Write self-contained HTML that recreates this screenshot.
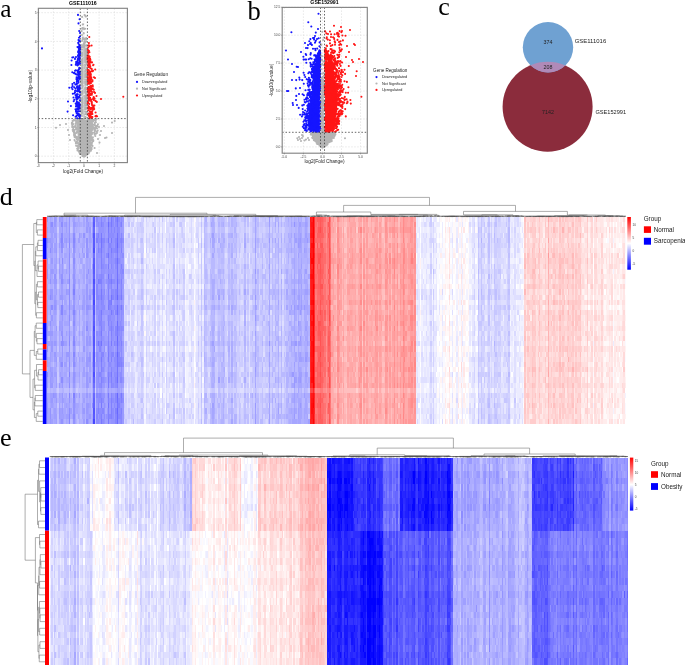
<!DOCTYPE html>
<html><head><meta charset="utf-8"><style>
html,body{margin:0;padding:0;background:#fff;}
svg{display:block;}
</style></head><body>
<svg style="will-change:transform" width="685" height="665" viewBox="0 0 685 665">
<rect width="685" height="665" fill="#fff"/>
<text x="0.2" y="17.1" font-size="25.3" text-anchor="start" fill="#000" font-family="Liberation Serif, serif" >a</text>
<text x="247.6" y="19.6" font-size="26.5" text-anchor="start" fill="#000" font-family="Liberation Serif, serif" >b</text>
<text x="438.2" y="14.7" font-size="26" text-anchor="start" fill="#000" font-family="Liberation Serif, serif" >c</text>
<text x="-0.2" y="204.6" font-size="25.9" text-anchor="start" fill="#000" font-family="Liberation Serif, serif" >d</text>
<text x="0" y="445.9" font-size="26.2" text-anchor="start" fill="#000" font-family="Liberation Serif, serif" >e</text>
<rect x="38.4" y="8.3" width="89.0" height="154.29999999999998" fill="#fff"/>
<line x1="38.150000000000006" y1="8.3" x2="38.150000000000006" y2="162.6" stroke="#d8d8d8" stroke-width="0.6" stroke-dasharray="1.5 1.5"/>
<line x1="53.400000000000006" y1="8.3" x2="53.400000000000006" y2="162.6" stroke="#d8d8d8" stroke-width="0.6" stroke-dasharray="1.5 1.5"/>
<line x1="68.65" y1="8.3" x2="68.65" y2="162.6" stroke="#d8d8d8" stroke-width="0.6" stroke-dasharray="1.5 1.5"/>
<line x1="83.9" y1="8.3" x2="83.9" y2="162.6" stroke="#d8d8d8" stroke-width="0.6" stroke-dasharray="1.5 1.5"/>
<line x1="99.15" y1="8.3" x2="99.15" y2="162.6" stroke="#d8d8d8" stroke-width="0.6" stroke-dasharray="1.5 1.5"/>
<line x1="114.4" y1="8.3" x2="114.4" y2="162.6" stroke="#d8d8d8" stroke-width="0.6" stroke-dasharray="1.5 1.5"/>
<line x1="38.4" y1="156.2" x2="127.4" y2="156.2" stroke="#d8d8d8" stroke-width="0.6" stroke-dasharray="1.5 1.5"/>
<line x1="38.4" y1="127.49999999999999" x2="127.4" y2="127.49999999999999" stroke="#d8d8d8" stroke-width="0.6" stroke-dasharray="1.5 1.5"/>
<line x1="38.4" y1="98.79999999999998" x2="127.4" y2="98.79999999999998" stroke="#d8d8d8" stroke-width="0.6" stroke-dasharray="1.5 1.5"/>
<line x1="38.4" y1="70.1" x2="127.4" y2="70.1" stroke="#d8d8d8" stroke-width="0.6" stroke-dasharray="1.5 1.5"/>
<line x1="38.4" y1="41.39999999999999" x2="127.4" y2="41.39999999999999" stroke="#d8d8d8" stroke-width="0.6" stroke-dasharray="1.5 1.5"/>
<line x1="38.4" y1="12.699999999999989" x2="127.4" y2="12.699999999999989" stroke="#d8d8d8" stroke-width="0.6" stroke-dasharray="1.5 1.5"/>
<polygon points="75.6,119.5 75.8,120.5 76.0,121.5 76.1,122.5 76.3,123.5 76.4,124.5 76.5,125.5 76.7,126.5 76.8,127.5 76.8,128.5 77.0,129.5 77.1,130.5 77.2,131.5 77.3,132.5 77.5,133.5 77.6,134.5 77.7,135.5 77.8,136.5 78.0,137.5 78.1,138.5 78.2,139.5 78.4,140.5 78.6,141.5 78.7,142.5 78.9,143.5 79.1,144.5 79.2,145.5 79.4,146.5 79.6,147.5 79.7,148.5 79.9,149.5 80.2,150.5 80.8,151.5 81.2,152.5 81.8,153.5 82.2,154.5 83.0,155.5 84.9,155.5 85.8,154.5 86.4,153.5 87.0,152.5 87.6,151.5 88.2,150.5 88.6,149.5 88.8,148.5 89.0,147.5 89.2,146.5 89.4,145.5 89.6,144.5 89.8,143.5 90.0,142.5 90.2,141.5 90.4,140.5 90.6,139.5 90.8,138.5 91.1,137.5 91.3,136.5 91.5,135.5 91.8,134.5 92.0,133.5 92.2,132.5 92.5,131.5 92.7,130.5 92.8,129.5 92.9,128.5 92.9,127.5 92.9,126.5 93.0,125.5 93.0,124.5 92.9,123.5 92.8,122.5 92.7,121.5 92.6,120.5 92.6,119.5" fill="#b4b4b4"/>
<path d="M78.8 131.1h0M78.8 143.5h0M82.5 139.2h0M84.4 121.0h0M82.9 120.2h0M76.6 121.5h0M89.9 134.9h0M79.4 123.5h0M90.3 142.6h0M82.9 140.7h0M82.5 155.9h0M82.3 151.4h0M77.6 124.3h0M90.4 130.5h0M86.3 125.7h0M82.7 143.1h0M78.2 139.6h0M78.8 121.1h0M83.4 144.7h0M86.4 130.7h0M81.5 136.0h0M86.4 149.0h0M86.2 128.1h0M90.0 138.8h0M81.8 146.5h0M82.9 156.0h0M88.8 134.7h0M84.5 124.6h0M87.4 120.3h0M85.1 147.9h0M82.6 152.1h0M85.5 145.2h0M83.8 140.8h0M88.5 150.7h0M87.1 136.8h0M88.1 121.1h0M90.7 143.4h0M82.0 150.0h0M87.5 133.5h0M83.4 119.7h0M77.7 125.2h0M89.3 121.0h0M79.9 123.7h0M90.8 133.7h0M83.4 121.9h0M89.9 139.7h0M88.1 149.9h0M83.4 129.4h0M91.3 132.4h0M82.4 155.2h0M79.8 125.5h0M84.6 127.7h0M81.1 141.2h0M82.5 119.0h0M85.9 132.8h0M84.9 155.0h0M86.2 138.4h0M78.7 144.5h0M86.1 153.0h0M86.6 152.0h0M83.1 133.7h0M87.0 122.7h0M76.2 121.2h0M78.6 126.7h0M77.1 131.7h0M77.4 118.8h0M81.9 122.7h0M91.2 119.8h0M79.7 142.1h0M82.1 128.4h0M78.4 132.6h0M88.8 151.1h0M84.3 136.5h0M77.0 122.1h0M80.8 131.8h0M80.8 150.3h0M92.7 119.7h0M79.3 138.9h0M77.6 139.4h0M91.4 138.9h0M85.9 151.6h0M82.5 128.7h0M89.8 125.1h0M88.5 139.0h0M80.0 131.3h0M89.4 149.6h0M87.0 151.2h0M86.8 149.9h0M85.1 127.4h0M76.8 132.3h0M80.0 119.9h0M88.3 128.6h0M83.7 155.1h0M86.8 154.4h0M83.3 155.1h0M79.8 127.2h0M79.4 126.3h0M89.7 142.5h0M84.0 150.7h0M88.2 143.6h0M87.4 122.0h0M86.0 153.4h0M84.0 147.3h0M90.1 125.6h0M90.0 131.4h0M83.6 155.7h0M92.0 134.1h0M80.4 146.3h0M78.1 123.6h0M86.2 153.2h0M90.7 124.4h0M84.4 156.1h0M85.6 132.1h0M75.6 123.8h0M84.5 155.7h0M90.8 138.8h0M90.5 135.3h0M81.3 150.2h0M81.1 128.4h0M86.4 127.9h0M83.4 128.7h0M92.2 123.8h0M84.1 132.2h0M90.0 141.0h0M91.4 134.8h0M85.0 137.9h0M77.4 138.7h0M79.6 135.5h0M89.7 118.9h0M84.3 125.3h0M85.0 146.4h0M85.2 131.2h0M88.5 139.9h0M85.6 122.8h0M80.8 128.2h0M84.4 148.1h0M88.1 140.1h0M83.7 153.5h0M84.4 142.1h0M87.3 138.3h0M85.1 136.0h0M91.3 137.0h0M88.9 145.4h0M82.7 154.6h0M90.7 140.1h0M80.7 150.7h0M83.5 123.4h0M79.5 121.6h0M87.5 121.6h0M88.6 148.6h0M88.7 124.7h0M79.8 143.9h0M87.8 152.3h0M93.0 127.1h0M84.5 133.9h0M84.5 156.4h0M83.5 124.9h0M82.1 138.4h0M81.5 126.2h0M78.6 146.2h0M83.6 139.9h0M80.9 119.5h0M84.5 142.5h0M93.4 121.2h0M89.4 148.8h0M80.1 122.8h0M89.5 120.3h0M78.2 129.1h0M91.3 134.8h0M81.7 149.9h0M92.5 124.5h0M87.2 140.5h0M76.1 122.2h0M83.4 145.0h0M92.6 121.6h0M88.3 142.9h0M91.1 122.0h0M91.1 121.3h0M82.1 136.0h0M90.5 139.8h0M78.2 129.0h0M80.6 138.8h0M78.2 123.0h0M78.6 120.7h0M81.4 130.7h0M81.9 147.7h0M79.7 137.8h0M76.6 132.0h0M76.1 128.3h0M84.9 146.7h0M84.3 126.0h0M81.8 154.3h0M83.5 149.9h0M89.6 137.6h0M84.8 133.7h0M90.3 144.9h0M90.5 131.8h0M86.0 145.7h0M82.2 134.2h0M77.3 120.9h0M88.9 121.5h0M78.8 128.5h0M90.8 122.0h0M85.6 151.9h0M80.3 129.5h0M84.2 129.9h0M83.7 124.8h0M93.2 128.8h0M84.1 155.8h0M93.3 128.1h0M82.3 130.6h0M81.8 118.8h0M84.6 136.8h0M84.9 126.4h0M79.6 119.0h0M82.5 122.2h0M75.2 120.4h0M80.2 130.4h0M84.8 141.1h0M86.1 147.3h0M88.9 146.0h0M81.9 133.6h0M83.1 156.2h0M86.0 146.3h0M90.5 120.5h0M85.1 152.7h0M88.0 146.7h0M85.1 124.1h0M89.5 138.0h0M87.8 149.4h0M89.8 141.0h0M86.7 144.8h0M76.3 127.5h0M82.0 123.9h0M90.8 122.8h0M86.2 140.0h0M86.8 142.6h0M77.0 137.4h0M87.0 149.1h0M85.0 137.9h0M78.8 143.9h0M81.4 146.8h0M80.0 121.6h0M80.8 146.5h0M89.8 146.9h0M82.8 137.6h0M87.4 137.0h0M85.6 147.9h0M78.9 143.2h0M80.1 124.4h0M82.0 147.0h0M77.5 140.4h0M79.9 121.1h0M86.8 144.3h0M81.7 144.5h0M84.0 138.4h0M78.7 136.5h0M81.9 152.8h0M85.2 156.0h0M83.3 119.5h0M89.2 150.0h0M81.0 135.9h0M92.9 126.8h0M86.3 126.8h0M85.1 124.2h0M82.2 155.0h0M84.3 150.0h0M85.7 152.5h0M92.0 127.6h0M77.3 137.3h0M83.9 118.9h0M81.5 135.9h0M81.8 124.1h0M90.8 130.8h0M88.8 118.9h0M80.5 150.7h0M85.3 154.0h0M82.6 153.1h0M83.0 132.9h0M84.0 156.8h0M83.6 132.5h0M76.8 129.3h0M90.7 122.7h0M92.7 129.7h0M80.6 128.3h0M79.9 138.2h0M92.4 133.0h0M86.6 152.4h0M89.8 142.8h0M84.3 154.5h0M78.9 146.1h0M83.7 146.6h0M85.9 147.4h0M76.8 129.7h0M81.8 154.0h0M82.2 136.7h0M89.1 130.1h0M83.2 155.9h0M81.8 143.7h0M82.9 140.0h0M72.4 124.9h0M75.3 126.3h0M74.5 136.8h0M79.8 151.6h0M74.0 135.1h0M72.3 125.8h0M73.1 131.2h0M73.1 127.5h0M76.9 139.4h0M77.0 145.9h0M75.0 133.8h0M74.2 132.4h0M72.5 121.0h0M79.9 153.8h0M75.8 137.0h0M77.6 150.0h0M73.2 128.6h0M74.6 133.3h0M80.5 153.3h0M77.5 150.4h0M73.8 120.0h0M78.8 151.2h0M74.5 140.1h0M76.2 133.0h0M78.5 148.7h0M80.1 154.0h0M72.2 122.7h0M76.1 137.7h0M80.1 152.9h0M77.1 142.2h0M75.3 135.4h0M74.0 120.2h0M75.4 127.2h0M75.9 142.2h0M72.6 123.4h0M76.8 141.8h0M71.9 122.9h0M75.8 137.8h0M73.9 132.8h0M74.7 140.6h0M74.1 129.7h0M80.3 153.5h0M78.5 150.8h0M73.0 127.3h0M80.4 153.6h0M72.7 129.9h0M75.9 136.8h0M74.2 134.0h0M77.6 143.0h0M72.2 127.0h0M74.2 131.0h0M75.9 143.5h0M78.1 147.7h0M74.6 137.1h0M80.1 153.9h0M77.2 148.5h0M74.8 126.8h0M75.8 129.5h0M74.4 136.7h0M73.6 126.9h0M77.7 142.9h0M73.2 124.1h0M75.6 126.5h0M71.9 123.9h0M72.9 121.0h0M79.5 151.3h0M78.2 145.3h0M79.3 152.5h0M75.3 125.5h0M76.1 145.8h0M92.0 142.9h0M94.6 132.3h0M94.0 124.9h0M95.3 128.9h0M87.6 153.4h0M87.5 153.7h0M96.7 131.7h0M90.7 148.6h0M95.6 120.6h0M96.9 132.3h0M95.6 125.8h0M88.8 151.3h0M96.0 133.7h0M90.3 146.6h0M93.9 120.1h0M88.6 152.1h0M92.5 145.9h0M94.7 131.1h0M88.2 153.5h0M97.0 128.3h0M94.9 130.3h0M96.6 118.9h0M89.3 152.0h0M87.8 152.9h0M96.0 127.3h0M88.7 153.4h0M94.1 132.8h0M94.6 134.4h0M88.3 152.4h0M91.6 147.9h0M91.4 148.6h0M92.3 140.8h0M95.2 130.4h0M90.3 147.1h0M97.3 125.9h0M94.2 127.8h0M95.9 120.0h0M97.7 130.6h0M90.9 150.8h0M94.2 128.4h0M95.9 122.3h0M91.7 144.5h0M95.7 127.3h0M93.2 141.3h0M92.4 145.9h0M91.3 142.9h0M90.3 149.2h0M92.8 139.3h0M90.9 145.5h0M95.0 127.8h0M97.9 124.4h0M92.6 139.7h0M96.9 133.1h0M92.9 137.2h0M91.3 148.1h0M86.8 154.7h0M95.3 136.0h0M91.6 149.2h0M94.8 120.3h0M94.7 123.1h0M87.8 154.0h0M88.6 152.5h0M90.3 150.2h0M97.2 128.2h0M87.8 153.0h0M93.3 140.4h0M95.6 126.7h0M94.8 123.9h0M96.5 128.0h0M91.6 142.4h0M112.0 122.6h0M114.7 121.0h0M112.0 133.0h0M106.5 137.5h0M105.0 138.0h0M99.5 142.6h0M94.6 148.0h0M104.0 126.0h0M56.0 127.7h0M60.0 125.0h0M66.0 124.0h0M101.0 131.0h0M97.0 153.0h0M99.0 127.0h0M100.0 135.0h0M68.0 130.0h0M69.0 135.0h0M70.0 140.0h0M98.0 139.0h0M82.7 45.8h0M81.8 94.9h0M81.9 68.0h0M84.2 103.5h0M81.3 49.7h0M84.2 74.1h0M81.2 92.0h0M85.1 57.0h0M82.4 75.2h0M86.8 67.6h0M84.3 68.0h0M83.3 71.3h0M87.1 108.6h0M81.9 71.8h0M81.9 98.6h0M86.5 45.4h0M85.9 76.2h0M86.3 74.9h0M81.7 78.9h0M84.2 46.1h0M86.5 92.2h0M84.6 51.6h0M83.9 72.3h0M82.4 55.7h0M86.6 83.4h0M83.8 53.0h0M86.9 104.2h0M81.4 59.5h0M86.9 114.4h0M80.9 80.5h0M83.1 113.2h0M84.6 111.6h0M81.6 105.7h0M82.0 102.8h0M86.1 74.8h0M81.8 106.0h0M83.2 61.1h0M83.1 83.1h0M82.2 54.1h0M86.4 98.4h0M84.3 48.0h0M80.8 100.7h0M81.4 106.7h0M84.2 89.1h0M82.6 91.2h0M84.4 75.9h0M84.9 76.3h0M83.4 77.9h0M84.6 46.7h0M82.1 81.0h0M85.7 101.2h0M81.8 78.7h0M81.3 79.8h0M83.4 54.5h0M83.5 51.8h0M80.9 82.5h0M81.1 91.8h0M85.7 99.0h0M81.0 82.6h0M83.1 82.1h0M81.5 115.0h0M87.1 108.1h0M85.9 98.9h0M87.0 59.3h0M86.8 81.2h0M81.7 112.4h0M86.6 103.0h0M82.9 49.8h0M81.6 100.7h0M82.4 111.0h0M81.5 105.0h0M86.6 82.0h0M82.3 60.3h0M82.7 82.2h0M81.8 47.7h0M86.7 56.9h0M86.4 95.0h0M85.7 57.4h0M84.0 53.5h0M82.9 91.8h0M84.2 109.2h0M86.3 87.7h0M87.1 52.7h0M83.2 91.4h0M82.3 103.7h0M84.4 117.9h0M85.6 71.5h0M81.7 77.6h0M80.9 99.7h0M82.2 105.3h0M87.0 92.0h0M84.9 88.1h0M80.6 68.0h0M81.6 47.5h0M83.4 90.3h0M86.4 82.7h0M82.1 54.7h0M80.7 93.1h0M82.9 45.2h0M82.9 52.8h0M84.4 61.5h0M81.9 88.4h0M83.7 90.9h0M86.7 54.9h0M81.6 62.9h0M84.7 52.1h0M85.7 109.1h0M82.3 74.6h0M84.8 45.8h0M82.9 86.4h0M83.5 92.5h0M85.4 114.0h0M86.5 63.3h0M84.1 48.2h0M82.1 74.9h0M85.7 49.3h0M84.2 45.9h0M81.5 114.3h0M84.6 59.7h0M84.8 82.3h0M81.7 104.9h0M82.6 67.8h0M86.4 48.6h0M85.3 102.6h0M86.1 45.5h0M83.6 99.8h0M83.5 99.6h0M81.3 61.6h0M80.9 62.1h0M85.5 69.7h0M86.1 96.2h0M82.3 97.4h0M83.4 85.8h0M84.0 103.0h0M84.8 64.5h0M82.0 116.0h0M80.7 109.8h0M82.1 64.2h0M86.7 99.7h0M82.7 99.9h0M82.7 109.8h0M86.5 62.6h0M85.1 91.4h0M87.0 94.0h0M86.1 79.6h0M86.2 96.3h0M85.3 77.2h0M82.6 87.0h0M84.6 60.6h0M86.5 50.7h0M80.8 55.6h0M86.6 52.9h0M81.5 70.4h0M80.9 47.1h0M84.7 96.0h0M85.4 96.3h0M84.4 49.8h0M85.9 71.7h0M86.4 105.3h0M86.2 49.9h0M86.7 112.3h0M81.9 52.9h0M80.8 53.2h0M85.9 107.4h0M86.0 91.7h0M82.5 91.5h0M81.2 52.4h0M81.9 100.7h0M83.4 68.5h0M82.3 46.5h0M85.3 65.8h0M82.7 72.1h0M83.9 116.0h0M84.6 107.7h0M83.3 47.3h0M85.6 77.1h0M85.2 70.5h0M82.0 84.6h0M81.2 108.5h0M81.7 105.3h0M81.9 45.1h0M87.0 101.1h0M83.8 45.3h0M85.8 81.2h0M83.8 58.6h0M86.0 70.6h0M86.7 64.2h0M82.0 65.9h0M83.8 96.5h0M84.7 53.1h0M85.7 51.0h0M85.7 96.3h0M82.9 91.2h0M83.2 74.5h0M81.2 110.5h0M80.8 110.4h0M82.3 60.2h0M83.9 111.3h0M86.3 72.9h0M83.6 62.2h0M85.5 84.1h0M84.8 100.4h0M82.7 70.6h0M86.1 56.4h0M85.4 93.7h0M83.5 57.5h0M84.4 101.9h0M83.6 54.3h0M82.1 110.1h0M82.6 59.1h0M86.1 96.8h0M81.6 56.4h0M82.7 63.2h0M81.6 83.4h0M81.8 69.1h0M85.3 116.8h0M86.9 52.5h0M83.1 52.5h0M85.8 117.4h0M83.4 99.0h0M84.7 59.4h0M81.9 52.9h0M80.8 73.6h0M85.7 74.4h0M83.9 96.0h0M83.6 91.5h0M84.5 55.4h0M85.4 74.8h0M83.4 111.8h0M85.5 87.2h0M82.1 76.0h0M86.3 98.2h0M85.2 102.0h0M85.0 107.7h0M83.6 92.2h0M84.7 68.0h0M83.3 52.2h0M85.2 102.6h0M82.2 91.3h0M83.6 76.2h0M83.3 90.7h0M86.6 94.7h0M84.9 58.5h0M83.1 102.3h0M86.9 81.1h0M84.1 47.8h0M85.7 56.8h0M84.0 114.2h0M84.3 52.4h0M85.3 84.8h0M84.8 82.7h0M84.0 106.0h0M86.8 75.2h0M85.0 60.5h0M85.6 73.9h0M87.0 54.0h0M81.0 71.2h0M83.2 65.2h0M83.3 46.0h0M85.1 76.0h0M82.3 70.9h0M85.4 61.5h0M84.0 114.2h0M85.8 61.1h0M82.0 73.8h0M85.6 54.5h0M84.7 104.6h0M84.3 79.5h0M86.9 61.6h0M84.8 71.0h0M85.9 105.3h0M82.5 79.5h0M81.4 85.4h0M82.9 106.4h0M82.3 107.6h0M82.2 72.7h0M81.8 76.4h0M85.3 45.2h0M82.2 65.7h0M83.7 67.2h0M84.7 76.5h0M83.0 93.5h0M86.2 113.4h0M86.0 49.2h0M85.7 111.7h0M86.0 55.3h0M80.7 91.6h0M86.8 45.8h0M82.2 93.3h0M81.5 52.5h0M85.6 62.2h0M81.6 70.5h0M85.7 111.5h0M86.4 57.4h0M85.7 89.8h0M86.4 94.2h0M86.1 103.0h0M85.1 59.5h0M85.4 84.1h0M86.3 77.3h0M82.3 85.9h0M81.5 62.2h0M81.0 81.3h0M81.5 79.4h0M83.8 81.2h0M86.2 84.7h0M86.1 45.5h0M84.3 79.4h0M86.1 94.0h0M83.3 72.6h0M81.1 115.7h0M84.7 91.9h0M84.6 47.1h0M86.7 95.2h0M87.0 69.3h0M83.8 82.6h0M80.8 111.1h0M84.7 97.9h0M86.2 69.9h0M83.7 71.9h0M85.6 83.7h0M83.4 60.5h0M84.2 76.1h0M82.5 105.8h0M83.2 105.9h0M82.4 82.1h0M86.9 82.3h0M85.7 93.2h0M82.7 69.4h0M84.4 67.0h0M85.4 38.8h0M85.1 28.7h0M84.2 43.1h0M83.0 28.8h0M82.4 28.1h0M84.5 43.7h0M85.4 39.2h0M84.6 43.5h0M84.6 38.5h0M84.5 39.8h0M82.6 39.6h0M83.8 39.3h0M82.0 41.0h0M81.7 31.1h0M86.1 41.2h0M83.3 39.1h0M85.4 42.0h0M82.8 37.6h0M83.6 33.1h0M83.7 33.4h0M86.2 38.9h0M84.3 28.9h0M82.1 28.7h0M84.4 41.8h0M83.7 43.6h0M83.4 28.2h0M86.2 38.1h0M83.9 44.7h0M82.0 35.0h0M82.6 39.0h0M82.1 17.0h0M84.7 15.1h0M85.9 16.6h0M85.5 16.1h0M82.1 16.7h0M83.0 24.4h0M82.7 24.5h0M85.1 15.7h0" stroke="#b4b4b4" stroke-width="2.1" stroke-linecap="round" fill="none" opacity="1"/>
<line x1="83.8" y1="48" x2="83.8" y2="118" stroke="#dcdcdc" stroke-width="0.9" opacity="0.8"/>
<path d="M79.5 97.4h0M76.4 98.6h0M79.0 91.1h0M79.9 78.8h0M80.0 63.6h0M76.1 97.6h0M79.7 46.1h0M76.2 105.0h0M79.3 67.8h0M79.8 57.2h0M77.0 80.7h0M78.8 72.0h0M79.1 77.2h0M79.7 55.6h0M79.0 71.7h0M77.9 91.2h0M79.4 73.3h0M79.1 114.4h0M77.6 86.6h0M80.1 49.5h0M79.4 96.6h0M78.9 69.4h0M79.3 116.7h0M77.6 89.1h0M79.7 76.5h0M79.1 72.6h0M79.7 89.2h0M77.1 104.3h0M79.3 45.1h0M78.8 76.0h0M79.6 104.9h0M79.9 48.1h0M79.5 104.6h0M77.5 87.0h0M79.3 107.5h0M79.8 95.3h0M77.4 70.5h0M79.4 85.6h0M79.5 59.7h0M76.7 113.4h0M78.9 89.5h0M77.5 79.2h0M79.4 63.7h0M77.8 103.1h0M79.8 51.4h0M76.9 101.7h0M79.7 87.5h0M78.0 110.0h0M78.7 80.0h0M78.1 58.9h0M79.4 58.3h0M78.8 71.6h0M78.6 74.5h0M78.0 55.9h0M77.2 118.2h0M79.4 52.8h0M76.6 102.8h0M77.7 88.8h0M76.7 83.1h0M80.1 47.5h0M77.9 108.6h0M77.5 86.6h0M77.7 102.2h0M79.1 114.5h0M79.9 105.1h0M77.5 63.6h0M78.0 59.8h0M78.5 51.1h0M79.6 85.9h0M79.9 78.6h0M76.0 111.8h0M77.9 88.9h0M80.0 53.8h0M78.9 63.9h0M79.9 92.0h0M77.8 94.2h0M77.4 77.9h0M80.1 115.9h0M77.6 61.3h0M78.3 63.8h0M79.7 111.3h0M76.0 106.5h0M78.9 102.7h0M80.0 92.5h0M78.8 49.1h0M79.9 100.4h0M77.4 94.7h0M79.2 88.4h0M78.8 52.7h0M77.7 63.9h0M77.3 80.3h0M77.8 62.5h0M76.3 94.7h0M76.9 97.6h0M80.0 47.6h0M79.9 61.2h0M79.6 108.6h0M78.9 55.3h0M80.0 52.1h0M78.5 106.8h0M78.0 78.2h0M77.9 105.4h0M76.9 91.1h0M77.6 61.3h0M78.3 97.4h0M79.8 55.6h0M78.5 64.6h0M78.5 56.4h0M77.3 106.6h0M78.9 57.3h0M79.8 68.3h0M80.1 53.4h0M79.9 49.2h0M77.1 94.1h0M77.7 80.0h0M77.9 63.9h0M80.1 71.7h0M79.8 118.3h0M78.8 52.2h0M76.0 110.8h0M77.3 98.3h0M75.6 116.8h0M77.3 104.2h0M78.0 55.3h0M78.1 106.1h0M78.7 58.6h0M76.6 111.9h0M77.0 86.9h0M79.5 58.2h0M76.9 97.2h0M78.6 50.8h0M78.2 89.7h0M77.9 65.1h0M79.0 90.0h0M78.3 104.6h0M77.7 59.8h0M77.7 98.8h0M76.3 98.0h0M77.3 104.5h0M79.5 106.8h0M76.8 81.2h0M77.8 111.8h0M76.9 109.0h0M79.7 58.7h0M77.6 71.9h0M78.9 72.2h0M79.6 45.3h0M78.5 77.7h0M79.5 53.9h0M79.5 104.9h0M79.3 68.6h0M79.3 73.0h0M79.9 49.5h0M77.8 115.0h0M78.5 82.7h0M76.7 84.4h0M76.6 116.0h0M77.9 58.4h0M79.6 63.4h0M78.9 47.2h0M76.9 96.3h0M79.6 46.3h0M78.4 87.3h0M76.5 96.6h0M78.9 108.8h0M78.8 48.3h0M78.4 81.2h0M77.6 65.5h0M77.4 74.8h0M79.6 88.4h0M79.2 55.8h0M76.7 99.8h0M79.8 105.6h0M78.3 73.5h0M78.1 106.6h0M79.9 74.0h0M77.4 102.0h0M78.3 62.6h0M80.0 77.0h0M79.7 104.0h0M79.5 104.8h0M79.4 48.9h0M79.8 115.3h0M78.5 63.3h0M77.7 91.4h0M76.9 84.0h0M78.5 76.8h0M79.0 46.5h0M79.1 116.2h0M78.5 113.8h0M70.9 106.0h0M73.4 57.2h0M75.7 95.4h0M72.3 72.2h0M72.5 89.2h0M75.1 70.8h0M69.3 87.8h0M73.9 73.1h0M76.0 74.2h0M75.0 92.4h0M73.1 115.2h0M76.4 84.4h0M75.5 88.6h0M76.1 63.3h0M74.8 73.5h0M75.7 70.3h0M71.6 60.5h0M74.5 93.4h0M75.1 90.9h0M74.3 99.8h0M72.4 84.0h0M75.3 84.5h0M76.9 74.6h0M74.2 87.3h0M76.4 79.1h0M76.6 77.2h0M75.5 109.3h0M72.5 86.0h0M74.4 72.9h0M75.7 103.6h0M71.4 65.0h0M74.1 82.7h0M75.0 58.9h0M73.7 101.3h0M76.2 61.9h0M68.0 101.5h0M75.8 64.7h0M73.5 97.5h0M72.8 93.8h0M71.7 87.6h0M79.6 40.6h0M79.1 40.9h0M79.5 41.3h0M78.4 43.5h0M78.2 42.8h0M79.3 41.0h0M80.0 36.5h0M79.0 37.7h0M79.9 41.3h0M78.0 14.9h0M79.6 19.3h0M78.5 23.4h0M80.0 33.0h0M79.2 31.0h0M79.0 41.0h0M78.5 40.0h0M79.6 45.0h0M77.5 47.0h0M42.0 48.4h0M67.6 111.6h0M78.0 52.0h0M80.0 55.0h0M76.0 57.0h0M72.3 57.5h0M78.7 54.0h0" stroke="#1515ff" stroke-width="2.1" stroke-linecap="round" fill="none" opacity="1"/>
<path d="M89.3 93.5h0M89.5 83.7h0M89.0 100.8h0M89.8 79.8h0M88.8 79.4h0M92.0 104.9h0M89.5 86.7h0M88.6 66.7h0M89.4 64.2h0M88.0 91.9h0M89.4 113.3h0M92.1 108.5h0M88.8 115.8h0M91.2 82.0h0M87.7 55.7h0M89.8 90.8h0M91.9 113.3h0M91.9 89.1h0M89.8 87.8h0M89.5 98.4h0M89.9 77.7h0M91.2 77.3h0M90.1 97.9h0M88.7 61.3h0M89.8 80.4h0M91.5 91.4h0M90.4 116.1h0M90.1 82.9h0M89.6 118.2h0M91.1 88.6h0M88.6 65.8h0M92.4 117.0h0M88.1 87.5h0M91.4 111.7h0M92.8 107.0h0M89.9 111.3h0M88.5 64.9h0M89.8 87.4h0M88.2 66.9h0M90.4 94.9h0M91.3 77.4h0M87.8 95.4h0M90.7 81.1h0M90.1 74.4h0M88.4 55.2h0M90.7 108.4h0M88.5 97.4h0M89.9 86.6h0M89.9 71.9h0M91.9 88.7h0M89.4 91.4h0M88.1 62.7h0M88.1 103.2h0M88.1 61.3h0M91.1 88.1h0M91.3 93.9h0M87.6 58.9h0M89.2 103.9h0M89.3 100.4h0M88.4 65.7h0M90.3 61.3h0M89.2 91.9h0M89.2 83.5h0M90.1 58.5h0M91.9 91.9h0M90.1 82.9h0M87.8 70.8h0M92.4 114.0h0M90.9 75.0h0M89.2 106.7h0M92.0 93.2h0M91.6 86.4h0M88.9 70.4h0M88.7 100.6h0M90.8 74.6h0M90.9 85.7h0M88.2 70.4h0M88.3 77.7h0M89.3 116.6h0M88.1 90.6h0M89.3 88.8h0M87.9 80.6h0M90.1 62.8h0M88.5 77.3h0M88.5 67.1h0M87.7 70.0h0M89.2 97.1h0M89.8 64.9h0M88.4 60.9h0M88.3 107.9h0M91.0 83.1h0M88.4 106.0h0M90.3 77.4h0M91.3 78.9h0M90.7 68.2h0M88.6 87.0h0M88.1 83.7h0M88.9 99.8h0M90.9 112.0h0M88.5 78.3h0M88.6 93.6h0M88.3 110.3h0M89.9 87.5h0M90.3 72.1h0M90.1 79.4h0M89.0 91.0h0M87.9 79.7h0M90.3 66.2h0M90.0 75.4h0M89.3 61.9h0M89.5 77.9h0M87.8 73.8h0M88.4 74.7h0M89.8 63.0h0M89.0 72.9h0M91.9 112.6h0M92.3 111.0h0M88.4 63.4h0M89.4 56.9h0M89.3 97.1h0M90.2 81.2h0M88.8 99.3h0M89.5 108.7h0M88.4 94.9h0M90.4 62.3h0M91.2 101.5h0M87.7 57.6h0M88.2 65.3h0M89.0 74.2h0M88.4 57.5h0M88.4 95.5h0M90.6 108.2h0M88.9 100.4h0M90.4 82.6h0M87.6 77.1h0M91.7 107.9h0M87.8 73.2h0M90.9 109.2h0M88.3 58.0h0M90.0 62.0h0M90.6 68.3h0M88.0 102.5h0M89.5 99.0h0M91.8 102.4h0M87.9 72.8h0M90.0 115.0h0M91.5 114.0h0M91.7 101.8h0M89.7 94.8h0M89.6 58.4h0M89.7 82.2h0M88.3 113.8h0M87.8 103.3h0M91.5 99.6h0M89.5 71.6h0M91.3 116.5h0M88.7 89.5h0M88.6 58.8h0M88.4 81.1h0M88.1 74.7h0M90.9 99.8h0M88.4 70.1h0M89.5 87.7h0M89.6 114.3h0M90.8 74.0h0M89.3 64.0h0M90.6 76.1h0M90.9 89.8h0M89.7 65.7h0M89.7 93.0h0M91.8 103.6h0M88.5 62.3h0M88.4 77.9h0M88.4 58.8h0M89.9 67.5h0M88.1 83.4h0M89.3 75.6h0M88.2 78.0h0M87.6 59.6h0M92.0 117.9h0M89.7 60.3h0M90.9 117.1h0M89.1 61.9h0M88.4 82.5h0M87.6 89.4h0M91.2 113.3h0M91.9 94.8h0M88.8 96.4h0M88.1 70.6h0M89.7 56.8h0M93.4 108.7h0M93.7 97.0h0M94.2 109.1h0M93.4 105.5h0M93.0 108.2h0M93.0 70.7h0M93.8 107.9h0M94.0 92.0h0M92.4 81.4h0M92.0 62.4h0M95.0 92.9h0M95.5 100.9h0M95.6 112.5h0M92.8 89.0h0M91.8 69.1h0M93.5 64.7h0M93.7 99.9h0M95.4 116.2h0M93.1 65.2h0M91.6 71.1h0M96.8 101.9h0M93.1 109.6h0M94.4 105.6h0M93.2 98.4h0M93.8 89.8h0M92.7 85.4h0M94.6 98.6h0M95.2 69.5h0M94.0 77.2h0M92.5 80.2h0M92.7 71.3h0M92.8 86.7h0M97.1 116.3h0M95.8 116.5h0M96.3 115.8h0M88.9 43.1h0M88.2 53.0h0M89.4 52.3h0M88.9 50.7h0M88.3 47.4h0M87.8 57.9h0M88.9 45.4h0M87.9 50.1h0M89.3 37.0h0M89.5 46.0h0M91.6 45.5h0M88.5 51.0h0M89.0 58.0h0M90.5 60.0h0M88.2 56.0h0M101.0 99.0h0M123.3 96.7h0M95.0 78.0h0M96.5 96.0h0" stroke="#ff1515" stroke-width="2.1" stroke-linecap="round" fill="none" opacity="1"/>
<line x1="80.3" y1="8.3" x2="80.3" y2="162.6" stroke="#333" stroke-width="0.75" stroke-dasharray="1.5 1.8"/>
<line x1="87.4" y1="8.3" x2="87.4" y2="162.6" stroke="#333" stroke-width="0.75" stroke-dasharray="1.5 1.8"/>
<line x1="38.4" y1="118.6" x2="127.4" y2="118.6" stroke="#333" stroke-width="0.75" stroke-dasharray="1.5 1.8"/>
<rect x="38.4" y="8.3" width="89.0" height="154.29999999999998" fill="none" stroke="#858585" stroke-width="1.15"/>
<line x1="38.150000000000006" y1="162.6" x2="38.150000000000006" y2="163.79999999999998" stroke="#555" stroke-width="0.4"/>
<text x="38.150000000000006" y="167.2" font-size="3.3" text-anchor="middle" fill="#444" font-family="Liberation Sans, sans-serif" >-3</text>
<line x1="53.400000000000006" y1="162.6" x2="53.400000000000006" y2="163.79999999999998" stroke="#555" stroke-width="0.4"/>
<text x="53.400000000000006" y="167.2" font-size="3.3" text-anchor="middle" fill="#444" font-family="Liberation Sans, sans-serif" >-2</text>
<line x1="68.65" y1="162.6" x2="68.65" y2="163.79999999999998" stroke="#555" stroke-width="0.4"/>
<text x="68.65" y="167.2" font-size="3.3" text-anchor="middle" fill="#444" font-family="Liberation Sans, sans-serif" >-1</text>
<line x1="83.9" y1="162.6" x2="83.9" y2="163.79999999999998" stroke="#555" stroke-width="0.4"/>
<text x="83.9" y="167.2" font-size="3.3" text-anchor="middle" fill="#444" font-family="Liberation Sans, sans-serif" >0</text>
<line x1="99.15" y1="162.6" x2="99.15" y2="163.79999999999998" stroke="#555" stroke-width="0.4"/>
<text x="99.15" y="167.2" font-size="3.3" text-anchor="middle" fill="#444" font-family="Liberation Sans, sans-serif" >1</text>
<line x1="114.4" y1="162.6" x2="114.4" y2="163.79999999999998" stroke="#555" stroke-width="0.4"/>
<text x="114.4" y="167.2" font-size="3.3" text-anchor="middle" fill="#444" font-family="Liberation Sans, sans-serif" >2</text>
<line x1="37.199999999999996" y1="156.2" x2="38.4" y2="156.2" stroke="#555" stroke-width="0.4"/>
<text x="36.6" y="157.39999999999998" font-size="3.3" text-anchor="end" fill="#444" font-family="Liberation Sans, sans-serif" >0</text>
<line x1="37.199999999999996" y1="127.49999999999999" x2="38.4" y2="127.49999999999999" stroke="#555" stroke-width="0.4"/>
<text x="36.6" y="128.7" font-size="3.3" text-anchor="end" fill="#444" font-family="Liberation Sans, sans-serif" >1</text>
<line x1="37.199999999999996" y1="98.79999999999998" x2="38.4" y2="98.79999999999998" stroke="#555" stroke-width="0.4"/>
<text x="36.6" y="99.99999999999999" font-size="3.3" text-anchor="end" fill="#444" font-family="Liberation Sans, sans-serif" >2</text>
<line x1="37.199999999999996" y1="70.1" x2="38.4" y2="70.1" stroke="#555" stroke-width="0.4"/>
<text x="36.6" y="71.3" font-size="3.3" text-anchor="end" fill="#444" font-family="Liberation Sans, sans-serif" >3</text>
<line x1="37.199999999999996" y1="41.39999999999999" x2="38.4" y2="41.39999999999999" stroke="#555" stroke-width="0.4"/>
<text x="36.6" y="42.599999999999994" font-size="3.3" text-anchor="end" fill="#444" font-family="Liberation Sans, sans-serif" >4</text>
<line x1="37.199999999999996" y1="12.699999999999989" x2="38.4" y2="12.699999999999989" stroke="#555" stroke-width="0.4"/>
<text x="36.6" y="13.899999999999988" font-size="3.3" text-anchor="end" fill="#444" font-family="Liberation Sans, sans-serif" >5</text>
<text x="82.9" y="5.3" font-size="5.2" text-anchor="middle" fill="#000" font-family="Liberation Sans, sans-serif" font-weight="bold" >GSE111016</text>
<text x="83" y="172.6" font-size="4.85" text-anchor="middle" fill="#222" font-family="Liberation Sans, sans-serif" >log2(Fold Change)</text>
<text transform="translate(32.3,86.4) rotate(-90)" font-size="4.9" text-anchor="middle" fill="#222" font-family="Liberation Sans, sans-serif">-log10(p-value)</text>
<text x="133.8" y="76.1" font-size="4.55" text-anchor="start" fill="#222" font-family="Liberation Sans, sans-serif" >Gene Regulation</text>
<circle cx="137" cy="81.9" r="1.1" fill="#1515ff"/>
<text x="142" y="83.2" font-size="3.75" text-anchor="start" fill="#222" font-family="Liberation Sans, sans-serif" >Downregulated</text>
<circle cx="137" cy="88.7" r="1.1" fill="#b4b4b4"/>
<text x="142" y="90.0" font-size="3.75" text-anchor="start" fill="#222" font-family="Liberation Sans, sans-serif" >Not Significant</text>
<circle cx="137" cy="95.5" r="1.1" fill="#ff1515"/>
<text x="142" y="96.8" font-size="3.75" text-anchor="start" fill="#222" font-family="Liberation Sans, sans-serif" >Upregulated</text>
<rect x="282.2" y="7.4" width="85.10000000000002" height="145.79999999999998" fill="#fff"/>
<line x1="284.34999999999997" y1="7.4" x2="284.34999999999997" y2="153.2" stroke="#d8d8d8" stroke-width="0.6" stroke-dasharray="1.5 1.5"/>
<line x1="303.4" y1="7.4" x2="303.4" y2="153.2" stroke="#d8d8d8" stroke-width="0.6" stroke-dasharray="1.5 1.5"/>
<line x1="322.45" y1="7.4" x2="322.45" y2="153.2" stroke="#d8d8d8" stroke-width="0.6" stroke-dasharray="1.5 1.5"/>
<line x1="341.5" y1="7.4" x2="341.5" y2="153.2" stroke="#d8d8d8" stroke-width="0.6" stroke-dasharray="1.5 1.5"/>
<line x1="360.55" y1="7.4" x2="360.55" y2="153.2" stroke="#d8d8d8" stroke-width="0.6" stroke-dasharray="1.5 1.5"/>
<line x1="282.2" y1="146.9" x2="367.3" y2="146.9" stroke="#d8d8d8" stroke-width="0.6" stroke-dasharray="1.5 1.5"/>
<line x1="282.2" y1="118.97500000000001" x2="367.3" y2="118.97500000000001" stroke="#d8d8d8" stroke-width="0.6" stroke-dasharray="1.5 1.5"/>
<line x1="282.2" y1="91.05000000000001" x2="367.3" y2="91.05000000000001" stroke="#d8d8d8" stroke-width="0.6" stroke-dasharray="1.5 1.5"/>
<line x1="282.2" y1="63.125" x2="367.3" y2="63.125" stroke="#d8d8d8" stroke-width="0.6" stroke-dasharray="1.5 1.5"/>
<line x1="282.2" y1="35.2" x2="367.3" y2="35.2" stroke="#d8d8d8" stroke-width="0.6" stroke-dasharray="1.5 1.5"/>
<line x1="282.2" y1="7.275000000000006" x2="367.3" y2="7.275000000000006" stroke="#d8d8d8" stroke-width="0.6" stroke-dasharray="1.5 1.5"/>
<polygon points="311.2,133.0 311.4,134.0 311.7,135.0 312.0,136.0 312.6,137.0 313.2,138.0 313.9,139.0 314.5,140.0 315.4,141.0 316.2,142.0 317.1,143.0 318.0,144.0 319.4,145.0 320.9,146.0 321.6,146.5 323.7,146.5 324.6,146.0 326.3,145.0 328.0,144.0 329.0,143.0 330.0,142.0 331.0,141.0 332.0,140.0 332.5,139.0 333.0,138.0 333.5,137.0 334.0,136.0 334.3,135.0 334.6,134.0 334.8,133.0" fill="#b4b4b4"/>
<polygon points="321.3,85.0 321.3,86.0 321.3,87.0 321.3,88.0 321.3,89.0 321.3,90.0 321.3,91.0 321.3,92.0 321.3,93.0 321.3,94.0 321.3,95.0 321.3,96.0 321.3,97.0 321.3,98.0 321.3,99.0 321.3,100.0 321.3,101.0 321.3,102.0 321.3,103.0 321.3,104.0 321.3,105.0 321.3,106.0 321.3,107.0 321.3,108.0 321.3,109.0 321.3,110.0 321.3,111.0 321.3,112.0 321.3,113.0 321.3,114.0 321.3,115.0 321.3,116.0 321.3,117.0 321.3,118.0 321.3,119.0 321.3,120.0 321.3,121.0 321.3,122.0 321.3,123.0 321.3,124.0 321.3,125.0 321.3,126.0 321.3,127.0 321.3,128.0 321.3,129.0 321.3,130.0 321.3,131.0 321.3,132.0 321.3,132.4 323.6,132.4 323.6,132.0 323.6,131.0 323.6,130.0 323.6,129.0 323.6,128.0 323.6,127.0 323.6,126.0 323.6,125.0 323.6,124.0 323.6,123.0 323.6,122.0 323.6,121.0 323.6,120.0 323.6,119.0 323.6,118.0 323.6,117.0 323.6,116.0 323.6,115.0 323.6,114.0 323.6,113.0 323.6,112.0 323.6,111.0 323.6,110.0 323.6,109.0 323.6,108.0 323.6,107.0 323.6,106.0 323.6,105.0 323.6,104.0 323.6,103.0 323.6,102.0 323.6,101.0 323.6,100.0 323.6,99.0 323.6,98.0 323.6,97.0 323.6,96.0 323.6,95.0 323.6,94.0 323.6,93.0 323.6,92.0 323.6,91.0 323.6,90.0 323.6,89.0 323.6,88.0 323.6,87.0 323.6,86.0 323.6,85.0" fill="#b4b4b4"/>
<polygon points="317.0,62.0 316.8,63.0 316.5,64.0 316.2,65.0 316.0,66.0 315.8,67.0 315.5,68.0 315.2,69.0 315.0,70.0 314.9,71.0 314.7,72.0 314.6,73.0 314.4,74.0 314.2,75.0 314.1,76.0 313.9,77.0 313.8,78.0 313.6,79.0 313.5,80.0 313.4,81.0 313.3,82.0 313.2,83.0 313.1,84.0 313.0,85.0 312.9,86.0 312.8,87.0 312.7,88.0 312.6,89.0 312.5,90.0 312.4,91.0 312.2,92.0 312.1,93.0 311.9,94.0 311.8,95.0 311.6,96.0 311.4,97.0 311.3,98.0 311.1,99.0 311.0,100.0 310.8,101.0 310.6,102.0 310.4,103.0 310.2,104.0 310.0,105.0 309.8,106.0 309.6,107.0 309.4,108.0 309.2,109.0 309.0,110.0 308.9,111.0 308.8,112.0 308.7,113.0 308.6,114.0 308.5,115.0 308.4,116.0 308.3,117.0 308.2,118.0 308.1,119.0 308.0,120.0 308.1,121.0 308.1,122.0 308.2,123.0 308.2,124.0 308.3,125.0 308.4,126.0 308.4,127.0 308.5,128.0 309.0,129.0 309.4,130.0 309.9,131.0 310.1,131.5 319.8,131.5 319.8,131.0 319.8,130.0 319.8,129.0 319.8,128.0 319.8,127.0 319.8,126.0 319.8,125.0 319.8,124.0 319.8,123.0 319.8,122.0 319.8,121.0 319.8,120.0 319.8,119.0 319.8,118.0 319.8,117.0 319.8,116.0 319.8,115.0 319.8,114.0 319.8,113.0 319.8,112.0 319.8,111.0 319.8,110.0 319.8,109.0 319.8,108.0 319.8,107.0 319.8,106.0 319.8,105.0 319.8,104.0 319.8,103.0 319.8,102.0 319.8,101.0 319.8,100.0 319.8,99.0 319.8,98.0 319.8,97.0 319.8,96.0 319.8,95.0 319.8,94.0 319.8,93.0 319.8,92.0 319.8,91.0 319.8,90.0 319.8,89.0 319.8,88.0 319.8,87.0 319.8,86.0 319.8,85.0 319.8,84.0 319.8,83.0 319.8,82.0 319.8,81.0 319.8,80.0 319.8,79.0 319.8,78.0 319.8,77.0 319.8,76.0 319.8,75.0 319.8,74.0 319.8,73.0 319.8,72.0 319.8,71.0 319.8,70.0 319.8,69.0 319.8,68.0 319.8,67.0 319.8,66.0 319.8,65.0 319.8,64.0 319.8,63.0 319.8,62.0" fill="#1515ff"/>
<polygon points="325.1,62.0 325.1,63.0 325.1,64.0 325.1,65.0 325.1,66.0 325.1,67.0 325.1,68.0 325.1,69.0 325.1,70.0 325.1,71.0 325.1,72.0 325.1,73.0 325.1,74.0 325.1,75.0 325.1,76.0 325.1,77.0 325.1,78.0 325.1,79.0 325.1,80.0 325.1,81.0 325.1,82.0 325.1,83.0 325.1,84.0 325.1,85.0 325.1,86.0 325.1,87.0 325.1,88.0 325.1,89.0 325.1,90.0 325.1,91.0 325.1,92.0 325.1,93.0 325.1,94.0 325.1,95.0 325.1,96.0 325.1,97.0 325.1,98.0 325.1,99.0 325.1,100.0 325.1,101.0 325.1,102.0 325.1,103.0 325.1,104.0 325.1,105.0 325.1,106.0 325.1,107.0 325.1,108.0 325.1,109.0 325.1,110.0 325.1,111.0 325.1,112.0 325.1,113.0 325.1,114.0 325.1,115.0 325.1,116.0 325.1,117.0 325.1,118.0 325.1,119.0 325.1,120.0 325.1,121.0 325.1,122.0 325.1,123.0 325.1,124.0 325.1,125.0 325.1,126.0 325.1,127.0 325.1,128.0 325.1,129.0 325.1,130.0 325.1,131.0 325.1,131.5 333.7,131.5 333.8,131.0 334.0,130.0 334.1,129.0 334.3,128.0 334.4,127.0 334.6,126.0 334.8,125.0 334.9,124.0 335.1,123.0 335.2,122.0 335.4,121.0 335.5,120.0 335.6,119.0 335.8,118.0 335.9,117.0 336.1,116.0 336.2,115.0 336.4,114.0 336.6,113.0 336.7,112.0 336.9,111.0 337.0,110.0 337.1,109.0 337.1,108.0 337.1,107.0 337.2,106.0 337.2,105.0 337.3,104.0 337.4,103.0 337.4,102.0 337.4,101.0 337.5,100.0 337.4,99.0 337.4,98.0 337.4,97.0 337.3,96.0 337.2,95.0 337.2,94.0 337.1,93.0 337.1,92.0 337.1,91.0 337.0,90.0 336.8,89.0 336.6,88.0 336.4,87.0 336.2,86.0 336.0,85.0 335.8,84.0 335.6,83.0 335.4,82.0 335.2,81.0 335.0,80.0 334.8,79.0 334.7,78.0 334.5,77.0 334.3,76.0 334.2,75.0 334.0,74.0 333.8,73.0 333.7,72.0 333.5,71.0 333.3,70.0 333.2,69.0 333.0,68.0 332.8,67.0 332.7,66.0 332.5,65.0 332.1,64.0 331.7,63.0 331.3,62.0" fill="#ff1515"/>
<path d="M321.2 142.4h0M321.7 141.2h0M324.4 140.5h0M314.9 138.4h0M332.5 135.1h0M316.2 140.7h0M321.0 145.5h0M323.8 133.8h0M322.8 136.2h0M318.3 140.8h0M316.4 141.1h0M324.9 140.2h0M320.7 133.6h0M321.5 133.5h0M323.1 145.5h0M326.5 143.3h0M335.3 134.1h0M317.8 143.4h0M321.9 145.0h0M334.3 135.0h0M328.1 141.0h0M329.9 134.5h0M316.3 133.3h0M312.6 138.1h0M318.3 141.4h0M327.8 137.0h0M331.2 138.9h0M329.1 141.8h0M330.6 141.0h0M320.5 145.6h0M321.0 143.7h0M325.2 144.0h0M319.5 144.9h0M328.3 138.1h0M323.3 146.8h0M325.7 133.1h0M324.2 133.9h0M319.0 144.6h0M323.4 146.5h0M315.7 136.3h0M330.1 139.2h0M316.5 141.2h0M312.9 132.7h0M319.7 144.6h0M319.4 140.8h0M321.4 142.8h0M332.3 134.6h0M326.7 140.6h0M327.3 144.7h0M318.9 132.6h0M323.0 134.7h0M324.8 145.7h0M314.8 132.9h0M324.6 144.8h0M322.6 138.4h0M331.5 134.8h0M331.1 138.4h0M316.2 141.7h0M316.7 137.4h0M323.2 146.0h0M314.5 133.1h0M322.4 137.9h0M321.2 141.2h0M312.2 137.8h0M320.3 141.2h0M322.0 132.7h0M321.9 147.4h0M327.2 134.6h0M317.7 136.5h0M318.6 140.0h0M323.7 141.0h0M323.9 146.9h0M324.6 132.9h0M327.3 144.1h0M324.5 144.2h0M321.0 142.0h0M329.9 136.7h0M325.7 145.7h0M320.3 142.8h0M325.9 144.0h0M325.8 140.1h0M324.2 137.7h0M313.9 138.6h0M319.2 137.5h0M322.5 147.4h0M317.5 138.0h0M319.4 136.0h0M310.8 134.5h0M322.4 145.6h0M324.6 139.2h0M315.5 137.0h0M317.9 133.4h0M328.2 137.1h0M331.1 140.8h0M332.5 137.6h0M316.0 141.3h0M325.0 135.1h0M322.3 147.4h0M322.2 144.2h0M319.8 145.6h0M331.1 139.8h0M317.4 136.6h0M314.3 132.8h0M327.8 136.5h0M320.6 135.7h0M325.5 135.4h0M323.8 145.5h0M328.7 135.4h0M322.8 147.0h0M330.8 133.6h0M321.7 145.7h0M315.3 134.5h0M330.1 140.6h0M329.7 142.1h0M318.8 135.6h0M324.9 143.8h0M326.9 138.6h0M313.2 137.5h0M313.6 138.7h0M320.5 141.9h0M325.2 139.9h0M322.2 136.3h0M334.0 132.6h0M331.8 141.0h0M325.9 133.3h0M320.8 143.4h0M314.3 133.8h0M329.6 134.6h0M330.9 133.8h0M324.0 138.8h0M324.1 141.3h0M324.6 142.4h0M328.5 137.4h0M328.0 136.3h0M326.3 144.0h0M329.3 137.1h0M322.5 147.3h0M323.6 136.6h0M321.3 146.7h0M322.4 132.5h0M327.2 142.4h0M333.8 137.9h0M329.2 135.9h0M311.1 133.8h0M312.1 134.4h0M324.3 140.0h0M333.8 135.2h0M315.5 138.0h0M328.8 135.1h0M321.2 146.4h0M330.2 132.8h0M334.5 136.1h0M325.9 140.0h0M329.8 137.6h0M319.7 139.4h0M320.6 146.1h0M317.4 143.5h0M321.6 142.2h0M319.6 145.5h0M321.6 141.0h0M324.7 146.4h0M318.7 141.9h0M317.4 136.2h0M317.6 139.0h0M329.3 135.5h0M320.0 142.2h0M322.2 147.5h0M317.2 141.1h0M325.5 145.5h0M328.9 136.5h0M320.9 144.9h0M322.8 137.4h0M320.7 145.9h0M324.5 142.8h0M324.8 139.3h0M320.9 145.8h0M321.9 145.8h0M327.0 144.3h0M331.9 135.2h0M322.3 147.5h0M313.0 132.8h0M321.6 147.2h0M321.0 146.3h0M317.9 143.6h0M327.5 135.0h0M319.0 133.8h0M323.7 146.4h0M325.8 145.8h0M316.2 132.9h0M324.9 144.4h0M323.1 133.0h0M321.3 135.9h0M310.9 134.0h0M322.3 147.5h0M320.3 145.8h0M316.1 139.8h0M316.5 138.9h0M318.1 142.8h0M323.0 143.6h0M319.3 134.1h0M331.4 139.9h0M316.8 137.7h0M323.4 147.1h0M320.1 143.5h0M317.2 135.1h0M311.4 133.4h0M321.5 140.1h0M320.7 140.9h0M327.9 132.6h0M323.8 142.3h0M326.6 140.7h0M323.1 147.3h0M321.7 143.3h0M321.2 137.2h0M322.3 147.2h0M321.2 138.3h0M335.4 134.6h0M325.8 132.5h0M321.6 146.5h0M321.1 141.7h0M315.8 136.1h0M331.6 134.2h0M327.5 144.3h0M328.0 133.2h0M326.4 137.3h0M319.9 140.7h0M321.5 147.2h0M327.4 143.7h0M325.0 140.2h0M322.2 147.5h0M327.0 142.0h0M327.7 138.2h0M323.7 138.4h0M326.0 141.7h0M326.0 137.3h0M318.2 140.7h0M319.3 141.7h0M322.5 146.2h0M323.3 143.4h0M317.7 139.6h0M333.6 134.6h0M323.7 140.4h0M329.1 140.4h0M315.1 136.0h0M322.5 144.9h0M328.2 142.1h0M324.8 146.0h0M320.0 133.1h0M325.6 145.0h0M314.4 134.3h0M313.6 136.2h0M329.8 137.8h0M322.3 140.3h0M320.4 133.7h0M322.7 147.6h0M322.8 139.2h0M325.6 144.5h0M327.5 134.7h0M323.6 138.0h0M319.9 136.0h0M320.5 137.6h0M315.3 132.7h0M315.4 141.1h0M328.3 135.1h0M318.9 136.6h0M331.0 136.1h0M326.4 133.8h0M320.6 145.5h0M329.3 138.8h0M321.1 141.8h0M321.5 133.1h0M327.8 138.0h0M320.9 136.9h0M327.9 142.3h0M320.6 137.8h0M330.5 141.2h0M334.5 135.3h0M321.3 143.2h0M320.6 142.5h0M329.5 133.5h0M323.7 138.2h0M331.1 139.9h0M317.2 143.9h0M322.5 141.4h0M330.1 139.4h0M322.6 138.7h0M322.4 145.9h0M323.5 139.9h0M324.4 144.9h0M321.8 143.7h0M327.6 133.0h0M328.0 140.8h0M318.5 144.1h0M312.8 135.8h0M319.1 144.8h0M329.4 133.7h0M315.3 141.0h0M326.1 142.8h0M314.4 139.7h0M321.9 142.9h0M331.7 141.3h0M326.4 144.8h0M318.9 134.6h0M313.9 140.3h0M322.2 147.4h0M318.6 136.4h0M331.5 136.3h0M323.4 140.8h0M313.8 138.8h0M331.4 137.0h0M326.5 144.6h0M316.0 136.3h0M323.9 133.2h0M322.4 138.1h0M324.9 139.8h0M329.7 138.0h0M333.2 135.4h0M315.2 140.9h0M323.8 137.2h0M324.5 138.6h0M318.0 137.3h0M320.8 144.5h0M327.1 143.2h0M322.4 141.4h0M322.4 146.6h0M319.9 145.7h0M326.1 139.0h0M332.3 133.1h0M325.4 133.5h0M333.3 135.1h0M328.5 140.9h0M326.6 140.0h0M320.1 142.7h0M331.2 135.6h0M333.3 134.6h0M313.3 135.5h0M330.2 133.8h0M322.3 146.9h0M319.5 142.4h0M323.7 146.2h0M312.1 134.8h0M316.7 143.0h0M321.1 145.1h0M325.0 135.9h0M324.4 137.2h0M333.2 134.7h0M330.8 137.3h0M330.4 134.7h0M322.4 147.3h0M319.9 132.9h0M297.3 138.3h0M299.0 137.0h0M300.0 139.0h0M302.0 138.0h0M303.0 136.0h0M306.0 139.5h0M308.0 138.0h0M302.0 135.0h0M304.5 140.5h0M301.0 141.0h0M309.0 140.0h0M345.0 138.3h0M298.0 140.0h0M321.5 111.8h0M321.0 106.3h0M323.2 101.7h0M323.1 99.7h0M323.6 81.6h0M323.9 82.0h0M324.0 132.2h0M321.7 105.2h0M323.3 95.0h0M324.0 103.5h0M322.4 80.3h0M322.8 124.6h0M321.0 106.0h0M321.6 83.0h0M323.7 126.3h0M323.9 88.0h0M322.8 76.9h0M321.9 130.5h0M323.0 129.2h0M321.9 77.9h0M321.6 100.8h0M321.3 117.6h0M321.7 120.2h0M322.7 79.0h0M322.6 80.5h0M322.8 120.2h0M320.8 101.5h0M321.0 104.5h0M321.2 112.1h0M321.9 108.2h0M323.0 96.5h0M321.3 84.4h0M321.9 129.0h0M323.8 123.3h0M321.2 102.6h0M323.8 80.4h0M322.4 81.7h0M321.1 105.8h0M321.3 101.9h0M322.5 105.7h0M321.4 96.1h0M321.4 98.2h0M321.5 82.3h0M322.5 125.0h0M320.8 126.1h0M322.4 129.1h0M322.7 120.4h0M321.5 114.5h0M321.2 118.1h0M320.8 90.2h0M322.5 97.6h0M323.8 91.8h0M322.7 79.8h0M322.8 88.4h0M323.2 120.0h0M321.6 78.6h0M324.1 109.4h0M322.9 77.4h0M323.6 114.7h0M323.5 94.6h0M323.9 101.5h0M324.0 75.6h0M322.1 98.6h0M321.6 80.1h0M323.1 117.1h0M321.9 83.7h0M321.4 83.1h0M321.9 87.6h0M324.2 131.0h0M322.4 120.4h0M323.4 103.5h0M323.3 127.1h0M321.4 111.5h0M323.7 110.9h0M321.0 120.2h0M321.9 116.2h0M324.1 84.3h0M323.3 113.6h0M323.6 82.7h0M323.9 128.8h0M323.6 117.8h0M322.8 121.0h0M323.6 100.0h0M323.7 120.0h0M324.1 92.2h0M324.0 105.5h0M324.1 81.6h0M321.6 120.2h0M321.5 123.1h0M322.3 86.4h0M322.4 88.6h0M323.1 127.1h0M322.1 115.8h0M323.5 120.0h0M324.0 114.2h0M322.1 122.4h0M323.0 80.0h0M321.9 123.0h0M323.6 109.1h0M320.7 120.5h0M320.8 103.1h0M323.5 81.3h0M322.8 99.0h0M321.9 101.3h0M321.9 87.3h0M322.9 123.5h0M321.0 91.8h0M323.2 90.6h0M323.0 100.4h0M321.1 121.3h0M320.8 114.2h0M321.3 122.2h0M324.1 90.6h0M321.5 95.8h0M322.8 126.1h0M322.1 126.3h0M324.0 103.7h0M324.2 104.1h0M323.6 85.9h0M322.5 84.3h0M321.3 45.0h0M322.3 73.4h0M321.6 69.3h0M321.1 55.6h0M323.7 61.6h0M322.0 60.4h0M323.8 72.9h0M321.0 65.0h0M322.3 63.7h0M322.0 73.7h0M322.9 64.8h0M322.5 56.3h0M323.9 65.3h0M322.0 59.9h0M320.9 44.3h0M323.1 40.0h0M322.3 31.7h0M323.8 37.5h0" stroke="#b4b4b4" stroke-width="2.1" stroke-linecap="round" fill="none" opacity="1"/>
<path d="M317.1 109.9h0M319.0 52.9h0M320.1 61.3h0M308.7 123.3h0M315.8 98.3h0M318.9 53.8h0M315.7 111.4h0M318.6 73.1h0M316.9 73.9h0M320.1 84.6h0M318.1 103.3h0M312.9 105.6h0M316.6 129.2h0M311.5 106.8h0M318.1 63.3h0M317.5 117.9h0M313.3 78.5h0M319.1 92.4h0M319.0 63.3h0M316.6 64.0h0M318.5 54.4h0M320.0 81.5h0M309.9 129.1h0M319.9 75.4h0M316.3 66.2h0M312.4 86.0h0M316.1 71.4h0M320.0 81.7h0M314.7 71.9h0M312.9 124.7h0M315.3 118.8h0M311.3 114.0h0M319.1 62.5h0M316.3 88.7h0M317.4 105.1h0M315.7 72.6h0M314.0 125.4h0M317.6 73.7h0M318.7 71.3h0M319.9 53.4h0M313.7 96.6h0M310.5 127.3h0M314.0 70.0h0M317.8 95.1h0M313.3 105.7h0M308.4 116.4h0M317.6 75.2h0M315.7 129.5h0M317.6 106.9h0M319.8 82.4h0M311.8 111.0h0M318.6 82.3h0M313.7 78.7h0M313.9 121.6h0M317.1 92.8h0M308.6 124.1h0M312.8 77.8h0M316.0 84.0h0M315.7 120.0h0M314.1 97.5h0M312.8 97.2h0M317.4 119.4h0M308.7 118.9h0M317.4 105.2h0M319.3 91.1h0M316.8 123.9h0M315.5 117.5h0M308.4 122.2h0M316.6 107.9h0M312.4 100.3h0M319.1 55.5h0M310.4 117.8h0M315.5 67.5h0M319.1 57.7h0M317.9 130.1h0M317.8 79.6h0M319.8 55.9h0M312.5 76.7h0M310.7 101.7h0M313.5 72.6h0M316.3 86.6h0M307.4 116.4h0M308.2 118.0h0M317.9 68.5h0M315.0 78.0h0M312.2 96.7h0M309.8 115.2h0M317.7 119.0h0M310.7 94.1h0M307.5 114.0h0M314.8 91.5h0M319.2 55.2h0M315.0 109.6h0M316.1 82.9h0M312.1 98.4h0M320.2 121.3h0M319.8 116.1h0M320.2 77.1h0M318.7 55.9h0M317.8 61.0h0M316.8 106.1h0M314.4 87.4h0M316.9 65.6h0M314.4 73.2h0M314.1 110.5h0M313.2 86.1h0M310.4 107.8h0M317.2 71.8h0M320.0 107.6h0M319.6 111.5h0M316.6 125.6h0M308.5 109.1h0M314.4 66.9h0M316.5 121.0h0M312.1 101.8h0M313.5 79.2h0M320.2 102.0h0M313.1 75.1h0M316.8 64.4h0M317.6 123.9h0M312.2 87.4h0M317.0 58.8h0M313.3 113.9h0M319.3 131.4h0M313.3 115.3h0M308.5 117.6h0M318.6 58.9h0M312.7 91.8h0M313.5 70.7h0M316.4 124.7h0M320.0 127.7h0M317.9 85.9h0M318.7 81.6h0M308.4 119.2h0M319.3 51.1h0M313.8 98.1h0M320.1 50.8h0M313.2 114.6h0M320.1 53.6h0M311.1 93.9h0M317.4 76.6h0M313.3 122.8h0M311.3 102.6h0M319.7 70.0h0M312.7 81.5h0M311.0 98.6h0M317.1 66.4h0M316.5 98.1h0M313.3 108.1h0M319.5 55.6h0M318.9 54.4h0M317.5 82.9h0M310.8 108.7h0M316.8 103.4h0M312.4 88.8h0M314.9 124.7h0M318.1 55.2h0M311.2 131.1h0M318.5 82.2h0M315.3 117.7h0M307.9 111.0h0M320.2 57.7h0M307.4 116.0h0M318.5 54.0h0M309.8 126.5h0M319.5 105.2h0M319.4 102.5h0M314.3 71.6h0M320.0 51.5h0M320.2 58.5h0M310.2 108.4h0M309.1 116.3h0M311.7 92.1h0M318.8 114.7h0M306.9 125.3h0M314.2 120.0h0M313.6 117.5h0M315.8 101.0h0M308.0 115.7h0M319.1 54.5h0M315.8 73.9h0M320.0 50.6h0M320.0 52.0h0M313.0 116.7h0M318.8 60.0h0M316.8 67.0h0M320.2 59.1h0M313.8 94.9h0M319.3 57.7h0M318.2 119.8h0M317.9 58.3h0M318.5 74.9h0M318.4 62.2h0M317.5 130.4h0M319.3 50.6h0M319.0 59.3h0M315.2 99.2h0M314.9 87.5h0M316.5 100.2h0M316.7 125.3h0M319.1 115.5h0M316.4 118.8h0M319.7 52.5h0M312.5 119.9h0M309.1 122.2h0M312.9 127.5h0M311.0 108.1h0M315.4 74.7h0M313.2 76.7h0M320.1 86.4h0M319.5 103.8h0M318.2 112.7h0M317.4 131.7h0M314.9 72.5h0M311.8 83.9h0M319.6 69.0h0M311.3 125.7h0M317.3 113.3h0M317.5 123.1h0M311.5 93.7h0M311.0 117.9h0M313.3 101.5h0M320.0 94.2h0M317.9 63.2h0M315.0 103.4h0M312.4 127.1h0M316.1 125.1h0M308.8 129.5h0M315.9 67.5h0M307.0 124.5h0M318.3 71.4h0M310.6 131.4h0M317.5 86.0h0M317.2 106.8h0M310.5 111.9h0M313.5 71.1h0M310.7 106.8h0M320.1 71.3h0M315.6 102.9h0M315.6 103.9h0M311.8 107.1h0M317.6 55.3h0M319.5 51.2h0M316.1 61.7h0M320.0 90.6h0M311.5 106.5h0M309.5 113.2h0M317.7 58.2h0M317.6 83.6h0M317.9 86.6h0M320.1 57.8h0M319.0 78.1h0M320.0 52.5h0M319.4 68.6h0M315.9 116.0h0M313.1 72.8h0M319.8 65.6h0M318.6 63.0h0M316.7 98.2h0M315.6 64.8h0M320.2 58.0h0M317.4 81.5h0M312.3 96.8h0M317.4 55.3h0M308.3 120.1h0M312.2 129.2h0M309.4 109.4h0M310.4 114.8h0M316.3 80.1h0M317.3 59.2h0M310.8 115.4h0M318.3 81.3h0M315.1 68.4h0M316.4 68.0h0M317.3 80.0h0M319.1 88.8h0M319.5 54.2h0M309.8 118.8h0M319.3 52.4h0M318.1 59.5h0M309.0 108.5h0M318.1 59.7h0M316.2 64.3h0M312.4 86.2h0M318.4 55.6h0M319.7 88.6h0M310.9 95.6h0M318.7 68.3h0M319.0 96.3h0M318.5 129.1h0M320.1 59.0h0M312.9 93.1h0M319.6 64.0h0M314.6 67.5h0M319.8 71.8h0M317.9 87.9h0M318.6 56.1h0M314.2 76.1h0M312.8 104.5h0M320.2 59.8h0M312.7 89.6h0M319.9 50.9h0M310.9 92.3h0M317.9 88.7h0M312.7 94.2h0M316.6 91.0h0M310.5 103.5h0M319.6 116.1h0M318.5 110.9h0M319.5 80.2h0M316.0 64.9h0M319.2 99.2h0M317.7 56.7h0M319.2 53.0h0M316.5 61.5h0M314.9 111.6h0M312.3 127.2h0M308.5 105.8h0M310.1 128.0h0M315.8 89.2h0M313.5 128.0h0M315.9 131.5h0M319.3 67.8h0M320.3 66.6h0M313.3 87.5h0M311.6 129.0h0M314.6 83.5h0M308.8 105.0h0M313.3 80.7h0M306.7 118.1h0M312.3 99.9h0M316.3 87.3h0M309.5 108.5h0M314.4 69.8h0M309.4 128.9h0M318.1 61.3h0M319.1 97.8h0M318.3 54.7h0M318.1 63.8h0M315.0 87.2h0M315.7 123.0h0M319.7 120.7h0M319.9 72.1h0M312.1 83.5h0M308.2 125.2h0M319.3 51.4h0M320.1 73.8h0M312.4 121.6h0M318.8 93.5h0M315.6 116.3h0M311.8 92.2h0M318.0 70.0h0M318.2 98.2h0M319.8 123.9h0M315.0 65.8h0M314.5 123.8h0M318.6 64.9h0M315.0 71.0h0M316.3 80.1h0M309.2 105.7h0M315.5 110.9h0M317.3 88.8h0M307.1 115.7h0M317.3 89.1h0M315.9 108.3h0M320.1 64.8h0M310.1 114.6h0M319.9 85.4h0M316.7 67.0h0M319.0 129.0h0M318.6 69.1h0M317.5 79.6h0M308.9 113.0h0M315.3 68.3h0M313.5 71.9h0M317.6 61.2h0M312.2 84.6h0M319.7 97.9h0M313.6 97.4h0M313.3 107.9h0M317.5 64.4h0M319.9 51.4h0M317.1 63.2h0M317.3 129.1h0M315.4 118.7h0M317.0 102.2h0M310.1 129.4h0M311.1 113.0h0M319.1 71.0h0M318.7 99.4h0M314.7 121.9h0M314.5 66.3h0M317.6 94.0h0M313.6 72.4h0M319.5 50.4h0M308.1 107.2h0M315.5 68.9h0M320.1 108.5h0M319.0 51.6h0M319.9 126.8h0M317.1 62.2h0M313.7 92.9h0M315.7 84.3h0M313.7 71.3h0M317.5 56.9h0M319.0 57.5h0M311.3 107.3h0M316.7 115.1h0M316.2 78.1h0M319.9 65.5h0M310.6 96.1h0M318.8 62.7h0M317.9 81.7h0M319.0 68.9h0M308.2 115.9h0M311.8 98.2h0M317.9 108.2h0M310.1 115.0h0M319.1 57.7h0M311.5 96.4h0M317.9 65.8h0M318.9 58.9h0M315.3 69.8h0M316.2 84.8h0M308.0 109.5h0M310.4 109.5h0M317.6 73.9h0M315.6 106.8h0M309.5 124.1h0M317.7 75.6h0M314.4 71.4h0M318.8 68.6h0M316.4 118.0h0M317.6 128.8h0M315.1 75.5h0M308.3 109.3h0M310.4 100.1h0M319.1 54.0h0M320.0 62.4h0M312.9 122.1h0M315.1 66.3h0M315.7 91.7h0M318.0 79.8h0M318.1 93.5h0M316.7 58.7h0M315.9 81.8h0M318.0 70.8h0M316.0 68.2h0M317.6 89.2h0M312.0 113.3h0M319.7 86.7h0M315.2 126.8h0M318.2 58.6h0M312.2 102.3h0M320.3 53.1h0M308.5 124.8h0M316.8 88.3h0M313.3 74.7h0M317.3 111.7h0M312.2 86.0h0M312.6 82.4h0M308.2 129.2h0M318.6 73.7h0M316.2 61.1h0M317.8 55.8h0M318.7 93.7h0M315.9 63.9h0M312.8 112.9h0M313.3 77.8h0M320.1 70.0h0M317.2 59.6h0M318.9 110.9h0M313.2 124.3h0M315.1 128.6h0M316.4 73.7h0M317.0 108.9h0M316.7 60.7h0M308.7 128.8h0M311.4 116.9h0M315.2 70.4h0M320.2 88.6h0M319.6 62.2h0M313.9 76.4h0M311.8 111.2h0M317.0 65.4h0M318.4 117.5h0M310.0 97.3h0M315.2 112.8h0M319.6 123.9h0M319.1 76.9h0M310.4 117.3h0M315.1 80.1h0M315.2 79.0h0M317.2 59.1h0M312.3 124.8h0M319.0 102.3h0M310.5 112.1h0M317.7 125.6h0M317.1 131.4h0M317.9 112.0h0M317.9 70.8h0M318.9 81.3h0M318.2 61.0h0M318.9 77.7h0M319.0 78.4h0M318.6 119.7h0M320.0 61.4h0M316.1 111.2h0M309.3 103.6h0M314.1 121.5h0M314.3 87.5h0M317.4 114.4h0M309.5 121.5h0M314.3 78.0h0M317.8 58.3h0M320.0 52.1h0M314.3 68.7h0M319.5 55.6h0M317.1 66.3h0M318.6 83.0h0M311.3 128.4h0M319.1 102.0h0M319.4 88.7h0M311.5 110.3h0M314.5 121.8h0M318.7 58.7h0M313.7 118.2h0M314.9 89.8h0M315.7 122.4h0M316.4 67.1h0M320.0 79.9h0M309.6 107.2h0M307.3 125.2h0M314.3 98.6h0M313.1 109.0h0M318.6 57.6h0M317.4 117.4h0M313.9 79.3h0M317.7 111.2h0M319.6 68.0h0M313.7 131.6h0M317.9 81.3h0M309.6 126.4h0M315.3 74.8h0M309.9 110.2h0M315.3 95.0h0M310.2 104.9h0M320.3 128.6h0M318.2 96.1h0M319.8 65.1h0M317.9 95.3h0M311.5 121.4h0M309.7 126.0h0M319.5 51.9h0M319.0 123.9h0M313.9 128.5h0M314.4 126.7h0M318.5 61.8h0M312.6 116.0h0M312.4 99.5h0M309.1 72.4h0M308.3 81.5h0M315.5 60.8h0M314.7 55.4h0M304.8 102.1h0M313.4 69.9h0M310.6 66.1h0M308.8 93.0h0M309.5 91.9h0M309.4 100.4h0M304.5 99.8h0M309.3 72.2h0M310.3 58.3h0M305.8 114.5h0M315.7 59.4h0M307.7 105.2h0M310.0 84.0h0M307.3 95.2h0M308.8 103.3h0M312.8 70.4h0M310.1 80.8h0M309.8 93.9h0M312.0 68.8h0M314.9 60.4h0M308.7 86.8h0M310.9 66.6h0M306.4 116.3h0M308.0 85.6h0M312.9 67.5h0M309.5 92.3h0M314.6 59.6h0M306.4 99.2h0M311.7 77.3h0M308.9 81.8h0M308.1 79.7h0M312.1 64.6h0M314.2 55.4h0M307.4 108.5h0M307.3 94.7h0M304.4 113.0h0M311.0 73.8h0M308.3 89.9h0M302.6 114.8h0M310.8 64.2h0M303.9 104.8h0M309.4 92.2h0M304.4 114.5h0M309.4 89.6h0M314.3 62.3h0M307.1 111.5h0M312.0 75.4h0M308.4 85.2h0M307.3 111.4h0M305.2 77.0h0M308.7 95.3h0M309.9 85.0h0M307.7 93.4h0M308.4 104.5h0M309.0 79.4h0M308.9 77.9h0M311.1 72.4h0M311.8 75.9h0M308.0 98.5h0M316.7 56.4h0M307.3 105.8h0M314.8 64.3h0M312.2 71.6h0M307.9 101.2h0M300.1 114.7h0M309.8 89.7h0M306.5 113.3h0M309.9 82.3h0M302.7 109.1h0M306.7 79.3h0M305.4 102.5h0M309.7 92.6h0M316.3 58.5h0M310.3 62.8h0M309.6 94.7h0M314.4 62.1h0M308.8 93.4h0M306.9 97.4h0M306.3 116.7h0M309.9 82.4h0M312.0 69.7h0M301.9 116.4h0M314.3 66.0h0M312.7 66.3h0M306.8 101.4h0M311.6 58.7h0M316.0 57.1h0M310.7 82.7h0M307.6 83.4h0M305.1 110.5h0M310.3 79.9h0M302.5 114.4h0M305.5 90.3h0M313.6 64.0h0M306.9 98.5h0M315.6 55.3h0M304.3 124.0h0M306.4 116.1h0M305.4 126.4h0M306.6 124.8h0M306.8 130.9h0M306.4 130.8h0M305.7 120.9h0M306.2 121.8h0M303.9 128.3h0M305.1 128.2h0M302.8 126.7h0M306.5 120.9h0M305.7 125.5h0M305.6 118.5h0M305.2 120.3h0M305.1 130.3h0M305.3 127.7h0M306.5 118.3h0M306.0 130.1h0M303.7 125.1h0M305.2 117.4h0M306.1 128.0h0M306.0 117.8h0M305.4 129.5h0M305.6 120.0h0M306.6 127.3h0M306.2 123.7h0M306.5 127.2h0M304.4 120.3h0M303.5 121.7h0M298.7 107.9h0M299.3 77.6h0M303.9 95.2h0M306.8 79.2h0M302.3 105.4h0M302.2 80.1h0M306.3 62.7h0M288.3 91.0h0M303.8 83.7h0M302.6 94.2h0M304.4 75.0h0M313.1 68.2h0M310.1 80.3h0M306.1 59.6h0M303.4 56.8h0M299.6 79.6h0M308.0 93.6h0M308.3 73.2h0M313.3 62.2h0M306.0 98.2h0M308.3 81.5h0M303.6 72.8h0M296.2 80.1h0M310.0 96.7h0M296.7 66.7h0M292.7 103.0h0M296.3 95.9h0M295.8 88.4h0M310.1 43.9h0M317.9 53.3h0M317.2 48.6h0M314.1 39.6h0M319.6 51.5h0M310.8 53.5h0M315.1 48.7h0M310.8 43.1h0M314.2 37.7h0M311.9 44.9h0M315.1 42.4h0M315.5 50.2h0M318.7 38.2h0M319.6 42.4h0M310.5 54.6h0M319.6 46.6h0M315.0 42.7h0M309.3 41.3h0M310.4 39.1h0M315.9 40.7h0M319.4 46.3h0M313.0 48.7h0M308.7 59.2h0M310.8 53.1h0M306.2 55.0h0M305.7 54.1h0M305.2 59.5h0M303.6 59.6h0M308.0 45.1h0M307.6 48.1h0M318.5 13.8h0M308.3 22.2h0M311.3 26.5h0M318.0 29.0h0M315.8 32.6h0M291.4 32.3h0M315.0 36.0h0M317.0 39.0h0M313.0 38.0h0M286.0 50.5h0M288.0 59.5h0M292.0 64.0h0M305.0 43.0h0M306.0 48.0h0M301.0 52.0h0M287.0 91.0h0M292.0 80.0h0M294.0 72.0h0M298.0 67.0h0M300.0 88.0h0M296.0 100.0h0M293.0 105.0h0M297.0 105.0h0M299.0 94.0h0M303.0 112.0h0" stroke="#1515ff" stroke-width="2.1" stroke-linecap="round" fill="none" opacity="1"/>
<path d="M330.7 59.7h0M334.3 105.0h0M336.0 126.2h0M334.7 105.7h0M324.8 50.1h0M337.1 85.1h0M331.0 75.7h0M325.4 50.7h0M331.6 124.2h0M324.9 117.8h0M326.4 66.7h0M326.0 118.4h0M327.7 126.6h0M330.9 122.4h0M335.6 76.6h0M333.4 83.3h0M328.5 55.5h0M325.9 130.7h0M328.4 111.3h0M327.7 62.2h0M338.1 104.4h0M335.1 131.7h0M334.0 101.2h0M330.9 63.2h0M329.7 95.3h0M327.7 124.0h0M326.0 61.6h0M329.5 62.3h0M326.8 115.8h0M332.7 91.3h0M330.5 96.1h0M324.9 94.7h0M326.5 54.8h0M332.3 69.5h0M333.0 69.9h0M325.6 69.8h0M330.0 89.2h0M333.4 77.6h0M331.3 68.3h0M330.4 118.6h0M337.5 91.4h0M327.3 99.7h0M325.1 55.7h0M325.7 77.3h0M330.7 103.3h0M330.3 75.4h0M327.4 127.0h0M327.3 62.7h0M334.9 76.7h0M330.7 108.0h0M325.1 63.6h0M330.9 60.1h0M326.9 103.3h0M325.5 101.4h0M329.4 91.7h0M329.4 58.4h0M331.8 108.9h0M330.6 63.8h0M333.2 85.6h0M329.9 57.5h0M325.0 50.3h0M327.1 82.7h0M328.6 57.2h0M328.2 131.7h0M331.7 71.9h0M328.6 68.3h0M330.7 106.6h0M325.3 62.8h0M338.6 94.6h0M325.8 125.6h0M331.5 91.3h0M331.0 65.9h0M335.9 90.7h0M334.8 74.0h0M330.7 117.0h0M328.5 61.6h0M329.8 60.4h0M332.8 107.3h0M325.2 130.3h0M335.8 108.8h0M326.9 59.3h0M327.0 54.4h0M329.5 109.4h0M329.8 107.2h0M328.5 108.5h0M329.4 130.4h0M324.8 50.3h0M336.6 109.7h0M326.9 102.3h0M333.3 121.7h0M327.4 59.5h0M324.8 105.2h0M325.9 53.5h0M336.7 121.9h0M334.8 76.2h0M336.0 114.6h0M338.5 98.4h0M338.1 102.9h0M327.5 96.5h0M331.4 92.6h0M329.0 77.7h0M332.9 92.0h0M327.4 68.3h0M331.7 91.3h0M333.1 84.4h0M329.7 65.2h0M332.8 72.7h0M335.6 107.8h0M328.2 92.5h0M330.5 126.1h0M328.2 80.8h0M333.5 83.0h0M330.8 117.3h0M327.6 110.1h0M329.4 87.2h0M328.7 75.2h0M334.6 112.0h0M327.0 67.0h0M333.3 114.5h0M333.6 105.6h0M328.5 107.0h0M326.3 55.0h0M327.5 52.7h0M334.1 93.1h0M333.5 129.4h0M328.0 68.8h0M330.0 58.9h0M331.4 110.6h0M327.9 80.4h0M334.5 90.0h0M334.7 123.6h0M330.0 121.3h0M328.7 84.6h0M326.7 130.1h0M327.1 63.0h0M334.4 125.8h0M334.4 77.2h0M329.7 123.2h0M332.0 65.8h0M326.1 80.8h0M329.8 124.2h0M332.0 82.7h0M324.9 71.0h0M329.3 82.1h0M325.4 50.9h0M329.2 112.6h0M333.4 105.9h0M324.9 65.5h0M333.3 105.4h0M326.9 74.1h0M335.8 120.3h0M330.6 69.2h0M329.3 97.2h0M325.7 53.0h0M333.2 103.0h0M326.4 91.9h0M327.7 67.5h0M329.3 84.2h0M326.1 124.2h0M327.2 131.1h0M327.7 120.4h0M330.1 98.3h0M327.2 53.1h0M328.1 116.6h0M331.0 113.8h0M325.3 131.1h0M327.4 81.3h0M335.8 101.4h0M331.5 119.2h0M334.4 81.8h0M326.4 58.6h0M330.7 111.9h0M325.7 131.6h0M327.5 88.0h0M324.8 50.2h0M326.8 57.5h0M331.3 85.6h0M332.3 73.8h0M338.4 92.4h0M329.2 63.9h0M329.8 90.6h0M327.3 120.8h0M329.0 122.1h0M331.7 77.6h0M328.7 96.3h0M329.9 56.9h0M326.1 80.4h0M332.2 104.0h0M328.4 76.9h0M328.9 119.5h0M336.8 84.3h0M329.4 79.7h0M330.4 63.3h0M331.0 104.6h0M327.6 83.4h0M330.7 114.9h0M329.4 118.4h0M325.1 110.3h0M334.1 68.1h0M334.2 106.1h0M331.2 90.9h0M326.3 66.2h0M334.5 103.0h0M331.4 71.3h0M329.5 61.2h0M329.3 64.1h0M330.8 75.8h0M328.4 61.0h0M326.6 100.7h0M332.2 75.4h0M333.4 94.9h0M332.2 114.1h0M329.1 68.3h0M331.8 118.2h0M329.6 111.9h0M337.5 86.9h0M333.0 117.6h0M328.7 58.8h0M327.4 52.7h0M332.6 129.9h0M333.6 72.0h0M332.3 64.6h0M324.9 92.8h0M329.9 123.2h0M333.3 118.2h0M336.8 93.8h0M333.3 66.7h0M325.0 77.9h0M325.5 77.7h0M327.7 55.9h0M325.9 59.9h0M327.7 74.1h0M335.1 125.6h0M336.6 121.5h0M335.1 86.2h0M334.6 73.1h0M334.1 116.6h0M325.6 68.7h0M331.0 126.0h0M337.0 100.3h0M330.3 61.8h0M335.3 88.1h0M327.3 87.5h0M327.8 128.6h0M336.0 111.2h0M331.8 70.4h0M327.5 82.6h0M334.0 67.9h0M330.7 80.3h0M325.1 91.2h0M334.8 111.9h0M329.0 122.0h0M328.1 67.2h0M333.8 110.2h0M331.2 83.4h0M332.4 62.7h0M331.6 88.8h0M327.3 114.7h0M329.6 109.4h0M325.9 116.8h0M331.4 72.7h0M329.9 89.7h0M327.8 97.6h0M324.7 86.0h0M328.0 115.7h0M331.6 118.3h0M333.6 99.4h0M330.5 60.3h0M334.0 74.0h0M333.6 114.6h0M330.3 117.0h0M338.1 105.3h0M325.6 65.5h0M331.1 83.9h0M326.5 62.3h0M329.4 121.2h0M326.2 62.2h0M327.4 97.5h0M332.0 89.0h0M331.3 86.1h0M324.9 118.8h0M327.0 126.4h0M327.1 53.1h0M332.3 96.8h0M332.3 67.9h0M332.7 75.2h0M330.4 68.8h0M330.0 103.3h0M325.6 89.5h0M334.5 102.9h0M329.3 62.6h0M326.1 110.3h0M335.5 119.0h0M325.6 54.2h0M326.1 56.9h0M327.4 57.1h0M327.8 70.6h0M329.7 87.9h0M334.2 114.8h0M326.2 59.4h0M325.3 50.7h0M329.3 58.9h0M337.8 114.1h0M325.1 67.2h0M330.2 112.2h0M329.1 126.5h0M325.5 75.7h0M330.4 127.9h0M330.4 86.2h0M335.8 113.2h0M327.1 89.1h0M335.8 83.4h0M333.0 83.5h0M331.2 96.0h0M328.2 97.3h0M336.9 95.8h0M326.6 56.6h0M336.4 122.4h0M325.9 51.1h0M336.7 102.0h0M326.5 88.6h0M332.5 74.7h0M327.5 109.9h0M334.0 102.8h0M325.0 104.1h0M328.9 86.3h0M329.5 99.1h0M329.7 60.5h0M333.2 73.6h0M330.7 75.1h0M326.2 116.4h0M325.6 110.1h0M325.0 127.0h0M329.8 109.5h0M328.3 64.8h0M330.5 91.2h0M328.5 60.1h0M335.3 74.7h0M330.0 81.5h0M334.3 68.7h0M331.9 76.4h0M329.6 118.4h0M328.5 112.1h0M325.0 59.0h0M336.2 86.9h0M328.9 66.7h0M328.4 112.7h0M329.0 62.5h0M336.7 85.0h0M327.5 123.8h0M330.6 96.1h0M326.0 52.8h0M328.2 125.3h0M334.8 98.2h0M328.8 55.2h0M326.7 59.0h0M325.0 108.8h0M326.2 80.9h0M324.9 88.9h0M326.5 62.4h0M325.2 56.7h0M329.6 66.0h0M331.1 61.3h0M327.9 84.3h0M333.2 69.8h0M327.4 53.9h0M330.5 58.0h0M332.2 83.6h0M325.9 121.0h0M327.8 55.3h0M334.9 98.3h0M330.0 72.8h0M328.8 65.3h0M330.9 73.2h0M327.7 74.6h0M325.9 102.8h0M331.1 115.9h0M325.8 68.8h0M331.7 91.8h0M329.9 109.1h0M335.9 83.9h0M335.1 72.5h0M336.4 123.4h0M327.6 127.5h0M332.5 116.9h0M334.3 66.8h0M336.1 103.2h0M325.8 95.9h0M326.8 121.0h0M331.1 71.3h0M329.1 65.9h0M326.0 108.7h0M326.2 104.3h0M333.5 89.1h0M325.3 106.5h0M333.7 65.7h0M329.9 82.1h0M333.0 80.8h0M333.6 110.9h0M331.8 83.1h0M327.3 92.4h0M335.4 128.0h0M337.8 113.9h0M336.0 88.3h0M332.2 69.8h0M337.7 108.8h0M335.7 118.5h0M332.9 72.0h0M329.0 89.1h0M334.2 80.3h0M335.2 119.3h0M327.1 105.0h0M329.5 62.8h0M328.0 67.4h0M325.7 58.4h0M327.8 108.9h0M328.8 119.7h0M328.4 119.8h0M328.8 72.0h0M325.5 51.0h0M324.9 81.2h0M329.3 120.8h0M326.0 50.0h0M327.2 68.8h0M324.9 52.0h0M332.8 108.3h0M328.1 91.4h0M335.1 73.6h0M336.5 80.6h0M326.2 122.9h0M325.0 119.7h0M335.9 108.4h0M332.4 107.2h0M326.7 116.8h0M328.4 94.4h0M327.1 82.8h0M332.7 108.2h0M333.0 114.1h0M337.8 99.3h0M331.9 116.8h0M335.2 76.8h0M325.9 80.5h0M332.7 77.4h0M332.0 126.6h0M337.9 104.5h0M330.6 113.9h0M334.9 88.0h0M325.9 76.1h0M336.2 100.9h0M331.7 70.4h0M326.2 123.4h0M328.5 61.2h0M335.5 77.5h0M329.3 131.9h0M332.9 115.2h0M333.4 64.3h0M325.4 64.3h0M324.9 87.2h0M330.3 89.5h0M329.3 128.4h0M334.3 119.9h0M328.1 98.2h0M330.1 75.1h0M332.6 82.5h0M329.2 91.5h0M338.9 99.9h0M327.9 66.7h0M324.9 51.0h0M326.4 54.6h0M333.4 118.8h0M333.8 129.4h0M332.9 98.2h0M325.4 51.0h0M331.1 71.5h0M327.2 55.4h0M330.6 80.9h0M326.0 83.2h0M335.7 110.1h0M326.4 99.2h0M337.1 99.2h0M332.7 131.1h0M327.8 53.8h0M328.6 104.7h0M334.2 125.6h0M327.6 123.6h0M330.1 97.4h0M333.0 74.3h0M329.4 100.7h0M337.7 94.6h0M337.6 96.6h0M338.7 96.5h0M326.0 52.4h0M334.9 95.4h0M331.5 129.6h0M333.4 89.3h0M334.6 93.8h0M324.9 127.8h0M334.5 76.3h0M328.1 54.9h0M326.5 52.5h0M327.8 115.8h0M327.4 81.3h0M332.1 107.9h0M329.4 99.8h0M338.3 98.2h0M337.3 114.0h0M330.0 70.3h0M328.9 81.7h0M327.0 116.0h0M335.6 95.9h0M324.9 126.9h0M329.9 72.3h0M326.5 127.0h0M329.6 119.1h0M337.7 95.0h0M326.2 55.3h0M325.8 62.8h0M332.4 75.0h0M326.4 97.7h0M331.3 115.9h0M331.3 61.8h0M327.4 117.5h0M333.8 127.2h0M324.7 68.8h0M334.7 121.3h0M329.4 58.0h0M333.1 113.6h0M337.0 118.4h0M334.1 76.9h0M328.3 125.7h0M334.3 106.2h0M331.7 119.8h0M327.4 72.7h0M326.6 94.6h0M335.5 120.7h0M331.8 69.9h0M326.4 105.3h0M334.8 114.0h0M325.8 75.2h0M332.9 73.2h0M335.7 88.4h0M325.6 63.1h0M334.9 78.7h0M325.3 63.3h0M325.9 111.9h0M325.9 104.9h0M331.5 70.3h0M329.6 121.8h0M325.1 87.0h0M327.5 78.0h0M334.0 114.8h0M331.7 114.5h0M326.5 107.5h0M328.3 81.7h0M332.6 73.2h0M327.9 67.6h0M333.9 73.2h0M331.5 102.5h0M335.8 81.2h0M329.7 127.2h0M336.9 96.6h0M327.4 71.1h0M327.9 58.5h0M326.8 113.2h0M337.5 85.5h0M329.9 89.6h0M335.8 119.0h0M326.2 80.9h0M335.2 102.3h0M332.2 125.9h0M330.4 75.3h0M329.5 73.7h0M337.0 88.5h0M335.5 124.5h0M337.9 89.3h0M331.9 61.4h0M337.1 102.6h0M337.2 84.0h0M326.8 52.1h0M329.5 117.4h0M327.4 118.1h0M331.0 111.9h0M327.2 83.8h0M334.2 115.8h0M330.3 57.3h0M328.4 68.2h0M332.0 84.1h0M335.9 123.2h0M329.9 102.1h0M325.2 58.8h0M332.8 92.6h0M337.6 86.8h0M329.1 84.0h0M326.9 84.4h0M331.3 127.2h0M330.7 94.6h0M327.9 70.6h0M330.9 90.6h0M330.7 130.5h0M325.2 67.0h0M327.7 63.1h0M336.4 114.3h0M332.5 69.4h0M331.7 86.3h0M325.3 93.8h0M327.7 55.4h0M330.0 106.6h0M334.1 125.5h0M325.4 74.8h0M333.9 95.5h0M325.1 68.4h0M325.2 90.0h0M333.3 110.6h0M329.4 72.9h0M326.6 69.1h0M332.3 64.9h0M334.2 87.3h0M334.0 78.6h0M334.0 99.0h0M331.6 82.3h0M333.9 65.7h0M332.2 105.3h0M326.1 102.5h0M327.3 77.5h0M324.9 119.3h0M336.1 86.5h0M334.2 114.3h0M327.2 74.8h0M328.9 107.9h0M329.5 109.4h0M332.4 112.5h0M337.3 117.0h0M336.6 81.1h0M326.3 50.8h0M326.2 52.4h0M334.1 81.9h0M327.0 75.9h0M331.9 114.5h0M331.3 112.1h0M327.1 53.0h0M329.3 67.9h0M325.0 50.0h0M335.4 104.7h0M331.0 102.3h0M333.9 110.2h0M329.8 66.9h0M335.1 99.1h0M327.7 66.3h0M325.8 78.2h0M333.1 78.6h0M340.0 91.4h0M334.3 65.9h0M340.6 102.3h0M335.9 64.3h0M339.5 87.4h0M341.3 72.0h0M340.8 72.9h0M340.4 102.2h0M339.2 71.1h0M338.3 114.8h0M336.0 75.8h0M336.9 75.2h0M341.8 111.6h0M331.4 56.5h0M332.1 55.9h0M338.6 111.7h0M335.3 62.4h0M337.8 78.1h0M336.5 70.8h0M341.4 91.4h0M339.1 88.1h0M339.3 103.8h0M341.2 112.8h0M342.4 104.8h0M337.3 75.8h0M337.0 63.4h0M335.6 61.2h0M338.7 113.3h0M339.6 99.1h0M341.3 70.0h0M337.5 77.1h0M338.9 86.4h0M340.7 94.5h0M339.1 81.8h0M339.2 99.8h0M330.8 57.6h0M335.5 64.4h0M341.0 88.3h0M338.0 61.1h0M339.9 94.2h0M336.0 68.7h0M346.8 103.2h0M337.4 76.3h0M339.6 80.1h0M338.5 115.9h0M339.7 111.1h0M342.0 114.3h0M336.5 62.4h0M343.8 102.2h0M345.8 92.8h0M337.8 61.4h0M339.3 104.4h0M341.9 98.1h0M336.7 80.9h0M339.0 113.8h0M337.7 79.2h0M342.4 106.2h0M336.3 74.0h0M337.9 85.8h0M335.3 60.0h0M340.9 81.8h0M345.8 116.4h0M335.0 60.2h0M339.6 99.4h0M334.3 56.0h0M342.4 113.2h0M340.5 106.3h0M343.0 72.3h0M336.6 72.0h0M338.0 57.6h0M347.5 101.6h0M339.1 68.2h0M344.8 96.9h0M341.0 91.7h0M340.5 114.6h0M330.2 55.2h0M337.9 117.9h0M339.1 61.6h0M340.9 101.1h0M332.0 57.7h0M341.5 85.9h0M339.9 64.1h0M333.8 63.3h0M340.9 110.2h0M336.2 70.1h0M340.0 84.0h0M342.0 111.1h0M348.4 87.2h0M335.4 68.6h0M331.1 56.0h0M335.8 62.8h0M344.5 81.3h0M339.3 85.5h0M340.3 110.4h0M344.2 102.8h0M335.8 74.0h0M340.8 90.0h0M339.0 92.5h0M338.0 76.7h0M341.9 106.9h0M342.1 62.5h0M338.9 68.2h0M342.4 102.0h0M339.6 95.8h0M342.7 90.4h0M341.1 113.0h0M342.7 92.1h0M337.9 86.1h0M337.8 63.1h0M340.1 81.8h0M340.3 90.3h0M339.0 77.8h0M338.6 78.4h0M338.1 116.2h0M339.3 100.5h0M340.9 79.9h0M337.7 78.1h0M341.9 70.1h0M338.6 114.2h0M338.4 73.0h0M331.9 58.7h0M339.7 111.2h0M337.2 71.1h0M340.1 99.0h0M340.2 79.4h0M336.9 69.7h0M345.2 109.1h0M341.3 62.2h0M344.6 100.1h0M338.0 83.9h0M339.9 101.1h0M333.5 59.3h0M342.3 84.8h0M342.7 111.2h0M334.5 61.3h0M340.9 92.1h0M339.2 113.5h0M340.8 101.0h0M337.7 76.6h0M340.3 91.1h0M342.0 106.2h0M334.8 66.5h0M340.9 114.5h0M340.0 115.0h0M337.0 62.0h0M340.2 80.9h0M339.4 76.6h0M333.5 57.1h0M337.3 65.8h0M341.1 74.3h0M339.0 124.0h0M338.2 119.9h0M336.5 128.1h0M337.4 118.4h0M337.4 130.1h0M337.6 118.6h0M338.0 119.3h0M339.2 121.1h0M338.5 122.3h0M339.0 123.4h0M337.4 130.0h0M337.8 122.6h0M335.9 131.2h0M337.1 124.1h0M338.6 120.2h0M338.6 118.1h0M337.1 126.8h0M337.7 123.1h0M337.4 118.7h0M337.8 121.2h0M339.6 116.0h0M336.6 127.0h0M337.3 120.0h0M338.1 119.3h0M338.9 121.1h0M337.4 119.9h0M338.2 121.4h0M336.4 128.3h0M338.2 129.7h0M336.5 126.1h0M333.7 60.2h0M348.8 66.0h0M340.4 86.3h0M337.1 76.6h0M361.4 96.7h0M356.7 71.2h0M340.6 65.9h0M347.5 102.6h0M343.0 72.1h0M339.8 105.1h0M336.5 62.3h0M350.4 100.0h0M340.2 92.3h0M334.9 67.5h0M341.7 111.1h0M333.3 52.7h0M337.4 61.6h0M341.5 77.0h0M334.6 60.2h0M343.6 89.0h0M340.4 61.1h0M342.6 104.2h0M337.2 65.0h0M346.9 81.9h0M340.3 95.1h0M341.0 105.4h0M339.4 101.5h0M328.5 51.1h0M342.0 87.3h0M343.5 98.5h0M343.7 102.8h0M348.1 92.7h0M346.6 99.2h0M342.3 75.3h0M344.5 69.8h0M335.1 58.3h0M337.7 57.9h0M345.1 73.9h0M338.9 75.0h0M345.1 99.6h0M342.4 107.9h0M350.8 103.6h0M339.2 45.0h0M327.1 46.0h0M326.8 37.2h0M330.8 54.5h0M334.7 41.4h0M337.7 32.8h0M339.3 52.3h0M330.7 54.7h0M338.7 34.1h0M331.7 49.4h0M327.8 39.6h0M333.3 53.3h0M331.1 52.7h0M334.2 39.0h0M340.9 50.9h0M337.5 39.9h0M340.5 41.3h0M335.0 51.3h0M329.9 40.2h0M339.4 54.8h0M326.5 38.5h0M342.4 35.5h0M339.6 31.1h0M335.0 44.8h0M332.4 45.1h0M326.6 45.6h0M326.9 55.8h0M337.1 33.9h0M339.5 47.9h0M341.8 49.4h0M325.2 31.4h0M339.0 36.6h0M334.6 34.3h0M327.8 51.6h0M341.2 44.8h0M332.2 50.9h0M330.0 43.4h0M339.1 56.9h0M330.5 49.1h0M333.8 50.5h0M331.5 52.4h0M337.3 54.7h0M335.1 42.6h0M334.5 52.5h0M325.1 56.9h0M337.9 55.1h0M340.3 43.7h0M331.1 34.2h0M339.8 50.0h0M342.9 40.4h0M325.8 48.2h0M326.4 33.4h0M330.8 46.0h0M333.1 37.3h0M341.4 32.2h0M334.0 25.8h0M330.0 31.5h0M342.0 31.0h0M337.0 33.0h0M345.5 35.8h0M334.0 38.0h0M338.0 36.0h0M331.0 37.0h0M328.0 34.0h0M354.0 44.0h0M355.0 45.0h0M363.0 62.0h0M356.0 76.0h0M359.0 59.0h0M350.0 30.0h0M341.0 27.0h0M347.0 46.0h0M339.0 42.0h0M349.0 52.0h0M346.0 57.0h0M352.0 60.0h0M353.0 62.0h0" stroke="#ff1515" stroke-width="2.1" stroke-linecap="round" fill="none" opacity="1"/>
<line x1="320.5" y1="7.4" x2="320.5" y2="153.2" stroke="#333" stroke-width="0.75" stroke-dasharray="1.5 1.8"/>
<line x1="324.5" y1="7.4" x2="324.5" y2="153.2" stroke="#333" stroke-width="0.75" stroke-dasharray="1.5 1.8"/>
<line x1="282.2" y1="132.3" x2="367.3" y2="132.3" stroke="#333" stroke-width="0.75" stroke-dasharray="1.5 1.8"/>
<rect x="282.2" y="7.4" width="85.10000000000002" height="145.79999999999998" fill="none" stroke="#858585" stroke-width="1.15"/>
<line x1="284.34999999999997" y1="153.2" x2="284.34999999999997" y2="154.39999999999998" stroke="#555" stroke-width="0.4"/>
<text x="284.34999999999997" y="157.79999999999998" font-size="3.3" text-anchor="middle" fill="#444" font-family="Liberation Sans, sans-serif" >-5.0</text>
<line x1="303.4" y1="153.2" x2="303.4" y2="154.39999999999998" stroke="#555" stroke-width="0.4"/>
<text x="303.4" y="157.79999999999998" font-size="3.3" text-anchor="middle" fill="#444" font-family="Liberation Sans, sans-serif" >-2.5</text>
<line x1="322.45" y1="153.2" x2="322.45" y2="154.39999999999998" stroke="#555" stroke-width="0.4"/>
<text x="322.45" y="157.79999999999998" font-size="3.3" text-anchor="middle" fill="#444" font-family="Liberation Sans, sans-serif" >0.0</text>
<line x1="341.5" y1="153.2" x2="341.5" y2="154.39999999999998" stroke="#555" stroke-width="0.4"/>
<text x="341.5" y="157.79999999999998" font-size="3.3" text-anchor="middle" fill="#444" font-family="Liberation Sans, sans-serif" >2.5</text>
<line x1="360.55" y1="153.2" x2="360.55" y2="154.39999999999998" stroke="#555" stroke-width="0.4"/>
<text x="360.55" y="157.79999999999998" font-size="3.3" text-anchor="middle" fill="#444" font-family="Liberation Sans, sans-serif" >5.0</text>
<line x1="281.0" y1="146.9" x2="282.2" y2="146.9" stroke="#555" stroke-width="0.4"/>
<text x="280.4" y="148.1" font-size="3.3" text-anchor="end" fill="#444" font-family="Liberation Sans, sans-serif" >0.0</text>
<line x1="281.0" y1="118.97500000000001" x2="282.2" y2="118.97500000000001" stroke="#555" stroke-width="0.4"/>
<text x="280.4" y="120.17500000000001" font-size="3.3" text-anchor="end" fill="#444" font-family="Liberation Sans, sans-serif" >2.5</text>
<line x1="281.0" y1="91.05000000000001" x2="282.2" y2="91.05000000000001" stroke="#555" stroke-width="0.4"/>
<text x="280.4" y="92.25000000000001" font-size="3.3" text-anchor="end" fill="#444" font-family="Liberation Sans, sans-serif" >5.0</text>
<line x1="281.0" y1="63.125" x2="282.2" y2="63.125" stroke="#555" stroke-width="0.4"/>
<text x="280.4" y="64.325" font-size="3.3" text-anchor="end" fill="#444" font-family="Liberation Sans, sans-serif" >7.5</text>
<line x1="281.0" y1="35.2" x2="282.2" y2="35.2" stroke="#555" stroke-width="0.4"/>
<text x="280.4" y="36.400000000000006" font-size="3.3" text-anchor="end" fill="#444" font-family="Liberation Sans, sans-serif" >10.0</text>
<line x1="281.0" y1="7.275000000000006" x2="282.2" y2="7.275000000000006" stroke="#555" stroke-width="0.4"/>
<text x="280.4" y="8.475000000000005" font-size="3.3" text-anchor="end" fill="#444" font-family="Liberation Sans, sans-serif" >12.5</text>
<text x="324.5" y="4.4" font-size="5.2" text-anchor="middle" fill="#000" font-family="Liberation Sans, sans-serif" font-weight="bold" >GSE152991</text>
<text x="324.5" y="163.1" font-size="4.85" text-anchor="middle" fill="#222" font-family="Liberation Sans, sans-serif" >log2(Fold Change)</text>
<text transform="translate(273,80) rotate(-90)" font-size="4.9" text-anchor="middle" fill="#222" font-family="Liberation Sans, sans-serif">-log10(p-value)</text>
<text x="373.1" y="71.7" font-size="4.55" text-anchor="start" fill="#222" font-family="Liberation Sans, sans-serif" >Gene Regulation</text>
<circle cx="376.5" cy="77.1" r="1.1" fill="#1515ff"/>
<text x="381.9" y="78.39999999999999" font-size="3.75" text-anchor="start" fill="#222" font-family="Liberation Sans, sans-serif" >Downregulated</text>
<circle cx="376.5" cy="83.5" r="1.1" fill="#b4b4b4"/>
<text x="381.9" y="84.8" font-size="3.75" text-anchor="start" fill="#222" font-family="Liberation Sans, sans-serif" >Not Significant</text>
<circle cx="376.5" cy="89.9" r="1.1" fill="#ff1515"/>
<text x="381.9" y="91.2" font-size="3.75" text-anchor="start" fill="#222" font-family="Liberation Sans, sans-serif" >Upregulated</text>
<circle cx="547.6" cy="106.7" r="45" fill="#8b2c3c"/>
<circle cx="548" cy="47.3" r="25.2" fill="#6fa1d2"/>
<clipPath id="cb"><circle cx="547.6" cy="106.7" r="45"/></clipPath>
<circle cx="548" cy="47.3" r="25.2" fill="#b08ab8" clip-path="url(#cb)"/>
<text x="548" y="44" font-size="5.3" text-anchor="middle" fill="#222" font-family="Liberation Sans, sans-serif" >374</text>
<text x="548" y="68.8" font-size="5.3" text-anchor="middle" fill="#222" font-family="Liberation Sans, sans-serif" >208</text>
<text x="548" y="113.9" font-size="5.3" text-anchor="middle" fill="#222" font-family="Liberation Sans, sans-serif" >7142</text>
<text x="574.7" y="43.4" font-size="5.5" text-anchor="start" fill="#222" font-family="Liberation Sans, sans-serif" textLength="31.5" lengthAdjust="spacingAndGlyphs">GSE111016</text>
<text x="595.5" y="113.9" font-size="5.5" text-anchor="start" fill="#222" font-family="Liberation Sans, sans-serif" textLength="30.6" lengthAdjust="spacingAndGlyphs">GSE152991</text>
<g transform="translate(47,217) scale(1.4511,5.1750)" fill="none" stroke-width="1.04" shape-rendering="crispEdges">
<path stroke="#9999ff" d="M0.5 0v1M0.5 5v1M0.5 8v1M0.5 21v2M0.5 24v1M0.5 36v2M2.5 1v1M2.5 4v1M2.5 14v1M2.5 18v1M2.5 22v1M2.5 29v1M2.5 31v2M2.5 39v1M3.5 5v1M3.5 8v1M3.5 10v1M3.5 14v2M3.5 19v1M3.5 22v1M3.5 24v2M3.5 30v1M3.5 32v1M3.5 35v1M5.5 0v2M5.5 12v1M5.5 16v1M5.5 24v1M5.5 26v1M5.5 34v1M6.5 4v1M6.5 6v1M6.5 12v1M6.5 21v1M6.5 27v1M6.5 35v1M8.5 0v1M8.5 5v1M8.5 8v1M8.5 10v1M8.5 21v1M8.5 32v1M8.5 37v2M9.5 4v1M9.5 15v1M9.5 28v1M10.5 0v1M10.5 2v1M10.5 9v2M10.5 15v2M10.5 19v1M10.5 21v1M10.5 25v2M10.5 32v1M10.5 34v2M10.5 37v1M13.5 1v1M13.5 4v1M13.5 14v1M13.5 26v1M14.5 26v1M15.5 21v1M15.5 26v1M18.5 1v1M18.5 7v1M18.5 10v1M18.5 16v1M18.5 21v2M18.5 25v1M18.5 32v1M22.5 3v1M22.5 34v1M24.5 6v1M24.5 17v1M25.5 25v1M25.5 37v1M27.5 0v1M27.5 2v1M27.5 6v1M27.5 11v1M27.5 13v3M27.5 18v1M27.5 20v1M27.5 23v2M27.5 27v2M27.5 30v3M27.5 34v1M27.5 36v2M28.5 1v1M28.5 27v1M28.5 36v1M29.5 2v1M29.5 17v1M29.5 23v2M29.5 26v1M29.5 31v1M29.5 38v1M31.5 9v1M31.5 17v1M31.5 28v1M34.5 6v1M34.5 19v2M34.5 25v1M34.5 36v1M35.5 0v1M35.5 2v1M35.5 8v1M35.5 10v1M35.5 13v1M35.5 20v1M35.5 25v1M35.5 38v1M36.5 0v1M36.5 5v1M36.5 8v2M36.5 13v1M36.5 26v1M36.5 28v1M36.5 31v1M37.5 33v1M38.5 0v1M38.5 3v1M38.5 7v1M38.5 13v1M38.5 24v1M38.5 28v1M38.5 30v1M38.5 32v1M38.5 38v1M39.5 1v2M39.5 12v2M39.5 18v1M39.5 23v1M39.5 27v1M39.5 29v1M39.5 32v1M40.5 0v3M40.5 4v1M40.5 10v1M40.5 18v1M40.5 24v1M40.5 31v1M41.5 1v1M41.5 6v1M41.5 10v1M41.5 13v1M41.5 15v1M41.5 18v2M41.5 24v1M41.5 27v1M41.5 30v1M41.5 34v1M41.5 37v1M42.5 18v1M42.5 33v1M43.5 0v1M43.5 4v1M43.5 15v1M43.5 24v1M43.5 27v1M43.5 29v1M43.5 36v2M43.5 39v1M45.5 24v2M45.5 27v2M45.5 30v1M45.5 36v1M46.5 1v1M46.5 5v1M46.5 10v2M46.5 13v1M46.5 16v1M46.5 20v1M46.5 22v2M46.5 34v1M46.5 37v2M47.5 13v1M47.5 20v1M47.5 25v1M48.5 33v1M49.5 7v1M49.5 9v2M49.5 13v1M49.5 29v1M49.5 31v1M50.5 0v1M50.5 3v1M50.5 6v1M50.5 11v1M50.5 18v2M51.5 2v1M51.5 8v1M51.5 32v1M52.5 0v1M52.5 3v1M52.5 5v1M52.5 8v1M52.5 13v1M52.5 15v1M52.5 19v2M52.5 24v1M52.5 36v4M143.5 10v1M143.5 15v1M143.5 19v1M143.5 29v1M143.5 36v1M143.5 39v1M153.5 0v1M153.5 4v1M169.5 30v1M170.5 14v1M170.5 17v1M170.5 31v2M170.5 38v1M171.5 24v1M173.5 5v1M173.5 17v1M173.5 20v1M174.5 4v1M174.5 18v1M174.5 23v1M174.5 31v1M174.5 36v1M175.5 17v1M177.5 17v1M178.5 27v1M179.5 4v1"/>
<path stroke="#acacff" d="M0.5 1v1M0.5 6v1M0.5 12v1M0.5 26v1M1.5 1v2M1.5 5v2M1.5 12v1M1.5 14v1M1.5 17v1M1.5 20v1M1.5 27v1M1.5 29v2M1.5 34v2M2.5 3v1M2.5 13v1M2.5 16v1M2.5 19v1M2.5 25v1M3.5 0v1M3.5 13v1M3.5 16v1M4.5 1v1M4.5 6v1M4.5 15v2M4.5 19v1M4.5 22v2M4.5 26v1M4.5 29v2M4.5 35v1M4.5 39v1M5.5 4v1M5.5 7v1M5.5 21v1M5.5 28v1M5.5 31v2M5.5 36v1M6.5 11v1M6.5 15v1M6.5 29v1M8.5 12v1M8.5 16v1M8.5 19v1M8.5 26v1M8.5 28v3M9.5 6v2M9.5 12v3M9.5 22v1M9.5 26v1M9.5 29v1M11.5 0v2M11.5 3v1M11.5 8v2M11.5 14v1M11.5 19v1M11.5 23v1M11.5 30v1M12.5 2v1M12.5 5v1M12.5 8v1M12.5 10v2M12.5 14v1M12.5 17v1M12.5 19v1M12.5 23v1M12.5 26v2M12.5 29v1M12.5 31v1M12.5 34v1M13.5 6v1M13.5 12v2M13.5 15v1M13.5 23v1M13.5 32v1M13.5 35v1M14.5 1v2M14.5 6v5M14.5 17v1M14.5 19v1M14.5 22v1M14.5 27v1M14.5 29v1M14.5 35v1M14.5 39v1M15.5 33v1M16.5 4v1M16.5 16v1M16.5 22v1M16.5 35v1M16.5 38v1M17.5 0v1M17.5 3v2M17.5 7v1M17.5 11v1M17.5 14v1M17.5 31v1M17.5 36v1M18.5 33v1M19.5 3v1M19.5 8v1M19.5 11v1M19.5 13v4M19.5 21v2M19.5 25v1M19.5 27v1M19.5 32v1M20.5 2v1M20.5 5v1M20.5 15v1M20.5 17v2M20.5 21v1M20.5 23v1M20.5 28v1M20.5 30v1M21.5 1v1M21.5 6v1M21.5 14v1M21.5 17v1M21.5 24v1M21.5 30v1M21.5 37v1M22.5 0v1M22.5 10v1M22.5 23v1M22.5 32v1M22.5 35v5M23.5 1v1M23.5 5v1M23.5 10v1M23.5 17v1M23.5 27v1M24.5 4v1M24.5 7v3M24.5 11v1M24.5 15v1M24.5 18v2M24.5 21v1M24.5 23v1M24.5 26v1M24.5 28v1M24.5 31v2M24.5 35v1M25.5 19v1M25.5 26v1M25.5 28v1M25.5 32v1M25.5 36v1M26.5 3v1M26.5 14v1M26.5 16v1M26.5 30v1M26.5 34v1M27.5 33v1M28.5 0v1M28.5 3v2M28.5 8v2M28.5 11v1M28.5 25v2M28.5 34v2M29.5 0v1M29.5 13v1M29.5 18v2M29.5 22v1M29.5 39v1M30.5 14v1M30.5 17v1M30.5 38v1M31.5 0v1M31.5 13v1M31.5 16v1M31.5 18v1M33.5 12v1M34.5 2v1M35.5 33v1M39.5 33v1M40.5 11v1M40.5 14v1M40.5 21v1M40.5 32v1M40.5 37v1M41.5 8v1M41.5 22v1M43.5 33v1M45.5 33v1M46.5 33v1M50.5 33v1M108.5 27v1M109.5 37v1M112.5 4v1M113.5 24v1M114.5 0v2M114.5 12v3M114.5 17v1M114.5 21v2M114.5 27v1M114.5 30v1M114.5 32v1M114.5 34v1M114.5 39v1M115.5 6v1M115.5 12v1M115.5 27v1M115.5 31v1M115.5 34v2M115.5 37v1M118.5 4v1M118.5 14v1M118.5 17v1M119.5 5v1M119.5 12v1M121.5 1v1M121.5 4v1M121.5 14v1M121.5 21v1M121.5 24v1M121.5 26v2M121.5 31v1M121.5 35v2M121.5 38v1M122.5 4v1M122.5 29v1M125.5 17v1M125.5 25v1M125.5 31v1M127.5 3v1M127.5 7v1M127.5 18v1M127.5 24v2M127.5 27v2M127.5 30v1M136.5 4v1M136.5 18v1M136.5 20v1M136.5 31v1M141.5 34v1M143.5 7v3M143.5 11v1M143.5 14v1M143.5 23v1M143.5 25v1M143.5 28v1M143.5 31v1M144.5 12v1M153.5 2v2M153.5 7v2M153.5 10v1M153.5 12v3M153.5 20v1M153.5 29v1M153.5 31v1M153.5 35v1M155.5 4v1M155.5 25v1M155.5 35v1M157.5 0v1M157.5 24v1M157.5 31v1M157.5 35v1M159.5 4v2M159.5 10v1M159.5 14v1M159.5 17v1M159.5 23v4M159.5 31v1M159.5 38v1M161.5 4v1M161.5 12v1M161.5 14v2M161.5 17v1M161.5 26v1M161.5 32v1M161.5 36v1M165.5 10v1M165.5 12v1M165.5 15v1M165.5 38v1M166.5 0v1M166.5 3v1M166.5 7v1M166.5 23v1M166.5 35v1M167.5 4v1M167.5 20v1M167.5 30v1M167.5 37v1M167.5 39v1M168.5 0v1M168.5 5v1M168.5 11v2M168.5 14v1M168.5 18v1M168.5 21v1M168.5 23v1M168.5 25v1M168.5 32v1M168.5 35v1M169.5 8v1M169.5 12v1M169.5 16v1M169.5 18v1M169.5 21v1M169.5 34v1M169.5 37v2M170.5 0v1M170.5 6v2M170.5 23v1M170.5 26v1M170.5 30v1M170.5 33v1M171.5 1v1M171.5 3v1M171.5 12v1M171.5 14v1M171.5 16v1M171.5 18v2M171.5 22v1M171.5 30v1M171.5 34v2M172.5 4v1M172.5 15v1M172.5 39v1M173.5 1v1M173.5 6v1M173.5 8v2M173.5 18v2M173.5 25v1M173.5 27v1M173.5 30v1M173.5 34v1M174.5 2v1M174.5 11v1M174.5 14v3M175.5 0v3M175.5 7v1M175.5 10v1M175.5 21v3M175.5 26v1M175.5 29v1M175.5 34v2M176.5 1v1M176.5 4v1M176.5 14v1M176.5 17v1M177.5 1v1M177.5 5v1M177.5 7v1M177.5 10v1M177.5 18v2M177.5 22v1M177.5 24v1M177.5 39v1M178.5 5v1M178.5 7v1M178.5 13v1M178.5 15v2M178.5 18v2M178.5 22v1M178.5 24v2M178.5 28v2M178.5 32v1M178.5 34v1M178.5 38v2M179.5 0v1M179.5 3v1M179.5 8v1M179.5 12v1M179.5 15v1M179.5 21v1M179.5 34v1M179.5 36v2M179.5 39v1M180.5 3v2M180.5 14v1M180.5 17v2M180.5 24v1M180.5 27v1M180.5 31v1M180.5 34v1"/>
<path stroke="#9f9fff" d="M0.5 2v1M0.5 9v1M0.5 14v1M0.5 16v5M0.5 27v2M0.5 31v2M0.5 35v1M0.5 38v2M1.5 4v1M1.5 22v1M1.5 24v1M2.5 2v1M2.5 5v1M2.5 10v2M2.5 17v1M2.5 21v1M2.5 23v2M2.5 26v2M2.5 30v1M2.5 34v2M3.5 2v3M3.5 6v1M3.5 29v1M3.5 31v1M3.5 34v1M3.5 36v1M3.5 39v1M4.5 2v1M4.5 10v1M5.5 3v1M5.5 5v2M5.5 9v1M5.5 13v1M5.5 15v1M5.5 18v1M5.5 27v1M5.5 30v1M5.5 37v2M6.5 0v1M6.5 3v1M6.5 5v1M6.5 7v2M6.5 10v1M6.5 14v1M6.5 16v2M6.5 24v1M6.5 28v1M6.5 30v3M6.5 34v1M6.5 38v2M8.5 9v1M8.5 11v1M8.5 20v1M8.5 27v1M8.5 34v1M8.5 36v1M9.5 0v1M9.5 11v1M9.5 18v1M9.5 20v2M9.5 27v1M9.5 30v1M9.5 37v3M10.5 13v2M10.5 20v1M10.5 27v1M10.5 36v1M10.5 38v1M11.5 5v1M11.5 12v1M11.5 35v1M11.5 38v1M12.5 1v1M12.5 4v1M12.5 18v1M12.5 24v1M12.5 28v1M13.5 2v1M13.5 5v1M13.5 10v1M13.5 22v1M13.5 24v1M13.5 27v2M13.5 36v1M13.5 38v1M14.5 12v1M14.5 14v1M14.5 38v1M15.5 36v1M16.5 37v1M18.5 0v1M18.5 2v1M18.5 29v1M19.5 1v1M19.5 4v1M19.5 12v1M19.5 18v1M19.5 28v1M19.5 30v1M19.5 36v1M21.5 4v1M22.5 4v1M22.5 7v1M22.5 15v1M22.5 18v1M22.5 22v1M22.5 27v1M22.5 30v1M24.5 22v1M24.5 27v1M24.5 36v2M25.5 7v1M25.5 15v3M25.5 29v2M25.5 35v1M25.5 39v1M27.5 1v1M27.5 16v1M27.5 26v1M27.5 38v1M28.5 6v2M28.5 22v1M28.5 24v1M28.5 28v1M28.5 32v1M28.5 37v3M29.5 3v2M29.5 12v1M29.5 14v1M29.5 28v2M29.5 34v1M29.5 36v1M31.5 1v2M31.5 10v1M31.5 22v1M31.5 39v1M34.5 5v1M34.5 29v1M34.5 33v1M35.5 21v1M36.5 10v1M36.5 29v1M36.5 33v1M36.5 36v1M38.5 19v1M38.5 22v1M38.5 25v1M38.5 36v1M39.5 11v1M39.5 16v1M39.5 19v1M39.5 22v1M39.5 26v1M39.5 30v1M39.5 35v1M40.5 3v1M40.5 5v3M40.5 12v1M40.5 15v3M40.5 22v2M40.5 26v1M40.5 28v1M40.5 36v1M40.5 38v2M41.5 2v2M41.5 5v1M41.5 9v1M41.5 11v1M41.5 14v1M41.5 23v1M41.5 25v1M41.5 29v1M41.5 31v1M41.5 35v1M41.5 39v1M43.5 9v1M43.5 14v1M43.5 22v2M43.5 32v1M43.5 34v1M45.5 11v1M45.5 13v1M46.5 0v1M46.5 7v1M46.5 9v1M46.5 18v1M46.5 21v1M46.5 26v1M47.5 19v1M49.5 32v2M50.5 2v1M50.5 16v1M50.5 26v1M50.5 29v1M50.5 32v1M51.5 33v1M52.5 1v2M52.5 6v1M52.5 12v1M52.5 14v1M52.5 16v1M52.5 22v1M52.5 25v2M52.5 29v2M52.5 32v1M114.5 3v1M114.5 24v1M114.5 36v1M118.5 15v1M118.5 31v1M143.5 4v3M143.5 12v1M143.5 17v1M143.5 22v1M143.5 30v1M143.5 37v2M153.5 1v1M153.5 9v1M153.5 26v1M153.5 28v1M153.5 36v1M153.5 38v2M159.5 37v1M168.5 17v1M168.5 24v1M170.5 3v1M170.5 11v1M170.5 15v1M170.5 18v1M170.5 24v1M170.5 28v1M170.5 34v2M170.5 37v1M171.5 4v1M171.5 31v1M172.5 17v1M173.5 4v1M173.5 7v1M173.5 12v1M173.5 15v1M173.5 22v1M173.5 24v1M173.5 31v1M173.5 37v2M174.5 1v1M174.5 3v1M174.5 5v1M174.5 24v1M174.5 26v2M174.5 30v1M175.5 9v1M175.5 11v1M175.5 13v1M175.5 15v2M175.5 27v1M175.5 30v1M177.5 6v1M177.5 34v1M178.5 1v1M178.5 3v1M178.5 10v1M178.5 14v1M178.5 21v1M178.5 26v1M178.5 30v1M179.5 14v1M179.5 24v1M179.5 26v1M180.5 39v1"/>
<path stroke="#a6a6ff" d="M0.5 3v1M0.5 7v1M0.5 13v1M0.5 15v1M0.5 23v1M0.5 34v1M1.5 15v1M1.5 28v1M1.5 37v3M2.5 0v1M2.5 7v3M2.5 28v1M2.5 36v1M3.5 7v1M3.5 9v1M3.5 11v2M3.5 20v2M3.5 23v1M3.5 26v2M3.5 38v1M4.5 4v1M4.5 12v1M4.5 17v2M4.5 20v1M4.5 24v1M4.5 31v1M4.5 36v3M5.5 2v1M5.5 8v1M5.5 10v1M5.5 14v1M5.5 19v2M5.5 22v2M5.5 29v1M5.5 35v1M5.5 39v1M6.5 1v2M6.5 9v1M6.5 13v1M6.5 18v1M6.5 22v2M6.5 25v2M6.5 36v2M8.5 1v4M8.5 6v2M8.5 14v2M8.5 17v1M8.5 22v4M8.5 35v1M8.5 39v1M9.5 1v3M9.5 5v1M9.5 9v2M9.5 17v1M9.5 19v1M9.5 24v1M9.5 31v2M9.5 34v2M10.5 7v1M10.5 29v2M11.5 10v1M11.5 15v1M11.5 17v2M11.5 31v1M11.5 37v1M11.5 39v1M12.5 3v1M12.5 7v1M12.5 12v1M12.5 15v2M12.5 20v1M12.5 30v1M12.5 35v4M13.5 0v1M13.5 3v1M13.5 7v1M13.5 16v3M13.5 20v1M13.5 29v3M13.5 34v1M13.5 39v1M14.5 3v2M14.5 20v1M14.5 31v1M14.5 36v2M16.5 17v1M17.5 17v2M17.5 38v1M19.5 5v2M19.5 10v1M19.5 19v2M19.5 24v1M19.5 26v1M19.5 31v1M19.5 34v2M19.5 37v3M20.5 1v1M20.5 27v1M20.5 34v1M20.5 36v2M21.5 0v1M21.5 12v1M21.5 16v1M21.5 26v1M21.5 36v1M21.5 38v1M22.5 1v1M22.5 12v2M22.5 17v1M22.5 19v3M22.5 24v1M22.5 28v2M22.5 31v1M23.5 3v1M23.5 8v1M24.5 5v1M24.5 14v1M24.5 16v1M24.5 30v1M24.5 34v1M24.5 38v1M25.5 0v2M25.5 4v2M25.5 9v4M25.5 14v1M25.5 18v1M25.5 20v5M25.5 27v1M25.5 34v1M25.5 38v1M27.5 8v3M27.5 12v1M27.5 19v1M27.5 22v1M27.5 25v1M27.5 29v1M27.5 35v1M28.5 2v1M28.5 12v1M28.5 15v2M28.5 18v4M28.5 23v1M28.5 30v2M29.5 1v1M29.5 5v2M29.5 8v4M29.5 16v1M29.5 20v2M29.5 30v1M29.5 35v1M29.5 37v1M30.5 4v1M31.5 4v4M31.5 11v2M31.5 15v1M31.5 19v3M31.5 23v2M31.5 26v2M31.5 29v4M31.5 34v2M31.5 38v1M34.5 21v1M38.5 33v1M40.5 8v1M40.5 19v2M40.5 27v1M40.5 29v1M40.5 34v2M41.5 0v1M41.5 16v2M41.5 20v2M41.5 26v1M41.5 28v1M41.5 32v2M41.5 36v1M44.5 33v1M45.5 16v1M46.5 25v1M47.5 33v1M52.5 23v1M113.5 1v1M114.5 4v2M114.5 7v1M114.5 15v1M114.5 28v1M114.5 37v2M115.5 4v1M115.5 17v1M115.5 25v1M121.5 15v1M127.5 17v1M127.5 35v1M127.5 39v1M136.5 5v1M136.5 14v1M143.5 0v4M143.5 16v1M143.5 18v1M143.5 20v1M143.5 24v1M143.5 26v2M143.5 32v1M143.5 34v1M144.5 17v1M153.5 5v2M153.5 11v1M153.5 16v3M153.5 21v2M153.5 27v1M153.5 30v1M153.5 32v1M153.5 34v1M153.5 37v1M157.5 1v1M157.5 4v1M159.5 1v1M159.5 16v1M159.5 36v1M161.5 10v1M165.5 14v1M165.5 17v1M167.5 18v1M168.5 1v1M168.5 3v1M168.5 6v1M168.5 30v1M168.5 37v1M169.5 14v1M169.5 24v1M169.5 32v1M169.5 35v1M169.5 39v1M170.5 4v2M170.5 8v3M170.5 12v2M170.5 16v1M170.5 19v4M170.5 25v1M170.5 29v1M170.5 36v1M170.5 39v1M171.5 17v1M171.5 26v2M171.5 37v1M171.5 39v1M172.5 34v1M173.5 0v1M173.5 2v2M173.5 10v2M173.5 13v2M173.5 16v1M173.5 21v1M173.5 26v1M173.5 28v2M173.5 32v2M173.5 35v2M173.5 39v1M174.5 6v1M174.5 10v1M174.5 12v1M174.5 17v1M174.5 20v2M174.5 29v1M174.5 32v1M174.5 35v1M174.5 37v3M175.5 3v4M175.5 8v1M175.5 12v1M175.5 14v1M175.5 18v1M175.5 24v1M175.5 31v2M175.5 36v3M176.5 27v1M177.5 4v1M177.5 11v2M177.5 14v2M177.5 37v2M178.5 0v1M178.5 2v1M178.5 4v1M178.5 6v1M178.5 12v1M178.5 17v1M178.5 20v1M178.5 23v1M178.5 31v1M178.5 35v3M179.5 1v1M179.5 13v1M179.5 16v3M179.5 20v1M179.5 22v2M179.5 27v1M179.5 30v1M179.5 32v1M179.5 38v1M180.5 11v1"/>
<path stroke="#8c8cff" d="M0.5 4v1M0.5 30v1M2.5 6v1M2.5 15v1M3.5 1v1M3.5 17v1M10.5 1v1M10.5 3v1M10.5 5v1M10.5 8v1M10.5 12v1M10.5 23v2M10.5 28v1M10.5 31v1M15.5 4v1M15.5 7v3M15.5 11v1M15.5 13v5M15.5 19v1M15.5 23v1M15.5 28v1M15.5 32v1M15.5 37v1M18.5 3v1M18.5 5v1M18.5 8v1M18.5 13v1M18.5 20v1M18.5 23v1M18.5 28v1M18.5 35v1M18.5 38v1M27.5 21v1M27.5 39v1M31.5 36v1M34.5 0v1M34.5 3v1M34.5 11v1M34.5 17v1M34.5 22v1M34.5 24v1M34.5 26v2M34.5 37v1M34.5 39v1M35.5 1v1M35.5 4v1M35.5 16v2M35.5 19v1M35.5 29v3M35.5 34v2M35.5 39v1M36.5 4v1M36.5 6v1M36.5 11v1M36.5 15v1M36.5 18v2M36.5 22v1M36.5 32v1M36.5 35v1M36.5 37v2M37.5 10v1M37.5 17v1M37.5 30v1M37.5 34v1M37.5 37v1M38.5 1v1M38.5 5v1M38.5 9v1M38.5 11v1M38.5 15v3M38.5 29v1M38.5 31v1M38.5 35v1M38.5 39v1M39.5 14v1M39.5 17v1M39.5 38v1M41.5 7v1M42.5 10v1M42.5 28v2M43.5 1v1M43.5 3v1M43.5 19v1M43.5 21v1M43.5 28v1M43.5 30v1M44.5 3v1M44.5 5v1M44.5 8v1M44.5 17v1M45.5 0v2M45.5 3v1M45.5 6v1M45.5 12v1M45.5 14v1M45.5 18v1M45.5 21v1M45.5 32v1M45.5 35v1M45.5 37v2M46.5 6v1M46.5 12v1M46.5 17v1M46.5 27v1M46.5 30v1M46.5 36v1M47.5 1v1M47.5 9v1M47.5 17v1M47.5 24v1M47.5 26v3M47.5 30v1M47.5 32v1M49.5 0v1M49.5 2v4M49.5 8v1M49.5 12v1M49.5 15v1M49.5 17v2M49.5 22v1M49.5 24v1M49.5 37v1M50.5 1v1M50.5 10v1M50.5 15v1M50.5 17v1M50.5 20v2M50.5 23v1M50.5 30v1M50.5 34v2M50.5 37v1M50.5 39v1M51.5 0v1M51.5 10v2M51.5 18v2M51.5 22v2M51.5 25v2M51.5 29v2M52.5 4v1M52.5 7v1M52.5 21v1M52.5 28v1M52.5 35v1"/>
<path stroke="#9393ff" d="M0.5 10v2M0.5 25v1M2.5 12v1M2.5 20v1M2.5 37v2M4.5 34v1M5.5 11v1M5.5 17v1M10.5 6v1M10.5 11v1M10.5 22v1M10.5 39v1M11.5 24v1M15.5 0v4M15.5 6v1M15.5 10v1M15.5 18v1M15.5 20v1M15.5 22v1M15.5 25v1M15.5 27v1M15.5 29v1M15.5 31v1M15.5 35v1M18.5 6v1M18.5 9v1M18.5 11v2M18.5 15v1M18.5 17v1M18.5 19v1M18.5 27v1M18.5 30v2M18.5 36v2M18.5 39v1M25.5 3v1M27.5 4v2M27.5 7v1M27.5 17v1M28.5 10v1M28.5 17v1M29.5 15v1M29.5 27v1M31.5 3v1M31.5 14v1M34.5 1v1M34.5 7v4M34.5 12v1M34.5 16v1M34.5 18v1M34.5 23v1M34.5 28v1M34.5 30v3M34.5 35v1M35.5 7v1M35.5 9v1M35.5 11v1M35.5 14v1M35.5 18v1M35.5 22v2M35.5 26v3M35.5 32v1M36.5 1v3M36.5 7v1M36.5 14v1M36.5 16v2M36.5 21v1M36.5 23v1M36.5 27v1M36.5 39v1M37.5 2v1M37.5 25v1M38.5 2v1M38.5 6v1M38.5 8v1M38.5 10v1M38.5 12v1M38.5 14v1M38.5 18v1M38.5 20v2M38.5 23v1M38.5 27v1M38.5 34v1M39.5 0v1M39.5 3v1M39.5 5v6M39.5 15v1M39.5 20v2M39.5 24v2M39.5 28v1M39.5 31v1M39.5 34v1M39.5 36v2M39.5 39v1M40.5 9v1M41.5 4v1M41.5 12v1M41.5 38v1M42.5 21v1M43.5 2v1M43.5 6v3M43.5 10v2M43.5 13v1M43.5 18v1M43.5 20v1M43.5 25v2M43.5 31v1M43.5 35v1M44.5 10v1M44.5 19v1M44.5 25v1M44.5 28v1M44.5 39v1M45.5 2v1M45.5 4v2M45.5 7v4M45.5 17v1M45.5 19v2M45.5 22v2M45.5 29v1M45.5 31v1M45.5 34v1M45.5 39v1M46.5 3v2M46.5 8v1M46.5 14v2M46.5 19v1M46.5 28v2M46.5 31v2M46.5 35v1M46.5 39v1M47.5 2v2M47.5 7v1M47.5 10v3M47.5 16v1M47.5 23v1M47.5 29v1M47.5 36v1M49.5 1v1M49.5 6v1M49.5 11v1M49.5 14v1M49.5 16v1M49.5 19v2M49.5 23v1M49.5 25v1M49.5 30v1M49.5 34v1M49.5 39v1M50.5 5v1M50.5 7v3M50.5 12v3M50.5 22v1M50.5 24v2M50.5 36v1M51.5 7v1M51.5 16v1M51.5 20v1M51.5 36v1M52.5 9v1M52.5 11v1M52.5 17v2M52.5 27v1M52.5 31v1M52.5 34v1M153.5 24v1M170.5 1v1"/>
<path stroke="#b2b2ff" d="M0.5 29v1M1.5 0v1M1.5 3v1M1.5 7v1M1.5 9v1M1.5 11v1M1.5 16v1M1.5 18v1M1.5 31v1M1.5 36v1M2.5 33v1M3.5 18v1M3.5 28v1M3.5 37v1M4.5 3v1M4.5 7v3M4.5 14v1M4.5 25v1M4.5 27v1M4.5 32v2M5.5 25v1M5.5 33v1M6.5 19v2M7.5 16v1M7.5 26v1M7.5 35v1M8.5 13v1M8.5 18v1M9.5 8v1M9.5 16v1M9.5 23v1M9.5 25v1M9.5 36v1M10.5 33v1M11.5 2v1M11.5 4v1M11.5 11v1M11.5 13v1M11.5 20v3M11.5 26v2M11.5 29v1M11.5 32v3M12.5 0v1M12.5 6v1M12.5 13v1M12.5 21v2M12.5 25v1M12.5 32v1M12.5 39v1M13.5 8v2M13.5 11v1M13.5 19v1M13.5 21v1M13.5 25v1M13.5 37v1M14.5 0v1M14.5 11v1M14.5 15v1M14.5 18v1M14.5 21v1M14.5 23v2M14.5 32v1M16.5 3v1M16.5 6v1M16.5 18v2M16.5 26v3M16.5 30v2M16.5 34v1M16.5 36v1M17.5 5v1M17.5 13v1M17.5 15v1M17.5 22v1M17.5 24v1M17.5 27v1M17.5 30v1M17.5 32v1M17.5 35v1M17.5 37v1M19.5 0v1M19.5 2v1M19.5 9v1M19.5 17v1M19.5 23v1M19.5 29v1M20.5 0v1M20.5 4v1M20.5 6v2M20.5 9v1M20.5 11v2M20.5 14v1M20.5 16v1M20.5 19v2M20.5 24v1M20.5 29v1M20.5 31v1M20.5 39v1M21.5 2v1M21.5 5v1M21.5 7v2M21.5 11v1M21.5 13v1M21.5 15v1M21.5 20v1M21.5 22v1M21.5 28v2M21.5 31v1M21.5 34v2M22.5 2v1M22.5 5v2M22.5 9v1M22.5 14v1M22.5 25v2M23.5 4v1M23.5 7v1M23.5 11v2M23.5 14v2M23.5 22v1M23.5 26v1M23.5 28v2M23.5 36v2M23.5 39v1M24.5 1v1M24.5 3v1M24.5 10v1M24.5 12v2M24.5 24v1M24.5 29v1M24.5 39v1M25.5 2v1M25.5 6v1M25.5 13v1M25.5 31v1M26.5 1v2M26.5 4v1M26.5 8v2M26.5 13v1M26.5 15v1M26.5 17v2M26.5 20v1M26.5 25v1M26.5 28v1M26.5 32v1M26.5 35v4M27.5 3v1M28.5 5v1M28.5 13v2M29.5 7v1M29.5 25v1M29.5 32v1M30.5 1v1M30.5 3v1M30.5 5v1M30.5 7v1M30.5 10v3M30.5 15v1M30.5 19v1M30.5 24v1M30.5 29v1M30.5 35v1M30.5 37v1M30.5 39v1M31.5 8v1M31.5 25v1M31.5 33v1M31.5 37v1M33.5 0v1M33.5 4v2M33.5 28v1M40.5 13v1M40.5 30v1M52.5 33v1M108.5 5v1M108.5 15v2M108.5 23v1M108.5 26v1M108.5 35v1M109.5 0v1M109.5 17v1M109.5 34v1M112.5 22v1M112.5 24v1M112.5 27v1M112.5 34v1M112.5 37v1M113.5 3v1M113.5 11v2M113.5 17v2M113.5 21v1M113.5 28v1M113.5 31v2M113.5 34v1M113.5 37v2M114.5 2v1M114.5 20v1M114.5 23v1M114.5 25v2M114.5 29v1M114.5 31v1M114.5 35v1M115.5 1v2M115.5 5v1M115.5 13v2M115.5 18v1M115.5 20v2M115.5 28v1M115.5 30v1M115.5 36v1M115.5 38v1M117.5 14v1M118.5 1v1M118.5 10v1M118.5 22v3M118.5 36v1M119.5 10v1M120.5 1v1M120.5 3v1M120.5 5v2M120.5 14v1M120.5 28v1M120.5 31v1M120.5 39v1M121.5 3v1M121.5 5v1M121.5 10v1M121.5 19v1M121.5 23v1M121.5 29v1M121.5 37v1M121.5 39v1M122.5 20v1M122.5 30v1M125.5 3v1M125.5 5v1M125.5 15v1M125.5 24v1M125.5 26v1M126.5 3v1M127.5 0v2M127.5 5v2M127.5 10v2M127.5 14v1M127.5 22v1M127.5 26v1M127.5 29v1M127.5 31v1M127.5 37v2M128.5 17v1M129.5 2v1M129.5 17v1M129.5 38v2M130.5 1v1M130.5 3v1M130.5 28v1M130.5 38v1M136.5 3v1M136.5 9v1M136.5 16v1M136.5 19v1M136.5 23v2M136.5 34v1M141.5 15v1M141.5 38v1M143.5 13v1M143.5 21v1M143.5 35v1M144.5 19v1M144.5 28v1M145.5 4v1M145.5 10v1M148.5 9v1M148.5 24v1M148.5 29v1M152.5 20v1M153.5 15v1M153.5 23v1M153.5 25v1M155.5 15v1M155.5 30v1M155.5 34v1M155.5 38v1M156.5 14v1M157.5 6v1M157.5 15v1M157.5 19v1M157.5 21v2M158.5 20v1M158.5 23v1M158.5 38v1M159.5 0v1M159.5 2v1M159.5 6v3M159.5 15v1M159.5 19v1M159.5 27v1M159.5 30v1M159.5 32v1M159.5 34v1M159.5 39v1M160.5 38v1M161.5 1v1M161.5 3v1M161.5 6v1M161.5 21v2M161.5 24v1M161.5 37v1M163.5 4v1M163.5 38v1M164.5 12v1M164.5 24v1M165.5 6v1M165.5 11v1M165.5 24v1M165.5 26v3M165.5 30v3M165.5 35v2M166.5 1v1M166.5 5v2M166.5 8v1M166.5 13v1M166.5 15v1M166.5 26v2M166.5 31v1M166.5 34v1M166.5 37v3M167.5 3v1M167.5 6v1M167.5 15v3M167.5 22v1M167.5 25v1M167.5 29v1M167.5 38v1M168.5 2v1M168.5 4v1M168.5 8v1M168.5 10v1M168.5 13v1M168.5 15v1M168.5 20v1M168.5 26v1M168.5 28v2M168.5 31v1M168.5 34v1M168.5 36v1M168.5 38v2M169.5 1v1M169.5 6v1M169.5 9v1M169.5 15v1M169.5 26v1M170.5 27v1M171.5 0v1M171.5 2v1M171.5 6v5M171.5 15v1M171.5 21v1M171.5 23v1M171.5 32v1M171.5 36v1M172.5 1v1M172.5 3v1M172.5 5v1M172.5 12v1M172.5 22v1M172.5 27v1M172.5 31v2M172.5 35v1M174.5 0v1M174.5 7v3M174.5 13v1M174.5 22v1M174.5 28v1M174.5 34v1M175.5 19v2M175.5 25v1M175.5 28v1M175.5 33v1M175.5 39v1M176.5 7v2M176.5 12v1M176.5 16v1M176.5 23v2M176.5 26v1M176.5 28v1M176.5 30v1M176.5 32v1M176.5 34v1M176.5 37v3M177.5 2v2M177.5 8v1M177.5 16v1M177.5 20v2M177.5 25v4M177.5 30v4M177.5 36v1M178.5 8v2M178.5 11v1M179.5 2v1M179.5 5v3M179.5 9v1M179.5 11v1M179.5 25v1M179.5 28v1M179.5 31v1M179.5 35v1M180.5 6v1M180.5 8v1M180.5 21v2M180.5 32v1M180.5 35v1M180.5 37v1M299.5 4v1M308.5 24v1"/>
<path stroke="#b9b9ff" d="M0.5 33v1M1.5 10v1M1.5 13v1M1.5 19v1M1.5 21v1M1.5 25v2M1.5 32v1M3.5 33v1M4.5 0v1M4.5 5v1M4.5 11v1M4.5 13v1M4.5 21v1M7.5 1v1M7.5 5v1M7.5 8v1M7.5 14v2M7.5 22v1M7.5 24v1M7.5 34v1M7.5 37v1M8.5 31v1M8.5 33v1M9.5 33v1M11.5 7v1M11.5 25v1M11.5 28v1M11.5 36v1M14.5 5v1M14.5 16v1M14.5 25v1M14.5 28v1M14.5 30v1M14.5 34v1M16.5 0v2M16.5 5v1M16.5 7v1M16.5 10v1M16.5 12v4M16.5 21v1M16.5 23v1M16.5 32v1M17.5 1v1M17.5 9v2M17.5 12v1M17.5 19v3M17.5 23v1M17.5 25v2M17.5 39v1M19.5 7v1M19.5 33v1M20.5 3v1M20.5 8v1M20.5 10v1M20.5 26v1M20.5 32v1M20.5 35v1M20.5 38v1M21.5 3v1M21.5 10v1M21.5 18v2M21.5 23v1M21.5 27v1M22.5 8v1M22.5 11v1M23.5 0v1M23.5 2v1M23.5 6v1M23.5 13v1M23.5 16v1M23.5 19v2M23.5 24v1M23.5 30v3M23.5 34v2M23.5 38v1M24.5 0v1M24.5 2v1M24.5 20v1M24.5 25v1M24.5 33v1M25.5 33v1M26.5 0v1M26.5 6v1M26.5 10v2M26.5 19v1M26.5 21v1M26.5 23v2M26.5 26v1M26.5 29v1M26.5 31v1M26.5 39v1M28.5 29v1M29.5 33v1M30.5 6v1M30.5 18v1M30.5 20v2M30.5 23v1M30.5 25v1M30.5 28v1M30.5 30v1M30.5 34v1M30.5 36v1M33.5 17v2M33.5 26v1M33.5 31v1M33.5 34v1M33.5 38v2M40.5 25v1M40.5 33v1M59.5 39v1M65.5 8v1M65.5 17v1M87.5 4v1M106.5 5v1M106.5 14v1M106.5 21v1M106.5 26v1M106.5 34v1M106.5 39v1M108.5 1v2M108.5 4v1M108.5 7v2M108.5 13v2M108.5 17v1M108.5 20v1M108.5 22v1M108.5 24v1M108.5 28v1M108.5 31v1M108.5 34v1M108.5 36v2M108.5 39v1M109.5 1v1M109.5 10v2M109.5 15v1M109.5 24v1M109.5 27v2M109.5 35v1M109.5 38v1M112.5 5v1M112.5 10v3M112.5 14v2M112.5 25v1M112.5 28v1M112.5 30v1M112.5 36v1M112.5 39v1M113.5 0v1M113.5 8v2M113.5 13v3M113.5 19v2M113.5 22v1M113.5 25v3M113.5 30v1M113.5 35v1M113.5 39v1M114.5 6v1M114.5 8v3M114.5 16v1M114.5 18v2M115.5 3v1M115.5 8v2M115.5 11v1M115.5 15v2M115.5 19v1M115.5 23v2M115.5 29v1M115.5 32v1M115.5 39v1M116.5 17v1M116.5 39v1M117.5 6v1M117.5 17v1M117.5 24v1M117.5 35v1M118.5 0v1M118.5 3v1M118.5 6v2M118.5 11v1M118.5 16v1M118.5 21v1M118.5 26v1M118.5 30v1M118.5 32v1M118.5 34v1M118.5 38v1M119.5 11v1M119.5 14v1M119.5 26v2M119.5 30v1M119.5 34v2M119.5 39v1M120.5 0v1M120.5 4v1M120.5 8v1M120.5 10v1M120.5 12v1M120.5 20v5M120.5 26v1M120.5 29v2M120.5 32v1M120.5 36v3M121.5 0v1M121.5 6v3M121.5 11v1M121.5 17v2M121.5 20v1M121.5 22v1M121.5 25v1M121.5 28v1M121.5 30v1M121.5 32v3M122.5 3v1M122.5 5v1M122.5 12v1M122.5 14v1M122.5 17v1M122.5 24v1M122.5 32v1M122.5 34v1M124.5 24v1M125.5 1v1M125.5 6v1M125.5 8v1M125.5 11v2M125.5 14v1M125.5 16v1M125.5 20v1M125.5 22v2M125.5 27v2M125.5 30v1M125.5 37v1M126.5 15v1M126.5 30v1M126.5 37v1M127.5 12v2M127.5 15v2M127.5 20v2M127.5 23v1M127.5 34v1M127.5 36v1M128.5 0v2M128.5 4v1M128.5 12v1M128.5 14v3M129.5 0v2M129.5 3v1M129.5 5v1M129.5 8v1M129.5 11v1M129.5 18v1M129.5 21v1M129.5 24v1M129.5 26v1M129.5 30v3M129.5 34v1M130.5 4v1M130.5 6v2M130.5 11v1M130.5 15v3M130.5 39v1M132.5 14v1M132.5 18v1M132.5 39v1M136.5 0v1M136.5 6v1M136.5 11v3M136.5 17v1M136.5 22v1M136.5 25v1M136.5 27v1M136.5 38v1M138.5 14v1M140.5 34v1M141.5 11v1M141.5 18v1M141.5 22v1M141.5 31v1M141.5 37v1M142.5 14v1M142.5 17v1M142.5 26v1M144.5 0v1M144.5 2v1M144.5 4v1M144.5 15v1M144.5 20v1M144.5 23v4M144.5 29v2M144.5 35v1M144.5 38v1M145.5 1v1M145.5 5v1M145.5 11v1M145.5 14v1M145.5 19v1M145.5 25v1M145.5 27v2M145.5 30v1M145.5 35v1M145.5 37v3M147.5 14v1M147.5 39v1M148.5 4v1M148.5 7v1M148.5 11v2M148.5 14v2M148.5 17v1M148.5 20v1M148.5 30v1M148.5 38v2M149.5 5v1M149.5 11v1M149.5 19v1M150.5 5v1M150.5 11v2M151.5 24v1M152.5 3v1M152.5 18v1M152.5 37v1M153.5 19v1M153.5 33v1M154.5 14v1M154.5 17v1M155.5 2v2M155.5 5v2M155.5 9v2M155.5 13v2M155.5 17v1M155.5 22v1M155.5 24v1M155.5 27v1M155.5 36v2M156.5 29v1M156.5 34v1M156.5 38v1M157.5 2v1M157.5 5v1M157.5 7v1M157.5 9v2M157.5 12v3M157.5 16v3M157.5 26v1M157.5 28v1M158.5 0v1M158.5 5v1M158.5 12v1M158.5 14v1M158.5 17v1M158.5 31v1M158.5 37v1M158.5 39v1M159.5 9v1M159.5 11v3M159.5 18v1M159.5 20v2M159.5 28v2M159.5 35v1M160.5 6v1M160.5 24v1M160.5 36v1M161.5 0v1M161.5 5v1M161.5 7v2M161.5 13v1M161.5 16v1M161.5 18v1M161.5 23v1M161.5 27v4M161.5 34v2M161.5 38v2M162.5 30v1M162.5 38v1M163.5 1v1M163.5 3v1M163.5 14v1M163.5 17v1M163.5 30v1M164.5 0v1M164.5 10v1M164.5 22v1M164.5 27v1M164.5 38v1M165.5 0v2M165.5 5v1M165.5 16v1M165.5 37v1M166.5 4v1M166.5 10v1M166.5 12v1M166.5 16v2M166.5 19v1M166.5 22v1M166.5 29v2M166.5 32v1M166.5 36v1M167.5 0v3M167.5 5v1M167.5 11v4M167.5 23v2M167.5 27v2M167.5 34v1M167.5 36v1M168.5 7v1M168.5 16v1M168.5 19v1M168.5 22v1M168.5 27v1M169.5 0v1M169.5 2v2M169.5 13v1M169.5 17v1M169.5 22v2M169.5 25v1M169.5 27v3M169.5 36v1M170.5 2v1M171.5 5v1M171.5 11v1M171.5 13v1M171.5 20v1M171.5 28v2M171.5 38v1M172.5 0v1M172.5 2v1M172.5 6v1M172.5 8v3M172.5 14v1M172.5 18v1M172.5 21v1M172.5 24v1M172.5 26v1M172.5 28v3M172.5 37v2M173.5 23v1M174.5 25v1M174.5 33v1M176.5 2v2M176.5 5v2M176.5 9v2M176.5 13v1M176.5 15v1M176.5 20v2M176.5 25v1M176.5 29v1M176.5 31v1M176.5 35v2M177.5 9v1M177.5 13v1M177.5 23v1M177.5 35v1M178.5 33v1M179.5 10v1M180.5 0v2M180.5 7v1M180.5 13v1M180.5 15v1M180.5 19v1M180.5 23v1M180.5 26v1M297.5 10v1M297.5 15v1M297.5 39v1M299.5 14v1M304.5 11v1M304.5 36v1M308.5 3v1M308.5 36v1M318.5 2v3M318.5 30v1"/>
<path stroke="#bfbfff" d="M1.5 8v1M1.5 23v1M1.5 33v1M4.5 28v1M6.5 33v1M7.5 0v1M7.5 3v1M7.5 6v1M7.5 10v1M7.5 12v1M7.5 17v1M7.5 23v1M7.5 28v1M7.5 32v1M7.5 38v2M11.5 6v1M11.5 16v1M12.5 33v1M13.5 33v1M14.5 13v1M14.5 33v1M16.5 9v1M16.5 11v1M16.5 24v2M16.5 29v1M16.5 39v1M17.5 2v1M17.5 8v1M17.5 16v1M17.5 28v1M17.5 33v2M20.5 13v1M20.5 22v1M21.5 9v1M21.5 21v1M21.5 32v2M21.5 39v1M22.5 16v1M22.5 33v1M23.5 9v1M23.5 18v1M23.5 21v1M23.5 23v1M23.5 25v1M23.5 33v1M25.5 8v1M26.5 5v1M26.5 12v1M26.5 22v1M26.5 27v1M26.5 33v1M28.5 33v1M30.5 0v1M30.5 2v1M30.5 13v1M30.5 26v2M30.5 31v3M33.5 1v1M33.5 3v1M33.5 8v1M33.5 10v2M33.5 13v2M33.5 20v1M33.5 29v1M33.5 32v1M33.5 35v3M54.5 24v1M56.5 1v1M56.5 3v1M58.5 26v1M65.5 4v1M65.5 14v2M65.5 27v2M65.5 35v1M65.5 38v1M87.5 5v1M87.5 9v1M87.5 11v1M87.5 17v1M87.5 22v3M87.5 30v1M87.5 37v2M104.5 24v1M106.5 1v1M106.5 4v1M106.5 17v1M106.5 35v1M108.5 0v1M108.5 3v1M108.5 6v1M108.5 9v3M108.5 18v2M108.5 21v1M108.5 25v1M108.5 29v1M108.5 32v1M108.5 38v1M109.5 3v4M109.5 9v1M109.5 12v1M109.5 14v1M109.5 18v1M109.5 20v3M109.5 26v1M109.5 30v1M109.5 39v1M110.5 11v2M110.5 35v1M111.5 28v1M112.5 0v2M112.5 6v1M112.5 13v1M112.5 17v1M112.5 19v2M112.5 23v1M112.5 38v1M113.5 2v1M113.5 6v2M113.5 10v1M113.5 16v1M113.5 23v1M113.5 29v1M114.5 11v1M115.5 0v1M115.5 7v1M115.5 10v1M115.5 22v1M115.5 26v1M116.5 3v2M116.5 11v2M116.5 15v1M116.5 24v1M116.5 26v2M116.5 34v1M116.5 37v1M117.5 12v2M117.5 22v1M117.5 26v1M117.5 36v1M118.5 2v1M118.5 8v2M118.5 18v1M118.5 20v1M118.5 25v1M118.5 27v3M118.5 33v1M118.5 37v1M118.5 39v1M119.5 0v2M119.5 4v1M119.5 6v3M119.5 13v1M119.5 15v1M119.5 17v2M119.5 20v1M119.5 22v1M119.5 24v1M119.5 31v2M120.5 2v1M120.5 7v1M120.5 9v1M120.5 13v1M120.5 15v5M121.5 2v1M121.5 9v1M121.5 12v1M122.5 0v3M122.5 15v1M122.5 19v1M122.5 22v2M122.5 25v4M122.5 35v2M122.5 38v2M123.5 38v1M125.5 0v1M125.5 4v1M125.5 7v1M125.5 9v2M125.5 13v1M125.5 18v1M125.5 21v1M125.5 29v1M125.5 34v2M125.5 38v2M126.5 2v1M126.5 4v4M126.5 12v2M126.5 20v1M126.5 31v1M126.5 35v1M126.5 39v1M127.5 2v1M127.5 4v1M127.5 8v1M127.5 32v1M128.5 6v1M128.5 24v1M128.5 26v2M128.5 30v1M128.5 37v1M129.5 4v1M129.5 6v1M129.5 14v2M129.5 22v2M129.5 25v1M129.5 27v2M129.5 35v2M130.5 0v1M130.5 5v1M130.5 9v1M130.5 12v1M130.5 14v1M130.5 22v2M130.5 29v3M130.5 36v1M132.5 6v1M132.5 22v1M132.5 24v1M132.5 37v2M136.5 1v1M136.5 10v1M136.5 15v1M136.5 21v1M136.5 26v1M136.5 28v2M136.5 32v1M136.5 35v3M136.5 39v1M137.5 38v1M138.5 0v2M138.5 4v1M138.5 9v1M138.5 12v1M138.5 24v1M138.5 30v1M138.5 34v2M138.5 38v2M140.5 15v1M141.5 4v2M141.5 12v1M141.5 14v1M141.5 23v1M141.5 26v2M141.5 35v2M142.5 0v1M142.5 2v1M142.5 6v1M142.5 10v2M142.5 18v1M142.5 27v1M142.5 38v1M143.5 33v1M144.5 1v1M144.5 3v1M144.5 5v1M144.5 14v1M144.5 18v1M144.5 22v1M144.5 34v1M144.5 39v1M145.5 0v1M145.5 7v1M145.5 12v2M145.5 15v3M145.5 23v1M145.5 26v1M145.5 29v1M145.5 34v1M145.5 36v1M146.5 4v1M146.5 27v1M147.5 5v2M147.5 18v1M147.5 27v1M148.5 3v1M148.5 8v1M148.5 13v1M148.5 16v1M148.5 23v1M148.5 28v1M148.5 34v4M149.5 16v1M149.5 27v1M149.5 37v1M150.5 0v2M150.5 7v1M150.5 10v1M150.5 16v2M150.5 24v1M150.5 35v1M150.5 37v2M151.5 1v1M151.5 3v1M151.5 5v1M151.5 8v1M151.5 12v1M151.5 17v1M151.5 20v1M151.5 23v1M151.5 26v1M151.5 30v1M151.5 34v1M151.5 36v2M152.5 1v1M152.5 4v1M152.5 6v1M152.5 9v1M152.5 15v1M152.5 17v1M152.5 24v1M152.5 26v2M152.5 31v1M152.5 34v2M152.5 39v1M154.5 3v1M154.5 24v1M154.5 28v1M154.5 35v1M155.5 0v2M155.5 7v2M155.5 11v2M155.5 18v4M155.5 23v1M155.5 26v1M155.5 28v2M155.5 39v1M156.5 1v1M156.5 4v1M156.5 7v1M156.5 13v1M156.5 15v1M156.5 26v1M156.5 32v1M156.5 37v1M157.5 8v1M157.5 20v1M157.5 23v1M157.5 27v1M157.5 30v1M157.5 32v1M157.5 36v1M157.5 39v1M158.5 3v1M158.5 6v2M158.5 11v1M158.5 15v1M158.5 18v2M158.5 22v1M158.5 26v2M158.5 34v1M158.5 36v1M159.5 3v1M159.5 22v1M160.5 31v1M161.5 9v1M161.5 25v1M161.5 31v1M161.5 33v1M163.5 5v1M163.5 8v1M163.5 10v1M163.5 12v1M163.5 15v2M163.5 21v1M163.5 23v1M163.5 26v1M163.5 28v1M163.5 31v1M163.5 34v1M163.5 39v1M164.5 1v5M164.5 9v1M164.5 15v1M164.5 29v2M164.5 37v1M165.5 2v3M165.5 7v3M165.5 13v1M165.5 18v2M165.5 22v1M165.5 25v1M165.5 29v1M165.5 33v2M165.5 39v1M166.5 2v1M166.5 9v1M166.5 11v1M166.5 14v1M166.5 18v1M166.5 20v2M166.5 24v2M166.5 28v1M167.5 7v1M167.5 10v1M167.5 21v1M167.5 26v1M167.5 31v2M168.5 9v1M169.5 4v2M169.5 7v1M169.5 10v2M169.5 20v1M169.5 31v1M171.5 25v1M171.5 33v1M172.5 7v1M172.5 16v1M172.5 19v1M172.5 25v1M172.5 36v1M174.5 19v1M176.5 0v1M176.5 11v1M176.5 18v2M176.5 22v1M177.5 0v1M177.5 29v1M179.5 19v1M179.5 29v1M179.5 33v1M180.5 2v1M180.5 5v1M180.5 9v2M180.5 12v1M180.5 16v1M180.5 20v1M180.5 25v1M180.5 28v3M266.5 10v1M297.5 2v1M297.5 4v2M297.5 11v1M297.5 14v1M297.5 16v2M297.5 30v1M299.5 2v1M299.5 6v1M299.5 15v1M299.5 17v2M299.5 37v2M304.5 1v1M304.5 3v5M304.5 14v2M304.5 19v2M304.5 35v1M304.5 38v2M308.5 4v1M308.5 9v1M308.5 12v1M308.5 25v1M309.5 1v1M309.5 14v2M309.5 26v1M309.5 38v1M310.5 4v1M310.5 39v1M318.5 0v1M318.5 5v1M318.5 7v1M318.5 14v1M318.5 17v1M318.5 19v1M318.5 22v1M318.5 24v1M318.5 26v1M318.5 38v1"/>
<path stroke="#ccccff" d="M7.5 2v1M7.5 9v1M7.5 13v1M7.5 20v1M7.5 30v2M7.5 33v1M16.5 20v1M20.5 33v1M30.5 9v1M33.5 15v2M33.5 27v1M33.5 30v1M53.5 14v2M53.5 20v1M53.5 31v1M53.5 36v1M54.5 4v1M54.5 10v1M54.5 25v1M54.5 28v1M54.5 35v1M55.5 10v1M56.5 0v1M56.5 5v1M56.5 14v1M56.5 16v1M56.5 18v1M56.5 28v1M56.5 38v1M58.5 1v1M58.5 4v2M58.5 11v1M58.5 18v1M58.5 23v1M58.5 27v1M58.5 34v1M58.5 36v1M58.5 38v1M59.5 1v1M59.5 8v1M59.5 14v1M59.5 17v1M59.5 26v2M59.5 34v1M59.5 36v1M59.5 38v1M60.5 14v1M60.5 17v1M62.5 2v5M62.5 10v1M62.5 15v1M62.5 20v1M62.5 28v1M62.5 36v1M62.5 39v1M63.5 15v1M63.5 22v1M63.5 34v1M64.5 6v1M64.5 15v1M64.5 27v1M64.5 35v1M64.5 39v1M65.5 1v2M65.5 5v2M65.5 13v1M65.5 22v1M65.5 26v1M65.5 29v4M65.5 34v1M65.5 39v1M66.5 0v1M66.5 2v1M66.5 6v1M66.5 14v1M66.5 16v1M66.5 27v1M66.5 36v1M66.5 39v1M68.5 4v1M68.5 6v1M68.5 9v1M68.5 14v2M68.5 26v1M68.5 37v1M69.5 17v1M70.5 24v1M70.5 38v1M72.5 3v1M72.5 6v1M72.5 24v1M72.5 26v1M73.5 1v1M74.5 6v1M74.5 10v1M74.5 15v1M74.5 17v1M74.5 22v1M74.5 24v1M74.5 32v1M74.5 34v1M74.5 39v1M76.5 17v1M76.5 24v1M76.5 32v1M77.5 10v1M77.5 12v1M77.5 30v1M79.5 3v2M79.5 11v1M79.5 34v1M82.5 4v2M82.5 12v1M82.5 24v1M82.5 26v1M82.5 30v2M82.5 36v1M83.5 36v1M84.5 24v1M84.5 27v1M85.5 1v1M86.5 15v1M86.5 22v1M87.5 0v1M87.5 8v1M87.5 12v1M87.5 16v1M87.5 19v1M87.5 25v2M87.5 39v1M91.5 1v1M91.5 14v1M91.5 21v1M91.5 27v1M91.5 34v1M91.5 37v1M92.5 15v1M92.5 34v1M92.5 39v1M93.5 2v2M93.5 15v1M94.5 4v1M94.5 6v1M94.5 12v1M94.5 14v1M94.5 18v2M94.5 24v1M94.5 26v1M94.5 32v1M94.5 38v1M98.5 11v1M99.5 17v1M99.5 27v1M104.5 4v1M104.5 7v1M104.5 12v1M104.5 17v1M104.5 19v1M104.5 26v1M104.5 31v1M104.5 37v1M106.5 0v1M106.5 2v2M106.5 6v2M106.5 11v1M106.5 23v1M106.5 25v1M106.5 27v2M106.5 31v2M108.5 12v1M108.5 33v1M109.5 8v1M109.5 13v1M109.5 19v1M109.5 25v1M109.5 32v2M109.5 36v1M110.5 6v1M110.5 8v1M110.5 15v1M110.5 18v1M110.5 27v1M110.5 31v2M110.5 36v1M110.5 38v1M111.5 3v3M111.5 8v1M111.5 12v1M111.5 15v1M111.5 22v1M111.5 32v1M111.5 35v3M112.5 2v1M112.5 7v1M112.5 9v1M112.5 18v1M113.5 33v1M116.5 1v1M116.5 5v1M116.5 14v1M116.5 18v1M116.5 20v1M116.5 22v1M116.5 29v3M117.5 1v2M117.5 8v1M117.5 15v1M117.5 19v3M117.5 25v1M117.5 27v2M117.5 30v3M117.5 37v1M117.5 39v1M119.5 3v1M119.5 16v1M119.5 33v1M119.5 38v1M122.5 7v1M122.5 9v1M122.5 11v1M122.5 33v1M123.5 0v1M123.5 3v1M123.5 11v1M123.5 20v4M123.5 28v1M124.5 1v1M124.5 3v1M124.5 11v1M124.5 19v2M124.5 23v1M124.5 25v1M124.5 28v1M125.5 33v1M126.5 8v2M126.5 17v3M126.5 22v2M126.5 26v4M126.5 32v3M126.5 38v1M127.5 33v1M128.5 13v1M128.5 18v3M128.5 25v1M128.5 32v1M128.5 35v1M128.5 38v1M129.5 7v1M129.5 20v1M130.5 13v1M130.5 21v1M130.5 27v1M130.5 34v1M131.5 0v1M131.5 4v2M131.5 14v1M131.5 17v3M131.5 23v1M131.5 25v3M131.5 30v2M132.5 1v3M132.5 7v1M132.5 9v1M132.5 15v1M132.5 20v1M132.5 26v1M132.5 28v1M132.5 31v1M133.5 2v1M133.5 12v1M133.5 14v2M133.5 18v1M133.5 24v1M133.5 28v1M133.5 31v1M133.5 37v1M134.5 4v1M134.5 9v1M134.5 17v2M134.5 26v3M134.5 39v1M135.5 7v1M135.5 9v1M135.5 12v2M135.5 17v1M135.5 23v1M135.5 26v1M135.5 30v2M135.5 36v4M136.5 33v1M137.5 4v2M137.5 9v1M137.5 14v1M137.5 17v1M137.5 27v1M137.5 29v1M137.5 31v1M137.5 34v1M137.5 37v1M138.5 8v1M138.5 10v2M138.5 15v1M138.5 18v1M138.5 22v1M138.5 26v1M138.5 29v1M138.5 37v1M139.5 10v1M139.5 12v1M140.5 1v1M140.5 4v2M140.5 7v1M140.5 12v1M140.5 19v2M140.5 22v1M140.5 31v2M140.5 37v3M141.5 9v2M141.5 13v1M141.5 16v1M141.5 20v1M141.5 24v1M142.5 3v1M142.5 5v1M142.5 8v2M142.5 13v1M142.5 16v1M142.5 19v4M142.5 32v2M142.5 35v1M144.5 11v1M144.5 16v1M144.5 21v1M144.5 27v1M144.5 31v2M145.5 9v1M145.5 18v1M145.5 20v1M146.5 1v1M146.5 5v1M146.5 7v2M146.5 10v3M146.5 19v2M146.5 22v5M146.5 28v1M146.5 30v2M146.5 36v3M147.5 0v1M147.5 2v1M147.5 9v1M147.5 12v2M147.5 16v1M147.5 19v1M147.5 22v1M147.5 25v2M147.5 28v2M147.5 31v1M147.5 36v3M148.5 2v1M148.5 5v1M148.5 31v1M149.5 1v1M149.5 3v1M149.5 6v1M149.5 9v1M149.5 12v1M149.5 18v1M149.5 24v1M149.5 32v1M149.5 39v1M150.5 2v1M150.5 19v2M150.5 22v1M150.5 27v1M150.5 31v2M150.5 36v1M151.5 0v1M151.5 11v1M151.5 13v1M151.5 15v1M151.5 18v1M151.5 28v2M152.5 0v1M152.5 2v1M152.5 8v1M152.5 12v1M152.5 23v1M152.5 25v1M152.5 38v1M154.5 0v1M154.5 4v2M154.5 10v3M154.5 15v1M154.5 19v3M154.5 23v1M154.5 25v3M154.5 31v1M154.5 38v2M155.5 31v1M156.5 3v1M156.5 8v2M156.5 11v1M156.5 16v1M156.5 20v1M156.5 27v2M156.5 30v2M156.5 35v2M156.5 39v1M157.5 3v1M157.5 25v1M157.5 38v1M158.5 1v2M158.5 13v1M158.5 33v1M158.5 35v1M160.5 0v1M160.5 2v1M160.5 4v2M160.5 8v2M160.5 13v1M160.5 15v1M160.5 21v1M160.5 27v1M160.5 29v2M160.5 32v1M160.5 37v1M160.5 39v1M162.5 4v1M162.5 9v1M162.5 15v1M162.5 18v1M162.5 23v2M162.5 29v1M162.5 31v1M162.5 34v1M162.5 36v2M162.5 39v1M163.5 0v1M163.5 2v1M163.5 7v1M163.5 27v1M164.5 11v1M164.5 18v1M164.5 32v1M164.5 34v1M167.5 33v1M169.5 33v1M180.5 33v1M180.5 38v1M264.5 0v2M264.5 9v2M264.5 18v1M264.5 20v1M264.5 24v1M264.5 31v1M264.5 38v1M266.5 5v1M266.5 14v2M294.5 15v1M294.5 36v1M297.5 1v1M297.5 6v1M297.5 19v1M297.5 21v1M297.5 23v1M297.5 25v1M297.5 29v1M297.5 36v1M298.5 2v1M298.5 8v1M298.5 21v1M298.5 27v1M298.5 30v1M298.5 35v1M299.5 8v1M299.5 16v1M299.5 19v1M299.5 21v1M299.5 29v2M299.5 33v2M299.5 39v1M300.5 5v1M300.5 7v1M300.5 10v1M300.5 16v1M300.5 22v1M300.5 27v1M300.5 30v1M300.5 35v1M300.5 38v1M301.5 15v1M301.5 17v1M301.5 21v1M301.5 23v2M301.5 28v1M301.5 34v1M301.5 37v1M301.5 39v1M302.5 30v1M303.5 1v1M303.5 12v1M303.5 24v1M303.5 26v1M303.5 32v1M304.5 2v1M304.5 10v1M304.5 12v2M304.5 17v2M304.5 22v1M304.5 24v1M304.5 26v1M304.5 29v1M304.5 31v1M304.5 37v1M305.5 38v1M306.5 1v1M306.5 3v2M306.5 9v1M306.5 23v2M306.5 31v1M306.5 38v2M308.5 5v3M308.5 13v1M308.5 15v1M308.5 20v1M308.5 23v1M308.5 29v1M308.5 31v1M308.5 34v1M308.5 37v1M308.5 39v1M309.5 5v3M309.5 10v2M309.5 13v1M309.5 16v2M309.5 20v3M309.5 24v1M309.5 28v1M309.5 30v1M309.5 34v1M309.5 36v1M309.5 39v1M310.5 5v1M310.5 13v1M310.5 17v1M310.5 20v1M310.5 27v1M310.5 30v2M310.5 35v1M311.5 0v1M311.5 4v2M311.5 14v1M311.5 17v2M311.5 20v1M311.5 24v1M311.5 36v1M312.5 4v1M312.5 18v1M312.5 23v2M312.5 26v1M312.5 39v1M314.5 17v1M315.5 26v1M316.5 3v2M316.5 27v1M316.5 31v1M316.5 34v1M317.5 3v2M317.5 12v1M317.5 14v4M317.5 20v1M317.5 31v1M317.5 34v2M317.5 39v1M318.5 11v1M318.5 13v1M318.5 16v1M318.5 18v1M318.5 23v1M318.5 27v1M318.5 29v1M318.5 32v2M318.5 35v2M318.5 39v1M325.5 38v1"/>
<path stroke="#c6c6ff" d="M7.5 4v1M7.5 7v1M7.5 11v1M7.5 18v2M7.5 21v1M7.5 25v1M7.5 27v1M7.5 29v1M7.5 36v1M12.5 9v1M16.5 2v1M16.5 8v1M16.5 33v1M17.5 6v1M17.5 29v1M20.5 25v1M21.5 25v1M26.5 7v1M30.5 8v1M30.5 16v1M30.5 22v1M33.5 6v2M33.5 9v1M33.5 19v1M33.5 21v4M53.5 12v1M53.5 38v1M54.5 17v1M54.5 20v1M54.5 39v1M56.5 10v1M56.5 15v1M56.5 20v1M56.5 37v1M64.5 1v1M64.5 4v1M64.5 24v1M64.5 26v1M65.5 7v1M65.5 10v1M65.5 12v1M65.5 18v4M65.5 24v1M65.5 37v1M66.5 10v1M66.5 17v1M66.5 30v1M74.5 2v1M79.5 0v1M79.5 15v1M79.5 27v1M79.5 30v1M79.5 39v1M82.5 16v1M82.5 37v1M84.5 38v1M86.5 17v1M87.5 1v1M87.5 3v1M87.5 10v1M87.5 14v2M87.5 18v1M87.5 27v2M87.5 31v1M87.5 34v1M87.5 36v1M89.5 14v1M91.5 12v1M91.5 17v1M92.5 1v1M93.5 26v1M94.5 10v2M94.5 15v1M94.5 27v1M94.5 31v1M94.5 37v1M104.5 5v1M104.5 36v1M106.5 8v3M106.5 12v1M106.5 15v2M106.5 18v1M106.5 22v1M106.5 24v1M106.5 29v2M106.5 36v3M108.5 30v1M109.5 2v1M109.5 7v1M109.5 16v1M109.5 23v1M109.5 29v1M109.5 31v1M110.5 1v1M110.5 3v3M110.5 10v1M110.5 14v1M110.5 17v1M110.5 21v2M110.5 24v1M110.5 28v1M110.5 30v1M111.5 14v1M111.5 16v2M111.5 20v2M111.5 23v2M111.5 27v1M112.5 3v1M112.5 8v1M112.5 16v1M112.5 26v1M112.5 31v2M113.5 4v2M113.5 36v1M114.5 33v1M115.5 33v1M116.5 6v4M116.5 13v1M116.5 16v1M116.5 35v2M116.5 38v1M117.5 0v1M117.5 3v1M117.5 5v1M117.5 7v1M117.5 9v3M117.5 16v1M117.5 18v1M117.5 23v1M118.5 5v1M118.5 12v2M118.5 19v1M118.5 35v1M119.5 2v1M119.5 9v1M119.5 19v1M119.5 21v1M119.5 25v1M119.5 28v2M119.5 36v2M120.5 11v1M120.5 25v1M120.5 27v1M120.5 34v2M121.5 13v1M121.5 16v1M122.5 6v1M122.5 8v1M122.5 10v1M122.5 13v1M122.5 16v1M122.5 18v1M122.5 21v1M122.5 31v1M122.5 37v1M123.5 1v1M123.5 4v2M123.5 17v1M123.5 24v1M123.5 31v2M123.5 34v1M123.5 36v2M124.5 6v1M124.5 9v1M124.5 14v1M124.5 17v1M124.5 35v1M124.5 38v1M125.5 2v1M125.5 19v1M125.5 32v1M125.5 36v1M126.5 0v2M126.5 10v2M126.5 14v1M126.5 16v1M126.5 21v1M126.5 24v1M126.5 36v1M127.5 9v1M127.5 19v1M128.5 2v2M128.5 5v1M128.5 8v1M128.5 10v2M128.5 22v1M128.5 28v1M128.5 31v1M128.5 39v1M129.5 9v2M129.5 12v2M129.5 16v1M129.5 19v1M129.5 29v1M129.5 37v1M130.5 2v1M130.5 10v1M130.5 18v3M130.5 24v1M130.5 26v1M130.5 32v2M130.5 35v1M130.5 37v1M131.5 1v1M131.5 3v1M131.5 9v1M131.5 24v1M131.5 34v1M132.5 4v2M132.5 12v2M132.5 17v1M132.5 19v1M132.5 21v1M132.5 27v1M132.5 35v2M133.5 5v1M133.5 34v1M133.5 36v1M133.5 38v2M134.5 0v1M134.5 10v1M134.5 12v1M134.5 22v1M134.5 30v1M134.5 32v1M135.5 0v1M135.5 14v1M136.5 2v1M136.5 7v2M136.5 30v1M137.5 15v1M137.5 35v1M138.5 3v1M138.5 7v1M138.5 13v1M138.5 16v2M138.5 20v2M138.5 23v1M138.5 25v1M138.5 27v1M138.5 32v1M138.5 36v1M140.5 8v1M140.5 18v1M140.5 23v2M140.5 26v3M140.5 30v1M140.5 35v2M141.5 0v4M141.5 6v1M141.5 17v1M141.5 19v1M141.5 25v1M141.5 28v1M141.5 30v1M141.5 32v1M142.5 1v1M142.5 4v1M142.5 12v1M142.5 15v1M142.5 24v1M142.5 28v4M142.5 34v1M142.5 36v2M142.5 39v1M144.5 6v1M144.5 8v3M144.5 13v1M144.5 33v1M144.5 36v2M145.5 2v2M145.5 6v1M145.5 22v1M145.5 24v1M145.5 31v2M146.5 15v1M146.5 32v1M147.5 1v1M147.5 4v1M147.5 7v1M147.5 10v2M147.5 17v1M147.5 20v1M147.5 23v2M147.5 30v1M147.5 32v1M147.5 34v2M148.5 0v2M148.5 6v1M148.5 10v1M148.5 18v2M148.5 21v2M148.5 25v2M148.5 33v1M149.5 0v1M149.5 4v1M149.5 21v2M149.5 30v1M149.5 35v1M150.5 3v2M150.5 6v1M150.5 13v3M150.5 18v1M150.5 21v1M150.5 23v1M150.5 25v2M150.5 28v1M150.5 30v1M150.5 34v1M151.5 2v1M151.5 4v1M151.5 6v2M151.5 9v2M151.5 14v1M151.5 16v1M151.5 19v1M151.5 21v2M151.5 25v1M151.5 27v1M151.5 32v1M151.5 35v1M151.5 38v1M152.5 5v1M152.5 7v1M152.5 10v1M152.5 13v2M152.5 21v2M152.5 28v1M152.5 30v1M154.5 1v1M154.5 6v1M154.5 8v1M154.5 22v1M154.5 30v1M154.5 32v1M154.5 34v1M155.5 16v1M155.5 32v2M156.5 2v1M156.5 5v1M156.5 10v1M156.5 12v1M156.5 17v2M156.5 22v3M157.5 11v1M157.5 29v1M157.5 34v1M157.5 37v1M158.5 4v1M158.5 8v1M158.5 10v1M158.5 16v1M158.5 21v1M158.5 24v2M158.5 28v1M158.5 30v1M158.5 32v1M159.5 33v1M160.5 1v1M160.5 3v1M160.5 14v1M160.5 16v3M160.5 23v1M160.5 26v1M160.5 34v2M161.5 2v1M161.5 11v1M161.5 19v2M162.5 1v1M162.5 5v2M162.5 10v1M162.5 14v1M163.5 6v1M163.5 9v1M163.5 11v1M163.5 13v1M163.5 18v3M163.5 22v1M163.5 24v1M163.5 29v1M163.5 32v1M163.5 35v3M164.5 6v2M164.5 13v2M164.5 16v2M164.5 19v3M164.5 28v1M164.5 33v1M164.5 35v2M164.5 39v1M165.5 20v2M165.5 23v1M167.5 8v2M167.5 19v1M167.5 35v1M168.5 33v1M169.5 19v1M172.5 11v1M172.5 13v1M172.5 20v1M172.5 23v1M172.5 33v1M176.5 33v1M180.5 36v1M266.5 39v1M297.5 3v1M297.5 7v3M297.5 12v1M297.5 18v1M297.5 20v1M297.5 22v1M297.5 24v1M297.5 26v3M297.5 31v2M297.5 34v1M297.5 37v2M298.5 20v1M299.5 0v2M299.5 3v1M299.5 5v1M299.5 7v1M299.5 9v5M299.5 20v1M299.5 23v2M299.5 26v2M299.5 31v2M299.5 36v1M300.5 15v1M300.5 19v1M301.5 1v1M301.5 3v1M301.5 5v1M301.5 31v1M301.5 38v1M303.5 35v2M304.5 0v1M304.5 8v1M304.5 16v1M304.5 23v1M304.5 27v1M304.5 30v1M304.5 34v1M305.5 14v1M305.5 39v1M306.5 11v1M306.5 15v1M306.5 17v1M306.5 34v1M308.5 1v2M308.5 10v2M308.5 14v1M308.5 17v3M308.5 28v1M308.5 30v1M308.5 35v1M308.5 38v1M309.5 0v1M309.5 18v1M309.5 37v1M310.5 36v1M311.5 10v1M311.5 15v1M311.5 22v1M311.5 30v1M312.5 10v2M312.5 17v1M312.5 30v1M315.5 17v1M315.5 35v1M316.5 1v1M316.5 35v1M317.5 28v1M318.5 1v1M318.5 6v1M318.5 8v2M318.5 12v1M318.5 15v1M318.5 31v1M318.5 37v1M322.5 35v1"/>
<path stroke="#8686ff" d="M10.5 4v1M10.5 17v2M15.5 5v1M15.5 12v1M15.5 24v1M15.5 34v1M15.5 38v2M18.5 4v1M18.5 18v1M18.5 24v1M18.5 26v1M34.5 13v3M34.5 34v1M34.5 38v1M35.5 5v1M35.5 15v1M35.5 36v1M36.5 20v1M36.5 24v2M36.5 30v1M36.5 34v1M37.5 0v1M37.5 11v1M37.5 13v1M37.5 16v1M37.5 20v1M37.5 23v1M37.5 26v1M37.5 32v1M38.5 4v1M38.5 26v1M38.5 37v1M39.5 4v1M42.5 5v2M42.5 8v1M42.5 12v2M42.5 19v1M42.5 22v2M43.5 5v1M43.5 12v1M43.5 17v1M43.5 38v1M44.5 2v1M44.5 7v1M44.5 9v1M44.5 11v1M44.5 13v2M44.5 20v1M44.5 23v1M44.5 26v1M44.5 29v1M44.5 32v1M44.5 34v1M45.5 15v1M45.5 26v1M46.5 2v1M46.5 24v1M47.5 0v1M47.5 4v3M47.5 8v1M47.5 14v2M47.5 18v1M47.5 21v2M47.5 31v1M47.5 34v2M47.5 38v2M48.5 2v1M48.5 16v1M49.5 21v1M49.5 26v2M49.5 35v1M49.5 38v1M50.5 4v1M50.5 27v2M50.5 31v1M50.5 38v1M51.5 3v1M51.5 5v1M51.5 13v1M51.5 21v1M51.5 27v1M51.5 31v1M51.5 38v2M52.5 10v1"/>
<path stroke="#8080ff" d="M15.5 30v1M18.5 14v1M18.5 34v1M32.5 33v1M34.5 4v1M35.5 3v1M35.5 6v1M35.5 37v1M36.5 12v1M37.5 1v1M37.5 7v3M37.5 12v1M37.5 19v1M37.5 21v1M37.5 28v2M37.5 31v1M37.5 35v1M37.5 38v1M42.5 0v1M42.5 3v1M42.5 14v3M42.5 20v1M42.5 24v2M42.5 30v1M42.5 35v1M42.5 37v2M43.5 16v1M44.5 21v2M44.5 27v1M44.5 31v1M44.5 35v4M47.5 37v1M48.5 19v1M48.5 32v1M49.5 28v1M49.5 36v1M51.5 1v1M51.5 4v1M51.5 6v1M51.5 9v1M51.5 12v1M51.5 14v1M51.5 24v1M51.5 28v1M51.5 35v1M51.5 37v1"/>
<path stroke="#6060ff" d="M32.5 0v1M32.5 11v1M32.5 19v1M32.5 29v1M32.5 31v1M32.5 35v2"/>
<path stroke="#5959ff" d="M32.5 1v1M32.5 4v2M32.5 8v1M32.5 10v1M32.5 13v1M32.5 17v1M32.5 20v1M32.5 22v1M32.5 25v1M32.5 28v1M32.5 38v1"/>
<path stroke="#6666ff" d="M32.5 2v1M32.5 34v1M48.5 5v1M48.5 15v1M48.5 23v1M48.5 26v1M48.5 34v1M48.5 37v1"/>
<path stroke="#5353ff" d="M32.5 3v1M32.5 9v1M32.5 14v2M32.5 18v1M32.5 23v2M32.5 26v2M32.5 37v1"/>
<path stroke="#4d4dff" d="M32.5 6v1M32.5 12v1M32.5 21v1M32.5 30v1"/>
<path stroke="#6c6cff" d="M32.5 7v1M32.5 32v1M42.5 1v1M48.5 4v1M48.5 8v1M48.5 12v2M48.5 17v2M48.5 20v1M48.5 24v1M48.5 31v1M48.5 35v1M48.5 38v2"/>
<path stroke="#4646ff" d="M32.5 16v1M32.5 39v1"/>
<path stroke="#d2d2ff" d="M33.5 2v1M33.5 25v1M33.5 33v1M53.5 6v6M53.5 16v1M53.5 24v3M53.5 37v1M53.5 39v1M54.5 1v1M54.5 5v1M54.5 12v1M54.5 14v1M54.5 18v1M54.5 31v2M54.5 34v1M54.5 36v3M55.5 0v1M55.5 4v2M55.5 14v1M55.5 17v2M55.5 26v1M55.5 28v1M55.5 30v1M55.5 38v1M56.5 4v1M56.5 7v2M56.5 11v1M56.5 17v1M56.5 22v2M56.5 26v1M56.5 31v2M56.5 35v1M57.5 24v1M58.5 3v1M58.5 6v2M58.5 10v1M58.5 13v1M58.5 15v1M58.5 22v1M58.5 25v1M58.5 30v2M58.5 35v1M58.5 39v1M59.5 0v1M59.5 4v1M59.5 12v1M59.5 18v1M59.5 20v1M59.5 22v1M59.5 24v1M59.5 31v2M59.5 35v1M60.5 4v1M60.5 10v1M60.5 31v1M60.5 37v1M62.5 1v1M62.5 8v1M62.5 17v1M62.5 22v1M62.5 33v1M62.5 38v1M63.5 1v2M63.5 6v1M63.5 12v1M63.5 14v1M63.5 17v1M63.5 27v1M63.5 31v1M63.5 39v1M64.5 2v1M64.5 5v1M64.5 14v1M64.5 16v2M64.5 21v1M64.5 30v1M64.5 34v1M65.5 0v1M65.5 3v1M65.5 9v1M65.5 11v1M65.5 16v1M65.5 23v1M65.5 25v1M65.5 33v1M66.5 5v1M66.5 8v1M66.5 15v1M66.5 20v1M66.5 22v1M66.5 24v1M66.5 28v1M66.5 31v1M66.5 34v1M66.5 38v1M68.5 0v1M68.5 3v1M68.5 5v1M68.5 16v1M68.5 20v1M68.5 23v3M68.5 30v3M68.5 34v1M69.5 24v1M69.5 31v1M70.5 4v1M70.5 17v1M70.5 23v1M70.5 31v1M72.5 1v1M72.5 15v1M72.5 17v1M72.5 27v2M72.5 35v3M73.5 31v1M74.5 3v3M74.5 11v2M74.5 16v1M74.5 18v4M74.5 30v1M74.5 35v2M76.5 3v2M76.5 10v1M76.5 14v1M76.5 26v1M76.5 35v1M76.5 38v1M77.5 0v1M77.5 2v1M77.5 14v2M77.5 17v1M77.5 20v1M77.5 24v1M77.5 28v2M77.5 37v2M79.5 13v2M79.5 16v2M79.5 20v1M79.5 22v3M79.5 35v1M79.5 37v2M82.5 6v1M82.5 10v1M82.5 15v1M82.5 18v3M82.5 27v3M82.5 32v1M82.5 35v1M83.5 14v1M84.5 3v3M84.5 10v1M84.5 31v1M84.5 36v1M84.5 39v1M85.5 22v1M86.5 1v1M86.5 4v1M86.5 14v1M86.5 18v1M86.5 30v1M87.5 2v1M87.5 6v2M87.5 13v1M87.5 20v1M87.5 29v1M87.5 32v2M89.5 0v1M89.5 12v1M89.5 15v3M89.5 20v1M89.5 26v1M89.5 37v1M91.5 9v1M91.5 15v1M91.5 24v2M91.5 30v2M91.5 36v1M92.5 2v2M92.5 5v1M92.5 24v1M92.5 28v1M92.5 37v2M93.5 0v1M93.5 10v1M93.5 17v3M93.5 21v1M93.5 23v2M93.5 35v2M94.5 0v1M94.5 3v1M94.5 13v1M94.5 22v2M94.5 29v2M94.5 33v1M94.5 39v1M98.5 14v1M98.5 35v1M98.5 38v1M99.5 4v1M99.5 6v1M99.5 11v1M99.5 18v1M99.5 29v1M99.5 36v2M100.5 38v1M103.5 3v1M103.5 28v1M104.5 6v1M104.5 8v1M104.5 14v2M104.5 20v1M104.5 23v1M104.5 25v1M104.5 27v1M104.5 29v1M104.5 35v1M104.5 38v2M106.5 19v2M110.5 2v1M110.5 7v1M110.5 9v1M110.5 13v1M110.5 16v1M110.5 20v1M110.5 23v1M110.5 26v1M110.5 29v1M110.5 37v1M111.5 1v1M111.5 6v1M111.5 9v1M111.5 11v1M111.5 19v1M111.5 25v2M111.5 31v1M111.5 34v1M111.5 39v1M112.5 21v1M112.5 29v1M112.5 33v1M112.5 35v1M116.5 0v1M116.5 2v1M116.5 10v1M116.5 19v1M116.5 25v1M116.5 28v1M116.5 32v1M117.5 4v1M117.5 29v1M117.5 34v1M117.5 38v1M119.5 23v1M120.5 33v1M123.5 6v1M123.5 8v3M123.5 12v1M123.5 14v3M123.5 18v1M123.5 26v2M123.5 35v1M123.5 39v1M124.5 4v2M124.5 7v2M124.5 10v1M124.5 18v1M124.5 21v1M124.5 29v1M124.5 36v1M124.5 39v1M126.5 25v1M128.5 7v1M128.5 9v1M128.5 21v1M128.5 23v1M128.5 33v2M129.5 33v1M130.5 8v1M131.5 2v1M131.5 6v1M131.5 8v1M131.5 10v2M131.5 13v1M131.5 15v2M131.5 20v1M131.5 22v1M131.5 29v1M131.5 32v1M131.5 35v2M131.5 38v2M132.5 0v1M132.5 10v2M132.5 16v1M132.5 23v1M132.5 25v1M132.5 29v1M132.5 32v1M132.5 34v1M133.5 0v2M133.5 3v2M133.5 6v1M133.5 11v1M133.5 13v1M133.5 17v1M133.5 21v3M133.5 26v2M133.5 32v1M134.5 1v3M134.5 8v1M134.5 15v1M134.5 21v1M134.5 24v2M134.5 34v1M134.5 37v2M135.5 1v2M135.5 10v2M135.5 15v2M135.5 21v2M135.5 24v1M135.5 34v1M137.5 0v1M137.5 3v1M137.5 6v1M137.5 10v1M137.5 12v1M137.5 21v1M137.5 23v2M137.5 28v1M137.5 30v1M137.5 32v1M137.5 39v1M138.5 2v1M138.5 5v2M138.5 19v1M138.5 28v1M138.5 31v1M138.5 33v1M139.5 4v1M139.5 11v1M139.5 20v1M139.5 35v1M139.5 37v1M140.5 0v1M140.5 2v2M140.5 6v1M140.5 9v1M140.5 11v1M140.5 13v2M140.5 17v1M140.5 21v1M140.5 25v1M140.5 33v1M141.5 7v2M141.5 21v1M141.5 29v1M141.5 39v1M142.5 7v1M142.5 25v1M145.5 8v1M145.5 33v1M146.5 2v2M146.5 9v1M146.5 14v1M146.5 16v1M146.5 18v1M146.5 21v1M146.5 29v1M146.5 34v2M146.5 39v1M147.5 3v1M147.5 8v1M147.5 15v1M147.5 21v1M148.5 27v1M148.5 32v1M149.5 2v1M149.5 8v1M149.5 14v2M149.5 17v1M149.5 20v1M149.5 28v1M149.5 31v1M149.5 34v1M149.5 36v1M149.5 38v1M150.5 8v1M150.5 29v1M150.5 39v1M151.5 31v1M152.5 11v1M152.5 16v1M152.5 19v1M152.5 29v1M152.5 32v2M152.5 36v1M154.5 2v1M154.5 9v1M154.5 16v1M154.5 29v1M154.5 33v1M154.5 36v2M156.5 0v1M156.5 19v1M156.5 25v1M157.5 33v1M158.5 9v1M158.5 29v1M160.5 7v1M160.5 10v3M160.5 19v1M160.5 28v1M162.5 0v1M162.5 2v2M162.5 7v1M162.5 16v1M162.5 22v1M162.5 27v1M162.5 32v1M163.5 25v1M163.5 33v1M164.5 8v1M164.5 23v1M164.5 25v2M164.5 31v1M166.5 33v1M255.5 35v1M258.5 15v1M261.5 15v1M263.5 1v1M264.5 4v1M264.5 7v1M264.5 14v1M264.5 26v2M264.5 30v1M264.5 39v1M265.5 4v1M266.5 1v1M266.5 4v1M266.5 6v1M266.5 11v1M266.5 17v2M266.5 20v2M266.5 23v1M266.5 26v3M266.5 31v1M266.5 33v1M266.5 35v1M266.5 37v2M294.5 1v1M294.5 5v1M294.5 11v1M294.5 14v1M294.5 22v1M294.5 27v1M294.5 29v3M294.5 38v1M297.5 0v1M297.5 13v1M297.5 33v1M298.5 3v1M298.5 5v1M298.5 9v1M298.5 17v2M298.5 28v1M298.5 31v1M299.5 22v1M299.5 25v1M299.5 28v1M299.5 35v1M300.5 0v2M300.5 6v1M300.5 13v2M300.5 18v1M300.5 20v1M300.5 24v3M300.5 29v1M300.5 34v1M300.5 37v1M301.5 2v1M301.5 7v2M301.5 11v1M301.5 14v1M301.5 16v1M301.5 25v1M301.5 27v1M301.5 30v1M301.5 32v1M301.5 35v2M302.5 2v1M302.5 21v1M302.5 24v1M303.5 3v1M303.5 5v2M303.5 15v1M303.5 23v1M303.5 28v1M303.5 30v1M304.5 9v1M304.5 21v1M304.5 28v1M304.5 32v2M305.5 21v1M305.5 37v1M306.5 2v1M306.5 5v3M306.5 12v1M306.5 14v1M306.5 25v2M306.5 30v1M306.5 32v1M306.5 37v1M307.5 14v1M307.5 38v1M308.5 22v1M308.5 26v1M308.5 32v2M309.5 2v3M309.5 12v1M309.5 23v1M309.5 25v1M309.5 27v1M309.5 29v1M309.5 31v2M310.5 6v1M310.5 8v3M310.5 12v1M310.5 14v1M310.5 18v1M310.5 21v1M310.5 24v1M310.5 26v1M310.5 28v2M310.5 37v2M311.5 1v1M311.5 6v2M311.5 9v1M311.5 12v2M311.5 19v1M311.5 21v1M311.5 25v2M311.5 28v1M311.5 32v1M311.5 34v2M311.5 38v2M312.5 0v2M312.5 3v1M312.5 5v3M312.5 9v1M312.5 15v1M312.5 19v2M312.5 22v1M312.5 27v1M312.5 29v1M312.5 31v1M312.5 33v1M312.5 36v3M313.5 3v1M313.5 5v1M313.5 17v1M313.5 21v1M314.5 24v1M314.5 28v1M314.5 34v1M314.5 37v2M315.5 3v1M315.5 5v1M315.5 12v1M315.5 15v1M315.5 18v1M315.5 22v2M315.5 34v1M315.5 38v1M316.5 0v1M316.5 5v1M316.5 18v1M316.5 26v1M316.5 37v3M317.5 2v1M317.5 6v1M317.5 10v2M317.5 21v1M317.5 23v2M317.5 27v1M318.5 10v1M318.5 20v2M318.5 25v1M318.5 28v1M318.5 34v1M322.5 2v1M322.5 36v1"/>
<path stroke="#7979ff" d="M35.5 12v1M37.5 3v1M37.5 6v1M37.5 14v2M37.5 18v1M37.5 22v1M37.5 27v1M37.5 36v1M37.5 39v1M42.5 2v1M42.5 9v1M42.5 17v1M42.5 26v2M42.5 31v2M42.5 34v1M42.5 39v1M44.5 0v2M44.5 4v1M44.5 6v1M44.5 12v1M44.5 16v1M44.5 18v1M44.5 24v1M44.5 30v1M48.5 1v1M48.5 7v1M48.5 22v1M51.5 15v1M51.5 17v1M51.5 34v1"/>
<path stroke="#7373ff" d="M35.5 24v1M37.5 4v2M37.5 24v1M42.5 4v1M42.5 7v1M42.5 11v1M42.5 36v1M44.5 15v1M48.5 0v1M48.5 3v1M48.5 6v1M48.5 9v3M48.5 14v1M48.5 21v1M48.5 25v1M48.5 27v4M48.5 36v1"/>
<path stroke="#dfdfff" d="M53.5 0v1M53.5 13v1M53.5 17v2M54.5 0v1M54.5 2v1M54.5 9v1M54.5 11v1M54.5 21v1M54.5 23v1M54.5 26v1M54.5 29v1M54.5 33v1M55.5 6v1M55.5 8v1M55.5 15v1M55.5 20v1M55.5 22v1M55.5 34v3M56.5 2v1M56.5 6v1M56.5 12v2M56.5 19v1M56.5 24v1M56.5 27v1M57.5 2v1M57.5 5v1M57.5 12v1M57.5 23v1M57.5 25v3M57.5 32v1M58.5 0v1M58.5 9v1M58.5 14v1M58.5 28v1M58.5 33v1M59.5 3v1M59.5 7v1M59.5 10v2M59.5 28v2M59.5 33v1M59.5 37v1M60.5 0v1M60.5 8v1M60.5 13v1M60.5 16v1M60.5 19v1M60.5 27v1M60.5 32v2M60.5 39v1M61.5 2v5M61.5 11v2M61.5 37v2M62.5 7v1M62.5 16v1M62.5 24v2M62.5 27v1M62.5 31v1M62.5 35v1M63.5 4v1M63.5 8v2M63.5 13v1M63.5 16v1M63.5 19v1M63.5 26v1M63.5 29v1M63.5 33v1M63.5 35v1M63.5 38v1M64.5 7v1M64.5 11v1M64.5 25v1M64.5 28v1M64.5 31v3M66.5 11v2M66.5 21v1M66.5 23v1M66.5 29v1M66.5 33v1M66.5 35v1M67.5 17v1M68.5 2v1M68.5 7v2M68.5 13v1M68.5 29v1M68.5 33v1M68.5 39v1M69.5 1v1M69.5 5v1M69.5 7v1M69.5 9v2M69.5 12v1M69.5 21v2M69.5 26v1M69.5 28v1M69.5 32v1M69.5 35v1M69.5 39v1M70.5 0v1M70.5 8v1M70.5 10v2M70.5 14v1M70.5 19v3M70.5 25v1M70.5 37v1M71.5 3v1M71.5 14v1M71.5 17v1M71.5 24v1M71.5 26v2M71.5 34v1M71.5 36v2M71.5 39v1M72.5 0v1M72.5 2v1M72.5 12v3M72.5 16v1M72.5 22v1M72.5 29v1M72.5 31v4M73.5 3v2M73.5 10v1M73.5 12v1M73.5 14v1M73.5 16v2M73.5 19v1M73.5 22v2M73.5 27v2M73.5 33v1M73.5 35v1M73.5 38v1M74.5 9v1M74.5 23v1M74.5 25v2M74.5 29v1M74.5 31v1M75.5 38v1M76.5 1v1M76.5 6v4M76.5 11v3M76.5 15v2M76.5 25v1M76.5 27v1M76.5 30v2M76.5 34v1M76.5 37v1M76.5 39v1M77.5 8v2M77.5 13v1M77.5 21v3M77.5 31v1M77.5 39v1M78.5 6v1M78.5 9v1M78.5 14v1M78.5 27v1M78.5 38v1M79.5 7v3M79.5 19v1M79.5 21v1M79.5 33v1M80.5 0v1M80.5 9v1M80.5 11v1M80.5 15v1M80.5 24v1M80.5 27v1M80.5 31v1M80.5 36v1M80.5 38v1M82.5 3v1M82.5 8v1M82.5 13v1M82.5 33v1M82.5 38v2M83.5 1v1M83.5 3v1M83.5 7v2M83.5 12v1M83.5 15v5M83.5 24v1M83.5 26v1M83.5 31v2M83.5 37v1M84.5 2v1M84.5 15v1M84.5 19v1M84.5 21v2M84.5 37v1M85.5 3v1M85.5 6v3M85.5 12v3M85.5 16v1M85.5 20v1M85.5 24v3M85.5 34v4M86.5 6v2M86.5 9v1M86.5 11v1M86.5 23v1M86.5 28v1M86.5 31v2M86.5 37v1M89.5 2v1M89.5 4v1M89.5 6v2M89.5 9v1M89.5 11v1M89.5 25v1M89.5 29v1M89.5 31v2M89.5 35v1M90.5 4v1M90.5 14v1M90.5 23v1M90.5 37v3M91.5 0v1M91.5 13v1M91.5 16v1M91.5 23v1M91.5 26v1M91.5 29v1M91.5 33v1M91.5 35v1M91.5 38v1M92.5 4v1M92.5 7v1M92.5 9v2M92.5 14v1M92.5 16v1M92.5 18v1M92.5 23v1M92.5 30v1M92.5 35v1M93.5 11v4M93.5 22v1M93.5 25v1M93.5 28v2M93.5 31v3M93.5 38v2M94.5 2v1M94.5 5v1M94.5 7v1M96.5 6v1M96.5 35v1M96.5 38v1M97.5 4v1M97.5 6v1M97.5 38v1M98.5 2v1M98.5 7v2M98.5 12v1M98.5 16v1M98.5 27v2M98.5 37v1M99.5 8v3M99.5 15v1M99.5 20v3M99.5 31v1M99.5 39v1M100.5 6v1M100.5 9v1M100.5 14v2M100.5 18v4M100.5 26v1M100.5 31v2M100.5 34v1M102.5 32v1M102.5 39v1M103.5 0v2M103.5 4v1M103.5 6v1M103.5 11v2M103.5 14v1M103.5 16v5M103.5 24v1M103.5 26v2M103.5 31v2M103.5 34v1M103.5 37v2M104.5 0v1M104.5 10v1M104.5 13v1M104.5 16v1M104.5 18v1M104.5 28v1M104.5 30v1M104.5 33v2M105.5 1v1M105.5 5v2M105.5 9v1M105.5 15v1M105.5 17v1M105.5 23v4M105.5 29v1M105.5 35v2M107.5 1v1M107.5 12v1M107.5 15v1M107.5 21v1M107.5 25v1M107.5 30v1M107.5 35v1M107.5 37v1M111.5 30v1M111.5 33v1M111.5 38v1M117.5 33v1M123.5 7v1M123.5 29v1M124.5 0v1M124.5 16v1M124.5 22v1M124.5 34v1M133.5 7v1M133.5 33v1M134.5 16v1M134.5 19v1M134.5 29v1M134.5 31v1M134.5 33v1M134.5 36v1M135.5 5v1M135.5 27v1M135.5 29v1M135.5 33v1M137.5 11v1M137.5 13v1M137.5 36v1M139.5 2v2M139.5 9v1M139.5 15v4M139.5 21v3M139.5 26v5M139.5 36v1M139.5 38v2M140.5 16v1M140.5 29v1M141.5 33v1M145.5 21v1M149.5 26v1M151.5 33v1M154.5 7v1M154.5 18v1M156.5 33v1M160.5 22v1M160.5 33v1M162.5 11v1M162.5 20v1M162.5 33v1M254.5 3v2M254.5 14v1M254.5 22v1M254.5 24v1M254.5 26v1M254.5 35v3M255.5 5v1M255.5 18v1M255.5 24v1M255.5 27v1M255.5 37v1M258.5 5v2M258.5 27v1M258.5 31v1M258.5 35v1M258.5 37v1M259.5 3v1M259.5 12v1M259.5 14v1M259.5 27v1M259.5 31v1M260.5 4v1M260.5 14v2M260.5 24v1M260.5 31v1M261.5 0v2M261.5 5v2M261.5 10v1M261.5 12v1M261.5 14v1M261.5 16v2M261.5 19v2M261.5 24v1M261.5 26v2M261.5 31v1M262.5 9v1M262.5 23v1M262.5 37v1M262.5 39v1M263.5 5v1M263.5 11v1M263.5 16v3M263.5 20v1M263.5 26v3M263.5 34v2M263.5 38v1M264.5 2v1M264.5 12v1M264.5 23v1M264.5 29v1M264.5 33v1M265.5 1v1M265.5 24v1M265.5 31v1M265.5 35v1M265.5 37v1M266.5 3v1M266.5 7v1M266.5 16v1M266.5 22v1M266.5 24v2M266.5 32v1M266.5 34v1M267.5 4v1M267.5 10v1M267.5 22v1M268.5 6v1M268.5 17v1M268.5 21v2M270.5 17v1M279.5 4v1M279.5 18v1M279.5 34v1M279.5 37v3M282.5 4v1M286.5 24v1M291.5 17v1M291.5 36v1M292.5 27v1M292.5 34v1M293.5 0v2M293.5 3v2M293.5 9v1M293.5 22v1M293.5 26v1M293.5 30v3M293.5 34v1M293.5 37v2M294.5 0v1M294.5 3v2M294.5 8v2M294.5 16v1M294.5 24v1M294.5 34v1M294.5 39v1M296.5 3v1M298.5 0v1M298.5 22v1M298.5 25v1M298.5 29v1M298.5 36v1M298.5 38v2M300.5 8v1M300.5 12v1M300.5 17v1M300.5 21v1M300.5 28v1M300.5 32v1M301.5 6v1M301.5 18v1M301.5 29v1M302.5 5v1M302.5 7v1M302.5 9v1M302.5 14v2M302.5 17v2M302.5 26v3M302.5 31v1M302.5 34v2M302.5 38v1M303.5 0v1M303.5 2v1M303.5 4v1M303.5 14v1M303.5 19v1M303.5 29v1M303.5 38v1M304.5 25v1M305.5 4v3M305.5 10v3M305.5 18v1M305.5 20v1M305.5 29v1M305.5 31v1M306.5 13v1M306.5 22v1M306.5 28v1M306.5 36v1M307.5 1v1M307.5 5v2M307.5 10v3M307.5 15v1M307.5 22v2M307.5 25v1M307.5 35v1M307.5 37v1M309.5 35v1M310.5 19v1M310.5 23v1M310.5 25v1M311.5 33v1M311.5 37v1M312.5 2v1M312.5 34v2M313.5 0v1M313.5 6v2M313.5 13v2M313.5 16v1M313.5 18v1M313.5 23v1M313.5 26v1M313.5 32v1M313.5 36v2M313.5 39v1M314.5 6v1M314.5 12v1M314.5 16v1M314.5 18v1M314.5 21v2M314.5 26v2M314.5 31v1M314.5 35v1M315.5 0v1M315.5 6v4M315.5 16v1M315.5 24v1M315.5 30v2M315.5 39v1M316.5 6v2M316.5 9v1M316.5 17v1M316.5 23v1M316.5 25v1M316.5 32v1M317.5 5v1M317.5 7v2M317.5 25v1M317.5 29v2M317.5 33v1M319.5 5v1M319.5 17v1M319.5 38v1M320.5 2v1M320.5 4v1M320.5 20v1M320.5 32v1M321.5 9v1M322.5 0v2M322.5 4v1M322.5 9v2M322.5 12v4M322.5 17v1M322.5 19v2M322.5 25v6M322.5 33v2M322.5 37v1M323.5 0v1M323.5 10v1M323.5 15v1M323.5 24v1M323.5 26v1M323.5 38v1M324.5 3v1M324.5 5v1M324.5 15v1M324.5 24v1M324.5 36v1M324.5 39v1M325.5 4v1M325.5 6v1M325.5 8v1M325.5 15v1M325.5 31v1M325.5 35v1M325.5 37v1M326.5 1v1M326.5 24v1M326.5 27v2M326.5 35v1M327.5 34v1M327.5 39v1"/>
<path stroke="#d9d9ff" d="M53.5 1v2M53.5 4v2M53.5 19v1M53.5 21v3M53.5 27v4M53.5 32v1M53.5 34v2M54.5 3v1M54.5 6v2M54.5 13v1M54.5 15v2M54.5 19v1M54.5 22v1M54.5 27v1M54.5 30v1M55.5 1v1M55.5 3v1M55.5 11v1M55.5 13v1M55.5 16v1M55.5 24v1M55.5 27v1M55.5 31v1M55.5 37v1M55.5 39v1M56.5 9v1M56.5 21v1M56.5 25v1M56.5 29v2M56.5 33v2M56.5 36v1M56.5 39v1M57.5 0v1M57.5 4v1M57.5 6v1M57.5 10v1M57.5 14v2M57.5 22v1M57.5 30v2M57.5 34v2M57.5 37v2M58.5 2v1M58.5 8v1M58.5 12v1M58.5 16v2M58.5 19v3M58.5 24v1M58.5 29v1M58.5 32v1M58.5 37v1M59.5 5v2M59.5 9v1M59.5 13v1M59.5 15v1M59.5 19v1M59.5 23v1M59.5 25v1M59.5 30v1M60.5 2v1M60.5 12v1M60.5 15v1M60.5 18v1M60.5 22v3M60.5 26v1M60.5 30v1M60.5 35v2M60.5 38v1M61.5 1v1M61.5 10v1M61.5 24v1M61.5 28v2M61.5 39v1M62.5 0v1M62.5 9v1M62.5 11v2M62.5 14v1M62.5 18v2M62.5 21v1M62.5 23v1M62.5 26v1M62.5 29v1M62.5 32v1M62.5 34v1M62.5 37v1M63.5 3v1M63.5 10v2M63.5 23v3M63.5 28v1M63.5 30v1M63.5 32v1M63.5 36v2M64.5 3v1M64.5 8v1M64.5 10v1M64.5 12v2M64.5 18v1M64.5 22v2M64.5 29v1M64.5 36v3M65.5 36v1M66.5 1v1M66.5 3v2M66.5 7v1M66.5 9v1M66.5 13v1M66.5 18v1M66.5 25v2M66.5 32v1M66.5 37v1M68.5 1v1M68.5 10v3M68.5 17v2M68.5 21v2M68.5 27v2M68.5 35v2M68.5 38v1M69.5 4v1M69.5 14v1M69.5 34v1M69.5 38v1M70.5 3v1M70.5 5v2M70.5 16v1M70.5 26v2M70.5 30v1M70.5 35v1M70.5 39v1M71.5 5v1M71.5 15v1M71.5 22v1M71.5 38v1M72.5 4v2M72.5 8v1M72.5 19v2M72.5 23v1M72.5 30v1M72.5 38v2M73.5 5v2M73.5 9v1M73.5 24v1M73.5 26v1M73.5 36v2M73.5 39v1M74.5 0v2M74.5 27v2M74.5 37v2M76.5 5v1M76.5 18v1M76.5 20v2M76.5 23v1M76.5 28v2M76.5 36v1M77.5 1v1M77.5 3v5M77.5 11v1M77.5 19v1M77.5 25v3M77.5 32v1M77.5 34v1M77.5 36v1M78.5 39v1M79.5 1v2M79.5 5v2M79.5 12v1M79.5 18v1M79.5 26v1M79.5 28v2M79.5 31v2M79.5 36v1M80.5 17v1M82.5 0v3M82.5 7v1M82.5 11v1M82.5 14v1M82.5 17v1M82.5 21v3M82.5 25v1M82.5 34v1M83.5 2v1M83.5 4v1M83.5 39v1M84.5 0v2M84.5 6v2M84.5 11v1M84.5 13v2M84.5 16v3M84.5 20v1M84.5 26v1M84.5 32v1M84.5 34v2M85.5 4v2M85.5 17v2M85.5 27v1M85.5 30v2M85.5 38v1M86.5 0v1M86.5 2v2M86.5 5v1M86.5 10v1M86.5 12v1M86.5 20v1M86.5 26v1M86.5 38v2M87.5 21v1M87.5 35v1M89.5 3v1M89.5 5v1M89.5 10v1M89.5 21v2M89.5 24v1M89.5 28v1M89.5 34v1M89.5 39v1M91.5 3v4M91.5 8v1M91.5 10v2M91.5 19v2M91.5 22v1M91.5 28v1M91.5 32v1M91.5 39v1M92.5 0v1M92.5 6v1M92.5 11v2M92.5 17v1M92.5 20v1M92.5 22v1M92.5 26v2M92.5 31v1M93.5 1v1M93.5 4v1M93.5 6v2M93.5 9v1M93.5 27v1M93.5 30v1M93.5 34v1M94.5 1v1M94.5 9v1M94.5 16v2M94.5 20v2M94.5 25v1M94.5 28v1M94.5 34v3M96.5 15v1M96.5 24v1M96.5 37v1M98.5 17v2M98.5 26v1M99.5 0v4M99.5 12v3M99.5 19v1M99.5 23v2M99.5 26v1M99.5 30v1M100.5 12v1M100.5 24v1M100.5 36v1M102.5 30v1M103.5 2v1M103.5 30v1M104.5 1v3M104.5 9v1M104.5 11v1M104.5 21v2M104.5 32v1M105.5 18v1M105.5 20v1M105.5 39v1M106.5 13v1M106.5 33v1M107.5 17v1M107.5 23v1M110.5 0v1M110.5 19v1M110.5 25v1M110.5 33v2M110.5 39v1M111.5 0v1M111.5 2v1M111.5 7v1M111.5 10v1M111.5 13v1M111.5 18v1M111.5 29v1M116.5 21v1M116.5 23v1M116.5 33v1M123.5 2v1M123.5 13v1M123.5 19v1M123.5 25v1M123.5 30v1M123.5 33v1M124.5 2v1M124.5 12v2M124.5 15v1M124.5 26v2M124.5 30v4M124.5 37v1M128.5 29v1M128.5 36v1M130.5 25v1M131.5 7v1M131.5 12v1M131.5 21v1M131.5 28v1M131.5 33v1M131.5 37v1M132.5 8v1M132.5 30v1M132.5 33v1M133.5 8v3M133.5 16v1M133.5 19v2M133.5 25v1M133.5 29v2M133.5 35v1M134.5 5v3M134.5 11v1M134.5 13v2M134.5 20v1M134.5 23v1M134.5 35v1M135.5 3v2M135.5 6v1M135.5 8v1M135.5 18v1M135.5 20v1M135.5 25v1M135.5 28v1M135.5 35v1M137.5 1v2M137.5 7v2M137.5 16v1M137.5 18v1M137.5 20v1M137.5 22v1M137.5 26v1M137.5 33v1M139.5 1v1M139.5 5v2M139.5 13v2M139.5 24v2M139.5 33v1M140.5 10v1M142.5 23v1M144.5 7v1M146.5 0v1M146.5 6v1M146.5 13v1M146.5 17v1M146.5 33v1M147.5 33v1M149.5 7v1M149.5 10v1M149.5 13v1M149.5 23v1M149.5 25v1M149.5 29v1M149.5 33v1M150.5 9v1M150.5 33v1M151.5 39v1M154.5 13v1M156.5 6v1M156.5 21v1M160.5 20v1M160.5 25v1M162.5 8v1M162.5 12v2M162.5 17v1M162.5 19v1M162.5 21v1M162.5 25v2M162.5 28v1M162.5 35v1M255.5 12v1M255.5 14v2M255.5 17v1M255.5 20v1M255.5 31v1M255.5 36v1M255.5 39v1M256.5 24v1M258.5 14v1M258.5 26v1M259.5 35v1M260.5 1v1M261.5 3v1M261.5 18v1M261.5 22v1M261.5 34v1M261.5 38v1M263.5 4v1M263.5 15v1M264.5 3v1M264.5 5v1M264.5 8v1M264.5 11v1M264.5 15v3M264.5 21v2M264.5 25v1M264.5 28v1M264.5 32v1M264.5 34v1M264.5 36v2M266.5 2v1M266.5 12v1M266.5 19v1M266.5 30v1M266.5 36v1M267.5 34v1M268.5 5v1M268.5 8v1M272.5 14v1M272.5 39v1M279.5 14v1M279.5 30v1M282.5 35v1M291.5 1v1M291.5 30v1M291.5 37v1M293.5 6v1M293.5 15v1M293.5 24v1M293.5 27v1M293.5 39v1M294.5 2v1M294.5 7v1M294.5 10v1M294.5 12v1M294.5 17v2M294.5 20v2M294.5 28v1M294.5 35v1M294.5 37v1M296.5 19v1M297.5 35v1M298.5 1v1M298.5 4v1M298.5 6v2M298.5 10v1M298.5 12v5M298.5 19v1M298.5 23v2M298.5 26v1M298.5 34v1M298.5 37v1M300.5 3v2M300.5 9v1M300.5 11v1M300.5 23v1M300.5 33v1M300.5 36v1M300.5 39v1M301.5 0v1M301.5 4v1M301.5 10v1M301.5 12v2M301.5 19v2M301.5 22v1M301.5 26v1M302.5 4v1M302.5 10v1M302.5 13v1M302.5 20v1M302.5 36v2M303.5 7v4M303.5 16v3M303.5 20v3M303.5 27v1M303.5 31v1M303.5 34v1M303.5 37v1M303.5 39v1M305.5 1v1M305.5 3v1M305.5 13v1M305.5 15v1M305.5 17v1M305.5 24v3M305.5 32v1M305.5 34v3M306.5 0v1M306.5 8v1M306.5 10v1M306.5 16v1M306.5 18v4M306.5 27v1M306.5 29v1M306.5 35v1M307.5 4v1M307.5 18v2M307.5 21v1M307.5 26v2M307.5 31v2M307.5 34v1M307.5 36v1M307.5 39v1M308.5 0v1M308.5 8v1M308.5 16v1M308.5 21v1M308.5 27v1M309.5 8v2M309.5 19v1M310.5 0v4M310.5 7v1M310.5 11v1M310.5 15v2M310.5 22v1M310.5 33v2M311.5 2v2M311.5 8v1M311.5 11v1M311.5 16v1M311.5 23v1M311.5 27v1M311.5 29v1M311.5 31v1M312.5 8v1M312.5 12v3M312.5 16v1M312.5 21v1M312.5 25v1M312.5 28v1M312.5 32v1M313.5 1v2M313.5 4v1M313.5 8v1M313.5 10v1M313.5 15v1M313.5 19v1M313.5 24v2M313.5 34v1M313.5 38v1M314.5 0v3M314.5 4v2M314.5 8v2M314.5 11v1M314.5 14v2M314.5 30v1M314.5 36v1M314.5 39v1M315.5 1v2M315.5 4v1M315.5 14v1M315.5 19v3M315.5 25v1M315.5 27v2M315.5 32v1M316.5 10v1M316.5 14v3M316.5 19v4M316.5 24v1M316.5 30v1M316.5 36v1M317.5 0v2M317.5 9v1M317.5 13v1M317.5 18v2M317.5 22v1M317.5 26v1M317.5 32v1M317.5 36v3M321.5 14v1M321.5 17v1M322.5 3v1M322.5 5v3M322.5 11v1M322.5 22v1M322.5 24v1M322.5 31v1M322.5 38v2M324.5 0v2M324.5 6v1M324.5 18v1M325.5 19v1M325.5 28v1M326.5 15v1"/>
<path stroke="#e6e6ff" d="M53.5 3v1M53.5 33v1M55.5 2v1M55.5 12v1M55.5 23v1M55.5 25v1M55.5 32v1M57.5 1v1M57.5 3v1M57.5 8v2M57.5 17v1M57.5 21v1M57.5 28v1M57.5 36v1M57.5 39v1M59.5 16v1M59.5 21v1M60.5 1v1M60.5 3v1M60.5 5v2M60.5 29v1M61.5 8v2M61.5 15v3M61.5 21v1M61.5 26v1M61.5 34v3M62.5 13v1M62.5 30v1M63.5 0v1M63.5 5v1M63.5 18v1M63.5 20v2M64.5 0v1M64.5 19v2M66.5 19v1M67.5 8v1M67.5 14v1M67.5 23v1M68.5 19v1M69.5 0v1M69.5 2v2M69.5 11v1M69.5 18v1M69.5 20v1M69.5 23v1M69.5 25v1M69.5 27v1M69.5 29v2M69.5 37v1M70.5 1v2M70.5 7v1M70.5 12v1M70.5 15v1M70.5 18v1M70.5 28v1M70.5 33v2M70.5 36v1M71.5 0v3M71.5 4v1M71.5 9v3M71.5 20v1M71.5 29v2M71.5 32v2M71.5 35v1M72.5 7v1M72.5 10v2M72.5 18v1M72.5 21v1M72.5 25v1M73.5 2v1M73.5 11v1M73.5 15v1M73.5 18v1M73.5 20v2M73.5 25v1M73.5 29v1M73.5 34v1M74.5 7v2M74.5 13v2M75.5 15v1M75.5 31v1M75.5 39v1M76.5 0v1M76.5 2v1M76.5 19v1M76.5 22v1M76.5 33v1M77.5 16v1M77.5 18v1M77.5 33v1M77.5 35v1M78.5 1v1M78.5 3v2M78.5 7v1M78.5 11v1M78.5 15v1M78.5 17v1M78.5 19v1M78.5 24v1M78.5 30v1M78.5 32v1M78.5 35v1M78.5 37v1M80.5 1v3M80.5 7v1M80.5 10v1M80.5 22v1M80.5 26v1M80.5 29v1M80.5 33v1M80.5 35v1M80.5 37v1M80.5 39v1M81.5 3v1M81.5 18v1M81.5 38v1M82.5 9v1M83.5 5v2M83.5 21v1M83.5 23v1M83.5 25v1M83.5 27v2M83.5 30v1M83.5 33v1M84.5 9v1M84.5 12v1M84.5 23v1M84.5 25v1M84.5 28v1M84.5 30v1M85.5 0v1M85.5 2v1M85.5 9v3M85.5 15v1M85.5 21v1M85.5 23v1M85.5 28v2M85.5 39v1M86.5 8v1M86.5 13v1M86.5 19v1M86.5 21v1M86.5 24v2M86.5 27v1M86.5 33v4M88.5 11v1M88.5 13v2M88.5 17v1M88.5 19v1M88.5 22v3M88.5 27v1M88.5 31v1M88.5 39v1M89.5 1v1M89.5 13v1M89.5 18v1M89.5 23v1M89.5 27v1M89.5 33v1M89.5 36v1M89.5 38v1M90.5 3v1M90.5 5v1M90.5 11v2M90.5 15v4M90.5 27v1M91.5 2v1M91.5 7v1M92.5 13v1M92.5 25v1M92.5 29v1M92.5 33v1M92.5 36v1M93.5 5v1M93.5 8v1M93.5 16v1M93.5 20v1M93.5 37v1M94.5 8v1M95.5 7v1M95.5 35v1M95.5 39v1M96.5 1v1M96.5 3v3M96.5 13v2M96.5 20v1M96.5 23v1M96.5 39v1M97.5 12v1M97.5 17v1M97.5 21v1M97.5 26v1M97.5 28v1M97.5 33v1M97.5 36v2M98.5 0v2M98.5 4v1M98.5 6v1M98.5 15v1M98.5 19v2M98.5 22v1M98.5 30v1M98.5 32v1M98.5 34v1M98.5 39v1M99.5 5v1M99.5 7v1M99.5 16v1M99.5 25v1M99.5 28v1M99.5 32v4M99.5 38v1M100.5 0v1M100.5 2v4M100.5 8v1M100.5 17v1M100.5 22v1M100.5 25v1M100.5 27v1M100.5 29v2M100.5 33v1M100.5 35v1M100.5 37v1M100.5 39v1M102.5 3v1M102.5 6v1M102.5 10v1M102.5 15v1M102.5 35v1M103.5 7v1M103.5 10v1M103.5 15v1M103.5 22v2M103.5 25v1M103.5 29v1M103.5 35v2M103.5 39v1M105.5 11v2M105.5 21v1M105.5 27v1M105.5 31v4M105.5 37v2M107.5 0v1M107.5 2v1M107.5 5v1M107.5 11v1M107.5 14v1M107.5 16v1M107.5 18v1M107.5 20v1M107.5 22v1M107.5 24v1M107.5 26v1M107.5 38v2M135.5 19v1M135.5 32v1M137.5 19v1M137.5 25v1M139.5 0v1M139.5 8v1M139.5 19v1M139.5 31v2M139.5 34v1M254.5 5v2M254.5 9v2M254.5 12v1M254.5 15v1M254.5 17v2M254.5 20v1M254.5 27v1M254.5 29v1M254.5 32v1M254.5 38v1M255.5 0v2M255.5 4v1M255.5 6v1M255.5 9v1M255.5 11v1M255.5 23v1M255.5 26v1M255.5 29v2M255.5 32v1M255.5 34v1M256.5 2v2M256.5 14v4M256.5 32v1M256.5 34v2M256.5 37v2M258.5 1v1M258.5 3v2M258.5 7v1M258.5 11v1M258.5 13v1M258.5 18v1M258.5 22v1M258.5 24v2M258.5 28v3M258.5 34v1M258.5 36v1M259.5 0v2M259.5 4v1M259.5 6v1M259.5 8v1M259.5 17v2M259.5 20v1M259.5 23v1M259.5 34v1M259.5 37v3M260.5 3v1M260.5 5v3M260.5 13v1M260.5 17v1M260.5 20v1M260.5 29v2M260.5 36v2M260.5 39v1M261.5 4v1M261.5 11v1M261.5 23v1M261.5 25v1M261.5 28v1M261.5 35v1M261.5 37v1M261.5 39v1M262.5 0v1M262.5 15v2M262.5 21v1M262.5 24v1M262.5 29v3M263.5 0v1M263.5 9v1M263.5 14v1M263.5 22v3M263.5 31v2M263.5 36v2M264.5 6v1M264.5 13v1M264.5 19v1M264.5 35v1M265.5 2v2M265.5 9v1M265.5 17v1M265.5 19v1M265.5 21v1M265.5 26v1M265.5 28v1M265.5 30v1M265.5 34v1M265.5 38v2M266.5 8v2M266.5 29v1M267.5 0v1M267.5 2v1M267.5 6v1M267.5 17v1M267.5 20v2M267.5 23v1M267.5 27v1M267.5 30v2M267.5 38v1M268.5 3v1M268.5 9v1M268.5 13v4M268.5 26v1M268.5 29v1M268.5 31v2M268.5 36v1M270.5 5v1M270.5 18v1M270.5 28v1M270.5 35v1M272.5 19v2M272.5 22v1M272.5 28v1M279.5 3v1M279.5 5v1M279.5 15v1M279.5 20v1M279.5 24v1M279.5 27v1M279.5 35v1M282.5 0v1M282.5 5v2M282.5 23v2M282.5 26v1M282.5 30v1M282.5 34v1M282.5 38v2M286.5 1v1M286.5 10v1M286.5 14v1M286.5 17v2M286.5 27v1M286.5 37v2M291.5 2v1M291.5 15v1M291.5 20v1M291.5 22v3M291.5 27v1M291.5 31v1M291.5 34v1M291.5 38v1M292.5 4v1M292.5 15v1M292.5 32v1M292.5 37v1M293.5 2v1M293.5 5v1M293.5 7v1M293.5 11v1M293.5 13v2M293.5 17v5M293.5 23v1M293.5 28v1M294.5 13v1M294.5 19v1M294.5 23v1M294.5 25v1M294.5 32v2M295.5 3v1M295.5 6v1M295.5 21v1M295.5 24v1M295.5 26v2M295.5 34v3M296.5 0v2M296.5 17v1M296.5 23v2M296.5 27v1M296.5 30v1M296.5 39v1M298.5 11v1M298.5 32v2M300.5 2v1M301.5 9v1M302.5 0v2M302.5 3v1M302.5 6v1M302.5 11v2M302.5 22v1M302.5 32v2M302.5 39v1M303.5 11v1M303.5 13v1M303.5 25v1M303.5 33v1M305.5 2v1M305.5 7v2M305.5 16v1M305.5 19v1M305.5 22v2M305.5 27v2M305.5 30v1M305.5 33v1M306.5 33v1M307.5 0v1M307.5 2v2M307.5 7v1M307.5 9v1M307.5 16v2M307.5 20v1M307.5 24v1M307.5 28v3M309.5 33v1M310.5 32v1M313.5 9v1M313.5 12v1M313.5 20v1M313.5 22v1M313.5 28v2M313.5 31v1M313.5 33v1M313.5 35v1M314.5 7v1M314.5 10v1M314.5 13v1M314.5 20v1M314.5 23v1M314.5 29v1M314.5 32v2M315.5 10v1M315.5 29v1M315.5 33v1M315.5 36v2M316.5 2v1M316.5 11v3M316.5 28v2M316.5 33v1M319.5 0v1M319.5 4v1M319.5 9v2M319.5 15v1M319.5 21v2M319.5 26v1M319.5 34v1M319.5 37v1M320.5 1v1M320.5 3v1M320.5 7v1M320.5 9v1M320.5 12v1M320.5 14v3M320.5 18v1M320.5 21v1M320.5 23v1M320.5 28v2M320.5 37v2M321.5 5v1M321.5 15v2M321.5 21v1M321.5 30v2M321.5 34v1M321.5 37v1M321.5 39v1M322.5 16v1M322.5 18v1M322.5 23v1M322.5 32v1M323.5 1v1M323.5 4v1M323.5 20v2M323.5 23v1M323.5 25v1M324.5 4v1M324.5 9v4M324.5 17v1M324.5 26v2M324.5 37v1M325.5 1v3M325.5 11v1M325.5 21v1M325.5 25v1M325.5 27v1M325.5 29v2M325.5 32v1M325.5 39v1M326.5 4v1M326.5 8v1M326.5 10v1M326.5 12v1M326.5 37v1M327.5 2v1M327.5 5v1M327.5 23v1M327.5 36v1M327.5 38v1M328.5 24v1"/>
<path stroke="#f2f2ff" d="M54.5 8v1M55.5 7v1M55.5 9v1M57.5 18v1M57.5 29v1M60.5 9v1M60.5 25v1M61.5 0v1M61.5 14v1M61.5 33v1M67.5 9v1M67.5 15v2M67.5 26v1M67.5 28v1M67.5 30v1M67.5 32v2M67.5 39v1M69.5 13v1M71.5 7v1M71.5 13v1M71.5 23v1M73.5 7v1M75.5 3v3M75.5 8v3M75.5 13v2M75.5 17v2M75.5 24v1M75.5 26v1M75.5 33v3M78.5 2v1M78.5 10v1M78.5 12v2M78.5 16v1M78.5 18v1M78.5 21v1M78.5 26v1M78.5 28v1M78.5 36v1M80.5 8v1M80.5 18v4M80.5 23v1M80.5 34v1M81.5 0v1M81.5 8v1M81.5 10v3M81.5 14v1M81.5 17v1M81.5 20v1M81.5 26v1M81.5 32v4M81.5 39v1M83.5 29v1M85.5 19v1M85.5 32v1M88.5 0v2M88.5 4v1M88.5 15v1M88.5 18v1M88.5 21v1M88.5 33v1M88.5 36v1M90.5 7v1M90.5 13v1M90.5 19v2M90.5 25v1M90.5 28v1M90.5 35v1M95.5 0v1M95.5 2v2M95.5 6v1M95.5 12v2M95.5 17v3M95.5 22v2M95.5 26v2M95.5 36v2M96.5 0v1M96.5 7v2M96.5 11v1M96.5 16v1M96.5 18v2M96.5 25v1M96.5 27v1M96.5 29v4M96.5 34v1M97.5 0v1M97.5 2v1M97.5 8v1M97.5 10v1M97.5 16v1M97.5 19v1M97.5 27v1M97.5 29v1M97.5 34v1M98.5 13v1M98.5 24v1M98.5 31v1M100.5 7v1M100.5 23v1M101.5 2v1M101.5 4v1M101.5 13v1M101.5 17v1M101.5 20v1M102.5 2v1M102.5 4v2M102.5 7v1M102.5 12v2M102.5 18v1M102.5 21v4M102.5 33v1M102.5 36v1M103.5 9v1M105.5 4v1M105.5 7v2M105.5 13v1M107.5 3v1M107.5 6v1M107.5 8v1M107.5 13v1M107.5 19v1M107.5 27v1M107.5 29v1M107.5 33v1M254.5 2v1M254.5 11v1M254.5 16v1M254.5 21v1M254.5 25v1M254.5 34v1M254.5 39v1M255.5 33v1M255.5 38v1M256.5 0v2M256.5 6v1M256.5 8v3M256.5 12v2M256.5 20v4M256.5 27v1M256.5 29v3M256.5 33v1M257.5 21v1M257.5 34v1M258.5 0v1M258.5 8v2M258.5 19v3M259.5 2v1M259.5 10v1M259.5 13v1M259.5 16v1M259.5 26v1M259.5 30v1M260.5 0v1M260.5 8v1M260.5 10v3M260.5 21v2M260.5 28v1M260.5 32v1M261.5 13v1M261.5 21v1M261.5 32v2M262.5 2v1M262.5 7v2M262.5 10v1M262.5 19v1M262.5 25v2M262.5 33v1M262.5 38v1M263.5 8v1M263.5 10v1M263.5 25v1M265.5 5v2M265.5 8v1M265.5 14v1M265.5 16v1M265.5 20v1M265.5 22v1M265.5 27v1M265.5 33v1M266.5 13v1M267.5 1v1M267.5 3v1M267.5 8v2M267.5 11v1M267.5 16v1M267.5 25v1M267.5 32v2M267.5 35v1M268.5 2v1M268.5 7v1M268.5 10v1M268.5 18v2M268.5 23v1M268.5 27v1M269.5 5v1M269.5 7v1M269.5 19v2M269.5 27v1M269.5 31v1M269.5 35v1M269.5 38v1M270.5 0v1M270.5 6v1M270.5 15v1M270.5 20v1M270.5 22v1M270.5 30v1M270.5 32v2M270.5 36v1M271.5 6v1M271.5 15v1M271.5 27v2M271.5 36v1M272.5 4v1M272.5 7v1M272.5 11v3M272.5 18v1M272.5 21v1M272.5 24v2M272.5 27v1M272.5 29v2M272.5 32v1M272.5 38v1M273.5 7v1M273.5 17v1M273.5 20v1M273.5 22v1M273.5 24v1M273.5 30v1M273.5 36v2M275.5 17v1M275.5 24v1M275.5 37v1M276.5 1v1M278.5 2v1M278.5 14v1M278.5 20v1M278.5 23v1M278.5 27v1M278.5 37v1M279.5 1v1M279.5 6v2M279.5 9v2M279.5 17v1M279.5 25v1M279.5 32v2M279.5 36v1M281.5 37v2M282.5 10v1M282.5 12v1M282.5 14v3M282.5 21v1M282.5 25v1M282.5 27v1M282.5 33v1M284.5 1v1M284.5 3v3M284.5 7v1M284.5 9v2M284.5 14v3M284.5 18v1M284.5 31v1M284.5 39v1M286.5 0v1M286.5 3v2M286.5 9v1M286.5 12v2M286.5 26v1M286.5 29v3M286.5 33v2M287.5 24v1M287.5 37v1M288.5 7v1M288.5 38v1M289.5 6v1M289.5 14v2M289.5 34v1M291.5 5v3M291.5 9v3M291.5 14v1M291.5 16v1M291.5 19v1M291.5 33v1M292.5 0v1M292.5 6v2M292.5 13v1M292.5 16v1M292.5 19v2M292.5 23v1M292.5 30v1M292.5 36v1M293.5 10v1M293.5 12v1M293.5 16v1M295.5 1v1M295.5 7v1M295.5 20v1M295.5 22v1M295.5 25v1M295.5 32v1M295.5 37v2M296.5 2v1M296.5 4v1M296.5 6v5M296.5 14v2M296.5 20v2M296.5 32v1M296.5 35v1M296.5 38v1M302.5 29v1M307.5 8v1M307.5 33v1M313.5 11v1M314.5 19v1M319.5 2v2M319.5 8v1M319.5 19v1M319.5 28v2M319.5 31v1M320.5 6v1M320.5 8v1M320.5 11v1M320.5 25v1M320.5 31v1M320.5 33v1M320.5 35v1M321.5 1v1M321.5 6v3M321.5 11v1M321.5 13v1M321.5 20v1M321.5 22v2M321.5 25v1M321.5 29v1M321.5 33v1M321.5 35v2M323.5 7v1M323.5 9v1M323.5 12v1M323.5 18v2M323.5 22v1M323.5 32v1M323.5 34v1M323.5 39v1M324.5 8v1M324.5 16v1M324.5 21v1M324.5 31v1M325.5 5v1M325.5 9v2M325.5 12v2M325.5 16v1M325.5 18v1M325.5 22v1M326.5 5v3M326.5 16v1M326.5 19v4M326.5 25v1M326.5 29v1M326.5 39v1M327.5 1v1M327.5 8v2M327.5 11v1M327.5 17v1M327.5 20v1M327.5 22v1M327.5 24v1M327.5 28v1M327.5 30v1M327.5 33v1M328.5 6v1M328.5 10v3M328.5 19v5M328.5 26v1M328.5 28v1M328.5 30v2M328.5 33v1M328.5 37v2M376.5 24v1M376.5 36v1M390.5 4v1M390.5 10v1M390.5 37v1M398.5 34v1"/>
<path stroke="#ececff" d="M55.5 19v1M55.5 21v1M55.5 29v1M55.5 33v1M57.5 7v1M57.5 11v1M57.5 13v1M57.5 16v1M57.5 19v2M57.5 33v1M59.5 2v1M60.5 7v1M60.5 11v1M60.5 20v2M60.5 28v1M60.5 34v1M61.5 7v1M61.5 13v1M61.5 18v2M61.5 22v2M61.5 25v1M61.5 27v1M61.5 30v3M63.5 7v1M64.5 9v1M67.5 0v5M67.5 10v4M67.5 21v1M67.5 24v1M67.5 31v1M67.5 34v4M69.5 6v1M69.5 8v1M69.5 15v2M69.5 19v1M69.5 33v1M69.5 36v1M70.5 9v1M70.5 13v1M70.5 22v1M70.5 29v1M70.5 32v1M71.5 6v1M71.5 8v1M71.5 12v1M71.5 16v1M71.5 18v2M71.5 21v1M71.5 28v1M71.5 31v1M72.5 9v1M73.5 0v1M73.5 8v1M73.5 13v1M73.5 30v1M73.5 32v1M74.5 33v1M75.5 0v2M75.5 11v2M75.5 20v1M75.5 27v2M75.5 30v1M75.5 37v1M78.5 0v1M78.5 5v1M78.5 8v1M78.5 20v1M78.5 22v2M78.5 25v1M78.5 29v1M78.5 31v1M79.5 10v1M79.5 25v1M80.5 4v3M80.5 12v3M80.5 16v1M80.5 28v1M80.5 30v1M80.5 32v1M81.5 4v3M81.5 9v1M81.5 15v1M81.5 23v2M81.5 27v1M81.5 30v1M83.5 0v1M83.5 9v3M83.5 13v1M83.5 20v1M83.5 22v1M83.5 34v2M83.5 38v1M84.5 8v1M84.5 29v1M84.5 33v1M85.5 33v1M86.5 16v1M86.5 29v1M88.5 2v1M88.5 5v3M88.5 10v1M88.5 12v1M88.5 16v1M88.5 20v1M88.5 26v1M88.5 28v1M88.5 34v2M88.5 37v1M89.5 8v1M89.5 19v1M89.5 30v1M90.5 0v3M90.5 6v1M90.5 8v3M90.5 21v2M90.5 24v1M90.5 26v1M90.5 29v3M90.5 34v1M90.5 36v1M91.5 18v1M92.5 8v1M92.5 19v1M92.5 21v1M92.5 32v1M95.5 4v2M95.5 11v1M95.5 15v1M95.5 21v1M95.5 24v1M95.5 32v1M95.5 38v1M96.5 2v1M96.5 9v2M96.5 12v1M96.5 17v1M96.5 21v2M96.5 26v1M96.5 28v1M96.5 33v1M96.5 36v1M97.5 1v1M97.5 3v1M97.5 5v1M97.5 7v1M97.5 11v1M97.5 13v3M97.5 22v4M97.5 30v3M97.5 35v1M97.5 39v1M98.5 3v1M98.5 5v1M98.5 10v1M98.5 21v1M98.5 23v1M98.5 29v1M98.5 33v1M98.5 36v1M100.5 1v1M100.5 10v2M100.5 13v1M100.5 16v1M100.5 28v1M101.5 11v1M102.5 1v1M102.5 11v1M102.5 14v1M102.5 16v2M102.5 19v1M102.5 26v2M102.5 31v1M102.5 34v1M102.5 37v2M103.5 8v1M103.5 13v1M103.5 21v1M103.5 33v1M105.5 0v1M105.5 2v2M105.5 10v1M105.5 14v1M105.5 16v1M105.5 19v1M105.5 22v1M105.5 28v1M105.5 30v1M107.5 4v1M107.5 7v1M107.5 9v2M107.5 28v1M107.5 32v1M107.5 36v1M139.5 7v1M254.5 0v2M254.5 23v1M254.5 28v1M254.5 30v2M254.5 33v1M255.5 2v1M255.5 7v2M255.5 10v1M255.5 13v1M255.5 16v1M255.5 19v1M255.5 21v2M255.5 25v1M255.5 28v1M256.5 4v2M256.5 7v1M256.5 11v1M256.5 18v2M256.5 26v1M256.5 28v1M256.5 39v1M257.5 31v1M258.5 2v1M258.5 10v1M258.5 12v1M258.5 16v2M258.5 23v1M258.5 32v2M258.5 38v2M259.5 5v1M259.5 7v1M259.5 9v1M259.5 15v1M259.5 19v1M259.5 21v1M259.5 24v1M259.5 28v2M259.5 32v2M259.5 36v1M260.5 2v1M260.5 9v1M260.5 16v1M260.5 18v2M260.5 23v1M260.5 25v3M260.5 34v2M260.5 38v1M261.5 2v1M261.5 7v3M261.5 29v2M261.5 36v1M262.5 1v1M262.5 3v4M262.5 11v2M262.5 14v1M262.5 17v2M262.5 20v1M262.5 22v1M262.5 27v2M262.5 34v3M263.5 2v2M263.5 6v2M263.5 12v2M263.5 19v1M263.5 21v1M263.5 29v2M263.5 33v1M263.5 39v1M265.5 13v1M265.5 18v1M265.5 23v1M265.5 25v1M265.5 32v1M265.5 36v1M266.5 0v1M267.5 5v1M267.5 7v1M267.5 13v3M267.5 24v1M267.5 26v1M267.5 28v2M267.5 36v2M267.5 39v1M268.5 0v2M268.5 4v1M268.5 11v2M268.5 20v1M268.5 24v2M268.5 28v1M268.5 33v3M268.5 37v3M269.5 1v1M269.5 21v1M270.5 1v1M270.5 3v1M270.5 9v1M270.5 14v1M270.5 16v1M270.5 24v1M270.5 27v1M270.5 34v1M270.5 37v3M272.5 1v3M272.5 5v1M272.5 15v1M272.5 17v1M272.5 23v1M272.5 26v1M272.5 31v1M272.5 34v2M272.5 37v1M278.5 4v1M278.5 30v1M278.5 39v1M279.5 8v1M279.5 11v2M279.5 21v3M279.5 26v1M279.5 28v1M279.5 31v1M282.5 2v2M282.5 8v2M282.5 11v1M282.5 17v1M282.5 19v2M282.5 22v1M282.5 28v1M282.5 31v2M282.5 36v2M284.5 22v1M286.5 5v1M286.5 7v1M286.5 11v1M286.5 15v1M286.5 20v4M286.5 35v2M286.5 39v1M289.5 4v1M289.5 26v1M289.5 37v1M291.5 0v1M291.5 3v2M291.5 8v1M291.5 12v1M291.5 18v1M291.5 21v1M291.5 26v1M291.5 28v2M291.5 35v1M291.5 39v1M292.5 1v1M292.5 3v1M292.5 5v1M292.5 10v1M292.5 12v1M292.5 17v1M292.5 22v1M292.5 28v2M292.5 31v1M292.5 35v1M292.5 38v2M293.5 8v1M293.5 25v1M293.5 29v1M293.5 33v1M293.5 35v2M294.5 6v1M294.5 26v1M295.5 4v2M295.5 9v10M295.5 28v4M295.5 39v1M296.5 5v1M296.5 12v2M296.5 26v1M296.5 28v2M296.5 31v1M296.5 37v1M300.5 31v1M301.5 33v1M302.5 8v1M302.5 16v1M302.5 19v1M302.5 23v1M302.5 25v1M305.5 0v1M305.5 9v1M307.5 13v1M313.5 27v1M313.5 30v1M314.5 3v1M314.5 25v1M315.5 11v1M315.5 13v1M316.5 8v1M319.5 1v1M319.5 6v2M319.5 11v1M319.5 13v2M319.5 16v1M319.5 23v2M319.5 30v1M319.5 32v1M319.5 35v2M319.5 39v1M320.5 0v1M320.5 5v1M320.5 10v1M320.5 13v1M320.5 17v1M320.5 19v1M320.5 22v1M320.5 24v1M320.5 26v2M320.5 34v1M321.5 0v1M321.5 2v3M321.5 12v1M321.5 18v2M321.5 27v2M321.5 32v1M321.5 38v1M322.5 8v1M322.5 21v1M323.5 2v2M323.5 5v2M323.5 11v1M323.5 14v1M323.5 17v1M323.5 27v5M323.5 33v1M323.5 36v2M324.5 2v1M324.5 7v1M324.5 14v1M324.5 20v1M324.5 22v2M324.5 29v2M324.5 32v4M324.5 38v1M325.5 0v1M325.5 7v1M325.5 14v1M325.5 17v1M325.5 20v1M325.5 24v1M325.5 26v1M325.5 33v2M325.5 36v1M326.5 0v1M326.5 3v1M326.5 13v2M326.5 17v1M326.5 23v1M326.5 26v1M326.5 30v2M326.5 33v2M326.5 36v1M326.5 38v1M327.5 4v1M327.5 10v1M327.5 12v1M327.5 14v3M327.5 19v1M327.5 21v1M327.5 26v2M327.5 31v2M327.5 35v1M327.5 37v1M328.5 3v1M328.5 15v1M328.5 17v1M328.5 34v1M390.5 24v1"/>
<path stroke="#f9f9ff" d="M61.5 20v1M67.5 5v1M67.5 18v1M67.5 20v1M67.5 25v1M67.5 27v1M67.5 29v1M67.5 38v1M71.5 25v1M75.5 2v1M75.5 6v2M75.5 16v1M75.5 21v1M75.5 23v1M75.5 25v1M75.5 29v1M75.5 32v1M75.5 36v1M80.5 25v1M81.5 16v1M81.5 19v1M81.5 22v1M81.5 25v1M81.5 29v1M81.5 36v1M88.5 3v1M88.5 8v2M88.5 25v1M88.5 29v1M88.5 32v1M88.5 38v1M90.5 32v2M95.5 8v2M95.5 14v1M95.5 20v1M95.5 28v4M95.5 33v1M97.5 18v1M97.5 20v1M98.5 9v1M98.5 25v1M101.5 7v1M101.5 9v2M101.5 12v1M101.5 14v1M101.5 24v1M101.5 26v1M101.5 30v1M101.5 35v1M101.5 37v3M102.5 0v1M102.5 8v2M102.5 20v1M102.5 25v1M102.5 28v1M103.5 5v1M107.5 31v1M107.5 34v1M254.5 8v1M254.5 13v1M254.5 19v1M255.5 3v1M256.5 25v1M257.5 1v1M257.5 3v1M257.5 5v2M257.5 11v1M257.5 14v1M257.5 24v1M257.5 27v1M257.5 29v1M257.5 36v3M259.5 11v1M259.5 22v1M259.5 25v1M260.5 33v1M262.5 13v1M262.5 32v1M265.5 0v1M265.5 7v1M265.5 10v3M265.5 15v1M265.5 29v1M267.5 12v1M267.5 18v2M269.5 2v2M269.5 6v1M269.5 8v5M269.5 16v3M269.5 26v1M269.5 28v1M269.5 30v1M269.5 36v2M269.5 39v1M270.5 2v1M270.5 4v1M270.5 7v2M270.5 10v1M270.5 12v2M270.5 19v1M270.5 21v1M270.5 26v1M270.5 31v1M271.5 8v1M271.5 11v1M271.5 17v1M271.5 37v2M272.5 6v1M272.5 8v3M272.5 16v1M272.5 33v1M272.5 36v1M273.5 4v1M273.5 6v1M273.5 9v1M273.5 12v1M273.5 14v2M273.5 23v1M273.5 26v3M273.5 32v4M274.5 5v1M274.5 18v1M275.5 2v1M275.5 8v1M275.5 26v1M275.5 29v1M275.5 34v2M276.5 5v1M276.5 15v1M276.5 18v1M276.5 24v1M276.5 38v1M278.5 1v1M278.5 3v1M278.5 5v3M278.5 9v1M278.5 11v1M278.5 15v1M278.5 17v1M278.5 34v1M278.5 36v1M278.5 38v1M279.5 0v1M279.5 2v1M279.5 16v1M279.5 19v1M279.5 29v1M280.5 15v1M280.5 25v1M280.5 37v1M281.5 1v1M281.5 6v1M281.5 12v4M281.5 23v2M281.5 27v1M281.5 30v1M281.5 34v1M281.5 39v1M282.5 1v1M282.5 18v1M284.5 8v1M284.5 13v1M284.5 17v1M284.5 19v2M284.5 23v2M284.5 27v1M284.5 30v1M284.5 32v2M284.5 37v1M286.5 2v1M286.5 6v1M286.5 16v1M286.5 25v1M286.5 28v1M286.5 32v1M288.5 1v1M288.5 3v1M288.5 15v1M289.5 3v1M289.5 8v1M289.5 12v1M289.5 21v1M289.5 27v1M289.5 32v1M289.5 35v2M289.5 39v1M290.5 3v1M290.5 5v1M290.5 9v1M290.5 20v1M290.5 24v1M290.5 31v1M290.5 38v1M291.5 13v1M291.5 25v1M291.5 32v1M292.5 8v2M292.5 11v1M292.5 14v1M292.5 18v1M292.5 24v1M292.5 26v1M292.5 33v1M295.5 0v1M295.5 19v1M295.5 23v1M295.5 33v1M296.5 11v1M296.5 22v1M296.5 33v2M319.5 12v1M319.5 18v1M319.5 20v1M319.5 25v1M319.5 27v1M319.5 33v1M320.5 36v1M320.5 39v1M321.5 10v1M321.5 24v1M321.5 26v1M323.5 8v1M323.5 16v1M323.5 35v1M324.5 13v1M324.5 19v1M324.5 25v1M324.5 28v1M325.5 23v1M326.5 2v1M326.5 9v1M326.5 11v1M326.5 18v1M326.5 32v1M327.5 0v1M327.5 3v1M327.5 6v2M327.5 25v1M327.5 29v1M328.5 1v1M328.5 4v1M328.5 8v1M328.5 14v1M328.5 16v1M328.5 27v1M328.5 32v1M328.5 35v1M328.5 39v1M376.5 0v1M376.5 27v1M376.5 30v1M386.5 4v1M390.5 2v1M390.5 5v1M390.5 20v2M390.5 29v3M390.5 39v1M398.5 3v2M398.5 12v1M398.5 24v1M398.5 27v1M398.5 36v2"/>
<path stroke="#ffffff" d="M67.5 6v1M75.5 19v1M78.5 33v2M81.5 1v2M81.5 7v1M81.5 13v1M81.5 28v1M81.5 31v1M81.5 37v1M88.5 30v1M95.5 1v1M95.5 10v1M95.5 34v1M97.5 9v1M101.5 3v1M101.5 5v1M101.5 8v1M101.5 15v1M101.5 19v1M101.5 22v1M101.5 27v2M101.5 33v1M102.5 29v1M254.5 7v1M256.5 36v1M257.5 0v1M257.5 2v1M257.5 4v1M257.5 7v1M257.5 10v1M257.5 12v1M257.5 15v2M257.5 22v2M257.5 28v1M257.5 30v1M257.5 35v1M268.5 30v1M269.5 0v1M269.5 4v1M269.5 13v3M269.5 22v3M269.5 29v1M269.5 32v1M270.5 11v1M270.5 23v1M270.5 25v1M270.5 29v1M271.5 1v2M271.5 4v1M271.5 12v1M271.5 24v2M271.5 29v2M271.5 33v1M271.5 35v1M271.5 39v1M272.5 0v1M273.5 0v4M273.5 8v1M273.5 11v1M273.5 16v1M273.5 19v1M273.5 39v1M274.5 15v1M274.5 23v1M274.5 27v1M275.5 1v1M275.5 5v1M275.5 14v2M275.5 19v2M275.5 23v1M275.5 25v1M275.5 31v2M275.5 38v1M276.5 4v1M276.5 6v1M276.5 10v1M276.5 14v1M276.5 16v1M276.5 19v2M276.5 23v1M276.5 29v1M276.5 31v1M276.5 34v1M276.5 37v1M276.5 39v1M277.5 1v1M278.5 0v1M278.5 8v1M278.5 12v1M278.5 16v1M278.5 18v2M278.5 25v2M278.5 29v1M278.5 33v1M279.5 13v1M280.5 0v1M280.5 5v1M280.5 8v1M280.5 11v4M280.5 18v1M280.5 21v1M280.5 28v1M280.5 30v2M281.5 9v2M281.5 16v3M281.5 20v1M281.5 26v1M281.5 32v1M282.5 7v1M282.5 29v1M283.5 4v1M283.5 19v1M283.5 39v1M284.5 2v1M284.5 6v1M284.5 12v1M284.5 21v1M284.5 25v2M284.5 28v2M284.5 34v1M284.5 36v1M284.5 38v1M286.5 8v1M287.5 3v2M287.5 23v1M287.5 33v1M287.5 38v1M288.5 2v1M288.5 4v1M288.5 10v1M288.5 14v1M288.5 28v1M288.5 30v2M288.5 34v1M288.5 39v1M289.5 1v2M289.5 5v1M289.5 7v1M289.5 9v2M289.5 16v2M289.5 20v1M289.5 22v1M289.5 24v1M289.5 28v1M289.5 30v2M289.5 33v1M289.5 38v1M290.5 0v1M290.5 6v1M290.5 11v1M290.5 21v1M290.5 23v1M290.5 28v1M290.5 39v1M292.5 2v1M292.5 21v1M292.5 25v1M295.5 8v1M296.5 16v1M296.5 18v1M296.5 25v1M296.5 36v1M320.5 30v1M323.5 13v1M327.5 13v1M327.5 18v1M328.5 0v1M328.5 5v1M328.5 7v1M328.5 18v1M328.5 29v1M328.5 36v1M373.5 17v1M376.5 5v1M376.5 8v3M376.5 12v1M376.5 15v1M376.5 17v2M376.5 28v1M376.5 33v1M376.5 38v1M384.5 14v1M385.5 4v1M388.5 17v1M390.5 1v1M390.5 6v1M390.5 12v1M390.5 15v1M390.5 17v1M390.5 22v2M390.5 25v1M390.5 36v1M390.5 38v1M392.5 1v1M393.5 31v1M394.5 5v1M394.5 17v1M394.5 26v1M394.5 39v1M395.5 5v1M395.5 24v1M395.5 38v1M398.5 1v2M398.5 7v1M398.5 9v1M398.5 14v1M398.5 28v1M398.5 33v1M398.5 35v1M398.5 39v1"/>
<path stroke="#fff9f9" d="M67.5 7v1M67.5 19v1M67.5 22v1M75.5 22v1M81.5 21v1M95.5 16v1M95.5 25v1M101.5 0v2M101.5 6v1M101.5 18v1M101.5 23v1M101.5 29v1M101.5 31v1M101.5 34v1M257.5 13v1M257.5 17v1M257.5 19v2M257.5 25v2M257.5 32v2M257.5 39v1M269.5 25v1M269.5 33v2M271.5 0v1M271.5 3v1M271.5 5v1M271.5 9v2M271.5 13v1M271.5 16v1M271.5 18v1M271.5 20v4M271.5 26v1M271.5 32v1M271.5 34v1M273.5 5v1M273.5 10v1M273.5 29v1M273.5 38v1M274.5 12v1M274.5 16v1M274.5 28v1M274.5 31v1M274.5 34v1M274.5 37v1M275.5 3v2M275.5 6v2M275.5 10v1M275.5 12v2M275.5 16v1M275.5 18v1M275.5 21v2M275.5 27v2M275.5 30v1M275.5 33v1M275.5 36v1M276.5 0v1M276.5 3v1M276.5 7v3M276.5 11v2M276.5 17v1M276.5 22v1M276.5 26v2M276.5 32v2M276.5 35v1M277.5 17v1M277.5 28v1M278.5 21v2M278.5 24v1M278.5 28v1M278.5 35v1M280.5 1v4M280.5 10v1M280.5 17v1M280.5 19v1M280.5 22v3M280.5 26v2M280.5 33v4M280.5 38v1M281.5 2v4M281.5 11v1M281.5 19v1M281.5 22v1M281.5 33v1M281.5 36v1M282.5 13v1M283.5 9v1M283.5 12v1M283.5 14v2M283.5 17v1M283.5 20v1M283.5 22v1M283.5 24v1M283.5 28v1M283.5 37v1M284.5 0v1M284.5 11v1M284.5 35v1M285.5 17v1M285.5 38v1M286.5 19v1M287.5 0v2M287.5 5v2M287.5 9v1M287.5 12v1M287.5 15v1M287.5 17v1M287.5 27v1M288.5 8v1M288.5 11v1M288.5 13v1M288.5 17v1M288.5 21v1M288.5 23v5M288.5 29v1M288.5 35v1M288.5 37v1M289.5 0v1M289.5 11v1M289.5 13v1M289.5 18v1M289.5 23v1M289.5 25v1M290.5 7v2M290.5 12v1M290.5 14v2M290.5 19v1M290.5 26v1M290.5 30v1M290.5 33v4M295.5 2v1M328.5 2v1M328.5 9v1M328.5 13v1M328.5 25v1M371.5 15v1M373.5 13v1M373.5 24v1M373.5 31v1M373.5 34v1M373.5 36v1M376.5 4v1M376.5 7v1M376.5 11v1M376.5 16v1M376.5 22v1M376.5 26v1M376.5 31v1M376.5 35v1M376.5 39v1M379.5 4v1M381.5 38v1M383.5 6v1M383.5 20v1M383.5 31v1M383.5 36v1M384.5 1v1M384.5 4v1M384.5 6v1M384.5 10v1M384.5 12v1M384.5 16v3M384.5 20v1M384.5 24v1M384.5 27v1M384.5 30v1M384.5 37v2M385.5 1v1M385.5 24v1M385.5 26v1M385.5 35v1M385.5 38v1M386.5 2v2M386.5 24v1M386.5 39v1M387.5 17v1M388.5 1v1M388.5 3v1M388.5 5v1M388.5 15v1M388.5 34v1M390.5 3v1M390.5 11v1M390.5 13v2M390.5 18v2M390.5 26v1M390.5 28v1M390.5 32v2M390.5 35v1M391.5 38v1M392.5 4v2M392.5 10v1M392.5 18v1M392.5 23v1M392.5 28v1M392.5 30v2M392.5 37v2M393.5 4v2M393.5 12v1M393.5 15v1M393.5 17v1M393.5 33v1M393.5 37v1M394.5 0v1M394.5 2v1M394.5 7v1M394.5 13v3M394.5 22v1M394.5 30v1M394.5 33v1M394.5 37v1M395.5 4v1M395.5 9v1M395.5 12v1M395.5 17v2M395.5 28v1M395.5 36v1M396.5 1v1M396.5 29v1M398.5 0v1M398.5 5v2M398.5 8v1M398.5 13v1M398.5 15v4M398.5 20v1M398.5 22v2M398.5 26v1M398.5 29v2"/>
<path stroke="#fff2f2" d="M101.5 16v1M101.5 21v1M101.5 25v1M101.5 32v1M101.5 36v1M257.5 8v2M257.5 18v1M271.5 14v1M271.5 19v1M271.5 31v1M273.5 13v1M273.5 18v1M273.5 21v1M273.5 31v1M274.5 0v2M274.5 3v1M274.5 8v1M274.5 10v2M274.5 14v1M274.5 22v1M274.5 26v1M274.5 32v1M274.5 38v1M275.5 0v1M275.5 9v1M275.5 11v1M275.5 39v1M276.5 2v1M276.5 13v1M276.5 21v1M276.5 25v1M276.5 28v1M276.5 30v1M277.5 12v1M277.5 18v1M277.5 24v1M277.5 34v1M278.5 10v1M278.5 13v1M278.5 31v1M280.5 6v1M280.5 9v1M280.5 20v1M280.5 29v1M280.5 32v1M280.5 39v1M281.5 7v2M281.5 21v1M281.5 25v1M281.5 28v2M281.5 35v1M283.5 1v1M283.5 5v1M283.5 7v1M283.5 10v1M283.5 21v1M283.5 26v1M283.5 30v1M283.5 33v3M285.5 0v2M285.5 3v1M285.5 6v1M285.5 10v1M285.5 15v1M285.5 20v1M285.5 26v2M285.5 31v1M285.5 33v2M285.5 37v1M287.5 7v1M287.5 10v2M287.5 13v2M287.5 18v1M287.5 20v3M287.5 25v1M287.5 31v1M287.5 36v1M287.5 39v1M288.5 0v1M288.5 5v2M288.5 9v1M288.5 12v1M288.5 16v1M288.5 18v3M288.5 22v1M288.5 33v1M288.5 36v1M289.5 19v1M289.5 29v1M290.5 1v2M290.5 4v1M290.5 10v1M290.5 13v1M290.5 16v2M290.5 22v1M290.5 25v1M290.5 27v1M290.5 29v1M290.5 37v1M342.5 3v1M342.5 15v1M342.5 17v1M368.5 37v1M369.5 2v1M369.5 4v1M369.5 14v1M369.5 30v1M369.5 37v2M370.5 15v1M370.5 20v1M370.5 24v1M371.5 12v1M371.5 17v1M373.5 1v1M373.5 3v2M373.5 7v1M373.5 14v2M373.5 20v2M373.5 28v1M373.5 30v1M373.5 33v1M373.5 38v1M374.5 10v1M374.5 25v1M376.5 1v2M376.5 14v1M376.5 20v2M376.5 23v1M376.5 25v1M376.5 29v1M376.5 32v1M376.5 34v1M376.5 37v1M378.5 34v1M379.5 5v1M379.5 14v1M379.5 17v2M379.5 21v2M379.5 30v1M379.5 36v1M380.5 36v1M381.5 3v1M381.5 7v1M381.5 30v1M383.5 4v2M383.5 9v2M383.5 17v1M383.5 23v2M383.5 26v3M383.5 30v1M383.5 33v1M383.5 35v1M383.5 38v1M384.5 0v1M384.5 3v1M384.5 5v1M384.5 8v2M384.5 19v1M384.5 22v1M384.5 28v2M384.5 31v1M384.5 34v3M385.5 5v1M385.5 10v1M385.5 12v1M385.5 15v2M385.5 18v1M385.5 27v1M385.5 29v1M385.5 31v1M385.5 34v1M385.5 36v1M386.5 5v1M386.5 8v1M386.5 14v1M386.5 17v1M386.5 23v1M386.5 26v2M386.5 31v1M386.5 33v2M386.5 37v2M387.5 15v1M388.5 6v3M388.5 16v1M388.5 20v1M388.5 24v1M388.5 33v1M389.5 6v1M389.5 10v1M389.5 17v1M389.5 33v1M390.5 7v2M390.5 16v1M390.5 27v1M390.5 34v1M391.5 1v1M391.5 4v1M391.5 6v1M391.5 14v2M391.5 17v1M391.5 20v1M391.5 22v1M391.5 29v1M391.5 31v1M392.5 2v2M392.5 6v1M392.5 13v5M392.5 20v1M392.5 24v1M392.5 26v2M392.5 32v1M392.5 34v2M392.5 39v1M393.5 22v3M393.5 29v2M393.5 34v1M393.5 38v1M394.5 1v1M394.5 4v1M394.5 11v2M394.5 18v1M394.5 24v1M394.5 27v1M394.5 31v2M394.5 34v3M395.5 3v1M395.5 6v2M395.5 10v1M395.5 16v1M395.5 20v1M395.5 27v1M395.5 33v1M395.5 35v1M395.5 37v1M396.5 7v1M396.5 12v1M396.5 14v2M396.5 26v1M396.5 38v2M397.5 24v1M398.5 10v2M398.5 19v1M398.5 21v1M398.5 25v1M398.5 31v1M398.5 38v1"/>
<path stroke="#ff1919" d="M181.5 0v1M181.5 11v1M181.5 19v1M181.5 23v1M182.5 2v1M182.5 6v2M182.5 10v1M182.5 12v4M182.5 22v1M182.5 27v1M182.5 34v1M182.5 38v1"/>
<path stroke="#ff2020" d="M181.5 1v1M181.5 3v1M181.5 6v1M181.5 8v2M181.5 16v1M181.5 18v1M181.5 20v1M181.5 26v1M181.5 39v1M182.5 0v1M182.5 17v1M182.5 19v1M182.5 21v1M182.5 23v1M182.5 39v1M184.5 13v1M184.5 32v1"/>
<path stroke="#ff2626" d="M181.5 2v1M181.5 12v2M181.5 15v1M181.5 21v2M181.5 25v1M181.5 27v3M181.5 31v2M182.5 4v1M182.5 9v1M182.5 32v1M183.5 33v1M184.5 5v1M184.5 7v1M184.5 19v2M184.5 23v1M184.5 25v1M184.5 34v1M184.5 37v1"/>
<path stroke="#ff3333" d="M181.5 4v1M181.5 24v1M181.5 30v1M181.5 35v4M184.5 0v2M184.5 6v1M184.5 8v1M184.5 12v1M184.5 15v1M184.5 17v1M184.5 21v2M184.5 26v5M184.5 38v1"/>
<path stroke="#ff2d2d" d="M181.5 5v1M181.5 10v1M181.5 14v1M181.5 34v1M184.5 2v2M184.5 16v1M184.5 18v1M184.5 24v1M184.5 31v1M184.5 35v2M184.5 39v1"/>
<path stroke="#ff0d0d" d="M181.5 7v1M182.5 5v1M182.5 11v1M182.5 16v1M182.5 18v1M182.5 20v1M182.5 24v1M182.5 31v1M182.5 36v2M183.5 12v1M183.5 15v1M183.5 17v1M183.5 34v1M183.5 38v1"/>
<path stroke="#ff3939" d="M181.5 17v1M184.5 4v1M184.5 9v1M184.5 11v1M184.5 14v1"/>
<path stroke="#ff4d4d" d="M181.5 33v1M188.5 2v1M188.5 7v1M188.5 18v1M188.5 28v1M188.5 30v1M188.5 36v1M194.5 0v1M194.5 6v2M194.5 9v1M194.5 16v1M194.5 18v1M194.5 31v2M194.5 34v1"/>
<path stroke="#ff1313" d="M182.5 1v1M182.5 3v1M182.5 25v2M182.5 28v3M182.5 35v1M183.5 37v1"/>
<path stroke="#ff0606" d="M182.5 8v1M183.5 1v1M183.5 6v1M183.5 11v1M183.5 23v1M183.5 27v2M183.5 35v1M183.5 39v1"/>
<path stroke="#ff4646" d="M182.5 33v1M188.5 26v1M194.5 19v1"/>
<path stroke="#ff0000" d="M183.5 0v1M183.5 2v4M183.5 7v4M183.5 13v2M183.5 16v1M183.5 18v5M183.5 24v3M183.5 29v4M183.5 36v1"/>
<path stroke="#ff4040" d="M184.5 10v1"/>
<path stroke="#ff5353" d="M184.5 33v1M187.5 8v1M187.5 20v1M188.5 9v2M188.5 13v1M188.5 16v1M188.5 20v1M188.5 22v3M188.5 29v1M188.5 32v1M189.5 13v1M194.5 2v1M194.5 4v2M194.5 8v1M194.5 11v1M194.5 13v2M194.5 17v1M194.5 20v1M194.5 28v1M194.5 39v1"/>
<path stroke="#ff6c6c" d="M185.5 0v2M185.5 4v1M185.5 7v2M185.5 11v1M185.5 17v1M185.5 34v3M185.5 38v1M186.5 2v1M186.5 4v1M186.5 14v2M186.5 20v2M186.5 23v1M186.5 26v1M187.5 4v1M187.5 9v1M187.5 15v3M187.5 19v1M189.5 4v1M189.5 12v1M189.5 29v1M189.5 34v1M189.5 36v2M190.5 0v1M190.5 7v2M190.5 16v2M190.5 20v1M190.5 23v2M190.5 27v3M190.5 31v1M190.5 36v2M191.5 7v2M191.5 27v1M191.5 29v2M192.5 16v1M195.5 6v1M195.5 9v2M195.5 18v3M195.5 31v2M195.5 34v1M195.5 39v1"/>
<path stroke="#ff7373" d="M185.5 2v1M185.5 6v1M185.5 9v2M185.5 12v1M185.5 16v1M185.5 18v3M185.5 22v2M185.5 28v1M186.5 11v2M186.5 18v1M186.5 27v1M186.5 35v1M186.5 37v3M187.5 24v1M189.5 17v1M190.5 1v1M190.5 11v1M190.5 13v1M190.5 18v2M190.5 38v2M191.5 0v1M191.5 2v1M191.5 11v1M191.5 13v5M191.5 23v3M191.5 28v1M191.5 34v1M191.5 36v2M191.5 39v1M193.5 1v2M193.5 4v2M193.5 16v3M193.5 23v5M193.5 29v1M193.5 32v1M193.5 37v1M195.5 0v1M195.5 2v2M195.5 13v1M195.5 24v2M195.5 27v1M195.5 30v1M195.5 35v1M195.5 37v2"/>
<path stroke="#ff7979" d="M185.5 3v1M185.5 14v1M185.5 27v1M185.5 30v1M185.5 37v1M186.5 1v1M186.5 24v1M187.5 5v1M188.5 33v1M189.5 33v1M190.5 2v1M190.5 4v2M190.5 14v1M190.5 22v1M190.5 30v1M190.5 32v1M190.5 35v1M191.5 3v1M191.5 5v2M191.5 9v2M191.5 26v1M191.5 31v2M191.5 38v1M193.5 3v1M193.5 6v4M193.5 11v1M193.5 13v1M193.5 15v1M193.5 19v1M193.5 21v2M194.5 33v1M195.5 4v2M195.5 14v2M195.5 23v1M195.5 28v2M195.5 36v1"/>
<path stroke="#ff8080" d="M185.5 5v1M185.5 15v1M185.5 24v1M185.5 26v1M186.5 17v1M191.5 1v1M191.5 4v1M191.5 12v1M191.5 20v1M191.5 35v1M192.5 7v2M192.5 12v1M192.5 21v1M192.5 34v2M193.5 10v1M193.5 12v1M193.5 14v1M193.5 20v1M193.5 28v1M193.5 30v2M193.5 36v1M193.5 39v1M195.5 1v1M195.5 12v1M195.5 21v1M245.5 23v1M251.5 8v1"/>
<path stroke="#ff6666" d="M185.5 13v1M185.5 21v1M185.5 25v1M185.5 29v1M185.5 31v2M185.5 39v1M186.5 6v1M186.5 8v1M186.5 10v1M186.5 13v1M186.5 16v1M186.5 22v1M186.5 34v1M187.5 1v1M187.5 6v1M187.5 14v1M187.5 18v1M187.5 29v1M187.5 31v1M187.5 34v1M187.5 37v1M188.5 6v1M189.5 1v1M189.5 8v2M189.5 14v1M189.5 16v1M189.5 23v2M189.5 26v2M189.5 30v1M189.5 32v1M189.5 38v1M190.5 3v1M190.5 6v1M190.5 9v2M190.5 12v1M190.5 15v1M190.5 26v1M190.5 34v1M191.5 19v1M191.5 21v2M194.5 21v1M194.5 26v1M195.5 7v2M195.5 11v1M195.5 16v1M195.5 22v1"/>
<path stroke="#ff8c8c" d="M185.5 33v1M190.5 33v1M191.5 33v1M192.5 0v3M192.5 6v1M192.5 9v3M192.5 17v1M192.5 19v1M192.5 31v2M195.5 33v1M197.5 19v1M200.5 0v1M200.5 2v1M200.5 4v1M200.5 11v1M200.5 23v1M200.5 25v1M200.5 28v1M200.5 36v1M200.5 38v2M216.5 6v1M216.5 8v1M216.5 16v1M216.5 36v1M218.5 20v1M220.5 29v1M227.5 21v1M233.5 37v1M234.5 29v1M236.5 8v1M239.5 0v1M239.5 9v1M239.5 11v1M239.5 28v1M239.5 32v1M239.5 35v1M241.5 5v1M241.5 20v1M241.5 26v1M241.5 32v1M245.5 0v2M245.5 3v1M245.5 6v2M245.5 9v1M245.5 11v3M245.5 18v1M245.5 21v1M245.5 28v3M245.5 37v1M246.5 6v3M249.5 29v1M250.5 2v1M250.5 16v1M250.5 20v1M250.5 25v2M251.5 12v1M251.5 20v2M251.5 25v1M251.5 29v1M251.5 31v1M251.5 35v2M253.5 1v1M253.5 7v1M253.5 14v1M253.5 17v3M253.5 25v1M253.5 27v1M253.5 29v1"/>
<path stroke="#ff6060" d="M186.5 0v1M186.5 3v1M186.5 7v1M186.5 19v1M186.5 25v1M186.5 28v4M186.5 36v1M187.5 0v1M187.5 3v1M187.5 10v4M187.5 23v1M187.5 25v2M187.5 28v1M187.5 30v1M187.5 35v2M187.5 38v2M188.5 3v2M188.5 15v1M188.5 19v1M188.5 21v1M188.5 39v1M189.5 0v1M189.5 2v2M189.5 6v2M189.5 10v2M189.5 15v1M189.5 18v5M189.5 25v1M189.5 28v1M189.5 31v1M189.5 35v1M189.5 39v1M190.5 21v1M190.5 25v1M191.5 18v1M194.5 12v1M194.5 15v1M194.5 22v1M194.5 25v1M194.5 27v1M194.5 30v1M194.5 35v1M194.5 37v1M195.5 26v1"/>
<path stroke="#ff5959" d="M186.5 5v1M186.5 9v1M186.5 32v1M187.5 2v1M187.5 7v1M187.5 21v2M187.5 27v1M187.5 32v1M188.5 0v2M188.5 5v1M188.5 8v1M188.5 11v2M188.5 14v1M188.5 17v1M188.5 25v1M188.5 27v1M188.5 31v1M188.5 34v2M188.5 37v2M189.5 5v1M194.5 1v1M194.5 3v1M194.5 10v1M194.5 23v2M194.5 29v1M194.5 36v1M194.5 38v1"/>
<path stroke="#ff8686" d="M186.5 33v1M187.5 33v1M192.5 5v1M192.5 13v3M192.5 18v1M192.5 22v1M192.5 25v1M192.5 28v2M192.5 36v1M193.5 0v1M193.5 33v3M193.5 38v1M195.5 17v1M200.5 9v2M200.5 21v1M200.5 29v1M216.5 2v1M216.5 13v1M216.5 21v1M239.5 8v1M239.5 10v1M239.5 17v1M239.5 21v1M245.5 2v1M245.5 4v1M245.5 8v1M245.5 14v1M245.5 16v1M245.5 20v1M245.5 25v1M245.5 32v1M245.5 34v1M245.5 36v1M245.5 38v1M246.5 27v1M250.5 19v1M251.5 7v1M251.5 16v1M251.5 19v1M251.5 24v1M253.5 24v1M253.5 28v1"/>
<path stroke="#ff9393" d="M192.5 3v2M192.5 23v2M192.5 26v2M192.5 37v2M196.5 26v1M200.5 3v1M200.5 5v2M200.5 17v1M200.5 22v1M200.5 26v2M200.5 31v1M201.5 6v1M201.5 8v1M201.5 13v1M201.5 18v1M201.5 32v1M204.5 23v1M215.5 23v1M215.5 31v2M216.5 7v1M216.5 25v2M216.5 28v3M216.5 35v1M216.5 37v1M218.5 11v1M218.5 16v1M220.5 8v1M223.5 16v1M226.5 2v1M226.5 16v1M226.5 19v2M226.5 37v1M227.5 7v1M227.5 10v1M229.5 6v1M229.5 9v1M229.5 13v1M233.5 1v2M233.5 7v2M233.5 10v1M233.5 12v2M233.5 16v1M233.5 20v1M233.5 23v1M233.5 25v1M234.5 8v2M234.5 11v1M234.5 19v1M236.5 7v1M236.5 16v1M236.5 19v1M238.5 2v1M238.5 8v1M239.5 2v2M239.5 7v1M239.5 16v1M239.5 19v1M239.5 25v3M239.5 29v1M239.5 31v1M239.5 39v1M241.5 3v1M241.5 7v1M241.5 13v1M243.5 12v1M243.5 16v1M243.5 18v1M243.5 20v1M243.5 28v2M243.5 32v1M243.5 38v1M244.5 20v1M244.5 26v1M245.5 10v1M245.5 15v1M245.5 17v1M245.5 19v1M245.5 22v1M245.5 24v1M245.5 26v2M245.5 31v1M245.5 39v1M246.5 5v1M246.5 10v1M246.5 13v2M246.5 16v1M246.5 21v1M246.5 23v1M246.5 25v2M246.5 29v1M246.5 31v1M247.5 22v1M249.5 16v1M249.5 32v1M250.5 4v1M250.5 8v1M250.5 10v2M250.5 27v2M250.5 32v1M250.5 35v2M251.5 0v1M251.5 3v1M251.5 6v1M251.5 11v1M251.5 13v1M251.5 17v2M251.5 23v1M251.5 28v1M251.5 32v1M251.5 34v1M252.5 8v1M252.5 19v1M253.5 3v1M253.5 5v1M253.5 8v2M253.5 13v1M253.5 15v1M253.5 20v1M253.5 23v1M253.5 31v2M253.5 35v1M253.5 37v1"/>
<path stroke="#ff9999" d="M192.5 20v1M192.5 30v1M192.5 33v1M192.5 39v1M196.5 8v1M196.5 13v1M196.5 20v2M196.5 37v1M197.5 0v1M197.5 8v2M197.5 29v1M200.5 7v2M200.5 12v5M200.5 19v2M200.5 24v1M200.5 30v1M200.5 34v2M200.5 37v1M201.5 16v1M201.5 20v1M201.5 23v1M201.5 25v2M201.5 29v1M202.5 9v1M202.5 20v1M207.5 21v1M208.5 0v1M208.5 16v1M209.5 9v1M210.5 7v2M210.5 13v1M214.5 2v1M214.5 25v1M215.5 21v1M215.5 34v1M215.5 36v1M216.5 5v1M216.5 11v1M216.5 15v1M216.5 18v3M216.5 22v1M216.5 24v1M216.5 31v1M216.5 34v1M216.5 38v1M218.5 2v1M218.5 5v3M218.5 10v1M218.5 14v1M218.5 17v1M218.5 21v1M218.5 23v1M218.5 26v1M218.5 28v1M218.5 32v1M218.5 35v1M220.5 0v1M220.5 9v1M220.5 13v1M220.5 18v1M220.5 27v1M220.5 32v1M224.5 13v1M226.5 8v2M226.5 11v1M226.5 18v1M226.5 25v1M226.5 31v1M227.5 5v1M227.5 13v1M227.5 16v1M227.5 18v2M227.5 26v1M227.5 28v2M227.5 38v1M229.5 3v1M229.5 16v1M229.5 19v1M230.5 29v1M233.5 0v1M233.5 3v2M233.5 19v1M233.5 21v1M233.5 28v2M233.5 31v1M233.5 35v2M233.5 38v1M234.5 3v1M234.5 6v1M234.5 12v1M234.5 17v1M234.5 21v1M234.5 25v1M236.5 2v1M236.5 5v1M236.5 10v1M236.5 21v1M236.5 25v1M236.5 29v2M236.5 32v1M238.5 9v1M239.5 1v1M239.5 5v2M239.5 13v1M239.5 18v1M239.5 22v2M239.5 34v1M239.5 36v3M241.5 6v1M241.5 8v1M241.5 11v2M241.5 21v2M241.5 25v1M241.5 31v1M241.5 39v1M243.5 1v2M243.5 7v1M243.5 9v2M243.5 14v2M243.5 27v1M243.5 31v1M244.5 13v1M244.5 25v1M244.5 35v1M245.5 5v1M246.5 0v3M246.5 11v1M246.5 17v1M246.5 19v2M246.5 22v1M246.5 24v1M246.5 28v1M246.5 34v3M247.5 2v1M247.5 19v1M247.5 25v2M247.5 29v1M247.5 32v1M247.5 39v1M248.5 2v1M249.5 2v1M249.5 11v1M249.5 21v1M249.5 25v1M249.5 31v1M249.5 35v2M249.5 39v1M250.5 0v2M250.5 3v1M250.5 7v1M250.5 9v1M250.5 12v1M250.5 14v1M250.5 18v1M250.5 21v1M250.5 23v1M250.5 29v2M250.5 37v3M251.5 1v2M251.5 4v1M251.5 9v1M251.5 30v1M251.5 37v1M251.5 39v1M252.5 9v1M252.5 23v1M252.5 34v2M253.5 2v1M253.5 4v1M253.5 6v1M253.5 10v1M253.5 12v1M253.5 21v2M253.5 36v1M253.5 38v2M345.5 7v1"/>
<path stroke="#ffa6a6" d="M196.5 0v1M196.5 2v1M196.5 12v1M196.5 15v1M196.5 18v2M196.5 22v2M196.5 31v2M196.5 36v1M197.5 11v1M197.5 17v1M197.5 20v1M197.5 23v1M197.5 26v2M197.5 35v3M197.5 39v1M198.5 7v1M198.5 15v1M198.5 17v1M198.5 28v1M198.5 30v3M198.5 35v1M199.5 23v1M200.5 33v1M201.5 2v1M201.5 4v1M201.5 7v1M201.5 10v2M201.5 14v1M201.5 19v1M201.5 22v1M201.5 27v1M201.5 30v1M201.5 34v1M201.5 36v2M202.5 2v2M202.5 6v2M202.5 10v2M202.5 13v3M202.5 24v1M202.5 27v1M202.5 29v2M202.5 35v1M202.5 37v1M204.5 0v1M204.5 2v1M204.5 4v1M204.5 6v4M204.5 11v1M204.5 13v1M204.5 15v1M204.5 18v1M204.5 21v2M204.5 28v2M204.5 37v1M207.5 2v2M207.5 7v1M207.5 10v1M207.5 18v1M207.5 25v3M207.5 31v2M207.5 34v3M208.5 10v1M208.5 12v1M208.5 20v3M208.5 27v1M208.5 29v1M209.5 1v1M209.5 3v1M209.5 5v3M209.5 11v1M209.5 19v2M209.5 28v2M209.5 31v2M209.5 35v1M209.5 38v2M210.5 1v1M210.5 9v4M210.5 16v1M210.5 18v1M210.5 23v1M210.5 25v1M210.5 28v1M210.5 32v1M210.5 36v1M211.5 0v2M211.5 7v2M211.5 11v1M211.5 16v1M211.5 21v1M211.5 27v1M211.5 30v1M211.5 32v1M212.5 1v1M212.5 5v2M212.5 8v2M212.5 13v2M212.5 26v2M212.5 29v1M212.5 35v1M214.5 0v1M214.5 7v1M214.5 13v2M214.5 17v2M214.5 20v1M214.5 26v1M214.5 30v3M215.5 0v2M215.5 4v1M215.5 8v7M215.5 16v3M215.5 20v1M215.5 26v1M215.5 28v1M215.5 39v1M216.5 4v1M216.5 10v1M216.5 17v1M216.5 27v1M216.5 32v1M218.5 1v1M218.5 8v1M218.5 12v2M218.5 27v1M218.5 30v1M218.5 34v1M218.5 36v2M220.5 1v2M220.5 6v1M220.5 10v1M220.5 14v1M220.5 20v1M220.5 23v1M220.5 25v1M220.5 33v1M220.5 35v1M221.5 2v1M221.5 8v1M221.5 11v1M221.5 16v1M221.5 21v1M222.5 6v2M222.5 11v1M222.5 13v1M222.5 15v2M222.5 19v1M222.5 22v1M222.5 28v2M223.5 2v1M223.5 7v1M223.5 9v3M223.5 13v1M223.5 18v2M223.5 21v1M223.5 25v2M223.5 28v1M223.5 32v1M223.5 34v1M223.5 38v1M224.5 7v1M224.5 9v1M224.5 16v1M224.5 18v1M224.5 22v1M224.5 24v2M225.5 2v5M225.5 9v1M225.5 13v3M225.5 17v1M225.5 23v1M225.5 26v4M225.5 32v1M225.5 34v1M226.5 0v2M226.5 3v1M226.5 13v2M226.5 21v3M226.5 29v1M226.5 32v3M226.5 39v1M227.5 1v1M227.5 4v1M227.5 9v1M227.5 11v1M227.5 15v1M227.5 17v1M227.5 23v1M227.5 35v2M228.5 6v1M228.5 8v1M228.5 10v1M228.5 25v1M228.5 28v1M229.5 2v1M229.5 5v1M229.5 11v2M229.5 14v1M229.5 17v2M229.5 22v1M229.5 27v2M229.5 31v1M230.5 0v1M230.5 2v1M230.5 8v2M230.5 12v2M230.5 15v1M230.5 18v2M230.5 25v2M230.5 28v1M230.5 32v1M230.5 35v1M231.5 19v1M232.5 9v1M233.5 5v1M233.5 24v1M233.5 26v1M233.5 34v1M234.5 4v1M234.5 15v1M234.5 18v1M234.5 24v1M234.5 27v1M234.5 30v1M234.5 35v1M234.5 38v1M235.5 11v1M235.5 27v1M236.5 14v1M236.5 18v1M236.5 22v2M236.5 35v2M236.5 39v1M237.5 28v1M238.5 0v2M238.5 7v1M238.5 12v1M238.5 14v1M238.5 18v1M238.5 20v2M238.5 24v3M238.5 28v2M239.5 4v1M240.5 0v1M240.5 7v1M240.5 13v1M240.5 16v1M240.5 20v1M240.5 22v2M240.5 28v1M240.5 31v2M240.5 34v1M241.5 14v2M241.5 27v1M242.5 7v2M242.5 14v1M242.5 22v1M242.5 25v1M242.5 28v1M242.5 32v1M242.5 38v1M243.5 0v1M243.5 21v1M243.5 34v2M243.5 37v1M244.5 0v2M244.5 3v1M244.5 7v2M244.5 11v1M244.5 14v3M244.5 21v2M244.5 27v3M244.5 31v2M244.5 39v1M246.5 3v1M246.5 15v1M246.5 38v2M247.5 6v1M247.5 11v1M247.5 16v1M247.5 18v1M247.5 27v2M247.5 31v1M247.5 34v1M247.5 38v1M248.5 1v1M248.5 3v1M248.5 8v1M248.5 11v1M248.5 15v1M248.5 21v1M248.5 25v2M248.5 28v2M249.5 0v2M249.5 3v2M249.5 10v1M249.5 12v1M249.5 14v1M249.5 19v2M249.5 24v1M249.5 27v2M250.5 5v1M250.5 15v1M251.5 33v1M251.5 38v1M252.5 0v1M252.5 3v1M252.5 5v1M252.5 14v1M252.5 16v1M252.5 22v1M252.5 28v1M252.5 30v2M252.5 36v1M253.5 0v1M253.5 30v1M253.5 33v1M345.5 4v1M345.5 20v1M345.5 30v1"/>
<path stroke="#ff9f9f" d="M196.5 1v1M196.5 7v1M196.5 16v1M196.5 24v2M196.5 28v1M196.5 30v1M196.5 38v1M197.5 2v1M197.5 5v2M197.5 10v1M197.5 12v4M197.5 21v1M197.5 25v1M198.5 8v1M200.5 1v1M200.5 18v1M200.5 32v1M201.5 0v1M201.5 3v1M201.5 5v1M201.5 9v1M201.5 17v1M201.5 24v1M201.5 28v1M201.5 35v1M201.5 38v1M202.5 8v1M202.5 12v1M202.5 16v2M202.5 28v1M202.5 31v1M204.5 3v1M204.5 19v1M204.5 26v1M204.5 32v1M204.5 36v1M207.5 9v1M207.5 13v2M207.5 19v1M207.5 29v2M208.5 6v1M208.5 8v1M208.5 13v2M208.5 19v1M208.5 25v1M208.5 34v1M209.5 2v1M209.5 4v1M209.5 8v1M209.5 13v1M209.5 16v1M209.5 18v1M209.5 21v1M209.5 36v1M210.5 4v1M210.5 6v1M210.5 21v1M210.5 29v1M211.5 13v1M212.5 2v1M212.5 16v1M212.5 19v2M212.5 25v1M212.5 32v1M214.5 29v1M215.5 2v1M215.5 6v1M215.5 19v1M215.5 22v1M215.5 25v1M215.5 27v1M215.5 29v1M216.5 0v1M216.5 3v1M216.5 9v1M216.5 12v1M216.5 14v1M216.5 23v1M216.5 39v1M218.5 0v1M218.5 4v1M218.5 9v1M218.5 15v1M218.5 18v2M218.5 22v1M218.5 24v2M218.5 29v1M218.5 31v1M218.5 39v1M219.5 18v1M219.5 32v1M220.5 3v3M220.5 11v2M220.5 15v3M220.5 19v1M220.5 21v2M220.5 24v1M220.5 26v1M220.5 30v2M220.5 37v1M220.5 39v1M221.5 7v1M221.5 13v1M222.5 9v1M222.5 25v1M223.5 0v1M223.5 22v1M223.5 29v2M224.5 3v1M224.5 27v1M224.5 32v1M225.5 35v1M226.5 6v2M226.5 10v1M226.5 12v1M226.5 24v1M226.5 26v3M226.5 35v2M226.5 38v1M227.5 0v1M227.5 2v1M227.5 6v1M227.5 8v1M227.5 12v1M227.5 14v1M227.5 20v1M227.5 22v1M227.5 25v1M227.5 27v1M227.5 30v3M227.5 34v1M228.5 13v1M229.5 1v1M229.5 4v1M229.5 7v2M229.5 10v1M229.5 25v2M229.5 29v2M229.5 32v1M229.5 36v2M230.5 6v1M230.5 11v1M230.5 20v2M233.5 6v1M233.5 9v1M233.5 11v1M233.5 14v1M233.5 17v1M233.5 22v1M233.5 27v1M233.5 30v1M233.5 32v1M233.5 39v1M234.5 0v1M234.5 2v1M234.5 10v1M234.5 13v2M234.5 16v1M234.5 20v1M234.5 22v2M234.5 26v1M234.5 28v1M234.5 31v2M234.5 34v1M234.5 36v2M235.5 10v1M236.5 0v1M236.5 9v1M236.5 11v2M236.5 15v1M236.5 20v1M236.5 24v1M236.5 28v1M236.5 31v1M237.5 2v1M238.5 3v1M238.5 5v2M238.5 11v1M238.5 13v1M238.5 15v1M238.5 22v2M238.5 30v3M238.5 36v1M239.5 12v1M239.5 14v2M239.5 20v1M239.5 24v1M239.5 30v1M240.5 2v1M240.5 8v2M241.5 0v1M241.5 2v1M241.5 9v1M241.5 16v4M241.5 23v2M241.5 28v3M241.5 34v1M241.5 36v2M243.5 8v1M243.5 11v1M243.5 13v1M243.5 17v1M243.5 19v1M243.5 22v1M243.5 24v3M243.5 36v1M243.5 39v1M244.5 2v1M244.5 5v2M244.5 9v2M244.5 12v1M244.5 18v2M244.5 30v1M245.5 33v1M245.5 35v1M246.5 4v1M246.5 9v1M246.5 18v1M246.5 30v1M246.5 32v1M246.5 37v1M247.5 0v2M247.5 7v4M247.5 13v1M247.5 20v1M247.5 23v1M248.5 0v1M248.5 5v1M248.5 16v1M248.5 19v1M248.5 32v1M249.5 5v5M249.5 13v1M249.5 15v1M249.5 18v1M249.5 30v1M249.5 37v2M250.5 6v1M250.5 13v1M250.5 17v1M250.5 22v1M250.5 24v1M250.5 31v1M250.5 34v1M251.5 5v1M251.5 10v1M251.5 14v2M251.5 22v1M251.5 26v2M252.5 6v1M252.5 11v3M252.5 20v2M252.5 26v2M252.5 29v1M252.5 38v2M253.5 11v1M253.5 16v1M253.5 26v1M253.5 34v1"/>
<path stroke="#ffacac" d="M196.5 3v1M196.5 5v2M196.5 9v3M196.5 14v1M196.5 27v1M196.5 33v3M196.5 39v1M197.5 3v1M197.5 7v1M197.5 16v1M197.5 18v1M197.5 22v1M197.5 24v1M197.5 30v3M197.5 34v1M197.5 38v1M198.5 1v2M198.5 11v1M198.5 13v1M198.5 18v3M198.5 23v3M198.5 29v1M198.5 38v1M199.5 8v1M199.5 25v1M199.5 30v1M201.5 21v1M201.5 31v1M202.5 0v1M202.5 4v2M202.5 19v1M202.5 21v2M202.5 25v1M202.5 32v1M202.5 34v1M202.5 36v1M202.5 38v1M203.5 21v1M203.5 23v1M203.5 25v1M203.5 31v1M203.5 35v1M204.5 12v1M204.5 14v1M204.5 16v2M204.5 25v1M204.5 30v2M204.5 34v2M204.5 38v2M205.5 10v2M206.5 23v1M207.5 0v1M207.5 5v2M207.5 8v1M207.5 15v2M207.5 20v1M207.5 22v3M207.5 37v3M208.5 1v1M208.5 9v1M208.5 11v1M208.5 15v1M208.5 18v1M208.5 23v2M208.5 28v1M208.5 32v1M208.5 38v1M209.5 0v1M209.5 10v1M209.5 12v1M209.5 14v2M209.5 17v1M209.5 25v1M209.5 27v1M209.5 30v1M209.5 34v1M209.5 37v1M210.5 0v1M210.5 2v1M210.5 5v1M210.5 14v1M210.5 17v1M210.5 19v2M210.5 22v1M210.5 24v1M210.5 26v1M210.5 34v1M211.5 2v2M211.5 6v1M211.5 14v2M211.5 18v1M211.5 22v1M211.5 25v2M211.5 28v1M211.5 31v1M211.5 39v1M212.5 3v2M212.5 7v1M212.5 11v2M212.5 15v1M212.5 18v1M212.5 21v3M212.5 28v1M212.5 31v1M212.5 34v1M212.5 37v3M213.5 7v1M213.5 16v1M213.5 27v1M213.5 36v1M214.5 3v1M214.5 8v4M214.5 16v1M214.5 19v1M214.5 21v1M214.5 28v1M214.5 34v1M214.5 37v2M215.5 5v1M215.5 7v1M215.5 30v1M215.5 35v1M215.5 37v2M216.5 1v1M216.5 33v1M218.5 3v1M219.5 0v2M219.5 8v1M219.5 11v1M219.5 25v1M219.5 29v1M219.5 35v1M219.5 38v1M220.5 7v1M220.5 28v1M220.5 34v1M220.5 36v1M220.5 38v1M221.5 6v1M221.5 9v1M221.5 14v2M221.5 18v1M221.5 22v2M221.5 25v2M221.5 28v1M221.5 31v1M221.5 34v1M221.5 37v1M222.5 12v1M222.5 14v1M222.5 17v1M222.5 21v1M222.5 23v2M222.5 27v1M222.5 30v1M222.5 32v1M222.5 39v1M223.5 1v1M223.5 5v2M223.5 15v1M223.5 20v1M223.5 23v1M223.5 31v1M223.5 36v2M223.5 39v1M224.5 0v1M224.5 5v2M224.5 10v1M224.5 14v1M224.5 17v1M224.5 19v2M224.5 26v1M224.5 29v1M224.5 34v1M224.5 36v1M225.5 0v1M225.5 7v2M225.5 10v3M225.5 16v1M225.5 19v1M225.5 21v1M225.5 25v1M225.5 31v1M226.5 4v1M226.5 15v1M226.5 17v1M226.5 30v1M227.5 3v1M227.5 24v1M227.5 33v1M227.5 37v1M227.5 39v1M228.5 7v1M228.5 16v1M228.5 19v1M228.5 23v1M229.5 0v1M229.5 15v1M229.5 20v2M229.5 23v1M229.5 33v3M229.5 38v1M230.5 4v2M230.5 10v1M230.5 24v1M230.5 27v1M230.5 30v2M230.5 34v1M230.5 36v3M231.5 9v1M231.5 25v1M232.5 8v1M232.5 16v1M232.5 22v1M232.5 36v1M233.5 15v1M233.5 18v1M233.5 33v1M234.5 1v1M234.5 5v1M234.5 7v1M234.5 33v1M234.5 39v1M235.5 0v1M235.5 5v1M235.5 7v1M235.5 9v1M235.5 13v1M235.5 25v1M235.5 34v1M236.5 1v1M236.5 3v1M236.5 6v1M236.5 13v1M236.5 17v1M236.5 26v2M236.5 34v1M236.5 37v2M237.5 0v2M237.5 9v1M237.5 18v1M237.5 20v1M237.5 25v1M237.5 31v1M238.5 4v1M238.5 10v1M238.5 16v2M238.5 19v1M238.5 35v1M238.5 38v2M239.5 33v1M240.5 4v3M240.5 11v1M240.5 14v1M240.5 19v1M240.5 21v1M240.5 25v3M240.5 29v2M240.5 36v3M241.5 1v1M241.5 4v1M241.5 10v1M241.5 35v1M242.5 15v2M242.5 18v2M242.5 27v1M242.5 29v1M242.5 31v1M242.5 37v1M243.5 3v1M243.5 5v2M243.5 23v1M243.5 33v1M244.5 4v1M244.5 17v1M244.5 23v1M244.5 34v1M244.5 37v2M246.5 12v1M247.5 3v1M247.5 12v1M247.5 15v1M247.5 17v1M247.5 21v1M247.5 30v1M247.5 33v1M247.5 35v3M248.5 9v1M248.5 12v2M248.5 17v1M248.5 20v1M248.5 22v1M248.5 24v1M248.5 27v1M248.5 31v1M248.5 35v5M249.5 22v1M249.5 26v1M249.5 34v1M250.5 33v1M252.5 2v1M252.5 4v1M252.5 7v1M252.5 10v1M252.5 17v2M252.5 24v2M252.5 32v1M252.5 37v1M345.5 0v1M345.5 8v1M345.5 10v1M345.5 16v1M345.5 29v1"/>
<path stroke="#ffb2b2" d="M196.5 4v1M196.5 29v1M197.5 1v1M197.5 4v1M197.5 28v1M197.5 33v1M198.5 0v1M198.5 3v3M198.5 9v2M198.5 14v1M198.5 22v1M198.5 27v1M198.5 34v1M199.5 9v1M199.5 13v2M199.5 18v2M199.5 21v1M199.5 36v1M201.5 1v1M201.5 12v1M201.5 39v1M202.5 1v1M202.5 18v1M202.5 23v1M202.5 39v1M203.5 5v1M203.5 7v2M203.5 12v2M203.5 19v1M203.5 28v3M203.5 34v1M203.5 38v1M204.5 1v1M204.5 5v1M204.5 10v1M204.5 24v1M204.5 27v1M204.5 33v1M205.5 7v1M205.5 14v1M205.5 18v1M205.5 25v1M205.5 28v2M205.5 34v1M205.5 38v2M206.5 9v1M206.5 29v1M207.5 1v1M207.5 4v1M207.5 11v2M208.5 2v2M208.5 17v1M208.5 26v1M208.5 30v2M208.5 35v3M208.5 39v1M209.5 23v2M209.5 26v1M210.5 3v1M210.5 15v1M210.5 30v2M210.5 35v1M210.5 37v1M210.5 39v1M211.5 4v2M211.5 9v2M211.5 12v1M211.5 17v1M211.5 19v2M211.5 23v2M211.5 29v1M211.5 34v2M211.5 37v2M212.5 10v1M212.5 17v1M212.5 24v1M213.5 8v1M213.5 11v1M213.5 13v1M213.5 19v1M213.5 22v1M213.5 32v1M213.5 34v1M213.5 37v1M214.5 1v1M214.5 4v2M214.5 12v1M214.5 15v1M214.5 22v1M214.5 24v1M214.5 35v1M215.5 3v1M215.5 15v1M215.5 24v1M217.5 7v1M217.5 26v1M217.5 29v1M218.5 33v1M218.5 38v1M219.5 2v2M219.5 5v1M219.5 7v1M219.5 13v2M219.5 16v1M219.5 20v2M219.5 23v1M219.5 26v2M221.5 10v1M221.5 20v1M221.5 24v1M221.5 29v1M221.5 33v1M221.5 35v2M221.5 39v1M222.5 2v2M222.5 5v1M222.5 8v1M222.5 20v1M222.5 26v1M222.5 31v1M222.5 34v1M222.5 37v1M223.5 8v1M223.5 12v1M223.5 14v1M223.5 24v1M223.5 35v1M224.5 4v1M224.5 11v2M224.5 15v1M224.5 21v1M224.5 23v1M224.5 28v1M224.5 30v1M224.5 35v1M224.5 37v2M225.5 1v1M225.5 18v1M225.5 22v1M225.5 30v1M225.5 36v2M225.5 39v1M226.5 5v1M228.5 2v1M228.5 9v1M228.5 14v1M228.5 18v1M228.5 21v1M228.5 24v1M228.5 31v1M228.5 34v1M228.5 36v3M229.5 24v1M229.5 39v1M230.5 1v1M230.5 3v1M230.5 7v1M230.5 14v1M230.5 16v2M230.5 22v2M230.5 39v1M231.5 2v1M231.5 5v4M231.5 10v1M231.5 13v1M231.5 16v1M231.5 18v1M231.5 22v1M231.5 32v1M231.5 36v1M231.5 38v1M232.5 0v3M232.5 7v1M232.5 11v1M232.5 13v1M232.5 20v1M232.5 25v3M232.5 29v1M232.5 32v1M232.5 34v2M232.5 39v1M235.5 2v1M235.5 14v3M235.5 19v2M235.5 22v1M235.5 24v1M235.5 26v1M235.5 28v5M235.5 36v2M236.5 33v1M237.5 5v1M237.5 8v1M237.5 10v1M237.5 13v1M237.5 19v1M237.5 27v1M237.5 30v1M237.5 32v1M237.5 36v1M238.5 27v1M238.5 33v2M238.5 37v1M240.5 1v1M240.5 3v1M240.5 10v1M240.5 17v2M240.5 24v1M240.5 39v1M242.5 2v1M242.5 5v1M242.5 9v2M242.5 20v1M242.5 24v1M242.5 26v1M242.5 35v1M242.5 39v1M243.5 4v1M243.5 30v1M244.5 33v1M244.5 36v1M246.5 33v1M247.5 4v2M247.5 14v1M247.5 24v1M248.5 4v1M248.5 6v2M248.5 10v1M248.5 14v1M248.5 18v1M248.5 23v1M248.5 30v1M248.5 34v1M249.5 23v1M252.5 1v1M252.5 15v1M252.5 33v1M345.5 6v1M345.5 9v1M345.5 11v1M345.5 13v1M345.5 18v1M345.5 22v2M345.5 25v1M345.5 28v1M345.5 39v1M355.5 2v1M359.5 27v1M362.5 29v1"/>
<path stroke="#ffb9b9" d="M196.5 17v1M198.5 6v1M198.5 16v1M198.5 21v1M198.5 26v1M198.5 36v2M199.5 0v2M199.5 3v1M199.5 5v1M199.5 7v1M199.5 11v2M199.5 15v1M199.5 22v1M199.5 27v3M199.5 32v1M199.5 34v2M199.5 39v1M201.5 15v1M202.5 26v1M202.5 33v1M203.5 0v2M203.5 3v1M203.5 6v1M203.5 9v2M203.5 17v1M203.5 24v1M204.5 20v1M205.5 0v1M205.5 4v2M205.5 12v2M205.5 16v1M205.5 19v3M205.5 23v1M205.5 26v1M205.5 30v1M205.5 36v2M206.5 0v1M206.5 7v1M206.5 11v1M206.5 13v1M206.5 15v2M206.5 19v3M206.5 25v1M206.5 28v1M206.5 30v2M206.5 34v1M207.5 17v1M207.5 28v1M208.5 4v2M208.5 7v1M209.5 22v1M210.5 38v1M211.5 36v1M212.5 0v1M212.5 36v1M213.5 0v1M213.5 3v1M213.5 9v1M213.5 12v1M213.5 15v1M213.5 18v1M213.5 20v2M213.5 23v1M213.5 25v1M213.5 30v1M213.5 39v1M214.5 6v1M214.5 27v1M214.5 36v1M215.5 33v1M217.5 2v1M217.5 8v1M217.5 15v1M217.5 19v1M217.5 25v1M217.5 30v1M217.5 34v1M219.5 6v1M219.5 9v1M219.5 12v1M219.5 19v1M219.5 22v1M219.5 31v1M219.5 34v1M219.5 36v2M219.5 39v1M221.5 0v1M221.5 3v3M221.5 12v1M221.5 17v1M221.5 19v1M221.5 27v1M221.5 30v1M221.5 32v1M221.5 38v1M222.5 0v2M222.5 4v1M222.5 10v1M222.5 18v1M222.5 35v1M222.5 38v1M223.5 3v2M223.5 17v1M223.5 33v1M224.5 1v2M224.5 8v1M224.5 31v1M224.5 39v1M225.5 20v1M225.5 33v1M225.5 38v1M228.5 1v1M228.5 4v2M228.5 11v2M228.5 17v1M228.5 20v1M228.5 22v1M228.5 26v2M228.5 29v2M228.5 32v1M228.5 35v1M228.5 39v1M231.5 4v1M231.5 11v1M231.5 20v1M231.5 27v1M231.5 29v2M231.5 37v1M231.5 39v1M232.5 3v1M232.5 6v1M232.5 10v1M232.5 12v1M232.5 18v1M232.5 21v1M232.5 23v1M232.5 31v1M232.5 37v1M235.5 1v1M235.5 4v1M235.5 6v1M235.5 8v1M235.5 12v1M235.5 17v1M235.5 21v1M235.5 35v1M235.5 39v1M236.5 4v1M237.5 4v1M237.5 6v1M237.5 11v1M237.5 15v2M237.5 21v4M237.5 26v1M237.5 33v3M237.5 39v1M240.5 12v1M240.5 15v1M240.5 33v1M240.5 35v1M241.5 33v1M241.5 38v1M242.5 3v1M242.5 11v1M242.5 13v1M242.5 17v1M242.5 21v1M242.5 23v1M242.5 30v1M242.5 34v1M244.5 24v1M248.5 33v1M249.5 17v1M329.5 9v1M329.5 14v1M334.5 29v1M334.5 36v1M335.5 10v1M339.5 6v1M339.5 18v1M345.5 1v1M345.5 12v1M345.5 15v1M345.5 17v1M345.5 19v1M345.5 21v1M345.5 27v1M345.5 32v1M345.5 34v2M349.5 2v1M349.5 7v1M349.5 16v1M353.5 9v1M353.5 14v1M353.5 19v1M353.5 28v1M358.5 11v1M359.5 16v1M359.5 18v1M362.5 7v1M362.5 9v1M362.5 11v1M367.5 3v1"/>
<path stroke="#ffbfbf" d="M198.5 12v1M198.5 33v1M199.5 6v1M199.5 16v2M199.5 37v2M201.5 33v1M203.5 11v1M203.5 14v3M203.5 22v1M203.5 26v1M203.5 32v2M203.5 36v2M205.5 1v1M205.5 3v1M205.5 8v2M205.5 15v1M205.5 22v1M205.5 27v1M205.5 31v3M205.5 35v1M206.5 2v1M206.5 4v2M206.5 8v1M206.5 10v1M206.5 14v1M206.5 18v1M206.5 24v1M206.5 26v1M206.5 33v1M206.5 36v1M206.5 38v1M207.5 33v1M208.5 33v1M209.5 33v1M210.5 27v1M210.5 33v1M211.5 33v1M212.5 30v1M212.5 33v1M213.5 1v1M213.5 4v3M213.5 10v1M213.5 14v1M213.5 17v1M213.5 24v1M213.5 26v1M213.5 28v2M213.5 31v1M213.5 35v1M214.5 23v1M214.5 33v1M214.5 39v1M217.5 0v1M217.5 13v2M217.5 18v1M217.5 21v1M217.5 23v1M217.5 27v1M217.5 39v1M219.5 4v1M219.5 10v1M219.5 17v1M219.5 24v1M219.5 28v1M219.5 30v1M219.5 33v1M221.5 1v1M222.5 33v1M222.5 36v1M223.5 27v1M225.5 24v1M228.5 0v1M228.5 15v1M230.5 33v1M231.5 12v1M231.5 14v2M231.5 17v1M231.5 23v1M231.5 26v1M231.5 28v1M231.5 34v2M232.5 4v1M232.5 14v1M232.5 17v1M232.5 19v1M232.5 28v1M232.5 30v1M235.5 3v1M235.5 18v1M235.5 23v1M235.5 38v1M237.5 3v1M237.5 7v1M237.5 12v1M237.5 17v1M237.5 29v1M237.5 37v2M242.5 0v2M242.5 4v1M242.5 6v1M242.5 12v1M242.5 33v1M249.5 33v1M329.5 0v1M329.5 8v1M329.5 23v1M329.5 28v1M329.5 32v1M331.5 7v1M331.5 25v1M334.5 6v1M334.5 10v2M334.5 18v1M334.5 30v1M334.5 32v1M335.5 13v1M335.5 29v1M336.5 8v2M336.5 29v1M339.5 20v1M339.5 29v1M339.5 34v1M343.5 9v1M343.5 31v1M345.5 2v2M345.5 5v1M345.5 24v1M345.5 26v1M345.5 36v1M347.5 11v1M347.5 20v1M348.5 7v1M349.5 13v1M349.5 34v1M349.5 36v1M350.5 11v1M353.5 0v1M353.5 7v2M353.5 10v2M353.5 21v1M353.5 25v1M353.5 29v1M354.5 8v1M354.5 29v1M355.5 8v1M355.5 11v1M355.5 18v1M355.5 23v1M355.5 28v1M355.5 32v1M356.5 7v1M356.5 16v1M358.5 8v1M358.5 13v1M358.5 25v1M359.5 2v1M359.5 5v1M359.5 23v1M359.5 29v1M362.5 1v1M362.5 8v1M362.5 17v1M362.5 20v1M362.5 32v1M362.5 36v1M364.5 10v1M365.5 35v1M367.5 11v2M367.5 18v1M367.5 26v1M372.5 8v1M372.5 29v1"/>
<path stroke="#ffc6c6" d="M198.5 39v1M199.5 4v1M199.5 10v1M199.5 20v1M199.5 24v1M199.5 26v1M199.5 31v1M199.5 33v1M203.5 2v1M203.5 4v1M203.5 20v1M203.5 39v1M205.5 6v1M205.5 17v1M205.5 24v1M206.5 1v1M206.5 3v1M206.5 6v1M206.5 12v1M206.5 17v1M206.5 22v1M206.5 27v1M206.5 32v1M206.5 35v1M206.5 37v1M206.5 39v1M213.5 38v1M217.5 1v1M217.5 4v3M217.5 9v4M217.5 16v2M217.5 20v1M217.5 22v1M217.5 28v1M217.5 31v3M217.5 35v4M219.5 15v1M224.5 33v1M228.5 3v1M231.5 0v2M231.5 3v1M231.5 21v1M231.5 31v1M231.5 33v1M232.5 5v1M232.5 15v1M232.5 24v1M232.5 33v1M232.5 38v1M235.5 33v1M237.5 14v1M242.5 36v1M329.5 1v2M329.5 7v1M329.5 11v1M329.5 18v1M329.5 22v1M329.5 25v2M329.5 29v1M329.5 31v1M329.5 36v2M331.5 8v1M331.5 13v1M331.5 16v1M331.5 34v1M332.5 13v1M332.5 19v1M332.5 29v1M332.5 36v1M333.5 2v1M334.5 1v1M334.5 7v1M334.5 13v1M334.5 15v1M334.5 19v4M334.5 25v1M334.5 27v2M334.5 35v1M334.5 37v1M335.5 5v1M335.5 8v1M335.5 11v2M335.5 16v1M335.5 18v1M335.5 21v1M335.5 26v1M335.5 32v1M335.5 36v1M336.5 2v1M336.5 11v1M336.5 13v1M336.5 22v1M336.5 30v1M336.5 34v1M338.5 7v2M338.5 26v1M339.5 0v1M339.5 2v1M339.5 4v1M339.5 7v2M339.5 10v2M339.5 13v1M339.5 17v1M339.5 21v2M339.5 25v1M343.5 1v1M343.5 5v2M343.5 16v1M343.5 27v1M345.5 31v1M345.5 33v1M345.5 37v2M346.5 8v1M347.5 0v1M347.5 6v1M347.5 29v1M347.5 36v1M348.5 19v1M349.5 6v1M349.5 10v1M349.5 15v1M349.5 19v1M349.5 21v1M349.5 28v1M349.5 32v1M349.5 39v1M350.5 8v1M350.5 10v1M350.5 16v1M350.5 33v1M351.5 16v1M351.5 29v1M352.5 11v1M353.5 1v1M353.5 3v2M353.5 13v1M353.5 16v1M353.5 18v1M353.5 23v2M353.5 27v1M353.5 30v1M353.5 32v1M353.5 34v1M353.5 37v2M354.5 9v1M354.5 16v1M354.5 34v1M355.5 0v1M355.5 12v1M355.5 14v1M355.5 17v1M355.5 25v1M355.5 29v1M355.5 36v1M356.5 10v1M356.5 33v1M357.5 0v1M357.5 8v1M357.5 25v1M358.5 23v1M358.5 26v1M358.5 31v2M358.5 36v1M359.5 11v2M359.5 14v1M359.5 19v1M359.5 21v1M360.5 2v1M361.5 9v1M361.5 26v1M361.5 34v1M362.5 13v1M362.5 16v1M362.5 18v2M362.5 25v1M362.5 28v1M362.5 30v1M362.5 34v2M364.5 7v1M364.5 11v1M364.5 13v1M364.5 16v1M364.5 18v4M364.5 26v1M364.5 28v2M364.5 37v1M364.5 39v1M365.5 2v1M365.5 20v1M366.5 0v1M366.5 5v1M366.5 9v1M366.5 19v1M367.5 0v2M367.5 8v1M367.5 13v2M367.5 16v1M367.5 19v1M367.5 21v1M367.5 23v1M367.5 28v1M367.5 35v1M367.5 39v1M372.5 0v1M372.5 12v1M372.5 20v1M372.5 23v1"/>
<path stroke="#ffcccc" d="M199.5 2v1M203.5 18v1M203.5 27v1M205.5 2v1M213.5 2v1M217.5 3v1M217.5 24v1M228.5 33v1M231.5 24v1M329.5 3v1M329.5 5v1M329.5 13v1M329.5 19v3M329.5 24v1M329.5 27v1M329.5 30v1M329.5 33v3M329.5 38v2M330.5 21v1M330.5 34v1M331.5 1v2M331.5 9v2M331.5 18v2M331.5 21v1M331.5 23v1M331.5 26v1M331.5 29v3M331.5 35v1M331.5 37v1M332.5 6v2M332.5 9v1M332.5 16v2M332.5 21v1M332.5 23v1M333.5 11v1M333.5 13v1M333.5 39v1M334.5 2v2M334.5 8v2M334.5 23v2M334.5 33v2M334.5 39v1M335.5 0v1M335.5 2v2M335.5 6v2M335.5 9v1M335.5 14v1M335.5 22v2M335.5 25v1M335.5 27v2M335.5 37v1M335.5 39v1M336.5 3v1M336.5 20v2M336.5 25v1M336.5 28v1M336.5 31v2M336.5 36v1M336.5 38v2M338.5 5v1M338.5 9v1M338.5 11v1M338.5 16v1M338.5 19v1M338.5 22v1M339.5 3v1M339.5 5v1M339.5 9v1M339.5 12v1M339.5 15v2M339.5 23v2M339.5 27v2M339.5 30v2M339.5 35v2M340.5 7v1M340.5 12v1M343.5 0v1M343.5 2v2M343.5 8v1M343.5 12v1M343.5 18v1M343.5 20v2M343.5 23v1M343.5 25v1M343.5 32v1M343.5 36v1M344.5 2v1M344.5 21v1M344.5 26v1M344.5 32v1M345.5 14v1M346.5 0v1M346.5 11v1M346.5 14v1M346.5 18v1M346.5 32v1M346.5 34v1M347.5 2v1M347.5 4v1M347.5 8v1M347.5 18v1M347.5 25v1M347.5 30v1M348.5 0v1M348.5 11v1M348.5 13v1M348.5 22v1M349.5 1v1M349.5 5v1M349.5 8v2M349.5 18v1M349.5 20v1M349.5 22v1M349.5 24v2M349.5 31v1M349.5 35v1M350.5 0v1M350.5 2v2M350.5 7v1M350.5 13v1M350.5 23v1M350.5 29v1M350.5 31v2M350.5 36v3M351.5 0v1M351.5 2v1M351.5 6v2M351.5 13v1M351.5 21v1M351.5 25v1M351.5 28v1M351.5 39v1M352.5 8v1M352.5 18v1M352.5 28v1M352.5 31v1M353.5 2v1M353.5 12v1M353.5 20v1M353.5 22v1M353.5 26v1M353.5 31v1M353.5 36v1M354.5 5v1M354.5 10v4M354.5 18v1M354.5 24v1M354.5 35v1M355.5 3v2M355.5 6v2M355.5 9v2M355.5 13v1M355.5 15v1M355.5 19v1M355.5 24v1M355.5 26v1M355.5 30v1M355.5 34v1M355.5 37v2M356.5 1v2M356.5 6v1M356.5 15v1M356.5 22v2M356.5 25v1M356.5 28v1M356.5 31v1M356.5 34v1M356.5 37v1M357.5 11v1M357.5 37v1M358.5 0v1M358.5 3v2M358.5 9v2M358.5 16v1M358.5 18v1M358.5 20v2M358.5 28v1M358.5 33v1M359.5 3v1M359.5 7v3M359.5 24v1M359.5 31v2M359.5 34v3M360.5 6v1M360.5 9v1M360.5 11v1M360.5 16v1M360.5 19v1M360.5 25v1M360.5 27v1M360.5 29v1M360.5 37v1M361.5 5v1M361.5 7v1M361.5 13v1M361.5 16v1M361.5 20v1M361.5 22v1M361.5 29v1M361.5 31v1M361.5 35v2M362.5 0v1M362.5 2v2M362.5 5v2M362.5 10v1M362.5 12v1M362.5 14v1M362.5 21v4M362.5 26v1M362.5 33v1M362.5 38v1M363.5 9v1M363.5 16v2M364.5 0v1M364.5 2v2M364.5 6v1M364.5 8v1M364.5 12v1M364.5 14v2M364.5 25v1M364.5 30v2M365.5 3v1M365.5 7v2M365.5 10v1M365.5 12v1M365.5 16v1M365.5 19v1M365.5 23v1M365.5 29v1M365.5 31v1M366.5 8v1M366.5 10v1M366.5 12v2M366.5 15v3M366.5 21v1M366.5 23v1M366.5 25v1M366.5 28v2M366.5 32v1M366.5 34v1M367.5 4v1M367.5 9v1M367.5 20v1M367.5 22v1M367.5 25v1M367.5 27v1M367.5 30v3M367.5 34v1M367.5 38v1M372.5 2v1M372.5 4v2M372.5 9v1M372.5 11v1M372.5 16v1M372.5 18v2M372.5 24v1M372.5 32v1M372.5 35v1M375.5 13v1M375.5 34v1M377.5 7v1M378.5 0v1M378.5 2v1M382.5 10v1M382.5 36v1M397.5 29v1"/>
<path stroke="#ffd2d2" d="M213.5 33v1M277.5 29v1M329.5 4v1M329.5 10v1M329.5 15v1M330.5 8v1M330.5 16v1M330.5 19v1M330.5 25v1M331.5 4v3M331.5 14v1M331.5 17v1M331.5 20v1M331.5 24v1M331.5 33v1M331.5 36v1M331.5 38v1M332.5 2v1M332.5 8v1M332.5 10v1M332.5 26v1M332.5 31v2M332.5 34v1M333.5 0v1M333.5 8v3M333.5 16v2M333.5 20v2M333.5 25v5M333.5 32v1M334.5 0v1M334.5 5v1M334.5 12v1M334.5 16v2M334.5 26v1M334.5 31v1M335.5 1v1M335.5 4v1M335.5 15v1M335.5 19v2M335.5 30v2M335.5 33v2M335.5 38v1M336.5 0v1M336.5 4v1M336.5 10v1M336.5 12v1M336.5 15v2M336.5 18v2M336.5 23v2M336.5 26v2M336.5 35v1M337.5 4v1M337.5 7v1M337.5 9v1M337.5 13v1M337.5 16v1M337.5 36v1M338.5 2v1M338.5 13v1M338.5 18v1M338.5 25v1M338.5 29v4M338.5 38v1M339.5 1v1M339.5 19v1M339.5 32v2M339.5 37v3M340.5 13v1M340.5 15v1M340.5 20v2M340.5 25v2M340.5 28v2M340.5 32v1M340.5 36v2M341.5 23v1M341.5 25v1M342.5 6v2M342.5 9v1M342.5 16v1M342.5 19v1M342.5 31v1M343.5 7v1M343.5 10v2M343.5 13v2M343.5 19v1M343.5 28v3M343.5 33v1M343.5 35v1M344.5 3v1M344.5 13v1M344.5 15v1M344.5 18v1M344.5 29v1M346.5 5v2M346.5 9v1M346.5 12v1M346.5 19v3M346.5 23v3M346.5 28v1M346.5 31v1M346.5 33v1M346.5 35v2M347.5 5v1M347.5 9v1M347.5 15v2M347.5 21v2M347.5 27v1M347.5 31v3M347.5 38v1M348.5 3v1M348.5 6v1M348.5 8v2M348.5 16v1M348.5 21v1M348.5 29v1M348.5 34v1M348.5 37v2M349.5 0v1M349.5 3v2M349.5 12v1M349.5 23v1M349.5 27v1M349.5 29v1M349.5 37v1M350.5 1v1M350.5 5v2M350.5 9v1M350.5 12v1M350.5 14v2M350.5 19v1M350.5 22v1M350.5 24v1M350.5 26v3M351.5 5v1M351.5 8v2M351.5 11v1M351.5 14v1M351.5 19v2M351.5 23v1M351.5 31v2M351.5 35v2M351.5 38v1M352.5 7v1M352.5 10v1M352.5 12v3M352.5 19v1M352.5 26v1M352.5 29v1M352.5 32v1M353.5 5v2M353.5 15v1M353.5 17v1M353.5 39v1M354.5 1v2M354.5 4v1M354.5 7v1M354.5 19v4M354.5 25v2M354.5 28v1M354.5 32v1M354.5 36v1M354.5 39v1M355.5 1v1M355.5 5v1M355.5 16v1M355.5 20v3M355.5 31v1M355.5 33v1M355.5 35v1M356.5 3v1M356.5 8v1M356.5 11v1M356.5 13v1M356.5 19v1M356.5 21v1M356.5 24v1M356.5 30v1M356.5 32v1M356.5 35v2M357.5 3v1M357.5 7v1M357.5 12v2M357.5 21v1M357.5 29v1M357.5 31v1M357.5 38v1M358.5 1v2M358.5 6v2M358.5 12v1M358.5 19v1M358.5 22v1M358.5 24v1M358.5 29v1M358.5 34v1M358.5 38v1M359.5 0v2M359.5 4v1M359.5 6v1M359.5 10v1M359.5 13v1M359.5 15v1M359.5 17v1M359.5 20v1M359.5 22v1M359.5 25v2M359.5 28v1M359.5 30v1M359.5 33v1M359.5 37v2M360.5 0v1M360.5 7v2M360.5 12v2M360.5 17v1M360.5 20v5M360.5 26v1M360.5 28v1M360.5 31v2M360.5 34v1M360.5 36v1M361.5 0v2M361.5 3v2M361.5 6v1M361.5 8v1M361.5 11v1M361.5 18v1M361.5 25v1M361.5 27v1M361.5 30v1M361.5 32v1M361.5 37v1M362.5 15v1M362.5 27v1M362.5 31v1M362.5 37v1M362.5 39v1M363.5 21v1M363.5 25v1M363.5 29v1M363.5 31v1M364.5 1v1M364.5 5v1M364.5 9v1M364.5 17v1M364.5 22v2M364.5 27v1M364.5 33v1M364.5 36v1M365.5 0v2M365.5 11v1M365.5 14v1M365.5 17v1M365.5 25v1M365.5 28v1M365.5 32v1M365.5 39v1M366.5 1v1M366.5 3v1M366.5 6v2M366.5 11v1M366.5 20v1M366.5 31v1M366.5 35v1M367.5 2v1M367.5 6v2M367.5 10v1M367.5 15v1M367.5 17v1M367.5 24v1M367.5 29v1M367.5 37v1M368.5 25v1M369.5 29v1M370.5 25v1M371.5 22v1M371.5 29v1M371.5 37v1M372.5 1v1M372.5 3v1M372.5 7v1M372.5 10v1M372.5 13v1M372.5 21v2M372.5 25v2M372.5 30v2M372.5 33v2M372.5 36v3M374.5 6v1M374.5 21v1M375.5 0v1M375.5 2v1M375.5 7v2M375.5 22v1M375.5 25v1M377.5 9v1M377.5 19v1M377.5 23v1M377.5 26v1M377.5 32v1M378.5 7v1M378.5 9v1M378.5 19v1M378.5 23v1M378.5 28v2M379.5 16v1M382.5 3v1M382.5 5v3M382.5 12v3M382.5 16v1M382.5 18v1M382.5 21v1M382.5 23v1M382.5 25v1M382.5 32v1M382.5 35v1M382.5 37v1M387.5 2v1M389.5 35v1M393.5 7v1M397.5 11v1M397.5 23v1"/>
<path stroke="#ffecec" d="M271.5 7v1M273.5 25v1M274.5 4v1M274.5 6v2M274.5 9v1M274.5 13v1M274.5 17v1M274.5 20v2M274.5 24v1M274.5 29v2M274.5 33v1M274.5 36v1M277.5 0v1M277.5 14v1M277.5 22v1M277.5 27v1M277.5 33v1M277.5 35v1M277.5 38v1M278.5 32v1M280.5 7v1M280.5 16v1M281.5 0v1M281.5 31v1M283.5 0v1M283.5 2v2M283.5 6v1M283.5 8v1M283.5 11v1M283.5 16v1M283.5 18v1M283.5 23v1M283.5 25v1M283.5 27v1M283.5 31v2M285.5 4v2M285.5 7v2M285.5 13v2M285.5 18v1M285.5 23v3M285.5 35v2M285.5 39v1M287.5 19v1M287.5 26v1M287.5 28v1M287.5 32v1M287.5 34v2M288.5 32v1M290.5 18v1M290.5 32v1M330.5 4v1M330.5 12v1M330.5 20v1M330.5 22v1M332.5 3v1M333.5 19v1M333.5 38v1M337.5 3v1M337.5 17v1M337.5 37v1M341.5 4v1M341.5 37v1M342.5 2v1M344.5 24v1M348.5 14v1M357.5 15v1M358.5 17v1M363.5 23v1M368.5 24v1M368.5 31v1M368.5 34v1M369.5 17v1M369.5 23v2M369.5 34v2M370.5 3v3M370.5 14v1M370.5 17v1M370.5 19v1M370.5 22v2M370.5 36v2M370.5 39v1M371.5 3v1M371.5 24v1M371.5 26v1M371.5 30v2M371.5 35v1M373.5 2v1M373.5 5v2M373.5 10v1M373.5 26v1M373.5 29v1M373.5 35v1M373.5 39v1M374.5 1v1M374.5 4v1M374.5 14v1M374.5 17v1M374.5 28v1M374.5 30v1M374.5 34v1M374.5 37v1M375.5 28v1M376.5 3v1M376.5 6v1M376.5 13v1M376.5 19v1M378.5 14v2M378.5 17v1M378.5 21v1M379.5 1v1M379.5 6v1M379.5 8v2M379.5 13v1M379.5 15v1M379.5 24v1M379.5 27v1M379.5 33v2M379.5 38v2M380.5 1v1M380.5 3v1M380.5 5v2M380.5 11v2M380.5 15v3M380.5 20v1M380.5 28v1M381.5 6v1M381.5 9v2M381.5 12v1M381.5 14v2M381.5 17v2M381.5 22v1M381.5 24v1M381.5 28v1M381.5 31v1M381.5 33v1M381.5 35v3M381.5 39v1M383.5 0v2M383.5 7v1M383.5 13v1M383.5 15v2M383.5 18v1M383.5 29v1M383.5 34v1M383.5 37v1M383.5 39v1M384.5 2v1M384.5 11v1M384.5 15v1M384.5 21v1M384.5 26v1M384.5 32v2M384.5 39v1M385.5 11v1M385.5 17v1M385.5 19v2M385.5 22v2M385.5 25v1M385.5 37v1M385.5 39v1M386.5 6v2M386.5 9v1M386.5 11v3M386.5 15v2M386.5 18v1M386.5 32v1M386.5 35v1M387.5 1v1M387.5 4v2M387.5 12v2M387.5 24v1M387.5 28v1M387.5 36v1M387.5 38v1M388.5 0v1M388.5 2v1M388.5 4v1M388.5 11v1M388.5 18v1M388.5 23v1M388.5 27v2M388.5 30v2M388.5 37v2M389.5 1v1M389.5 30v1M389.5 36v3M390.5 0v1M390.5 9v1M391.5 0v1M391.5 3v1M391.5 10v1M391.5 12v1M391.5 18v2M391.5 21v1M391.5 24v1M391.5 30v1M391.5 32v2M391.5 37v1M391.5 39v1M392.5 11v2M392.5 19v1M392.5 21v1M392.5 29v1M392.5 36v1M393.5 0v4M393.5 6v1M393.5 11v1M393.5 13v2M393.5 19v2M393.5 26v1M393.5 28v1M393.5 32v1M394.5 3v1M394.5 10v1M394.5 16v1M394.5 19v2M394.5 29v1M395.5 0v1M395.5 11v1M395.5 14v2M395.5 19v1M395.5 22v2M395.5 25v2M395.5 29v4M395.5 34v1M395.5 39v1M396.5 0v1M396.5 3v2M396.5 6v1M396.5 9v1M396.5 18v1M396.5 22v1M396.5 27v1M396.5 30v2M397.5 4v1M397.5 12v1M397.5 34v1M397.5 38v1M398.5 32v1"/>
<path stroke="#ffe6e6" d="M274.5 2v1M274.5 19v1M274.5 25v1M274.5 35v1M276.5 36v1M277.5 3v4M277.5 9v2M277.5 16v1M277.5 19v1M277.5 21v1M277.5 23v1M277.5 26v1M277.5 31v1M277.5 37v1M277.5 39v1M283.5 13v1M283.5 29v1M285.5 2v1M285.5 12v1M285.5 19v1M285.5 21v2M285.5 30v1M287.5 2v1M287.5 8v1M287.5 16v1M287.5 29v2M330.5 1v1M330.5 6v2M330.5 17v2M330.5 23v2M330.5 31v1M330.5 33v1M330.5 35v2M332.5 1v1M332.5 12v1M332.5 15v1M332.5 18v1M332.5 22v1M332.5 38v1M333.5 4v1M337.5 1v1M337.5 14v1M337.5 18v1M337.5 27v2M337.5 33v1M337.5 39v1M338.5 3v1M338.5 10v1M338.5 15v1M338.5 24v1M338.5 36v1M338.5 39v1M339.5 26v1M340.5 5v1M340.5 38v1M341.5 7v1M341.5 14v2M341.5 17v1M341.5 35v2M341.5 38v1M342.5 1v1M342.5 5v1M342.5 10v1M342.5 12v1M342.5 32v2M342.5 39v1M343.5 26v1M344.5 1v1M344.5 4v3M344.5 14v1M344.5 22v1M344.5 28v1M344.5 31v1M344.5 34v1M344.5 37v1M347.5 10v1M347.5 12v1M347.5 17v1M347.5 39v1M348.5 4v2M348.5 15v1M348.5 23v1M348.5 39v1M352.5 1v1M352.5 4v1M352.5 15v1M352.5 20v1M352.5 23v1M352.5 37v1M354.5 27v1M356.5 26v1M357.5 4v1M357.5 10v1M357.5 33v2M358.5 14v1M360.5 30v1M363.5 3v2M363.5 20v1M363.5 30v1M363.5 33v2M363.5 36v3M368.5 1v1M368.5 4v1M368.5 9v1M368.5 12v1M368.5 17v1M368.5 19v1M368.5 22v1M368.5 26v2M368.5 32v1M368.5 35v2M368.5 38v2M369.5 1v1M369.5 5v2M369.5 9v2M369.5 16v1M369.5 19v1M369.5 25v3M369.5 33v1M369.5 36v1M369.5 39v1M370.5 0v1M370.5 8v5M370.5 21v1M370.5 26v1M370.5 30v1M370.5 34v1M370.5 38v1M371.5 0v1M371.5 5v1M371.5 7v1M371.5 11v1M371.5 13v2M371.5 21v1M371.5 23v1M371.5 27v1M371.5 33v1M371.5 36v1M371.5 38v2M373.5 0v1M373.5 8v2M373.5 16v1M373.5 25v1M373.5 27v1M374.5 5v1M374.5 15v1M374.5 18v1M374.5 22v1M374.5 24v1M374.5 26v1M374.5 33v1M374.5 39v1M375.5 6v1M375.5 15v1M375.5 17v1M375.5 23v1M375.5 37v1M377.5 4v2M377.5 15v1M377.5 20v1M377.5 27v1M377.5 31v1M377.5 33v1M377.5 39v1M378.5 4v2M378.5 13v1M378.5 16v1M378.5 24v1M378.5 26v1M378.5 30v1M378.5 35v1M378.5 37v1M379.5 0v1M379.5 7v1M379.5 10v2M379.5 19v2M379.5 25v1M379.5 29v1M379.5 32v1M379.5 35v1M380.5 0v1M380.5 2v1M380.5 4v1M380.5 7v1M380.5 9v2M380.5 18v1M380.5 21v2M380.5 26v1M380.5 30v1M380.5 32v2M380.5 37v2M381.5 0v2M381.5 4v2M381.5 8v1M381.5 11v1M381.5 16v1M381.5 19v1M381.5 21v1M381.5 23v1M381.5 26v2M381.5 29v1M381.5 34v1M382.5 0v3M382.5 26v1M382.5 39v1M383.5 2v2M383.5 12v1M383.5 14v1M383.5 21v2M383.5 25v1M384.5 7v1M384.5 23v1M384.5 25v1M385.5 0v1M385.5 3v1M385.5 6v2M385.5 9v1M385.5 14v1M385.5 32v2M386.5 0v2M386.5 10v1M386.5 19v2M386.5 22v1M386.5 25v1M386.5 28v2M387.5 3v1M387.5 6v1M387.5 11v1M387.5 14v1M387.5 18v1M387.5 20v1M387.5 23v1M387.5 30v1M387.5 33v2M387.5 37v1M388.5 10v1M388.5 12v3M388.5 22v1M388.5 25v2M388.5 29v1M388.5 32v1M388.5 35v2M388.5 39v1M389.5 3v2M389.5 11v1M389.5 18v1M389.5 20v1M389.5 22v3M389.5 27v2M391.5 5v1M391.5 7v2M391.5 11v1M391.5 13v1M391.5 16v1M391.5 23v1M391.5 25v4M391.5 34v2M392.5 0v1M392.5 7v1M392.5 22v1M392.5 33v1M393.5 8v3M393.5 21v1M393.5 25v1M393.5 27v1M393.5 36v1M394.5 6v1M394.5 9v1M394.5 28v1M394.5 38v1M395.5 1v2M395.5 8v1M395.5 21v1M396.5 5v1M396.5 10v1M396.5 13v1M396.5 17v1M396.5 19v1M396.5 23v1M396.5 25v1M396.5 33v3M397.5 1v1M397.5 3v1M397.5 9v2M397.5 14v2M397.5 17v1M397.5 25v1M397.5 31v1M397.5 35v3M397.5 39v1"/>
<path stroke="#ffdfdf" d="M274.5 39v1M277.5 2v1M277.5 7v1M277.5 13v1M277.5 30v1M283.5 36v1M283.5 38v1M285.5 9v1M285.5 11v1M285.5 16v1M285.5 32v1M330.5 2v1M330.5 5v1M330.5 9v3M330.5 14v2M330.5 26v5M330.5 37v1M330.5 39v1M331.5 15v1M332.5 14v1M332.5 35v1M332.5 37v1M332.5 39v1M333.5 6v1M333.5 14v1M333.5 18v1M333.5 23v1M333.5 37v1M336.5 6v1M336.5 14v1M337.5 0v1M337.5 2v1M337.5 5v1M337.5 8v1M337.5 10v3M337.5 19v5M337.5 25v2M337.5 29v4M337.5 34v2M337.5 38v1M338.5 20v1M338.5 27v2M340.5 0v1M340.5 4v1M340.5 6v1M340.5 9v2M340.5 14v1M340.5 16v1M340.5 24v1M340.5 27v1M340.5 30v2M340.5 33v1M340.5 35v1M341.5 1v2M341.5 6v1M341.5 9v3M341.5 20v1M341.5 22v1M341.5 24v1M341.5 26v2M341.5 29v1M341.5 31v3M341.5 39v1M342.5 0v1M342.5 4v1M342.5 11v1M342.5 14v1M342.5 18v1M342.5 20v1M342.5 22v3M342.5 26v1M342.5 28v3M342.5 36v2M343.5 22v1M343.5 34v1M343.5 37v2M344.5 10v2M344.5 17v1M344.5 20v1M344.5 27v1M344.5 33v1M344.5 36v1M344.5 38v1M346.5 26v1M347.5 37v1M348.5 1v1M348.5 17v1M348.5 20v1M348.5 25v3M348.5 33v1M348.5 36v1M350.5 4v1M350.5 30v1M351.5 1v1M351.5 4v1M351.5 12v1M351.5 17v2M351.5 24v1M351.5 26v1M351.5 30v1M351.5 33v2M352.5 0v1M352.5 2v2M352.5 6v1M352.5 17v1M352.5 22v1M352.5 24v2M352.5 33v2M352.5 38v2M354.5 15v1M354.5 17v1M354.5 30v1M354.5 33v1M354.5 38v1M355.5 39v1M356.5 5v1M356.5 14v1M356.5 20v1M356.5 38v1M357.5 17v1M357.5 20v1M357.5 23v1M357.5 26v1M357.5 28v1M357.5 36v1M357.5 39v1M360.5 1v1M360.5 3v1M360.5 39v1M361.5 10v1M363.5 0v3M363.5 7v1M363.5 11v2M363.5 14v2M363.5 26v2M363.5 35v1M364.5 38v1M365.5 4v2M365.5 24v1M365.5 26v1M365.5 30v1M366.5 4v1M366.5 14v1M366.5 30v1M368.5 5v1M368.5 7v1M368.5 11v1M368.5 14v3M368.5 18v1M368.5 20v2M368.5 29v2M369.5 0v1M369.5 7v2M369.5 15v1M369.5 18v1M369.5 20v3M369.5 28v1M369.5 31v1M370.5 1v1M370.5 6v2M370.5 13v1M370.5 16v1M370.5 18v1M370.5 27v3M370.5 33v1M370.5 35v1M371.5 1v1M371.5 4v1M371.5 6v1M371.5 9v2M371.5 16v1M371.5 19v2M371.5 28v1M371.5 34v1M372.5 15v1M372.5 17v1M372.5 39v1M373.5 11v2M373.5 18v2M373.5 22v2M373.5 32v1M373.5 37v1M374.5 2v2M374.5 7v3M374.5 11v2M374.5 19v2M374.5 23v1M374.5 27v1M374.5 29v1M374.5 31v2M374.5 35v2M374.5 38v1M375.5 5v1M375.5 9v1M375.5 11v1M375.5 14v1M375.5 19v2M375.5 29v2M375.5 32v2M375.5 35v1M375.5 38v1M377.5 0v4M377.5 6v1M377.5 11v1M377.5 13v2M377.5 17v1M377.5 21v1M377.5 35v1M377.5 38v1M378.5 1v1M378.5 3v1M378.5 6v1M378.5 8v1M378.5 20v1M378.5 27v1M378.5 31v1M378.5 33v1M378.5 36v1M378.5 38v2M379.5 2v2M379.5 12v1M379.5 26v1M379.5 31v1M379.5 37v1M380.5 8v1M380.5 13v2M380.5 23v3M380.5 27v1M380.5 29v1M380.5 31v1M380.5 35v1M381.5 2v1M381.5 20v1M381.5 25v1M382.5 4v1M382.5 8v2M382.5 11v1M382.5 15v1M382.5 24v1M382.5 27v1M382.5 29v1M382.5 31v1M382.5 33v2M383.5 8v1M383.5 11v1M384.5 13v1M385.5 2v1M385.5 8v1M385.5 13v1M385.5 21v1M385.5 28v1M385.5 30v1M386.5 21v1M386.5 30v1M386.5 36v1M387.5 0v1M387.5 7v2M387.5 10v1M387.5 19v1M387.5 22v1M387.5 25v3M387.5 35v1M387.5 39v1M388.5 19v1M388.5 21v1M389.5 0v1M389.5 2v1M389.5 5v1M389.5 8v1M389.5 12v1M389.5 16v1M389.5 26v1M389.5 31v2M389.5 34v1M389.5 39v1M391.5 2v1M391.5 9v1M391.5 36v1M392.5 8v2M393.5 18v1M393.5 35v1M393.5 39v1M394.5 8v1M394.5 21v1M394.5 23v1M394.5 25v1M395.5 13v1M396.5 11v1M396.5 16v1M396.5 20v1M396.5 24v1M396.5 28v1M396.5 36v2M397.5 5v2M397.5 16v1M397.5 19v1M397.5 22v1M397.5 30v1M397.5 32v1"/>
<path stroke="#ffd9d9" d="M277.5 8v1M277.5 11v1M277.5 15v1M277.5 20v1M277.5 25v1M277.5 32v1M277.5 36v1M285.5 28v2M329.5 6v1M329.5 12v1M329.5 16v2M330.5 0v1M330.5 3v1M330.5 13v1M330.5 32v1M330.5 38v1M331.5 0v1M331.5 3v1M331.5 11v2M331.5 22v1M331.5 27v2M331.5 32v1M331.5 39v1M332.5 0v1M332.5 4v2M332.5 11v1M332.5 20v1M332.5 24v2M332.5 27v2M332.5 30v1M332.5 33v1M333.5 1v1M333.5 3v1M333.5 5v1M333.5 7v1M333.5 12v1M333.5 15v1M333.5 22v1M333.5 24v1M333.5 30v2M333.5 33v4M334.5 4v1M334.5 14v1M334.5 38v1M335.5 17v1M335.5 24v1M335.5 35v1M336.5 1v1M336.5 5v1M336.5 7v1M336.5 17v1M336.5 33v1M336.5 37v1M337.5 6v1M337.5 15v1M337.5 24v1M338.5 0v2M338.5 4v1M338.5 6v1M338.5 12v1M338.5 14v1M338.5 17v1M338.5 21v1M338.5 23v1M338.5 33v3M338.5 37v1M339.5 14v1M340.5 1v3M340.5 8v1M340.5 11v1M340.5 17v3M340.5 22v2M340.5 34v1M340.5 39v1M341.5 0v1M341.5 3v1M341.5 5v1M341.5 8v1M341.5 12v2M341.5 16v1M341.5 18v2M341.5 21v1M341.5 28v1M341.5 30v1M341.5 34v1M342.5 8v1M342.5 13v1M342.5 21v1M342.5 25v1M342.5 27v1M342.5 34v2M342.5 38v1M343.5 4v1M343.5 15v1M343.5 17v1M343.5 24v1M343.5 39v1M344.5 0v1M344.5 7v3M344.5 12v1M344.5 16v1M344.5 19v1M344.5 23v1M344.5 25v1M344.5 30v1M344.5 35v1M344.5 39v1M346.5 1v4M346.5 7v1M346.5 10v1M346.5 13v1M346.5 15v3M346.5 22v1M346.5 27v1M346.5 29v2M346.5 37v3M347.5 1v1M347.5 3v1M347.5 7v1M347.5 13v2M347.5 19v1M347.5 23v2M347.5 26v1M347.5 28v1M347.5 34v2M348.5 2v1M348.5 10v1M348.5 12v1M348.5 18v1M348.5 24v1M348.5 28v1M348.5 30v3M348.5 35v1M349.5 11v1M349.5 14v1M349.5 17v1M349.5 26v1M349.5 30v1M349.5 33v1M349.5 38v1M350.5 17v2M350.5 20v2M350.5 25v1M350.5 34v2M350.5 39v1M351.5 3v1M351.5 10v1M351.5 15v1M351.5 22v1M351.5 27v1M351.5 37v1M352.5 5v1M352.5 9v1M352.5 16v1M352.5 21v1M352.5 27v1M352.5 30v1M352.5 35v2M353.5 33v1M353.5 35v1M354.5 0v1M354.5 3v1M354.5 6v1M354.5 14v1M354.5 23v1M354.5 31v1M354.5 37v1M355.5 27v1M356.5 0v1M356.5 4v1M356.5 9v1M356.5 12v1M356.5 17v2M356.5 27v1M356.5 29v1M356.5 39v1M357.5 1v2M357.5 5v2M357.5 9v1M357.5 14v1M357.5 16v1M357.5 18v2M357.5 22v1M357.5 24v1M357.5 27v1M357.5 30v1M357.5 32v1M357.5 35v1M358.5 5v1M358.5 15v1M358.5 27v1M358.5 30v1M358.5 35v1M358.5 37v1M358.5 39v1M359.5 39v1M360.5 4v2M360.5 10v1M360.5 14v2M360.5 18v1M360.5 33v1M360.5 35v1M360.5 38v1M361.5 2v1M361.5 12v1M361.5 14v2M361.5 17v1M361.5 19v1M361.5 21v1M361.5 23v2M361.5 28v1M361.5 33v1M361.5 38v2M362.5 4v1M363.5 5v2M363.5 8v1M363.5 10v1M363.5 13v1M363.5 18v2M363.5 22v1M363.5 24v1M363.5 28v1M363.5 32v1M363.5 39v1M364.5 4v1M364.5 24v1M364.5 32v1M364.5 34v2M365.5 6v1M365.5 9v1M365.5 13v1M365.5 15v1M365.5 18v1M365.5 21v2M365.5 27v1M365.5 33v2M365.5 36v3M366.5 2v1M366.5 18v1M366.5 22v1M366.5 24v1M366.5 26v2M366.5 33v1M366.5 36v4M367.5 5v1M367.5 33v1M367.5 36v1M368.5 0v1M368.5 2v2M368.5 6v1M368.5 8v1M368.5 10v1M368.5 13v1M368.5 23v1M368.5 28v1M368.5 33v1M369.5 3v1M369.5 11v3M369.5 32v1M370.5 2v1M370.5 31v2M371.5 2v1M371.5 8v1M371.5 18v1M371.5 25v1M371.5 32v1M372.5 6v1M372.5 14v1M372.5 27v2M374.5 0v1M374.5 13v1M374.5 16v1M375.5 1v1M375.5 3v2M375.5 10v1M375.5 12v1M375.5 16v1M375.5 18v1M375.5 21v1M375.5 24v1M375.5 26v2M375.5 31v1M375.5 36v1M375.5 39v1M377.5 8v1M377.5 10v1M377.5 12v1M377.5 16v1M377.5 18v1M377.5 22v1M377.5 24v2M377.5 28v3M377.5 34v1M377.5 36v2M378.5 10v3M378.5 18v1M378.5 22v1M378.5 25v1M378.5 32v1M379.5 23v1M379.5 28v1M380.5 19v1M380.5 34v1M380.5 39v1M381.5 13v1M381.5 32v1M382.5 17v1M382.5 19v2M382.5 22v1M382.5 28v1M382.5 30v1M382.5 38v1M383.5 19v1M383.5 32v1M387.5 9v1M387.5 16v1M387.5 21v1M387.5 29v1M387.5 31v2M388.5 9v1M389.5 7v1M389.5 9v1M389.5 13v3M389.5 19v1M389.5 21v1M389.5 25v1M389.5 29v1M392.5 25v1M393.5 16v1M396.5 2v1M396.5 8v1M396.5 21v1M396.5 32v1M397.5 0v1M397.5 2v1M397.5 7v2M397.5 13v1M397.5 18v1M397.5 20v2M397.5 26v3M397.5 33v1"/>
</g>
<rect x="42.8" y="217" width="3.8" height="21" fill="#ff0000"/>
<rect x="42.8" y="238" width="3.8" height="21.30000000000001" fill="#0000ff"/>
<rect x="42.8" y="259.3" width="3.8" height="63.69999999999999" fill="#ff0000"/>
<rect x="42.8" y="323" width="3.8" height="21" fill="#0000ff"/>
<rect x="42.8" y="344" width="3.8" height="5.399999999999977" fill="#ff0000"/>
<rect x="42.8" y="349.4" width="3.8" height="10.900000000000034" fill="#0000ff"/>
<rect x="42.8" y="360.3" width="3.8" height="10.699999999999989" fill="#ff0000"/>
<rect x="42.8" y="371" width="3.8" height="53" fill="#0000ff"/>
<g transform="translate(49.7,457.5) scale(1.4494,6.6968)" fill="none" stroke-width="1.04" shape-rendering="crispEdges">
<path stroke="#d9d9ff" d="M0.5 0v2M0.5 3v1M0.5 8v1M1.5 11v1M1.5 13v1M1.5 17v1M1.5 22v1M2.5 1v1M2.5 20v1M2.5 22v1M3.5 13v1M3.5 19v1M3.5 27v1M4.5 8v1M4.5 22v1M4.5 25v1M4.5 27v1M4.5 29v1M5.5 9v1M5.5 14v1M5.5 20v2M5.5 25v1M5.5 27v1M6.5 13v1M6.5 20v1M6.5 27v1M7.5 14v1M7.5 17v1M7.5 20v1M7.5 23v2M7.5 27v2M8.5 16v1M8.5 19v1M8.5 21v1M8.5 26v1M8.5 29v2M9.5 13v1M9.5 19v1M9.5 22v1M9.5 26v1M9.5 29v1M11.5 10v1M11.5 12v1M11.5 23v2M12.5 0v1M12.5 28v2M13.5 2v1M13.5 5v1M13.5 16v1M13.5 19v1M13.5 21v1M14.5 10v1M14.5 15v1M14.5 23v1M15.5 4v1M15.5 16v1M15.5 19v1M15.5 22v1M16.5 12v1M16.5 18v2M18.5 4v1M18.5 8v2M18.5 11v1M18.5 14v1M18.5 17v1M18.5 21v1M18.5 27v2M20.5 28v1M21.5 0v1M21.5 2v1M21.5 6v1M21.5 10v1M21.5 14v1M21.5 16v2M21.5 19v1M21.5 22v5M22.5 4v1M22.5 13v3M22.5 19v1M22.5 24v3M22.5 30v1M24.5 4v2M24.5 15v2M24.5 18v1M24.5 21v1M24.5 27v1M24.5 29v1M25.5 0v1M25.5 3v1M25.5 5v1M25.5 8v1M25.5 14v1M25.5 17v1M25.5 20v1M25.5 25v1M25.5 29v1M26.5 0v1M26.5 12v1M26.5 15v1M26.5 18v1M27.5 2v1M27.5 13v1M27.5 15v3M27.5 19v1M27.5 25v1M28.5 15v1M29.5 8v1M29.5 14v1M44.5 5v1M44.5 9v1M45.5 7v1M46.5 2v2M46.5 7v1M47.5 12v1M47.5 14v1M47.5 28v1M47.5 30v1M50.5 3v1M52.5 4v2M53.5 3v1M53.5 5v1M55.5 1v2M55.5 9v2M56.5 0v1M56.5 3v2M58.5 2v3M58.5 6v2M58.5 9v1M59.5 0v1M59.5 3v1M59.5 8v1M61.5 0v2M61.5 4v1M61.5 8v1M62.5 0v1M62.5 6v1M62.5 11v1M62.5 19v1M62.5 23v1M63.5 0v1M63.5 13v1M63.5 15v1M63.5 17v1M63.5 23v1M63.5 28v2M64.5 17v1M65.5 17v1M65.5 25v1M65.5 27v1M66.5 0v1M66.5 11v1M66.5 14v1M66.5 16v1M66.5 24v1M66.5 27v2M67.5 6v1M67.5 17v1M67.5 20v1M67.5 25v1M67.5 27v1M68.5 3v1M68.5 13v1M68.5 15v3M68.5 24v1M68.5 26v1M68.5 29v1M70.5 2v2M70.5 5v2M70.5 9v1M70.5 15v1M70.5 17v1M71.5 16v2M71.5 22v2M72.5 22v1M73.5 5v1M73.5 8v2M73.5 15v1M73.5 24v2M75.5 16v1M75.5 29v1M76.5 13v1M76.5 19v1M76.5 21v1M76.5 23v1M76.5 29v2M77.5 0v1M77.5 12v2M77.5 17v2M77.5 22v3M77.5 28v1M78.5 13v2M78.5 18v2M78.5 26v1M78.5 28v2M79.5 6v4M80.5 2v1M80.5 6v1M80.5 8v1M81.5 6v2M81.5 9v2M82.5 13v1M82.5 16v1M82.5 18v2M82.5 24v1M82.5 29v1M83.5 4v1M83.5 10v1M83.5 14v1M83.5 17v1M83.5 28v1M84.5 1v1M84.5 3v1M84.5 16v2M85.5 4v1M85.5 19v1M85.5 21v2M85.5 30v1M86.5 0v1M86.5 13v2M86.5 16v2M86.5 21v2M87.5 0v3M87.5 9v1M87.5 12v1M87.5 16v2M87.5 19v1M87.5 21v1M87.5 24v1M88.5 14v1M88.5 16v1M88.5 18v1M88.5 20v1M88.5 23v2M88.5 28v1M89.5 4v1M89.5 9v2M89.5 14v1M89.5 17v1M89.5 25v1M89.5 27v1M90.5 0v1M90.5 6v1M90.5 8v1M90.5 11v1M91.5 1v1M91.5 3v1M91.5 7v1M91.5 9v1M91.5 20v1M91.5 25v1M92.5 12v1M92.5 16v2M92.5 22v2M92.5 25v1M92.5 27v1M92.5 29v1M93.5 12v2M93.5 19v1M93.5 27v2M94.5 1v1M95.5 0v1M96.5 1v1M96.5 4v1M96.5 9v1M96.5 16v2M96.5 20v1M122.5 20v1"/>
<path stroke="#c6c6ff" d="M0.5 2v1M1.5 0v3M1.5 10v1M1.5 16v1M2.5 5v1M2.5 9v1M3.5 9v1M3.5 26v1M4.5 2v1M4.5 7v1M5.5 0v1M5.5 2v1M5.5 8v1M6.5 26v1M7.5 1v1M7.5 5v3M7.5 9v1M8.5 0v2M8.5 4v1M8.5 6v1M8.5 9v1M9.5 1v1M9.5 4v1M9.5 9v2M10.5 10v1M10.5 12v1M10.5 15v2M10.5 20v1M10.5 30v1M11.5 2v2M11.5 5v1M11.5 8v2M11.5 15v3M11.5 22v1M12.5 3v1M12.5 5v2M12.5 11v1M12.5 16v2M12.5 20v1M12.5 27v1M14.5 5v1M14.5 8v2M14.5 12v1M14.5 17v1M14.5 20v1M14.5 25v1M15.5 1v3M15.5 5v4M15.5 14v1M15.5 21v1M15.5 23v2M16.5 0v1M16.5 3v2M16.5 7v2M16.5 10v1M16.5 16v1M16.5 25v1M16.5 27v1M16.5 30v1M17.5 3v1M17.5 12v2M17.5 16v1M17.5 18v1M17.5 26v1M19.5 10v1M19.5 16v1M19.5 19v1M19.5 22v4M22.5 7v1M22.5 9v1M22.5 29v1M26.5 8v1M26.5 29v1M27.5 5v1M28.5 17v2M28.5 22v1M28.5 26v4M47.5 6v1M52.5 6v1M55.5 3v1M57.5 7v1M62.5 2v2M62.5 7v1M62.5 21v1M62.5 27v1M63.5 7v1M66.5 6v1M68.5 8v1M68.5 30v1M76.5 3v1M76.5 10v1M77.5 2v1M77.5 6v1M78.5 0v1M78.5 2v1M78.5 4v1M78.5 16v1M82.5 1v1M82.5 7v1M82.5 20v1M83.5 7v1M86.5 2v2M86.5 8v2M86.5 29v1M87.5 4v1M88.5 2v1M88.5 4v3M92.5 3v1M93.5 20v1M93.5 29v1M94.5 6v1M95.5 1v1M95.5 3v1M95.5 5v1M95.5 7v2M95.5 10v1M96.5 7v1M278.5 15v1M279.5 18v1M282.5 19v1M283.5 8v1M283.5 15v1M283.5 19v1M283.5 26v1M283.5 29v2M291.5 18v1M291.5 30v1M296.5 15v1M296.5 28v1M297.5 0v1M297.5 20v1M297.5 22v1M297.5 24v1M298.5 16v1M298.5 27v1M298.5 29v1M301.5 12v2M301.5 26v1M301.5 30v1M302.5 12v2M302.5 24v1M302.5 28v1M304.5 1v1M304.5 24v1M310.5 23v1M311.5 8v1M311.5 11v1M313.5 1v1M314.5 0v1M314.5 2v1M315.5 10v1M315.5 12v1M315.5 27v1M321.5 1v1M321.5 15v1M321.5 23v2M322.5 0v2M322.5 4v1M322.5 12v2M322.5 21v1M322.5 24v1M322.5 29v1M324.5 0v1M324.5 2v1M324.5 7v1M324.5 12v4M324.5 22v1M324.5 26v1M325.5 1v2M325.5 6v1M325.5 9v1M325.5 12v1M325.5 23v1M326.5 0v2M326.5 11v1M326.5 15v1M326.5 18v1M326.5 23v4M327.5 6v1M327.5 8v2M327.5 11v1M327.5 15v1M327.5 23v1M327.5 26v2M331.5 2v1M331.5 4v2M331.5 9v1M331.5 13v1M331.5 24v2M332.5 4v1M332.5 28v1"/>
<path stroke="#ccccff" d="M0.5 4v1M0.5 6v2M0.5 9v2M1.5 19v2M1.5 23v1M1.5 26v1M1.5 30v1M2.5 3v1M2.5 8v1M3.5 11v1M3.5 15v1M3.5 17v1M3.5 21v1M3.5 23v1M3.5 28v1M3.5 30v1M4.5 0v1M4.5 6v1M4.5 10v1M5.5 1v1M5.5 10v1M6.5 11v1M6.5 16v4M6.5 21v3M6.5 28v2M7.5 2v1M7.5 4v1M7.5 8v1M8.5 8v1M8.5 14v1M8.5 17v1M8.5 23v1M9.5 0v1M9.5 5v1M9.5 14v1M9.5 21v1M9.5 30v1M10.5 11v1M10.5 13v1M10.5 17v1M10.5 22v2M10.5 25v2M10.5 29v1M11.5 0v1M11.5 4v1M11.5 13v2M11.5 18v1M11.5 20v1M11.5 26v2M11.5 29v2M12.5 9v1M12.5 12v2M12.5 18v1M12.5 21v4M13.5 6v1M13.5 25v1M14.5 1v1M14.5 11v1M14.5 14v1M14.5 18v1M14.5 22v1M14.5 24v1M14.5 26v1M14.5 28v1M14.5 30v1M15.5 9v1M15.5 12v2M15.5 15v1M15.5 17v1M15.5 20v1M15.5 26v5M16.5 11v1M16.5 13v1M16.5 20v2M16.5 23v1M16.5 28v1M17.5 24v1M18.5 6v2M19.5 11v1M19.5 18v1M19.5 26v1M19.5 28v1M21.5 7v1M21.5 12v1M21.5 21v1M21.5 29v1M22.5 3v1M22.5 5v1M22.5 12v1M22.5 22v1M22.5 27v1M24.5 2v1M25.5 21v1M26.5 2v2M26.5 5v1M26.5 20v1M26.5 22v1M27.5 0v1M27.5 7v4M27.5 14v1M27.5 20v1M27.5 26v1M28.5 11v2M28.5 19v2M28.5 23v1M45.5 3v1M47.5 4v2M47.5 7v1M52.5 7v1M52.5 9v1M53.5 7v1M55.5 6v1M56.5 2v1M59.5 6v1M61.5 6v1M61.5 10v1M62.5 10v1M62.5 14v3M62.5 29v1M63.5 1v1M63.5 3v1M63.5 5v2M63.5 8v1M63.5 11v1M63.5 14v1M63.5 16v1M63.5 20v1M63.5 22v1M63.5 26v1M66.5 2v1M66.5 8v1M66.5 10v1M66.5 15v1M66.5 25v1M66.5 30v1M68.5 6v2M68.5 20v1M68.5 23v1M68.5 25v1M70.5 20v1M71.5 8v1M76.5 4v3M76.5 8v2M76.5 17v1M76.5 25v1M77.5 5v1M77.5 8v2M78.5 11v2M78.5 17v1M78.5 20v1M78.5 22v1M78.5 24v1M78.5 27v1M80.5 3v2M80.5 7v1M82.5 3v2M82.5 17v1M83.5 2v2M83.5 6v1M83.5 9v1M85.5 0v1M85.5 3v1M85.5 6v1M85.5 8v3M85.5 14v1M85.5 16v1M86.5 1v1M86.5 4v1M86.5 6v2M86.5 10v1M87.5 6v1M87.5 10v1M88.5 1v1M88.5 7v2M89.5 2v1M89.5 5v1M89.5 7v1M91.5 5v1M92.5 0v2M92.5 6v2M93.5 11v1M93.5 14v1M93.5 30v1M94.5 2v3M94.5 7v2M94.5 10v1M95.5 6v1M95.5 9v1M96.5 2v2M96.5 5v2M283.5 4v1M283.5 18v1M283.5 23v2M297.5 12v1M297.5 14v1M297.5 18v1M297.5 28v1M301.5 22v1M314.5 1v1M315.5 5v1M315.5 9v1M324.5 1v1M324.5 6v1M324.5 8v1M324.5 10v1M324.5 24v1M325.5 4v2M325.5 10v1M325.5 16v1M325.5 26v1M326.5 3v2M326.5 10v1M326.5 12v1M327.5 4v1"/>
<path stroke="#d2d2ff" d="M0.5 5v1M1.5 12v1M1.5 14v1M1.5 18v1M1.5 21v1M1.5 24v2M1.5 27v1M1.5 29v1M2.5 0v1M2.5 10v1M3.5 16v1M3.5 20v1M3.5 22v1M3.5 24v1M4.5 1v1M4.5 3v1M4.5 9v1M5.5 3v3M6.5 12v1M6.5 14v1M6.5 24v1M7.5 0v1M7.5 10v1M7.5 26v1M8.5 10v1M8.5 20v1M8.5 22v1M8.5 28v1M9.5 2v1M9.5 17v1M9.5 20v1M9.5 23v2M9.5 28v1M10.5 19v1M10.5 24v1M10.5 27v2M11.5 1v1M11.5 11v1M11.5 19v1M11.5 25v1M11.5 28v1M12.5 4v1M12.5 10v1M12.5 19v1M12.5 25v1M13.5 3v1M13.5 7v1M14.5 0v1M14.5 4v1M14.5 13v1M14.5 21v1M15.5 0v1M15.5 10v2M15.5 18v1M16.5 1v1M16.5 5v1M16.5 17v1M16.5 24v1M16.5 26v1M16.5 29v1M18.5 1v1M18.5 3v1M18.5 5v1M18.5 13v1M18.5 23v1M19.5 12v1M21.5 3v3M21.5 27v1M22.5 0v2M22.5 6v1M22.5 8v1M22.5 10v1M22.5 16v2M22.5 20v2M22.5 23v1M24.5 0v1M24.5 3v1M24.5 7v3M24.5 14v1M24.5 17v1M24.5 20v1M24.5 23v3M24.5 30v1M25.5 16v1M26.5 1v1M26.5 4v1M26.5 7v1M26.5 9v3M26.5 14v1M26.5 17v1M26.5 19v1M26.5 21v1M26.5 23v3M26.5 27v2M26.5 30v1M27.5 1v1M27.5 3v2M27.5 6v1M27.5 11v1M27.5 21v1M27.5 27v3M28.5 13v2M28.5 16v1M28.5 25v1M28.5 30v1M46.5 5v1M46.5 8v1M47.5 1v1M47.5 10v1M47.5 16v2M47.5 20v3M49.5 7v1M52.5 3v1M53.5 0v1M53.5 4v1M53.5 6v1M53.5 8v1M55.5 0v1M55.5 4v2M56.5 5v5M57.5 2v1M58.5 5v1M59.5 2v1M59.5 4v2M59.5 7v1M59.5 9v1M61.5 2v2M61.5 7v1M61.5 9v1M62.5 4v2M62.5 8v2M62.5 17v2M62.5 20v1M62.5 24v3M62.5 28v1M62.5 30v1M63.5 4v1M63.5 10v1M63.5 19v1M63.5 21v1M63.5 24v1M63.5 30v1M64.5 3v1M66.5 1v1M66.5 3v2M66.5 7v1M66.5 17v1M66.5 20v1M66.5 22v1M66.5 26v1M66.5 29v1M68.5 0v3M68.5 5v1M68.5 21v1M68.5 27v1M73.5 3v1M73.5 7v1M73.5 21v2M73.5 27v1M75.5 2v2M76.5 0v3M76.5 20v1M76.5 24v1M76.5 28v1M77.5 1v1M77.5 3v2M77.5 7v1M77.5 10v1M77.5 20v1M77.5 26v1M78.5 10v1M78.5 21v1M78.5 23v1M78.5 25v1M78.5 30v1M79.5 2v1M81.5 5v1M81.5 8v1M82.5 0v1M82.5 14v2M82.5 22v2M82.5 26v3M82.5 30v1M83.5 0v1M83.5 5v1M83.5 8v1M84.5 2v1M84.5 4v1M84.5 6v3M84.5 10v1M85.5 1v1M85.5 20v1M85.5 26v1M85.5 28v2M86.5 5v1M86.5 15v1M86.5 23v1M86.5 25v3M87.5 3v1M87.5 5v1M87.5 7v1M87.5 14v1M87.5 20v1M87.5 29v2M88.5 0v1M88.5 9v1M88.5 12v1M88.5 17v1M88.5 29v1M89.5 0v2M89.5 3v1M89.5 6v1M89.5 24v1M90.5 3v1M91.5 2v1M91.5 4v1M91.5 6v1M92.5 2v1M92.5 5v1M92.5 9v2M92.5 20v1M93.5 15v4M93.5 22v1M93.5 25v2M94.5 0v1M94.5 5v1M94.5 9v1M95.5 2v1M96.5 0v1M96.5 8v1M301.5 28v1M315.5 2v1M324.5 9v1M325.5 0v1M326.5 8v2M326.5 13v1M327.5 1v1M332.5 0v1"/>
<path stroke="#f2f2ff" d="M0.5 11v2M0.5 18v1M2.5 26v1M5.5 19v1M20.5 13v1M23.5 4v1M28.5 3v1M28.5 5v1M29.5 1v1M29.5 18v1M30.5 14v1M30.5 17v1M30.5 24v1M31.5 11v1M32.5 6v2M32.5 17v1M32.5 20v1M32.5 27v1M33.5 19v1M33.5 27v1M34.5 15v1M34.5 20v2M34.5 23v1M34.5 26v1M34.5 28v1M34.5 30v1M35.5 7v1M35.5 19v1M35.5 22v1M35.5 25v1M36.5 3v2M36.5 10v1M36.5 13v1M36.5 19v1M36.5 22v1M36.5 27v3M37.5 3v1M37.5 6v1M37.5 8v1M37.5 10v1M37.5 18v2M37.5 21v2M37.5 25v1M38.5 17v1M38.5 21v1M38.5 23v1M38.5 27v1M38.5 30v1M39.5 17v1M40.5 13v1M40.5 20v1M40.5 28v1M40.5 30v1M42.5 9v1M42.5 13v2M42.5 19v2M42.5 22v2M42.5 26v1M42.5 28v1M43.5 21v1M44.5 15v1M44.5 21v1M44.5 24v1M45.5 21v1M46.5 12v1M46.5 17v1M46.5 21v2M46.5 24v2M46.5 29v2M48.5 4v2M49.5 1v1M50.5 0v1M51.5 1v1M51.5 4v2M51.5 9v1M52.5 14v1M52.5 22v1M52.5 29v2M53.5 11v1M53.5 21v1M53.5 23v1M53.5 25v1M53.5 30v1M54.5 3v1M54.5 17v1M55.5 12v1M55.5 18v2M55.5 23v1M55.5 26v1M56.5 12v1M56.5 21v1M56.5 24v1M56.5 27v2M56.5 30v1M57.5 1v1M58.5 21v2M58.5 26v2M59.5 15v1M59.5 19v1M60.5 3v1M60.5 6v1M60.5 8v1M61.5 13v1M61.5 20v1M61.5 24v1M61.5 26v1M61.5 28v2M64.5 9v1M64.5 11v1M64.5 13v1M64.5 24v1M65.5 8v1M65.5 11v1M65.5 18v1M65.5 23v1M67.5 1v1M67.5 9v2M69.5 0v2M69.5 11v1M69.5 13v2M69.5 22v1M69.5 29v2M71.5 1v1M71.5 13v1M71.5 29v1M72.5 2v1M72.5 9v1M72.5 19v1M72.5 24v1M72.5 26v3M74.5 7v1M74.5 12v1M74.5 17v1M74.5 21v4M74.5 27v1M74.5 30v1M75.5 0v1M75.5 26v2M79.5 12v2M79.5 15v1M80.5 18v1M80.5 24v1M80.5 27v1M81.5 18v1M81.5 23v2M84.5 18v1M90.5 13v1M90.5 15v1M90.5 23v1M90.5 26v1M91.5 12v1M91.5 17v1M94.5 11v1M94.5 13v1M94.5 16v1M94.5 22v1M94.5 24v1M94.5 28v2M96.5 12v1M96.5 19v1M96.5 24v1M96.5 27v1M97.5 14v1M97.5 20v4M102.5 20v1M102.5 26v1M104.5 19v1M107.5 11v1M107.5 14v1M107.5 17v1M107.5 20v1M107.5 22v3M107.5 27v2M108.5 16v1M108.5 22v1M108.5 25v1M108.5 29v1M110.5 27v1M111.5 20v1M112.5 11v1M114.5 14v1M114.5 19v1M114.5 29v1M115.5 16v1M115.5 20v1M118.5 25v1M120.5 3v1M120.5 7v1M120.5 18v1M120.5 21v1M120.5 23v1M120.5 29v2M122.5 3v1M122.5 6v1M122.5 11v1M122.5 15v2M122.5 23v1M122.5 28v3M123.5 17v1M124.5 21v1M125.5 20v1M130.5 14v1M130.5 24v1M130.5 26v1M130.5 29v2M132.5 4v2M132.5 7v1M132.5 22v3M133.5 3v1M134.5 0v1M134.5 7v1M134.5 9v1M134.5 11v1M134.5 17v1M134.5 19v1M134.5 21v1M134.5 29v1M135.5 1v1M135.5 20v1M135.5 27v1M136.5 0v1M136.5 2v1M136.5 6v1M136.5 8v2M136.5 11v1M136.5 16v1M136.5 26v1M136.5 29v1M137.5 17v1M138.5 2v5M138.5 20v1M138.5 27v1M139.5 0v2M139.5 4v1M139.5 9v2M139.5 14v1M139.5 17v1M139.5 22v2M139.5 25v1M141.5 7v1M142.5 3v1M142.5 14v1M142.5 20v2M142.5 25v1M142.5 27v2M142.5 30v1M143.5 2v1M143.5 4v1M143.5 6v1"/>
<path stroke="#e6e6ff" d="M0.5 13v2M0.5 17v1M0.5 20v1M0.5 26v1M0.5 30v1M1.5 15v1M1.5 28v1M2.5 11v4M2.5 17v2M2.5 21v1M2.5 24v1M2.5 27v1M2.5 29v1M4.5 13v1M4.5 17v1M4.5 19v1M4.5 28v1M4.5 30v1M5.5 11v2M5.5 15v1M5.5 17v2M5.5 22v2M5.5 30v1M7.5 13v1M8.5 18v1M9.5 12v1M9.5 15v2M9.5 18v1M9.5 25v1M9.5 27v1M13.5 0v1M13.5 4v1M13.5 12v2M13.5 18v1M13.5 26v2M18.5 12v1M18.5 18v2M18.5 22v1M20.5 0v1M20.5 9v1M20.5 14v1M20.5 16v1M20.5 20v1M20.5 22v1M20.5 24v1M20.5 30v1M21.5 11v1M21.5 15v1M21.5 18v1M23.5 0v1M23.5 5v1M23.5 16v2M23.5 20v1M23.5 23v1M23.5 25v1M23.5 28v1M24.5 1v1M24.5 12v2M24.5 22v1M25.5 9v1M25.5 19v1M25.5 22v2M27.5 24v1M29.5 4v1M29.5 9v1M29.5 15v2M29.5 20v1M29.5 24v4M35.5 6v1M36.5 7v1M36.5 9v1M36.5 14v1M36.5 20v2M36.5 23v2M36.5 30v1M37.5 13v1M37.5 16v2M37.5 26v2M42.5 29v1M44.5 1v1M44.5 8v1M44.5 10v1M45.5 0v1M45.5 6v1M45.5 9v1M46.5 4v1M46.5 9v2M46.5 16v1M47.5 11v1M47.5 13v1M47.5 25v2M49.5 4v1M49.5 6v1M49.5 8v1M49.5 10v1M50.5 1v1M50.5 6v1M50.5 9v1M51.5 3v1M51.5 6v1M52.5 1v1M52.5 23v1M52.5 25v1M53.5 2v1M53.5 10v1M54.5 1v1M54.5 4v1M54.5 8v1M55.5 15v1M55.5 17v1M55.5 22v1M55.5 27v3M56.5 14v1M56.5 19v1M56.5 23v1M56.5 26v1M57.5 0v1M57.5 6v1M57.5 8v1M57.5 10v1M58.5 8v1M59.5 1v1M59.5 17v2M59.5 24v1M59.5 27v1M59.5 29v1M61.5 5v1M61.5 16v1M61.5 18v1M64.5 4v1M64.5 16v1M64.5 19v2M64.5 25v3M65.5 4v4M65.5 9v1M65.5 12v1M65.5 22v1M65.5 30v1M67.5 0v1M67.5 5v1M67.5 7v1M67.5 13v1M67.5 15v1M67.5 19v1M67.5 22v1M67.5 26v1M67.5 28v1M68.5 11v1M68.5 22v1M68.5 28v1M69.5 2v2M70.5 1v1M70.5 4v1M70.5 10v1M70.5 13v2M70.5 19v1M70.5 21v1M70.5 26v1M70.5 28v2M71.5 5v1M71.5 9v1M71.5 14v1M71.5 18v3M71.5 26v3M72.5 0v1M72.5 3v1M72.5 7v1M72.5 16v1M72.5 25v1M72.5 29v1M73.5 1v2M73.5 4v1M73.5 18v1M73.5 30v1M74.5 20v1M75.5 1v1M75.5 4v1M75.5 10v1M75.5 15v1M75.5 20v1M75.5 28v1M76.5 11v1M76.5 14v2M76.5 22v1M76.5 26v1M77.5 15v1M77.5 21v1M77.5 27v1M77.5 29v1M78.5 15v1M79.5 0v1M79.5 3v1M79.5 14v1M79.5 17v1M79.5 20v1M79.5 23v1M79.5 25v1M79.5 30v1M80.5 5v1M80.5 15v1M80.5 17v1M80.5 22v1M80.5 28v1M80.5 30v1M81.5 1v2M81.5 4v1M81.5 14v2M81.5 28v1M82.5 21v1M83.5 13v1M83.5 15v1M83.5 19v4M83.5 24v2M83.5 29v1M84.5 0v1M84.5 11v1M84.5 13v2M84.5 22v2M84.5 25v1M85.5 15v1M85.5 18v1M86.5 19v1M86.5 24v1M86.5 30v1M87.5 13v1M87.5 18v1M87.5 27v2M88.5 13v1M88.5 21v1M89.5 18v2M89.5 23v1M89.5 28v1M89.5 30v1M90.5 14v1M90.5 17v2M90.5 22v1M90.5 24v1M90.5 29v1M91.5 0v1M91.5 10v1M91.5 14v1M91.5 16v1M91.5 21v4M91.5 26v2M91.5 29v2M92.5 13v1M92.5 18v1M92.5 24v1M93.5 23v1M94.5 20v2M95.5 17v1M95.5 21v2M95.5 24v1M95.5 26v1M95.5 28v3M96.5 14v1M96.5 21v1M96.5 23v1M96.5 28v1M96.5 30v1M97.5 16v1M97.5 24v1M112.5 20v1M114.5 23v1M114.5 25v1M120.5 11v1M120.5 14v1M120.5 16v1M122.5 12v3M122.5 17v1M122.5 27v1M134.5 2v1M135.5 3v1M135.5 8v1M138.5 1v1M139.5 2v1M139.5 5v1M142.5 2v1M142.5 8v2M142.5 19v1"/>
<path stroke="#ececff" d="M0.5 15v2M0.5 19v1M0.5 21v1M0.5 24v1M0.5 27v3M2.5 16v1M4.5 12v1M5.5 13v1M5.5 26v1M7.5 12v1M7.5 15v1M7.5 18v1M13.5 8v1M13.5 22v1M13.5 28v1M18.5 26v1M20.5 1v1M20.5 5v1M20.5 11v2M20.5 15v1M20.5 17v3M20.5 23v1M20.5 25v3M20.5 29v1M23.5 2v1M23.5 6v1M23.5 9v2M23.5 18v1M23.5 22v1M23.5 26v2M23.5 29v1M25.5 1v1M25.5 26v2M29.5 12v2M29.5 19v1M29.5 22v1M30.5 21v1M34.5 16v2M35.5 20v1M36.5 5v2M36.5 11v2M36.5 15v1M36.5 17v1M36.5 25v1M37.5 5v1M37.5 7v1M37.5 14v2M37.5 23v2M37.5 29v1M38.5 2v1M38.5 16v1M38.5 20v1M38.5 25v1M40.5 2v1M42.5 16v1M43.5 25v1M44.5 2v2M46.5 1v1M46.5 14v1M47.5 29v1M48.5 0v1M48.5 3v1M48.5 8v1M49.5 0v1M49.5 2v1M50.5 4v1M50.5 10v1M51.5 0v1M51.5 2v1M51.5 7v2M52.5 0v1M52.5 12v1M52.5 16v3M53.5 1v1M53.5 9v1M53.5 20v1M54.5 2v1M54.5 5v2M54.5 10v1M55.5 14v1M55.5 24v2M55.5 30v1M56.5 11v1M56.5 13v1M56.5 15v4M56.5 20v1M57.5 3v2M58.5 16v2M58.5 29v1M59.5 12v2M59.5 21v1M59.5 23v1M59.5 25v1M59.5 30v1M60.5 2v1M60.5 7v1M61.5 11v1M61.5 14v1M61.5 17v1M61.5 21v3M61.5 25v1M61.5 27v1M64.5 0v3M64.5 14v2M64.5 18v1M64.5 29v2M65.5 1v2M65.5 13v1M65.5 19v2M65.5 26v1M65.5 28v2M67.5 11v2M67.5 14v1M67.5 23v2M67.5 30v1M68.5 12v1M69.5 6v2M69.5 9v1M69.5 16v3M69.5 20v2M69.5 23v5M70.5 12v1M70.5 18v1M70.5 23v1M70.5 30v1M71.5 0v1M71.5 4v1M71.5 11v1M71.5 24v1M72.5 6v1M72.5 10v1M72.5 12v1M72.5 21v1M72.5 23v1M73.5 11v1M73.5 16v1M74.5 2v2M74.5 6v1M74.5 14v1M74.5 16v1M74.5 25v1M75.5 7v3M75.5 11v3M75.5 18v2M75.5 22v1M75.5 30v1M76.5 12v1M77.5 19v1M79.5 4v1M79.5 11v1M79.5 16v1M79.5 19v1M79.5 21v2M79.5 24v1M79.5 26v2M80.5 12v2M80.5 16v1M80.5 19v2M80.5 26v1M81.5 0v1M81.5 17v1M81.5 19v2M81.5 22v1M81.5 27v1M81.5 30v1M83.5 11v1M83.5 18v1M84.5 12v1M84.5 24v1M84.5 27v1M86.5 12v1M87.5 15v1M87.5 23v1M89.5 11v3M89.5 20v1M89.5 22v1M89.5 29v1M90.5 1v1M90.5 5v1M90.5 16v1M90.5 19v1M90.5 27v2M91.5 11v1M91.5 13v1M91.5 15v1M91.5 18v2M91.5 28v1M92.5 15v1M92.5 26v1M94.5 12v1M94.5 14v2M94.5 17v3M94.5 23v1M94.5 25v2M94.5 30v1M95.5 12v2M95.5 15v2M95.5 18v2M95.5 27v1M96.5 11v1M96.5 13v1M96.5 15v1M96.5 18v1M96.5 22v1M96.5 25v2M96.5 29v1M97.5 12v1M97.5 15v1M97.5 17v1M97.5 25v3M97.5 29v2M102.5 21v1M107.5 16v1M107.5 29v1M108.5 14v1M108.5 17v1M114.5 18v1M114.5 21v1M120.5 13v1M120.5 15v1M120.5 20v1M120.5 22v1M120.5 24v2M122.5 0v1M122.5 19v1M122.5 21v1M122.5 26v1M126.5 21v1M130.5 16v1M130.5 20v3M130.5 25v1M132.5 3v1M132.5 8v1M133.5 7v1M134.5 3v4M134.5 8v1M134.5 10v1M134.5 14v1M134.5 20v1M134.5 22v1M134.5 26v1M135.5 2v1M135.5 6v2M136.5 5v1M137.5 7v1M138.5 7v1M138.5 16v1M139.5 3v1M139.5 6v1M139.5 18v1M142.5 0v1M142.5 4v3M142.5 16v2M142.5 23v1M142.5 29v1"/>
<path stroke="#dfdfff" d="M0.5 22v2M0.5 25v1M2.5 15v1M2.5 19v1M2.5 23v1M2.5 25v1M2.5 28v1M2.5 30v1M3.5 12v1M3.5 18v1M4.5 11v1M4.5 14v3M4.5 18v1M4.5 20v2M4.5 23v2M4.5 26v1M5.5 16v1M5.5 24v1M5.5 28v2M6.5 15v1M6.5 25v1M6.5 30v1M7.5 11v1M7.5 16v1M7.5 19v1M7.5 21v2M7.5 25v1M7.5 29v2M8.5 11v3M8.5 15v1M8.5 24v2M8.5 27v1M9.5 11v1M12.5 1v1M12.5 15v1M12.5 26v1M13.5 1v1M13.5 9v3M13.5 14v1M13.5 17v1M13.5 20v1M13.5 23v2M13.5 29v2M14.5 19v1M16.5 15v1M18.5 0v1M18.5 2v1M18.5 10v1M18.5 15v2M18.5 20v1M18.5 24v2M18.5 29v2M20.5 2v3M20.5 6v3M20.5 10v1M20.5 21v1M21.5 1v1M21.5 8v2M21.5 13v1M21.5 20v1M21.5 28v1M21.5 30v1M22.5 11v1M22.5 18v1M22.5 28v1M23.5 3v1M23.5 7v2M23.5 11v1M23.5 14v1M23.5 19v1M23.5 21v1M23.5 30v1M24.5 6v1M24.5 10v2M24.5 19v1M24.5 26v1M24.5 28v1M25.5 2v1M25.5 4v1M25.5 6v2M25.5 10v4M25.5 15v1M25.5 18v1M25.5 24v1M25.5 28v1M25.5 30v1M26.5 13v1M26.5 16v1M26.5 26v1M27.5 12v1M27.5 18v1M27.5 22v1M27.5 30v1M28.5 24v1M29.5 2v2M29.5 5v3M29.5 11v1M29.5 17v1M29.5 21v1M29.5 23v1M29.5 28v3M36.5 18v1M36.5 26v1M37.5 20v1M37.5 30v1M44.5 0v1M44.5 4v1M44.5 6v2M45.5 1v2M45.5 4v2M45.5 8v1M45.5 10v1M46.5 0v1M46.5 6v1M46.5 20v1M47.5 15v1M47.5 18v2M47.5 23v2M47.5 27v1M48.5 2v1M48.5 7v1M48.5 9v1M49.5 3v1M49.5 5v1M49.5 9v1M50.5 2v1M50.5 5v1M50.5 7v2M52.5 8v1M52.5 10v1M52.5 21v1M54.5 0v1M54.5 7v1M55.5 16v1M55.5 20v2M56.5 1v1M56.5 10v1M57.5 5v1M57.5 9v1M58.5 0v2M58.5 10v1M59.5 10v1M59.5 20v1M61.5 30v1M62.5 1v1M62.5 12v2M62.5 22v1M63.5 9v1M63.5 12v1M63.5 18v1M63.5 25v1M63.5 27v1M64.5 5v4M64.5 10v1M64.5 21v3M64.5 28v1M65.5 3v1M65.5 10v1M65.5 14v1M65.5 16v1M65.5 21v1M65.5 24v1M66.5 9v1M66.5 12v2M66.5 18v2M66.5 21v1M66.5 23v1M67.5 2v3M67.5 8v1M67.5 16v1M67.5 18v1M67.5 21v1M67.5 29v1M68.5 4v1M68.5 9v2M68.5 14v1M68.5 18v2M70.5 0v1M70.5 7v2M70.5 11v1M70.5 16v1M70.5 22v1M70.5 24v2M70.5 27v1M71.5 2v2M71.5 6v2M71.5 10v1M71.5 15v1M71.5 21v1M71.5 25v1M72.5 5v1M72.5 8v1M72.5 11v1M72.5 20v1M72.5 30v1M73.5 0v1M73.5 6v1M73.5 10v1M73.5 12v3M73.5 17v1M73.5 19v2M73.5 23v1M73.5 26v1M73.5 28v2M75.5 5v2M75.5 14v1M75.5 17v1M75.5 21v1M75.5 23v3M76.5 16v1M76.5 18v1M76.5 27v1M77.5 11v1M77.5 14v1M77.5 16v1M77.5 25v1M77.5 30v1M79.5 1v1M79.5 5v1M79.5 10v1M79.5 29v1M80.5 0v2M80.5 9v3M80.5 14v1M80.5 21v1M80.5 23v1M80.5 25v1M80.5 29v1M81.5 3v1M81.5 12v1M81.5 16v1M81.5 21v1M81.5 25v2M81.5 29v1M82.5 11v2M82.5 25v1M83.5 1v1M83.5 12v1M83.5 16v1M83.5 23v1M83.5 26v2M83.5 30v1M84.5 5v1M84.5 9v1M84.5 15v1M84.5 19v3M84.5 26v1M84.5 28v3M85.5 11v3M85.5 17v1M85.5 23v3M85.5 27v1M86.5 11v1M86.5 18v1M86.5 20v1M86.5 28v1M87.5 8v1M87.5 11v1M87.5 22v1M87.5 25v2M88.5 10v2M88.5 15v1M88.5 19v1M88.5 22v1M88.5 25v3M88.5 30v1M89.5 8v1M89.5 15v2M89.5 21v1M89.5 26v1M90.5 2v1M90.5 4v1M90.5 7v1M90.5 9v2M90.5 20v2M90.5 25v1M90.5 30v1M91.5 8v1M92.5 4v1M92.5 8v1M92.5 11v1M92.5 14v1M92.5 19v1M92.5 21v1M92.5 28v1M92.5 30v1M93.5 24v1M95.5 11v1M95.5 14v1M95.5 20v1M95.5 23v1M95.5 25v1M122.5 18v1M122.5 22v1M122.5 24v1M136.5 7v1M139.5 7v1M142.5 7v1M142.5 10v1"/>
<path stroke="#b9b9ff" d="M1.5 3v2M1.5 6v3M3.5 0v1M3.5 6v2M3.5 10v1M4.5 5v1M6.5 5v1M6.5 10v1M8.5 2v1M8.5 5v1M8.5 7v1M9.5 6v2M10.5 0v1M10.5 2v2M10.5 6v1M11.5 7v1M12.5 2v1M12.5 8v1M14.5 2v2M14.5 7v1M14.5 27v1M16.5 6v1M17.5 1v2M17.5 5v1M17.5 9v1M17.5 14v1M17.5 20v1M17.5 22v1M17.5 25v1M17.5 27v2M19.5 6v1M19.5 9v1M47.5 2v1M82.5 5v1M82.5 9v1M85.5 2v1M93.5 0v1M93.5 3v1M93.5 6v1M93.5 8v1M97.5 0v1M278.5 5v1M278.5 13v1M278.5 27v1M279.5 12v1M279.5 23v1M280.5 0v1M280.5 19v1M281.5 24v1M282.5 0v2M282.5 8v1M282.5 11v1M282.5 14v1M282.5 16v1M282.5 23v1M283.5 0v3M283.5 5v1M283.5 9v2M283.5 12v1M283.5 16v2M283.5 20v2M283.5 28v1M285.5 4v1M285.5 9v2M285.5 12v1M285.5 16v1M285.5 23v5M285.5 30v1M287.5 15v1M287.5 19v1M287.5 21v3M287.5 28v3M288.5 12v1M288.5 22v1M289.5 18v2M289.5 24v1M289.5 29v1M290.5 13v1M291.5 2v1M291.5 12v1M291.5 14v3M291.5 19v3M291.5 26v3M292.5 14v1M292.5 16v1M292.5 19v1M292.5 24v1M292.5 27v1M292.5 30v1M294.5 17v1M294.5 19v1M294.5 24v1M294.5 29v1M295.5 10v1M295.5 18v2M295.5 25v1M296.5 11v2M296.5 18v1M296.5 25v3M297.5 2v1M297.5 4v1M297.5 7v4M297.5 16v1M297.5 25v1M297.5 29v2M298.5 0v1M298.5 4v1M298.5 9v7M298.5 19v1M298.5 28v1M298.5 30v1M299.5 12v1M300.5 11v1M301.5 4v2M301.5 10v1M301.5 15v2M301.5 19v1M302.5 14v1M302.5 16v3M302.5 21v1M302.5 25v1M302.5 27v1M302.5 29v1M304.5 13v1M304.5 17v1M304.5 19v1M304.5 23v1M304.5 25v2M304.5 28v1M305.5 1v1M305.5 11v1M305.5 20v4M305.5 25v1M305.5 27v1M306.5 4v1M306.5 11v1M306.5 18v1M307.5 11v1M307.5 14v1M307.5 16v1M307.5 18v1M307.5 24v1M307.5 30v1M308.5 12v1M308.5 18v1M308.5 27v1M309.5 5v1M309.5 19v1M309.5 23v1M309.5 25v2M310.5 12v1M310.5 21v1M310.5 25v1M310.5 27v2M310.5 30v1M311.5 2v1M311.5 4v1M311.5 9v1M311.5 12v1M311.5 18v1M311.5 20v1M311.5 22v2M311.5 26v1M311.5 30v1M313.5 0v1M313.5 2v2M313.5 8v2M313.5 18v1M313.5 29v1M314.5 3v2M314.5 6v1M314.5 9v1M314.5 12v1M314.5 23v1M314.5 29v1M315.5 0v2M315.5 3v2M315.5 7v1M315.5 14v2M315.5 18v2M315.5 21v3M315.5 29v1M318.5 1v1M318.5 4v1M318.5 9v1M319.5 1v1M319.5 4v1M320.5 1v1M320.5 3v1M320.5 5v1M320.5 12v1M321.5 3v1M321.5 5v1M321.5 7v2M321.5 12v1M321.5 18v1M321.5 22v1M321.5 28v1M322.5 2v1M322.5 8v3M322.5 25v1M322.5 28v1M323.5 10v1M323.5 15v1M323.5 18v1M324.5 4v1M324.5 16v1M324.5 20v1M324.5 27v2M324.5 30v1M325.5 3v1M325.5 8v1M325.5 13v1M325.5 18v1M325.5 25v1M325.5 27v4M326.5 7v1M326.5 16v1M326.5 19v1M326.5 30v1M327.5 2v2M327.5 13v2M327.5 18v1M327.5 20v1M327.5 22v1M327.5 28v2M328.5 1v1M328.5 4v1M328.5 7v1M328.5 12v1M329.5 0v1M330.5 1v1M330.5 4v1M330.5 12v1M330.5 17v1M330.5 26v1M331.5 3v1M331.5 15v1M331.5 17v1M331.5 21v1M331.5 23v1M331.5 26v1M331.5 29v1M332.5 1v1M332.5 6v1M332.5 12v2M332.5 16v1M332.5 23v1M332.5 29v2"/>
<path stroke="#b2b2ff" d="M1.5 5v1M3.5 2v3M6.5 0v1M6.5 2v1M6.5 6v2M10.5 5v1M10.5 8v2M14.5 6v1M14.5 16v1M17.5 4v1M17.5 7v1M17.5 17v1M17.5 23v1M19.5 5v1M19.5 7v1M26.5 6v1M82.5 2v1M93.5 2v1M97.5 4v1M97.5 7v1M97.5 9v2M278.5 0v3M278.5 12v1M278.5 14v1M278.5 16v1M278.5 21v2M278.5 24v1M278.5 26v1M278.5 29v1M279.5 0v2M279.5 4v1M279.5 10v1M279.5 14v1M279.5 16v1M279.5 19v2M279.5 22v1M279.5 24v1M279.5 26v1M279.5 30v1M280.5 4v1M280.5 11v1M280.5 13v1M280.5 22v1M280.5 25v1M281.5 13v1M281.5 15v1M281.5 22v1M282.5 5v1M282.5 9v1M282.5 12v2M282.5 15v1M282.5 17v1M282.5 20v3M282.5 24v3M282.5 28v3M283.5 3v1M283.5 6v1M283.5 25v1M285.5 5v1M285.5 8v1M285.5 11v1M285.5 13v3M285.5 18v3M285.5 22v1M285.5 29v1M286.5 0v1M286.5 12v2M286.5 20v1M286.5 22v1M286.5 26v1M287.5 1v1M287.5 4v1M287.5 8v1M287.5 10v4M287.5 16v1M287.5 20v1M287.5 25v2M288.5 23v1M289.5 1v1M289.5 12v2M289.5 21v3M290.5 17v1M290.5 19v1M290.5 23v1M290.5 27v1M290.5 29v1M291.5 0v2M291.5 4v2M291.5 8v2M291.5 17v1M291.5 22v1M291.5 24v2M292.5 4v1M292.5 8v2M292.5 11v1M292.5 15v1M292.5 23v1M292.5 25v2M293.5 26v1M294.5 1v1M294.5 10v1M294.5 13v2M294.5 16v1M294.5 23v1M294.5 26v1M295.5 14v3M295.5 22v1M295.5 24v1M295.5 28v3M296.5 0v1M296.5 6v1M296.5 9v2M296.5 13v1M296.5 19v2M296.5 22v1M296.5 24v1M296.5 30v1M297.5 3v1M297.5 5v2M297.5 21v1M298.5 2v1M298.5 6v2M298.5 23v1M299.5 23v2M299.5 30v1M300.5 9v1M300.5 15v2M301.5 1v1M301.5 17v1M301.5 27v1M301.5 29v1M302.5 3v2M302.5 6v1M302.5 23v1M302.5 30v1M304.5 0v1M304.5 6v1M304.5 9v2M304.5 12v1M304.5 14v2M304.5 21v2M304.5 27v1M304.5 29v1M305.5 9v1M305.5 13v1M305.5 15v1M305.5 17v1M305.5 19v1M305.5 26v1M305.5 28v1M305.5 30v1M306.5 8v1M306.5 10v1M306.5 14v1M306.5 17v1M306.5 22v1M306.5 24v1M306.5 27v2M307.5 5v1M307.5 10v1M307.5 13v1M307.5 17v1M307.5 19v1M307.5 22v2M307.5 26v1M308.5 13v2M308.5 19v1M308.5 21v1M308.5 24v1M309.5 0v1M309.5 12v1M309.5 15v1M309.5 20v3M309.5 24v1M309.5 28v2M310.5 1v1M310.5 5v1M310.5 10v1M310.5 16v1M310.5 18v1M310.5 22v1M310.5 26v1M311.5 1v1M311.5 6v1M311.5 10v1M311.5 13v2M311.5 16v1M311.5 24v1M311.5 29v1M313.5 4v1M313.5 7v1M313.5 10v1M313.5 12v1M313.5 19v1M313.5 22v1M313.5 27v2M314.5 5v1M314.5 7v1M314.5 11v1M314.5 15v1M314.5 17v1M314.5 19v1M314.5 21v2M314.5 28v1M314.5 30v1M315.5 16v1M315.5 30v1M316.5 1v1M316.5 4v1M316.5 12v1M316.5 25v1M317.5 0v2M317.5 6v1M317.5 11v1M318.5 0v1M318.5 3v1M318.5 24v1M318.5 30v1M319.5 10v1M320.5 6v2M320.5 11v1M320.5 14v2M320.5 18v2M320.5 24v1M320.5 26v1M320.5 28v1M321.5 2v1M321.5 9v1M321.5 11v1M321.5 16v1M321.5 19v3M321.5 26v1M321.5 29v2M322.5 14v1M322.5 20v1M322.5 26v1M322.5 30v1M323.5 7v1M324.5 18v1M324.5 21v1M324.5 25v1M324.5 29v1M325.5 14v2M325.5 17v1M325.5 21v1M327.5 10v1M327.5 16v1M327.5 19v1M327.5 21v1M328.5 3v1M328.5 6v1M328.5 13v1M328.5 15v2M328.5 18v1M328.5 22v2M328.5 25v1M328.5 27v1M329.5 1v1M330.5 0v1M330.5 2v1M330.5 6v1M330.5 10v1M330.5 13v1M330.5 15v1M330.5 19v1M330.5 21v2M330.5 29v1M331.5 0v1M331.5 12v1M331.5 16v1M331.5 18v1M331.5 22v1M331.5 27v2M331.5 30v1M332.5 3v1M332.5 8v1M332.5 14v1M332.5 18v4M332.5 27v1"/>
<path stroke="#bfbfff" d="M1.5 9v1M2.5 2v1M2.5 4v1M2.5 6v2M3.5 1v1M3.5 14v1M3.5 25v1M3.5 29v1M4.5 4v1M5.5 6v2M6.5 1v1M6.5 3v2M7.5 3v1M8.5 3v1M9.5 3v1M9.5 8v1M10.5 1v1M10.5 4v1M10.5 7v1M10.5 14v1M10.5 18v1M10.5 21v1M11.5 6v1M11.5 21v1M12.5 7v1M12.5 14v1M12.5 30v1M14.5 29v1M15.5 25v1M16.5 2v1M16.5 9v1M16.5 14v1M16.5 22v1M17.5 6v1M17.5 10v2M17.5 15v1M17.5 19v1M19.5 0v5M19.5 8v1M19.5 13v3M19.5 17v1M19.5 20v2M19.5 27v1M19.5 29v2M22.5 2v1M27.5 23v1M28.5 21v1M47.5 0v1M47.5 3v1M47.5 8v2M52.5 2v1M55.5 7v2M63.5 2v1M66.5 5v1M76.5 7v1M78.5 1v1M78.5 3v1M78.5 5v5M82.5 6v1M82.5 8v1M82.5 10v1M85.5 5v1M85.5 7v1M88.5 3v1M93.5 1v1M93.5 4v1M93.5 9v2M93.5 21v1M95.5 4v1M96.5 10v1M97.5 1v1M278.5 19v1M278.5 23v1M278.5 28v1M279.5 13v1M279.5 15v1M280.5 12v1M282.5 18v1M282.5 27v1M283.5 11v1M283.5 13v2M283.5 22v1M283.5 27v1M285.5 1v1M285.5 28v1M287.5 14v1M287.5 24v1M287.5 27v1M291.5 11v1M291.5 13v1M291.5 23v1M291.5 29v1M292.5 17v2M294.5 18v1M295.5 12v2M295.5 26v1M297.5 1v1M297.5 11v1M297.5 13v1M297.5 15v1M297.5 17v1M297.5 19v1M297.5 23v1M297.5 26v2M298.5 5v1M298.5 17v2M298.5 20v3M298.5 24v3M300.5 19v1M301.5 0v1M301.5 3v1M301.5 9v1M301.5 11v1M301.5 14v1M301.5 18v1M301.5 20v2M301.5 24v2M302.5 1v1M302.5 5v1M302.5 11v1M302.5 15v1M302.5 19v2M302.5 22v1M302.5 26v1M304.5 11v1M304.5 16v1M304.5 18v1M304.5 30v1M305.5 18v1M306.5 12v1M306.5 15v1M307.5 12v1M307.5 28v1M309.5 13v1M310.5 11v1M310.5 13v1M310.5 15v1M310.5 19v1M310.5 24v1M311.5 0v1M311.5 15v1M314.5 8v1M314.5 10v1M314.5 13v1M315.5 6v1M315.5 8v1M315.5 11v1M315.5 13v1M315.5 17v1M315.5 20v1M315.5 24v3M315.5 28v1M320.5 0v1M320.5 4v1M321.5 0v1M321.5 4v1M321.5 6v1M321.5 10v1M321.5 13v1M321.5 17v1M322.5 3v1M322.5 5v3M322.5 11v1M322.5 15v5M322.5 22v2M322.5 27v1M323.5 1v1M324.5 3v1M324.5 5v1M324.5 11v1M324.5 17v1M324.5 19v1M324.5 23v1M325.5 7v1M325.5 11v1M325.5 19v1M325.5 22v1M325.5 24v1M326.5 2v1M326.5 5v2M326.5 17v1M326.5 20v3M326.5 27v3M327.5 0v1M327.5 7v1M327.5 12v1M327.5 17v1M327.5 24v2M327.5 30v1M330.5 9v1M331.5 1v1M331.5 6v3M331.5 10v2M331.5 14v1M331.5 19v1M332.5 2v1M332.5 7v1M332.5 9v2M332.5 15v1M332.5 24v1"/>
<path stroke="#acacff" d="M3.5 5v1M3.5 8v1M6.5 8v2M17.5 0v1M17.5 21v1M17.5 30v1M93.5 5v1M93.5 7v1M97.5 2v2M97.5 5v2M278.5 3v1M278.5 6v1M278.5 8v1M278.5 10v2M278.5 18v1M278.5 20v1M278.5 25v1M278.5 30v1M279.5 3v1M279.5 7v1M279.5 9v1M279.5 17v1M279.5 25v1M279.5 27v3M280.5 14v2M280.5 23v2M280.5 26v1M280.5 28v3M281.5 4v1M281.5 12v1M281.5 14v1M281.5 18v1M281.5 21v1M281.5 23v1M281.5 27v2M282.5 2v1M282.5 4v1M283.5 7v1M284.5 17v1M284.5 24v1M285.5 0v1M285.5 17v1M286.5 11v1M286.5 14v1M286.5 18v2M286.5 24v1M286.5 28v1M287.5 0v1M287.5 3v1M287.5 5v3M287.5 9v1M287.5 17v2M288.5 9v1M288.5 15v1M288.5 17v1M288.5 19v2M289.5 4v1M289.5 11v1M289.5 20v1M289.5 26v2M289.5 30v1M290.5 1v1M290.5 3v2M290.5 8v3M290.5 15v1M290.5 18v1M290.5 22v1M290.5 24v1M291.5 3v1M291.5 7v1M291.5 10v1M292.5 0v2M292.5 3v1M292.5 12v2M292.5 20v1M292.5 22v1M292.5 28v2M293.5 12v1M293.5 15v1M293.5 18v1M293.5 21v2M293.5 24v1M293.5 29v2M294.5 0v1M294.5 8v1M294.5 11v1M294.5 15v1M294.5 20v2M294.5 25v1M294.5 27v2M294.5 30v1M295.5 1v1M295.5 4v1M295.5 17v1M295.5 21v1M295.5 27v1M296.5 1v1M296.5 4v2M296.5 8v1M296.5 16v2M296.5 21v1M296.5 23v1M296.5 29v1M298.5 1v1M298.5 3v1M298.5 8v1M299.5 0v2M299.5 4v1M299.5 10v2M299.5 13v1M299.5 15v2M299.5 18v2M299.5 21v1M299.5 25v2M299.5 28v2M300.5 0v1M300.5 10v1M300.5 12v2M300.5 27v1M300.5 30v1M301.5 6v2M301.5 23v1M302.5 0v1M302.5 2v1M302.5 9v2M303.5 29v1M304.5 3v3M304.5 8v1M304.5 20v1M305.5 2v1M305.5 4v1M305.5 8v1M305.5 10v1M305.5 29v1M306.5 0v1M306.5 5v1M306.5 13v1M306.5 19v1M306.5 23v1M306.5 29v1M307.5 1v2M307.5 4v1M307.5 7v1M307.5 9v1M307.5 15v1M308.5 10v1M308.5 22v1M308.5 25v2M308.5 28v1M308.5 30v1M309.5 4v1M309.5 9v1M309.5 11v1M309.5 14v1M309.5 16v3M309.5 27v1M309.5 30v1M310.5 2v3M310.5 8v2M310.5 14v1M310.5 17v1M310.5 20v1M310.5 29v1M311.5 3v1M311.5 7v1M311.5 17v1M311.5 27v2M312.5 2v1M312.5 5v1M312.5 8v1M313.5 6v1M313.5 11v1M313.5 13v1M313.5 16v1M313.5 20v1M313.5 23v4M313.5 30v1M314.5 14v1M314.5 20v1M314.5 24v4M316.5 0v1M316.5 6v1M316.5 9v2M316.5 24v1M317.5 3v1M317.5 10v1M317.5 15v1M317.5 21v2M318.5 2v1M318.5 10v1M318.5 13v1M318.5 15v1M318.5 18v1M318.5 23v1M318.5 26v1M318.5 29v1M319.5 0v1M319.5 7v1M319.5 12v1M319.5 18v1M319.5 24v1M319.5 26v1M319.5 29v2M320.5 8v3M320.5 16v1M320.5 21v1M320.5 23v1M320.5 27v1M321.5 14v1M321.5 25v1M321.5 27v1M323.5 0v1M323.5 3v3M323.5 9v1M323.5 11v1M323.5 14v1M323.5 19v1M323.5 21v2M323.5 27v1M323.5 29v2M325.5 20v1M326.5 14v1M327.5 5v1M328.5 0v1M328.5 2v1M328.5 8v1M328.5 10v2M328.5 19v1M328.5 26v1M328.5 28v1M329.5 4v1M329.5 6v1M329.5 9v1M330.5 5v1M330.5 8v1M330.5 14v1M330.5 16v1M330.5 18v1M330.5 20v1M330.5 24v1M330.5 30v1M331.5 20v1M332.5 5v1M332.5 11v1M332.5 17v1M332.5 22v1M332.5 25v2M383.5 1v1M386.5 10v1M395.5 4v1"/>
<path stroke="#f9f9ff" d="M13.5 15v1M23.5 1v1M23.5 12v2M28.5 2v1M28.5 6v1M28.5 8v2M29.5 0v1M29.5 10v1M30.5 15v2M30.5 18v1M30.5 22v2M30.5 27v1M30.5 29v1M31.5 16v1M31.5 18v1M31.5 20v1M32.5 3v1M32.5 14v3M32.5 19v1M32.5 21v3M32.5 28v2M33.5 13v1M34.5 3v1M34.5 11v1M34.5 13v1M34.5 25v1M34.5 27v1M35.5 3v1M35.5 10v1M35.5 12v1M35.5 14v1M35.5 16v2M35.5 21v1M35.5 26v1M35.5 28v1M36.5 1v2M36.5 8v1M36.5 16v1M37.5 2v1M37.5 4v1M37.5 28v1M38.5 3v1M38.5 5v1M38.5 11v1M38.5 14v2M38.5 18v2M38.5 28v2M39.5 23v1M40.5 10v3M40.5 14v1M40.5 17v1M40.5 19v1M42.5 2v1M42.5 7v1M42.5 12v1M42.5 15v1M42.5 17v1M42.5 21v1M42.5 24v2M42.5 30v1M43.5 2v1M43.5 5v1M43.5 7v1M43.5 13v1M43.5 22v1M43.5 24v1M43.5 26v1M43.5 29v1M44.5 11v1M44.5 14v1M44.5 20v1M45.5 20v1M45.5 23v1M45.5 29v2M46.5 13v1M46.5 15v1M46.5 19v1M46.5 23v1M46.5 26v3M48.5 1v1M48.5 6v1M48.5 10v1M49.5 11v1M49.5 14v1M49.5 16v1M49.5 20v1M49.5 22v1M49.5 24v1M49.5 30v1M50.5 21v1M50.5 29v1M51.5 10v1M52.5 11v1M52.5 13v1M52.5 19v1M52.5 26v3M53.5 14v1M53.5 17v1M53.5 19v1M53.5 24v1M53.5 26v1M53.5 29v1M54.5 21v1M54.5 25v1M55.5 11v1M55.5 13v1M56.5 22v1M56.5 25v1M56.5 29v1M57.5 11v1M57.5 17v2M57.5 23v1M57.5 29v1M58.5 13v2M58.5 20v1M58.5 23v1M58.5 25v1M58.5 28v1M58.5 30v1M59.5 11v1M59.5 14v1M59.5 16v1M59.5 26v1M60.5 1v1M60.5 4v2M60.5 9v1M61.5 12v1M61.5 15v1M61.5 19v1M65.5 0v1M65.5 15v1M69.5 4v2M69.5 8v1M69.5 28v1M71.5 12v1M71.5 30v1M72.5 13v3M72.5 17v2M74.5 0v2M74.5 4v2M74.5 11v1M74.5 13v1M74.5 15v1M74.5 18v1M74.5 29v1M79.5 28v1M81.5 11v1M90.5 12v1M94.5 27v1M97.5 11v1M97.5 13v1M97.5 18v2M97.5 28v1M99.5 14v1M99.5 20v2M101.5 16v1M101.5 18v1M101.5 20v1M101.5 23v1M102.5 11v1M102.5 16v1M102.5 23v1M102.5 27v3M103.5 16v1M103.5 20v2M103.5 29v2M104.5 12v1M104.5 14v1M104.5 16v3M104.5 20v1M104.5 24v1M104.5 26v1M104.5 29v2M105.5 20v1M106.5 12v1M106.5 16v2M106.5 27v1M106.5 29v1M107.5 15v1M107.5 25v2M107.5 30v1M108.5 3v1M108.5 7v1M108.5 12v1M108.5 15v1M108.5 18v1M108.5 21v1M108.5 23v1M109.5 20v2M109.5 25v1M110.5 19v2M111.5 14v1M111.5 16v2M111.5 29v2M112.5 17v2M112.5 21v2M112.5 25v1M112.5 27v1M112.5 30v1M114.5 15v1M114.5 17v1M114.5 20v1M114.5 30v1M115.5 19v1M115.5 21v1M115.5 30v1M118.5 13v1M118.5 16v2M119.5 11v1M119.5 16v2M119.5 23v1M119.5 28v1M120.5 2v1M120.5 5v2M120.5 8v1M120.5 12v1M120.5 17v1M120.5 26v3M122.5 1v1M122.5 8v1M122.5 10v1M122.5 25v1M124.5 29v1M125.5 19v1M125.5 21v1M125.5 23v1M128.5 17v1M129.5 16v1M129.5 23v1M129.5 25v1M129.5 30v1M130.5 11v2M130.5 15v1M130.5 17v1M130.5 19v1M130.5 23v1M130.5 27v2M132.5 2v1M132.5 6v1M132.5 10v1M132.5 16v3M132.5 21v1M132.5 27v1M132.5 29v2M133.5 2v1M133.5 8v1M134.5 1v1M134.5 12v2M134.5 15v2M134.5 18v1M134.5 24v2M134.5 27v1M134.5 30v1M135.5 9v1M135.5 15v1M135.5 18v1M135.5 22v1M135.5 26v1M135.5 28v1M135.5 30v1M136.5 1v1M136.5 3v1M136.5 13v1M136.5 18v1M136.5 20v1M136.5 23v1M137.5 1v1M137.5 5v2M137.5 9v1M137.5 16v1M137.5 20v1M137.5 26v1M138.5 8v1M138.5 14v1M138.5 17v1M138.5 19v1M138.5 22v2M138.5 25v1M138.5 29v2M139.5 8v1M139.5 16v1M139.5 19v2M139.5 24v1M139.5 26v1M139.5 29v2M140.5 6v2M141.5 5v2M142.5 1v1M142.5 15v1M142.5 18v1M142.5 22v1M142.5 24v1M142.5 26v1M143.5 0v1M143.5 8v1M146.5 16v1M162.5 26v1"/>
<path stroke="#a6a6ff" d="M17.5 8v1M17.5 29v1M97.5 8v1M278.5 4v1M279.5 2v1M279.5 6v1M279.5 8v1M279.5 11v1M279.5 21v1M280.5 1v1M280.5 6v1M280.5 10v1M280.5 17v2M280.5 20v1M280.5 27v1M281.5 1v1M281.5 11v1M281.5 16v2M281.5 19v2M281.5 26v1M281.5 29v2M282.5 6v2M282.5 10v1M284.5 10v1M284.5 12v4M284.5 18v2M284.5 21v2M284.5 25v2M284.5 29v1M285.5 2v2M285.5 7v1M286.5 1v1M286.5 9v1M286.5 15v2M286.5 23v1M286.5 25v1M286.5 27v1M286.5 30v1M287.5 2v1M288.5 11v1M288.5 18v1M288.5 21v1M288.5 28v1M288.5 30v1M289.5 2v1M289.5 6v1M289.5 9v1M289.5 14v2M289.5 17v1M289.5 25v1M289.5 28v1M290.5 2v1M290.5 11v2M290.5 14v1M290.5 20v2M290.5 25v2M290.5 30v1M292.5 2v1M292.5 10v1M292.5 21v1M293.5 0v1M293.5 2v1M293.5 14v1M293.5 16v1M293.5 20v1M294.5 3v2M294.5 7v1M294.5 9v1M294.5 12v1M295.5 0v1M295.5 3v1M295.5 5v4M295.5 11v1M295.5 23v1M296.5 3v1M296.5 7v1M296.5 14v1M299.5 8v1M299.5 14v1M299.5 17v1M300.5 4v1M300.5 8v1M300.5 17v2M300.5 21v3M300.5 25v2M300.5 28v2M301.5 2v1M302.5 7v2M304.5 7v1M305.5 0v1M305.5 3v1M305.5 6v2M305.5 12v1M305.5 14v1M305.5 16v1M305.5 24v1M306.5 1v1M306.5 3v1M306.5 6v1M306.5 9v1M306.5 16v1M306.5 20v2M306.5 25v1M306.5 30v1M307.5 0v1M307.5 3v1M307.5 20v1M307.5 25v1M307.5 27v1M307.5 29v1M308.5 4v2M308.5 9v1M308.5 11v1M308.5 15v3M308.5 23v1M309.5 1v1M309.5 8v1M309.5 10v1M310.5 0v1M311.5 5v1M311.5 19v1M311.5 21v1M311.5 25v1M312.5 0v2M312.5 10v1M312.5 12v1M312.5 17v1M313.5 5v1M313.5 14v2M313.5 17v1M313.5 21v1M314.5 16v1M314.5 18v1M316.5 3v1M316.5 5v1M316.5 13v1M316.5 21v3M316.5 28v2M317.5 2v1M317.5 5v1M317.5 8v2M317.5 16v1M317.5 18v2M317.5 23v1M317.5 29v1M318.5 5v1M318.5 7v2M318.5 12v1M318.5 14v1M318.5 16v1M318.5 19v1M318.5 21v1M318.5 25v1M318.5 28v1M319.5 2v2M319.5 5v2M319.5 8v2M319.5 13v2M319.5 16v1M319.5 19v1M319.5 21v2M319.5 27v2M320.5 2v1M320.5 13v1M320.5 25v1M320.5 29v2M323.5 6v1M323.5 8v1M323.5 12v1M323.5 17v1M323.5 23v1M323.5 28v1M328.5 5v1M328.5 17v1M328.5 24v1M328.5 29v1M329.5 8v1M329.5 11v2M329.5 14v1M329.5 17v1M329.5 24v1M329.5 26v1M330.5 3v1M330.5 11v1M330.5 23v1M330.5 25v1M330.5 28v1M383.5 0v1M386.5 0v2M386.5 5v2M386.5 8v2M390.5 2v1M390.5 4v1M392.5 4v1M392.5 10v1M394.5 1v1M396.5 2v1M397.5 10v1"/>
<path stroke="#ffffff" d="M23.5 15v1M23.5 24v1M28.5 0v1M28.5 7v1M30.5 2v1M30.5 11v2M30.5 19v2M30.5 25v1M30.5 28v1M31.5 0v1M31.5 3v1M31.5 8v1M31.5 17v1M31.5 22v3M31.5 26v2M32.5 2v1M32.5 5v1M32.5 8v1M32.5 11v1M32.5 13v1M32.5 18v1M32.5 24v3M32.5 30v1M33.5 6v1M33.5 12v1M33.5 16v1M33.5 20v1M33.5 25v1M33.5 28v2M34.5 0v3M34.5 5v1M34.5 7v1M34.5 10v1M34.5 12v1M34.5 14v1M34.5 19v1M34.5 22v1M34.5 24v1M34.5 29v1M35.5 2v1M35.5 4v2M35.5 8v2M35.5 11v1M35.5 15v1M35.5 18v1M35.5 24v1M35.5 27v1M35.5 30v1M37.5 0v1M37.5 11v1M38.5 1v1M38.5 4v1M38.5 8v2M38.5 12v2M38.5 24v1M38.5 26v1M39.5 6v1M39.5 28v1M40.5 3v1M40.5 5v1M40.5 8v1M40.5 15v2M40.5 18v1M40.5 21v2M40.5 24v1M40.5 29v1M41.5 17v1M41.5 23v1M41.5 25v1M41.5 29v1M42.5 3v1M42.5 6v1M42.5 18v1M42.5 27v1M43.5 6v1M43.5 9v1M43.5 11v2M43.5 14v1M43.5 17v2M43.5 23v1M43.5 28v1M43.5 30v1M44.5 18v1M44.5 23v1M44.5 25v3M44.5 29v2M45.5 11v1M45.5 13v1M45.5 15v3M45.5 22v1M45.5 26v1M45.5 28v1M46.5 11v1M46.5 18v1M48.5 17v1M48.5 23v1M49.5 12v2M49.5 17v1M49.5 21v1M49.5 25v1M49.5 28v2M50.5 20v1M51.5 13v1M51.5 16v1M51.5 27v1M52.5 15v1M52.5 20v1M52.5 24v1M53.5 16v1M53.5 22v1M53.5 27v2M54.5 9v1M54.5 11v1M54.5 14v1M54.5 22v3M54.5 26v1M57.5 12v1M57.5 15v2M57.5 19v1M57.5 21v2M57.5 24v1M57.5 26v2M57.5 30v1M58.5 11v2M58.5 18v2M58.5 24v1M59.5 22v1M59.5 28v1M60.5 0v1M60.5 10v1M69.5 10v1M69.5 12v1M69.5 15v1M69.5 19v1M72.5 1v1M72.5 4v1M74.5 8v3M74.5 19v1M74.5 26v1M74.5 28v1M79.5 18v1M81.5 13v1M98.5 17v1M99.5 16v1M99.5 18v1M100.5 24v1M101.5 14v1M101.5 24v3M101.5 30v1M102.5 22v1M102.5 25v1M102.5 30v1M103.5 14v1M103.5 17v1M103.5 22v1M103.5 25v1M103.5 27v2M104.5 15v1M104.5 21v1M104.5 25v1M104.5 28v1M105.5 14v2M105.5 27v2M106.5 11v1M106.5 13v2M106.5 18v4M106.5 30v1M107.5 1v2M107.5 7v1M107.5 12v2M107.5 19v1M107.5 21v1M108.5 8v1M108.5 10v2M108.5 13v1M108.5 19v2M108.5 24v1M108.5 26v3M108.5 30v1M109.5 11v1M110.5 11v1M110.5 17v1M110.5 23v1M110.5 25v2M110.5 28v1M110.5 30v1M111.5 13v1M111.5 18v1M111.5 21v6M111.5 28v1M112.5 5v1M112.5 12v3M112.5 16v1M112.5 26v1M112.5 29v1M114.5 2v2M114.5 7v2M114.5 11v1M114.5 13v1M114.5 16v1M114.5 22v1M114.5 26v2M115.5 3v1M115.5 11v1M115.5 14v2M115.5 17v1M115.5 22v2M115.5 27v1M115.5 29v1M116.5 18v1M117.5 16v2M118.5 12v1M118.5 14v1M118.5 18v1M118.5 20v1M118.5 23v2M118.5 26v1M118.5 28v3M119.5 21v1M119.5 24v4M119.5 29v1M120.5 4v1M120.5 9v1M120.5 19v1M121.5 25v1M122.5 2v1M122.5 4v1M122.5 7v1M123.5 14v1M123.5 18v1M123.5 21v1M124.5 12v1M124.5 16v1M124.5 19v2M124.5 23v2M124.5 30v1M125.5 13v2M125.5 16v2M125.5 22v1M125.5 29v2M126.5 15v3M126.5 22v1M126.5 26v1M127.5 20v1M128.5 12v1M128.5 15v2M128.5 20v2M128.5 27v1M128.5 30v1M129.5 14v1M129.5 20v3M129.5 26v1M129.5 29v1M130.5 13v1M130.5 18v1M131.5 27v1M132.5 0v2M132.5 9v1M132.5 13v1M132.5 15v1M132.5 25v2M133.5 1v1M133.5 4v1M133.5 6v1M133.5 15v1M133.5 21v1M133.5 25v1M133.5 28v1M134.5 23v1M135.5 0v1M135.5 4v2M135.5 10v2M135.5 16v1M135.5 19v1M135.5 21v1M135.5 24v2M136.5 4v1M136.5 10v1M136.5 12v1M136.5 14v2M136.5 22v1M136.5 24v1M136.5 27v1M136.5 30v1M137.5 0v1M137.5 2v2M137.5 10v1M137.5 14v1M137.5 21v2M137.5 24v1M137.5 27v1M137.5 29v1M138.5 0v1M138.5 9v1M138.5 11v1M138.5 13v1M138.5 24v1M138.5 26v1M138.5 28v1M139.5 13v1M139.5 21v1M139.5 27v2M140.5 2v2M140.5 9v3M140.5 17v1M141.5 2v1M142.5 12v2M143.5 1v1M143.5 3v1M143.5 7v1M143.5 9v2M143.5 17v1M143.5 20v1M143.5 24v2M149.5 23v1M150.5 21v1M151.5 22v1M157.5 14v1M161.5 20v1M162.5 21v1M167.5 14v1"/>
<path stroke="#fff9f9" d="M28.5 1v1M28.5 4v1M28.5 10v1M30.5 0v2M30.5 3v1M30.5 7v1M30.5 26v1M30.5 30v1M31.5 5v2M31.5 13v2M31.5 19v1M31.5 28v3M32.5 0v2M32.5 9v1M32.5 12v1M33.5 3v3M33.5 7v2M33.5 11v1M33.5 14v2M33.5 17v1M33.5 21v4M34.5 4v1M34.5 8v1M34.5 18v1M35.5 13v1M35.5 23v1M35.5 29v1M36.5 0v1M37.5 1v1M37.5 9v1M37.5 12v1M38.5 0v1M38.5 6v2M38.5 22v1M39.5 2v1M39.5 8v1M39.5 11v2M39.5 18v1M39.5 20v1M39.5 29v1M40.5 1v1M40.5 4v1M40.5 6v2M40.5 23v1M40.5 25v1M41.5 5v1M41.5 7v1M41.5 14v1M41.5 27v1M41.5 30v1M42.5 1v1M42.5 8v1M42.5 10v2M43.5 1v1M43.5 3v1M43.5 8v1M43.5 10v1M43.5 16v1M43.5 19v2M43.5 27v1M44.5 17v1M44.5 19v1M44.5 22v1M44.5 28v1M45.5 12v1M45.5 14v1M45.5 19v1M45.5 24v1M45.5 27v1M48.5 11v1M48.5 13v1M48.5 22v1M48.5 24v3M48.5 30v1M49.5 15v1M49.5 18v2M49.5 23v1M49.5 27v1M50.5 15v3M50.5 22v1M50.5 24v1M50.5 27v2M51.5 11v1M51.5 17v1M51.5 20v1M51.5 25v1M51.5 29v1M53.5 13v1M53.5 15v1M54.5 12v2M54.5 16v1M54.5 19v2M54.5 27v1M54.5 30v1M57.5 20v1M57.5 25v1M57.5 28v1M58.5 15v1M60.5 29v1M64.5 12v1M98.5 14v1M98.5 20v1M99.5 11v1M99.5 15v1M99.5 17v1M99.5 22v4M99.5 29v2M100.5 21v1M101.5 11v1M101.5 17v1M101.5 21v2M101.5 27v3M102.5 13v3M102.5 17v1M103.5 13v1M103.5 23v2M104.5 6v1M104.5 11v1M104.5 13v1M104.5 22v2M104.5 27v1M105.5 12v2M105.5 16v1M105.5 21v1M106.5 22v1M106.5 24v2M107.5 3v1M107.5 9v2M107.5 18v1M108.5 1v2M108.5 4v3M109.5 19v1M109.5 22v1M109.5 26v1M109.5 29v1M110.5 12v1M110.5 14v1M110.5 21v2M111.5 0v1M111.5 9v1M111.5 12v1M111.5 19v1M111.5 27v1M112.5 1v1M112.5 7v2M112.5 15v1M112.5 23v2M112.5 28v1M113.5 12v1M114.5 10v1M114.5 12v1M114.5 28v1M115.5 5v1M115.5 13v1M115.5 24v3M116.5 13v2M116.5 22v1M116.5 29v2M117.5 14v1M117.5 19v1M117.5 21v1M117.5 26v1M117.5 30v1M118.5 0v1M118.5 7v2M118.5 15v1M118.5 21v2M118.5 27v1M119.5 7v1M119.5 12v1M119.5 15v1M119.5 19v1M119.5 22v1M119.5 30v1M120.5 0v2M120.5 10v1M121.5 21v1M122.5 5v1M123.5 13v1M123.5 15v2M123.5 20v1M123.5 22v2M123.5 29v1M124.5 11v1M124.5 17v1M124.5 25v3M125.5 25v3M126.5 11v1M126.5 14v1M126.5 18v3M126.5 27v4M127.5 21v1M128.5 11v1M128.5 24v1M129.5 18v1M129.5 24v1M129.5 28v1M131.5 11v1M131.5 13v1M131.5 20v2M131.5 29v1M132.5 11v2M132.5 14v1M132.5 19v2M132.5 28v1M133.5 0v1M133.5 5v1M133.5 9v1M133.5 13v2M133.5 17v2M133.5 20v1M133.5 22v3M133.5 26v2M134.5 28v1M135.5 13v2M135.5 17v1M135.5 23v1M135.5 29v1M136.5 17v1M136.5 19v1M136.5 21v1M136.5 25v1M136.5 28v1M137.5 4v1M137.5 8v1M137.5 19v1M137.5 28v1M138.5 10v1M138.5 12v1M138.5 15v1M138.5 18v1M139.5 11v2M139.5 15v1M140.5 0v2M140.5 4v2M140.5 13v2M140.5 21v1M140.5 25v2M140.5 29v1M141.5 1v1M141.5 3v1M141.5 19v1M142.5 11v1M143.5 5v1M143.5 12v2M143.5 16v1M143.5 22v1M146.5 20v1M146.5 25v2M147.5 13v1M147.5 23v1M147.5 28v1M149.5 20v1M150.5 12v1M150.5 14v1M150.5 23v1M150.5 28v1M151.5 17v1M151.5 27v2M155.5 20v1M157.5 16v1M157.5 21v1M157.5 26v1M157.5 28v2M158.5 16v1M158.5 25v1M161.5 11v1M161.5 16v1M161.5 22v1M162.5 20v1M162.5 22v1M164.5 19v1M164.5 24v1M167.5 15v1M167.5 18v1M167.5 24v2M167.5 29v1M169.5 29v1M171.5 20v1M172.5 29v1"/>
<path stroke="#ffecec" d="M30.5 4v2M31.5 1v1M31.5 15v1M32.5 10v1M33.5 1v2M33.5 10v1M34.5 6v1M35.5 1v1M39.5 0v1M39.5 7v1M39.5 13v1M39.5 15v1M39.5 22v1M39.5 25v1M39.5 30v1M41.5 4v1M41.5 11v2M41.5 16v1M41.5 24v1M41.5 26v1M41.5 28v1M44.5 13v1M45.5 25v1M48.5 19v2M48.5 29v1M50.5 14v1M50.5 18v1M50.5 26v1M50.5 30v1M51.5 26v1M53.5 12v1M53.5 18v1M54.5 15v1M54.5 18v1M54.5 29v1M60.5 14v2M60.5 17v1M60.5 20v1M60.5 23v1M98.5 15v1M98.5 23v1M98.5 26v2M100.5 11v1M100.5 17v1M100.5 19v1M100.5 22v2M100.5 25v1M100.5 28v1M100.5 30v1M101.5 13v1M102.5 1v1M102.5 5v1M103.5 5v1M103.5 11v1M104.5 2v2M105.5 23v1M106.5 2v2M106.5 28v1M109.5 1v1M109.5 3v1M109.5 7v1M109.5 10v1M109.5 23v1M110.5 3v2M110.5 8v3M111.5 8v1M112.5 0v1M112.5 4v1M112.5 10v1M113.5 2v1M113.5 4v2M113.5 16v1M113.5 19v1M113.5 25v1M113.5 29v1M115.5 6v1M115.5 12v1M116.5 8v1M116.5 12v1M116.5 15v1M116.5 20v1M117.5 6v1M117.5 8v1M117.5 13v1M117.5 15v1M117.5 18v1M117.5 24v1M117.5 27v2M118.5 1v1M118.5 4v2M118.5 10v1M119.5 5v2M119.5 18v1M119.5 20v1M121.5 19v2M123.5 3v2M123.5 7v1M123.5 25v1M125.5 12v1M126.5 7v1M127.5 14v1M127.5 19v1M127.5 25v2M128.5 14v1M128.5 19v1M128.5 22v1M129.5 3v1M129.5 7v1M129.5 19v1M130.5 2v1M130.5 7v1M131.5 12v1M131.5 14v3M131.5 18v1M131.5 23v1M137.5 12v1M137.5 15v1M137.5 25v1M140.5 16v1M140.5 18v1M140.5 20v1M140.5 22v3M141.5 0v1M141.5 4v1M141.5 9v2M141.5 16v1M141.5 18v1M141.5 22v4M143.5 15v1M143.5 23v1M143.5 26v3M144.5 16v1M144.5 25v1M145.5 19v2M145.5 25v1M146.5 12v1M146.5 17v2M146.5 24v1M147.5 7v1M147.5 17v2M147.5 30v1M148.5 14v1M148.5 19v1M148.5 30v1M149.5 16v2M149.5 21v1M149.5 24v1M149.5 29v1M150.5 13v1M150.5 17v3M150.5 25v1M150.5 27v1M150.5 29v2M151.5 11v3M151.5 23v3M151.5 29v1M152.5 20v1M153.5 15v1M153.5 27v1M153.5 30v1M154.5 14v1M154.5 16v1M154.5 22v2M154.5 27v1M155.5 24v1M155.5 28v3M156.5 16v1M157.5 15v1M157.5 19v2M157.5 22v1M157.5 25v1M158.5 11v1M158.5 14v2M158.5 17v1M158.5 21v1M158.5 26v2M159.5 16v1M159.5 20v1M159.5 26v1M160.5 17v1M160.5 23v1M160.5 30v1M161.5 17v1M161.5 19v1M161.5 25v1M162.5 13v1M162.5 15v1M162.5 18v1M162.5 23v3M163.5 14v1M163.5 16v1M163.5 20v1M163.5 23v1M164.5 14v1M164.5 18v1M164.5 26v1M164.5 28v1M167.5 3v1M167.5 17v1M167.5 22v1M167.5 26v1M168.5 18v1M168.5 23v1M169.5 14v1M169.5 16v1M169.5 19v1M169.5 21v1M169.5 23v1M169.5 27v1M170.5 11v1M170.5 15v1M170.5 22v1M170.5 26v3M171.5 16v1M171.5 27v1M171.5 30v1M172.5 17v1M172.5 23v3M172.5 28v1"/>
<path stroke="#fff2f2" d="M30.5 6v1M30.5 8v1M30.5 13v1M31.5 2v1M31.5 4v1M31.5 7v1M31.5 9v2M31.5 12v1M31.5 21v1M31.5 25v1M32.5 4v1M33.5 9v1M33.5 18v1M33.5 26v1M33.5 30v1M34.5 9v1M35.5 0v1M38.5 10v1M39.5 1v1M39.5 5v1M39.5 14v1M39.5 16v1M39.5 19v1M39.5 21v1M39.5 24v1M39.5 26v2M40.5 0v1M40.5 9v1M40.5 26v2M41.5 3v1M41.5 15v1M41.5 18v5M42.5 0v1M42.5 4v2M43.5 0v1M43.5 4v1M43.5 15v1M44.5 12v1M44.5 16v1M45.5 18v1M48.5 12v1M48.5 14v3M48.5 18v1M48.5 21v1M48.5 27v2M49.5 26v1M50.5 11v3M50.5 19v1M50.5 23v1M50.5 25v1M51.5 14v2M51.5 21v4M51.5 30v1M54.5 28v1M57.5 13v2M60.5 13v1M60.5 16v1M60.5 22v1M60.5 25v1M60.5 27v2M60.5 30v1M98.5 11v1M98.5 16v1M98.5 21v1M98.5 25v1M98.5 29v2M99.5 12v2M99.5 19v1M99.5 26v3M100.5 13v2M100.5 16v1M100.5 18v1M100.5 20v1M100.5 27v1M100.5 29v1M101.5 12v1M101.5 15v1M101.5 19v1M102.5 2v1M102.5 12v1M102.5 18v2M102.5 24v1M103.5 15v1M103.5 18v2M103.5 26v1M104.5 7v1M105.5 11v1M105.5 17v3M105.5 22v1M105.5 24v1M105.5 26v1M105.5 29v2M106.5 7v1M106.5 15v1M106.5 23v1M106.5 26v1M107.5 0v1M107.5 4v3M107.5 8v1M108.5 0v1M108.5 9v1M109.5 5v1M109.5 8v1M109.5 12v7M109.5 24v1M109.5 27v2M109.5 30v1M110.5 1v2M110.5 7v1M110.5 13v1M110.5 15v2M110.5 18v1M110.5 24v1M110.5 29v1M111.5 4v4M111.5 11v1M111.5 15v1M112.5 2v2M112.5 6v1M112.5 9v1M112.5 19v1M113.5 17v1M113.5 20v2M113.5 23v1M113.5 30v1M114.5 0v2M114.5 5v2M114.5 9v1M114.5 24v1M115.5 2v1M115.5 7v2M115.5 18v1M115.5 28v1M116.5 11v1M116.5 16v2M116.5 21v1M116.5 23v6M117.5 2v1M117.5 5v1M117.5 7v1M117.5 11v1M117.5 20v1M117.5 22v2M117.5 25v1M117.5 29v1M118.5 3v1M118.5 6v1M118.5 11v1M118.5 19v1M119.5 2v3M119.5 8v2M119.5 13v2M121.5 13v1M121.5 17v1M122.5 9v1M123.5 5v1M123.5 8v1M123.5 11v2M123.5 19v1M123.5 24v1M123.5 26v2M123.5 30v1M124.5 14v2M124.5 18v1M124.5 22v1M125.5 11v1M125.5 15v1M125.5 18v1M125.5 24v1M125.5 28v1M126.5 12v2M126.5 23v3M127.5 22v1M128.5 13v1M128.5 18v1M128.5 23v1M128.5 25v2M128.5 28v2M129.5 11v1M129.5 13v1M129.5 15v1M129.5 17v1M129.5 27v1M130.5 3v1M130.5 5v2M130.5 8v2M131.5 17v1M131.5 19v1M131.5 22v1M131.5 26v1M133.5 10v3M133.5 16v1M133.5 19v1M133.5 29v2M135.5 12v1M137.5 11v1M137.5 13v1M137.5 18v1M137.5 23v1M137.5 30v1M138.5 21v1M140.5 8v1M140.5 15v1M140.5 27v1M140.5 30v1M141.5 8v1M141.5 11v1M141.5 13v2M141.5 17v1M141.5 20v1M141.5 26v1M141.5 30v1M143.5 11v1M143.5 14v1M143.5 19v1M143.5 21v1M143.5 29v2M146.5 11v1M146.5 14v2M146.5 19v1M146.5 21v3M146.5 27v4M147.5 11v1M147.5 16v1M147.5 20v2M147.5 25v2M147.5 29v1M148.5 17v1M149.5 13v1M149.5 19v1M149.5 22v1M149.5 25v3M150.5 11v1M150.5 15v2M150.5 20v1M150.5 22v1M150.5 24v1M150.5 26v1M151.5 2v1M151.5 14v1M151.5 16v1M151.5 18v1M151.5 20v2M151.5 26v1M151.5 30v1M153.5 21v1M154.5 20v1M154.5 29v1M155.5 21v1M157.5 12v2M157.5 17v1M157.5 23v2M157.5 27v1M157.5 30v1M158.5 20v1M158.5 22v2M158.5 28v2M160.5 29v1M161.5 15v1M161.5 21v1M161.5 26v1M161.5 29v1M162.5 12v1M162.5 14v1M162.5 16v2M162.5 19v1M162.5 28v3M164.5 17v1M164.5 21v1M164.5 29v1M167.5 0v1M167.5 12v2M167.5 16v1M167.5 19v3M167.5 28v1M167.5 30v1M169.5 17v1M169.5 20v1M169.5 22v1M169.5 25v1M169.5 30v1M170.5 16v2M170.5 20v1M170.5 24v1M170.5 29v1M171.5 22v1M171.5 29v1"/>
<path stroke="#ffe6e6" d="M30.5 9v2M39.5 3v2M39.5 10v1M41.5 0v3M41.5 6v1M41.5 8v1M41.5 10v1M41.5 13v1M51.5 12v1M51.5 18v2M51.5 28v1M60.5 19v1M60.5 21v1M60.5 24v1M60.5 26v1M98.5 13v1M98.5 18v2M98.5 22v1M98.5 24v1M99.5 4v1M99.5 6v1M100.5 12v1M100.5 15v1M100.5 26v1M101.5 7v1M102.5 0v1M102.5 3v2M102.5 6v3M102.5 10v1M103.5 3v1M103.5 12v1M104.5 8v1M105.5 25v1M106.5 5v1M109.5 4v1M109.5 6v1M109.5 9v1M110.5 5v2M111.5 1v3M111.5 10v1M113.5 0v1M113.5 7v2M113.5 13v2M113.5 27v2M114.5 4v1M115.5 0v1M115.5 4v1M115.5 9v2M116.5 5v1M116.5 19v1M117.5 3v1M117.5 10v1M117.5 12v1M118.5 2v1M119.5 0v2M121.5 12v1M121.5 16v1M121.5 22v3M121.5 26v1M121.5 29v2M123.5 2v1M123.5 6v1M123.5 9v1M123.5 28v1M124.5 1v1M124.5 13v1M124.5 28v1M125.5 2v1M125.5 5v1M127.5 11v2M127.5 15v3M127.5 23v1M127.5 27v1M127.5 30v1M129.5 2v1M129.5 4v1M129.5 12v1M130.5 0v2M130.5 4v1M130.5 10v1M131.5 24v2M131.5 28v1M131.5 30v1M140.5 12v1M140.5 19v1M140.5 28v1M141.5 12v1M141.5 15v1M141.5 21v1M141.5 27v1M141.5 29v1M143.5 18v1M144.5 13v2M144.5 17v1M144.5 20v1M144.5 29v2M145.5 11v1M145.5 13v1M145.5 15v1M145.5 17v1M145.5 22v1M146.5 2v2M146.5 7v1M146.5 13v1M147.5 8v1M147.5 15v1M147.5 27v1M148.5 11v1M148.5 21v1M149.5 11v2M149.5 14v2M149.5 30v1M150.5 8v1M151.5 5v1M151.5 7v1M152.5 16v2M152.5 29v2M153.5 17v1M153.5 19v2M153.5 23v1M153.5 25v2M153.5 29v1M154.5 17v1M154.5 21v1M154.5 25v2M154.5 30v1M155.5 11v2M155.5 14v6M155.5 22v2M155.5 25v3M156.5 12v1M156.5 22v2M156.5 29v1M157.5 5v3M157.5 18v1M158.5 3v1M158.5 12v2M158.5 18v2M158.5 30v1M159.5 11v1M159.5 17v1M159.5 25v1M160.5 13v2M160.5 16v1M160.5 20v3M160.5 27v1M161.5 7v1M161.5 12v3M161.5 18v1M161.5 24v1M161.5 27v1M161.5 30v1M162.5 5v1M162.5 9v1M162.5 11v1M163.5 12v1M163.5 17v1M163.5 19v1M163.5 26v4M164.5 12v1M164.5 16v1M164.5 20v1M164.5 25v1M164.5 27v1M165.5 14v1M165.5 18v1M165.5 21v1M165.5 30v1M166.5 27v1M166.5 29v2M167.5 2v1M167.5 7v1M167.5 11v1M167.5 23v1M167.5 27v1M168.5 14v1M168.5 16v1M168.5 20v1M168.5 26v1M169.5 11v2M169.5 15v1M169.5 18v1M169.5 28v1M170.5 2v1M170.5 12v2M170.5 18v1M170.5 23v1M170.5 25v1M170.5 30v1M171.5 12v1M171.5 14v1M171.5 17v1M171.5 24v1M172.5 12v1M172.5 14v1M172.5 18v5M175.5 27v1M190.5 14v1M190.5 20v1"/>
<path stroke="#ffdfdf" d="M33.5 0v1M39.5 9v1M41.5 9v1M60.5 11v2M60.5 18v1M98.5 6v1M98.5 28v1M99.5 1v3M99.5 5v1M99.5 7v3M101.5 0v1M101.5 2v5M101.5 8v1M101.5 10v1M102.5 9v1M103.5 2v1M103.5 4v1M103.5 6v3M103.5 10v1M104.5 4v1M104.5 9v1M105.5 2v1M105.5 7v1M106.5 6v1M106.5 8v3M109.5 0v1M109.5 2v1M110.5 0v1M113.5 3v1M113.5 6v1M113.5 9v1M113.5 11v1M113.5 15v1M113.5 18v1M113.5 22v1M113.5 26v1M115.5 1v1M116.5 1v1M116.5 6v2M116.5 9v1M117.5 0v2M117.5 4v1M117.5 9v1M118.5 9v1M119.5 10v1M121.5 2v1M121.5 5v1M121.5 7v2M121.5 11v1M121.5 18v1M121.5 28v1M123.5 0v2M124.5 8v2M125.5 3v1M125.5 6v2M125.5 9v1M126.5 3v1M126.5 6v1M126.5 10v1M127.5 18v1M127.5 28v2M128.5 3v1M128.5 5v5M129.5 0v1M141.5 28v1M144.5 12v1M144.5 19v1M144.5 21v3M144.5 27v2M145.5 14v1M145.5 16v1M145.5 18v1M145.5 21v1M145.5 24v1M145.5 26v1M145.5 30v1M146.5 4v3M146.5 8v1M146.5 10v1M147.5 5v2M147.5 12v1M147.5 19v1M147.5 22v1M147.5 24v1M148.5 15v2M148.5 18v1M148.5 20v1M148.5 23v1M148.5 27v3M149.5 1v2M149.5 5v3M149.5 18v1M149.5 28v1M150.5 0v1M150.5 3v1M150.5 6v2M150.5 10v1M151.5 3v1M151.5 6v1M151.5 9v1M151.5 15v1M151.5 19v1M152.5 14v1M152.5 18v2M152.5 21v1M152.5 23v1M152.5 25v1M153.5 5v1M153.5 14v1M153.5 22v1M153.5 24v1M154.5 8v1M154.5 11v3M154.5 15v1M154.5 18v1M154.5 24v1M155.5 13v1M156.5 11v1M156.5 13v2M156.5 26v3M156.5 30v1M157.5 2v1M158.5 7v1M158.5 9v1M159.5 14v1M159.5 28v1M160.5 12v1M160.5 15v1M160.5 18v1M160.5 24v3M160.5 28v1M161.5 3v1M161.5 8v1M161.5 23v1M161.5 28v1M162.5 7v1M162.5 27v1M163.5 13v1M163.5 15v1M163.5 25v1M163.5 30v1M164.5 5v1M164.5 7v2M164.5 11v1M164.5 13v1M164.5 15v1M164.5 22v2M164.5 30v1M165.5 15v2M165.5 20v1M165.5 22v3M166.5 5v1M166.5 12v2M166.5 15v1M166.5 22v2M167.5 6v1M167.5 8v3M168.5 11v1M168.5 21v1M168.5 25v1M168.5 27v1M168.5 29v1M169.5 1v4M169.5 6v2M169.5 26v1M170.5 7v1M170.5 14v1M170.5 19v1M170.5 21v1M171.5 13v1M171.5 19v1M171.5 21v1M171.5 26v1M171.5 28v1M172.5 8v1M172.5 15v2M172.5 27v1M175.5 20v1M175.5 22v1M175.5 29v1M188.5 21v1M190.5 16v1M190.5 23v1"/>
<path stroke="#ffd9d9" d="M98.5 0v1M98.5 12v1M100.5 3v1M101.5 1v1M103.5 0v1M104.5 0v2M104.5 5v1M104.5 10v1M105.5 0v2M105.5 3v1M105.5 6v1M105.5 10v1M106.5 0v1M106.5 4v1M113.5 10v1M113.5 24v1M116.5 0v1M116.5 2v3M121.5 3v2M121.5 10v1M121.5 14v2M121.5 27v1M123.5 10v1M124.5 0v1M124.5 2v2M124.5 5v2M124.5 10v1M125.5 0v2M125.5 4v1M125.5 8v1M125.5 10v1M126.5 0v1M126.5 2v1M126.5 4v1M126.5 8v2M127.5 13v1M127.5 24v1M128.5 1v1M128.5 4v1M128.5 10v1M129.5 5v2M129.5 8v1M129.5 10v1M131.5 2v2M131.5 5v1M144.5 15v1M144.5 18v1M144.5 24v1M144.5 26v1M145.5 12v1M145.5 23v1M145.5 27v3M147.5 1v2M147.5 4v1M148.5 13v1M148.5 22v1M148.5 24v3M149.5 3v1M149.5 8v2M150.5 1v2M150.5 5v1M150.5 9v1M151.5 1v1M151.5 4v1M152.5 7v1M152.5 11v1M152.5 13v1M152.5 15v1M152.5 24v1M152.5 26v2M153.5 6v1M153.5 11v3M153.5 16v1M153.5 18v1M153.5 28v1M154.5 5v1M154.5 7v1M154.5 19v1M154.5 28v1M155.5 3v1M155.5 10v1M156.5 15v1M156.5 19v1M156.5 21v1M156.5 24v1M157.5 1v1M157.5 3v1M157.5 8v1M157.5 10v2M158.5 1v2M158.5 6v1M158.5 10v1M158.5 24v1M159.5 7v1M159.5 18v2M159.5 21v4M159.5 27v1M159.5 30v1M160.5 19v1M161.5 2v1M161.5 4v1M161.5 6v1M161.5 9v2M162.5 0v1M162.5 2v3M162.5 8v1M162.5 10v1M163.5 6v1M163.5 11v1M163.5 18v1M163.5 21v2M163.5 24v1M164.5 1v1M164.5 6v1M165.5 3v1M165.5 12v2M165.5 17v1M165.5 19v1M165.5 26v1M165.5 28v2M166.5 19v1M166.5 24v2M167.5 4v2M168.5 3v1M168.5 13v1M168.5 15v1M168.5 19v1M168.5 22v1M168.5 24v1M168.5 28v1M168.5 30v1M169.5 0v1M169.5 13v1M169.5 24v1M170.5 6v1M170.5 8v1M171.5 11v1M171.5 15v1M171.5 18v1M171.5 23v1M171.5 25v1M172.5 2v2M172.5 9v1M172.5 11v1M172.5 13v1M174.5 20v1M175.5 15v1M175.5 17v1M175.5 21v1M175.5 24v1M175.5 26v1M175.5 30v1M177.5 26v1M180.5 22v1M183.5 14v1M183.5 21v1M183.5 25v1M183.5 27v1M184.5 20v1M190.5 13v1M190.5 15v1M190.5 21v1M190.5 26v2M190.5 30v1"/>
<path stroke="#ffd2d2" d="M98.5 1v1M98.5 3v3M98.5 7v2M98.5 10v1M100.5 1v1M100.5 4v2M100.5 9v1M103.5 1v1M103.5 9v1M105.5 4v1M105.5 8v2M106.5 1v1M116.5 10v1M121.5 0v1M121.5 9v1M124.5 4v1M124.5 7v1M126.5 1v1M126.5 5v1M127.5 3v1M128.5 0v1M128.5 2v1M129.5 1v1M129.5 9v1M131.5 6v2M144.5 3v1M144.5 11v1M145.5 7v2M147.5 3v1M147.5 9v2M147.5 14v1M148.5 2v2M148.5 9v1M148.5 12v1M149.5 10v1M150.5 4v1M151.5 0v1M151.5 8v1M152.5 5v1M152.5 12v1M152.5 22v1M152.5 28v1M153.5 7v2M154.5 0v1M154.5 2v1M155.5 4v3M156.5 4v1M156.5 7v2M156.5 17v2M156.5 20v1M156.5 25v1M157.5 9v1M158.5 0v1M158.5 4v1M159.5 8v2M159.5 13v1M159.5 15v1M159.5 29v1M160.5 0v1M160.5 2v1M160.5 6v2M160.5 10v2M161.5 1v1M161.5 5v1M162.5 1v1M162.5 6v1M163.5 3v1M163.5 8v1M164.5 0v1M164.5 2v1M164.5 4v1M164.5 10v1M165.5 11v1M165.5 27v1M166.5 0v1M166.5 14v1M166.5 16v1M166.5 18v1M166.5 20v2M166.5 26v1M166.5 28v1M167.5 1v1M168.5 6v2M168.5 17v1M169.5 5v1M169.5 10v1M170.5 0v1M170.5 3v2M170.5 9v2M171.5 1v1M171.5 6v1M172.5 5v1M172.5 7v1M172.5 26v1M172.5 30v1M173.5 14v1M173.5 17v1M173.5 21v1M173.5 25v1M174.5 21v1M174.5 27v1M175.5 2v1M175.5 12v3M175.5 16v1M175.5 18v1M175.5 23v1M175.5 25v1M175.5 28v1M177.5 11v1M177.5 16v1M177.5 18v1M177.5 21v1M180.5 11v1M180.5 15v3M180.5 29v1M183.5 15v1M183.5 17v1M183.5 19v2M183.5 22v1M184.5 14v1M184.5 16v2M184.5 19v1M184.5 21v1M184.5 24v1M185.5 20v1M185.5 30v1M186.5 20v2M186.5 26v1M188.5 15v3M188.5 23v1M188.5 26v1M189.5 17v1M189.5 20v1M189.5 25v1M189.5 28v2M190.5 17v2M190.5 24v2M190.5 28v2"/>
<path stroke="#ffcccc" d="M98.5 2v1M99.5 0v1M99.5 10v1M100.5 2v1M100.5 6v3M101.5 9v1M105.5 5v1M113.5 1v1M127.5 2v1M127.5 5v4M127.5 10v1M131.5 0v1M131.5 8v3M144.5 0v1M144.5 2v1M144.5 5v2M145.5 0v1M145.5 2v1M145.5 5v2M146.5 1v1M146.5 9v1M147.5 0v1M148.5 8v1M149.5 0v1M149.5 4v1M151.5 10v1M152.5 2v2M152.5 6v1M152.5 9v2M153.5 1v1M153.5 3v1M153.5 10v1M154.5 3v1M155.5 0v1M155.5 2v1M155.5 7v1M155.5 9v1M156.5 2v2M156.5 10v1M157.5 0v1M157.5 4v1M158.5 5v1M158.5 8v1M159.5 1v1M159.5 6v1M159.5 12v1M160.5 3v1M160.5 9v1M163.5 0v1M163.5 5v1M163.5 7v1M163.5 9v1M164.5 3v1M164.5 9v1M165.5 4v1M165.5 8v1M165.5 25v1M166.5 7v1M166.5 11v1M166.5 17v1M168.5 1v2M168.5 4v2M168.5 9v2M168.5 12v1M169.5 8v2M170.5 1v1M171.5 2v1M171.5 4v2M171.5 7v2M172.5 1v1M172.5 4v1M173.5 18v1M173.5 22v2M173.5 29v1M174.5 14v1M174.5 17v1M174.5 19v1M174.5 25v2M174.5 30v1M175.5 3v1M175.5 8v1M175.5 11v1M175.5 19v1M176.5 7v1M176.5 13v2M176.5 21v3M176.5 25v1M176.5 27v2M177.5 8v1M177.5 20v1M177.5 25v1M177.5 28v1M177.5 30v1M178.5 17v1M179.5 25v1M179.5 30v1M180.5 12v1M180.5 14v1M180.5 20v2M180.5 25v1M180.5 27v1M180.5 30v1M181.5 17v1M182.5 13v1M182.5 16v1M182.5 18v1M182.5 22v1M182.5 26v1M182.5 30v1M183.5 2v1M183.5 11v2M183.5 23v1M183.5 28v3M184.5 23v1M184.5 25v2M185.5 2v1M185.5 16v2M185.5 26v1M186.5 7v1M186.5 16v4M186.5 23v3M186.5 27v2M188.5 4v1M188.5 14v1M188.5 22v1M188.5 25v1M188.5 28v1M189.5 12v1M189.5 16v1M189.5 18v2M189.5 21v1M189.5 27v1M189.5 30v1M190.5 2v2M190.5 11v2M190.5 19v1"/>
<path stroke="#ffc6c6" d="M98.5 9v1M100.5 0v1M121.5 1v1M121.5 6v1M127.5 0v1M127.5 4v1M127.5 9v1M131.5 4v1M144.5 4v1M144.5 7v1M144.5 9v2M145.5 1v1M145.5 3v2M146.5 0v1M148.5 1v1M148.5 5v1M148.5 7v1M152.5 1v1M152.5 4v1M152.5 8v1M153.5 0v1M153.5 2v1M153.5 4v1M153.5 9v1M154.5 1v1M154.5 4v1M154.5 6v1M154.5 9v1M155.5 1v1M155.5 8v1M156.5 1v1M159.5 3v1M159.5 5v1M160.5 1v1M160.5 4v2M161.5 0v1M163.5 1v2M163.5 10v1M165.5 0v1M166.5 3v2M166.5 6v1M168.5 0v1M168.5 8v1M170.5 5v1M171.5 9v1M172.5 6v1M172.5 10v1M173.5 2v1M173.5 8v1M173.5 12v2M173.5 19v2M173.5 24v1M173.5 26v1M173.5 30v1M174.5 5v1M174.5 11v1M174.5 13v1M174.5 15v2M174.5 18v1M174.5 22v1M174.5 28v1M175.5 1v1M175.5 5v3M175.5 9v2M176.5 17v4M176.5 26v1M176.5 29v2M177.5 5v1M177.5 14v1M177.5 17v1M177.5 22v2M177.5 29v1M178.5 16v1M178.5 20v1M178.5 25v1M178.5 29v1M179.5 17v1M179.5 20v4M179.5 28v2M180.5 3v1M180.5 13v1M180.5 19v1M180.5 23v2M180.5 26v1M181.5 12v1M181.5 15v1M181.5 20v2M181.5 27v1M181.5 30v1M182.5 11v1M182.5 20v2M182.5 29v1M183.5 7v2M183.5 18v1M183.5 26v1M184.5 6v1M184.5 11v1M184.5 22v1M184.5 30v1M185.5 12v1M185.5 14v1M185.5 18v2M185.5 29v1M186.5 4v2M186.5 13v2M187.5 11v1M187.5 17v1M187.5 21v2M187.5 25v1M187.5 28v1M187.5 30v1M188.5 2v1M188.5 6v1M188.5 11v1M188.5 13v1M188.5 19v1M188.5 29v2M189.5 6v1M189.5 14v2M189.5 22v2M189.5 26v1M190.5 0v1M190.5 6v2M190.5 10v1"/>
<path stroke="#ffbfbf" d="M100.5 10v1M127.5 1v1M131.5 1v1M144.5 8v1M145.5 9v2M148.5 0v1M148.5 6v1M148.5 10v1M152.5 0v1M154.5 10v1M156.5 5v2M156.5 9v1M159.5 0v1M159.5 2v1M159.5 4v1M160.5 8v1M165.5 2v1M165.5 5v3M165.5 9v2M166.5 1v2M166.5 8v1M166.5 10v1M171.5 3v1M172.5 0v1M173.5 7v1M173.5 11v1M173.5 15v2M173.5 27v2M174.5 6v1M174.5 12v1M174.5 23v2M174.5 29v1M175.5 0v1M175.5 4v1M176.5 5v1M176.5 8v1M176.5 12v1M176.5 15v1M176.5 24v1M177.5 6v2M177.5 10v1M177.5 12v2M177.5 15v1M177.5 19v1M177.5 24v1M177.5 27v1M178.5 7v1M178.5 11v1M178.5 13v1M178.5 15v1M178.5 21v2M178.5 24v1M178.5 30v1M179.5 3v1M179.5 11v1M179.5 16v1M179.5 19v1M179.5 24v1M179.5 26v2M180.5 2v1M180.5 7v1M180.5 18v1M181.5 13v1M181.5 19v1M181.5 25v2M181.5 29v1M182.5 14v2M182.5 17v1M182.5 24v1M182.5 27v1M183.5 5v1M183.5 9v1M183.5 16v1M183.5 24v1M184.5 10v1M184.5 15v1M184.5 18v1M184.5 27v3M185.5 11v1M185.5 15v1M185.5 25v1M185.5 28v1M186.5 1v2M186.5 6v1M186.5 8v1M186.5 11v1M186.5 15v1M186.5 22v1M186.5 29v2M187.5 4v1M187.5 13v1M187.5 20v1M187.5 29v1M188.5 7v2M188.5 10v1M188.5 18v1M188.5 20v1M188.5 24v1M188.5 27v1M189.5 1v2M189.5 7v1M189.5 10v2M189.5 13v1M189.5 24v1M190.5 1v1M190.5 5v1M190.5 8v2M190.5 22v1"/>
<path stroke="#ffb9b9" d="M144.5 1v1M156.5 0v1M159.5 10v1M163.5 4v1M165.5 1v1M166.5 9v1M171.5 10v1M173.5 0v1M173.5 3v1M173.5 5v2M173.5 9v1M174.5 2v2M174.5 7v1M174.5 9v1M176.5 1v2M176.5 9v1M176.5 11v1M176.5 16v1M177.5 1v3M178.5 12v1M178.5 18v2M178.5 23v1M178.5 26v1M179.5 5v2M179.5 14v1M179.5 18v1M180.5 4v1M180.5 6v1M180.5 9v2M180.5 28v1M181.5 11v1M181.5 14v1M181.5 16v1M181.5 18v1M181.5 22v1M181.5 28v1M182.5 8v1M182.5 12v1M182.5 19v1M182.5 25v1M182.5 28v1M183.5 6v1M183.5 10v1M183.5 13v1M184.5 1v3M184.5 5v1M184.5 8v1M184.5 12v1M185.5 3v1M185.5 9v1M185.5 21v4M185.5 27v1M186.5 0v1M186.5 10v1M186.5 12v1M187.5 6v1M187.5 8v1M187.5 12v1M187.5 15v2M187.5 18v2M187.5 23v2M188.5 1v1M188.5 3v1M188.5 5v1M188.5 12v1M189.5 0v1M189.5 8v2M190.5 4v1"/>
<path stroke="#ffb2b2" d="M148.5 4v1M171.5 0v1M173.5 4v1M173.5 10v1M174.5 0v2M174.5 4v1M174.5 8v1M176.5 3v2M176.5 6v1M176.5 10v1M177.5 0v1M177.5 4v1M178.5 3v1M178.5 5v1M178.5 8v3M178.5 14v1M178.5 27v2M179.5 4v1M179.5 7v1M179.5 12v1M179.5 15v1M180.5 1v1M180.5 5v1M180.5 8v1M181.5 2v2M181.5 5v3M181.5 9v1M181.5 23v2M182.5 0v2M182.5 3v1M182.5 5v1M182.5 7v1M182.5 9v1M183.5 1v1M183.5 3v2M184.5 7v1M184.5 13v1M185.5 1v1M185.5 5v3M185.5 13v1M186.5 3v1M186.5 9v1M187.5 7v1M187.5 14v1M187.5 26v1M188.5 0v1M188.5 9v1M189.5 5v1"/>
<path stroke="#ffacac" d="M173.5 1v1M174.5 10v1M176.5 0v1M177.5 9v1M178.5 1v2M179.5 0v2M179.5 9v1M179.5 13v1M180.5 0v1M181.5 8v1M181.5 10v1M182.5 2v1M182.5 4v1M182.5 6v1M182.5 23v1M183.5 0v1M184.5 0v1M184.5 4v1M184.5 9v1M185.5 0v1M185.5 8v1M187.5 2v1M187.5 5v1M187.5 9v1M187.5 27v1M189.5 4v1"/>
<path stroke="#ffa6a6" d="M178.5 0v1M178.5 6v1M179.5 2v1M179.5 8v1M179.5 10v1M181.5 0v2M181.5 4v1M182.5 10v1M185.5 10v1M187.5 0v1M187.5 3v1M187.5 10v1M189.5 3v1"/>
<path stroke="#ff9f9f" d="M178.5 4v1M185.5 4v1M187.5 1v1"/>
<path stroke="#1919ff" d="M191.5 0v1M191.5 12v1M191.5 14v1M191.5 18v2M191.5 23v1M191.5 26v1M192.5 0v1M192.5 14v1M192.5 16v2M192.5 20v5M192.5 27v1M192.5 30v1M193.5 14v2M193.5 17v1M193.5 21v3M193.5 26v4M194.5 1v3M194.5 6v2M195.5 5v2M195.5 10v1M196.5 4v2M196.5 30v1M197.5 0v1M197.5 3v1M197.5 5v4M198.5 0v1M198.5 9v1M198.5 16v1M198.5 20v1M198.5 22v1M198.5 28v1M199.5 1v1M199.5 11v4M199.5 21v2M199.5 29v2M200.5 0v2M200.5 10v2M200.5 14v1M200.5 16v1M200.5 18v1M200.5 23v4M201.5 0v2M201.5 5v1M201.5 16v1M201.5 21v2M202.5 5v1M202.5 7v2M203.5 1v1M203.5 9v1M203.5 17v1M203.5 25v2M204.5 1v1M204.5 8v1M204.5 17v4M204.5 22v1M204.5 25v2M204.5 30v1M205.5 1v1M205.5 20v1M205.5 25v5M206.5 4v1M206.5 6v1M206.5 9v2M206.5 22v1M207.5 2v1M207.5 5v1M207.5 7v1M207.5 9v1M207.5 16v1M208.5 1v1M208.5 14v1M208.5 30v1M209.5 7v1M209.5 16v1M209.5 20v1M209.5 26v2M209.5 30v1M210.5 14v1M210.5 20v2M210.5 27v1M210.5 30v1M212.5 15v2M214.5 25v2M214.5 29v2M215.5 11v1M215.5 13v1M215.5 24v1M215.5 30v1M216.5 15v1M216.5 30v1M217.5 11v1M217.5 24v1M217.5 28v1M217.5 30v1M218.5 21v1M219.5 3v1M220.5 0v1M220.5 2v1M220.5 6v2M220.5 9v1M221.5 3v1M221.5 8v1M222.5 24v1M223.5 2v3M225.5 14v2M225.5 24v1M225.5 29v1M226.5 11v1M226.5 18v2M226.5 26v2M229.5 13v1M229.5 15v3M229.5 21v1M229.5 27v1M229.5 29v1M242.5 5v3M243.5 2v1M243.5 6v1M243.5 8v1M245.5 3v1M247.5 3v1M247.5 6v1M247.5 8v2M248.5 7v1M249.5 3v3M249.5 9v2M250.5 3v1M250.5 5v2M250.5 8v1M250.5 10v1M251.5 5v1M251.5 9v1M252.5 2v1M254.5 1v1M254.5 8v1M254.5 10v1M255.5 4v1M255.5 6v1M255.5 10v1M258.5 4v1M258.5 10v1M259.5 10v1M260.5 1v1M260.5 9v2M261.5 0v1M262.5 7v1M263.5 2v1M263.5 4v1M263.5 6v1M263.5 10v1M264.5 0v2M264.5 5v1M264.5 8v1M265.5 7v1M268.5 4v1M268.5 8v1M270.5 2v1M270.5 6v1M271.5 5v1M272.5 5v1M274.5 0v2M274.5 9v1M276.5 2v1M276.5 7v1M276.5 10v1M277.5 5v1M361.5 2v1"/>
<path stroke="#1313ff" d="M191.5 1v1M191.5 3v2M191.5 9v1M191.5 15v2M191.5 20v3M191.5 24v1M191.5 27v1M192.5 1v1M192.5 8v1M192.5 28v1M193.5 9v1M193.5 20v1M193.5 25v1M195.5 9v1M196.5 0v3M196.5 6v4M198.5 2v1M198.5 4v1M198.5 8v1M198.5 10v1M198.5 25v2M199.5 0v1M199.5 20v1M199.5 23v1M199.5 25v1M199.5 28v1M200.5 5v1M200.5 9v1M200.5 17v1M200.5 19v2M201.5 4v1M201.5 8v1M201.5 14v1M201.5 20v1M201.5 26v1M203.5 0v1M203.5 2v1M203.5 4v1M203.5 6v1M203.5 20v1M203.5 29v1M204.5 0v1M204.5 2v1M204.5 9v2M204.5 27v1M205.5 0v1M205.5 9v1M205.5 14v1M205.5 17v1M205.5 21v1M205.5 23v2M206.5 7v2M207.5 4v1M207.5 6v1M207.5 8v1M207.5 14v1M208.5 0v1M208.5 3v1M208.5 7v4M208.5 17v1M208.5 20v2M208.5 26v2M209.5 21v1M210.5 25v1M210.5 28v1M212.5 17v1M214.5 14v2M214.5 17v1M214.5 19v1M214.5 23v1M215.5 12v1M215.5 14v2M215.5 21v2M215.5 25v1M215.5 27v3M216.5 13v1M216.5 19v1M216.5 23v1M216.5 29v1M217.5 17v2M217.5 21v1M217.5 23v1M217.5 25v1M218.5 16v1M219.5 19v2M219.5 26v1M222.5 15v1M222.5 19v1M222.5 28v1M222.5 30v1M224.5 11v2M224.5 17v1M224.5 19v1M224.5 24v1M225.5 16v1M225.5 21v1M226.5 20v1M226.5 22v3M227.5 15v1M228.5 12v1M228.5 17v1M228.5 23v5M228.5 30v1M229.5 11v1M229.5 24v1M229.5 28v1M229.5 30v1M242.5 2v1M242.5 8v1M243.5 7v1M243.5 9v1M247.5 7v1M249.5 8v1M250.5 2v1M251.5 0v2M251.5 4v1M251.5 8v1M254.5 7v1M255.5 2v2M255.5 8v1M256.5 7v1M257.5 6v2M258.5 3v1M258.5 5v2M259.5 6v1M260.5 2v2M260.5 5v1M261.5 1v2M261.5 4v1M261.5 8v1M261.5 10v1M263.5 3v1M263.5 7v1M264.5 2v2M264.5 6v1M268.5 0v1M270.5 7v1M275.5 10v1M276.5 5v1"/>
<path stroke="#0606ff" d="M191.5 2v1M191.5 5v1M191.5 7v1M191.5 10v1M192.5 9v1M193.5 2v1M193.5 5v2M193.5 8v1M198.5 5v1M198.5 7v1M199.5 2v3M199.5 8v1M199.5 10v1M200.5 2v1M200.5 4v1M200.5 6v1M201.5 6v2M201.5 9v1M203.5 7v2M204.5 6v1M205.5 8v1M205.5 10v1M206.5 3v1M208.5 4v1M215.5 23v1M215.5 26v1M216.5 11v2M216.5 14v1M216.5 16v3M216.5 20v2M216.5 24v2M217.5 16v1M217.5 27v1M217.5 29v1M219.5 15v3M219.5 24v1M220.5 13v1M220.5 18v1M221.5 15v1M221.5 26v1M221.5 29v1M222.5 13v2M222.5 16v2M222.5 22v1M222.5 27v1M222.5 29v1M223.5 11v4M223.5 16v1M223.5 19v1M223.5 24v1M224.5 15v1M224.5 20v1M224.5 30v1M226.5 14v1M226.5 17v1M227.5 11v1M227.5 14v1M227.5 16v2M227.5 28v3M228.5 14v1M228.5 18v1M228.5 21v1M250.5 7v1M251.5 6v2M258.5 8v1M259.5 0v1M259.5 7v2M260.5 7v1M261.5 5v2M261.5 9v1M263.5 9v1M274.5 3v4M274.5 8v1M274.5 10v1M275.5 3v1"/>
<path stroke="#0000ff" d="M191.5 6v1M192.5 7v1M193.5 3v1M193.5 7v1M198.5 3v1M199.5 6v1M200.5 3v1M200.5 7v2M201.5 3v1M203.5 3v1M204.5 3v1M204.5 5v1M204.5 7v1M205.5 5v3M216.5 28v1M219.5 11v1M219.5 14v1M219.5 18v1M219.5 21v3M219.5 25v1M219.5 27v4M220.5 11v2M220.5 14v4M220.5 19v12M221.5 12v3M221.5 16v10M221.5 27v2M221.5 30v1M222.5 12v1M222.5 21v1M223.5 15v1M223.5 17v2M223.5 20v4M223.5 25v6M224.5 14v1M224.5 21v2M224.5 25v2M226.5 21v1M227.5 19v5M227.5 25v2M251.5 2v2M259.5 2v2M263.5 5v1M263.5 8v1M274.5 2v1M275.5 5v1M275.5 7v1"/>
<path stroke="#0d0dff" d="M191.5 8v1M192.5 2v1M192.5 6v1M192.5 10v1M193.5 0v2M193.5 4v1M193.5 10v1M193.5 16v1M195.5 0v1M195.5 3v1M195.5 7v1M196.5 3v1M196.5 10v1M196.5 16v1M198.5 6v1M199.5 5v1M199.5 7v1M199.5 9v1M200.5 21v1M200.5 29v1M201.5 2v1M201.5 10v1M203.5 5v1M204.5 4v1M204.5 23v1M205.5 2v3M206.5 0v1M206.5 2v1M206.5 5v1M208.5 2v1M208.5 5v2M214.5 21v1M214.5 28v1M215.5 16v2M215.5 19v2M216.5 22v1M216.5 26v2M217.5 14v1M217.5 20v1M217.5 22v1M217.5 26v1M219.5 12v2M220.5 4v1M221.5 11v1M222.5 11v1M222.5 18v1M222.5 20v1M222.5 23v1M222.5 25v2M224.5 13v1M224.5 16v1M224.5 18v1M224.5 23v1M224.5 27v3M226.5 12v1M226.5 16v1M226.5 25v1M226.5 28v3M227.5 12v2M227.5 18v1M227.5 24v1M227.5 27v1M228.5 13v1M228.5 16v1M228.5 19v2M228.5 22v1M228.5 28v2M229.5 20v1M251.5 10v1M254.5 0v1M254.5 2v3M254.5 6v1M259.5 1v1M259.5 4v2M259.5 9v1M260.5 6v1M260.5 8v1M261.5 3v1M261.5 7v1M264.5 7v1M264.5 9v1M268.5 3v1M268.5 7v1M274.5 7v1M275.5 1v2M275.5 4v1M275.5 6v1M275.5 8v2M276.5 3v1M276.5 6v1M276.5 8v2"/>
<path stroke="#2020ff" d="M191.5 11v1M191.5 17v1M191.5 25v1M191.5 28v3M192.5 3v3M192.5 11v1M192.5 15v1M192.5 18v2M192.5 25v2M193.5 19v1M193.5 24v1M193.5 30v1M194.5 8v1M195.5 1v2M195.5 4v1M195.5 8v1M195.5 11v1M195.5 14v1M195.5 21v1M195.5 24v1M195.5 26v1M195.5 29v1M196.5 12v1M196.5 21v1M196.5 29v1M197.5 23v1M197.5 25v1M198.5 1v1M198.5 11v1M198.5 14v1M198.5 17v1M198.5 21v1M199.5 15v1M199.5 17v2M199.5 24v1M199.5 27v1M200.5 12v1M200.5 15v1M200.5 22v1M200.5 27v1M201.5 12v1M201.5 15v1M201.5 17v1M201.5 23v2M201.5 29v1M202.5 2v1M202.5 4v1M202.5 6v1M202.5 20v1M203.5 10v2M203.5 16v1M203.5 18v1M203.5 21v4M203.5 27v1M203.5 30v1M204.5 11v1M204.5 14v1M204.5 16v1M204.5 28v1M205.5 12v1M205.5 16v1M205.5 22v1M205.5 30v1M206.5 1v1M206.5 13v1M206.5 20v2M207.5 0v1M207.5 10v1M207.5 17v1M207.5 25v1M208.5 12v1M208.5 16v1M208.5 23v1M208.5 25v1M209.5 5v1M209.5 9v2M209.5 17v2M209.5 22v2M209.5 25v1M209.5 28v1M210.5 5v1M210.5 16v1M210.5 19v1M210.5 22v1M211.5 16v1M211.5 20v2M211.5 29v1M212.5 14v1M212.5 21v1M212.5 27v3M213.5 21v1M214.5 11v3M214.5 16v1M214.5 18v1M214.5 20v1M214.5 22v1M214.5 24v1M214.5 27v1M216.5 2v1M216.5 7v1M217.5 12v1M217.5 15v1M217.5 19v1M218.5 22v1M219.5 4v1M219.5 6v2M220.5 5v1M220.5 8v1M221.5 2v1M221.5 5v1M223.5 0v1M223.5 5v1M223.5 7v2M224.5 3v1M225.5 17v1M225.5 22v1M225.5 25v2M225.5 30v1M226.5 13v1M226.5 15v1M227.5 7v1M228.5 11v1M228.5 15v1M229.5 14v1M229.5 23v1M229.5 25v2M242.5 0v2M242.5 3v1M242.5 10v1M243.5 0v2M243.5 3v2M243.5 10v1M245.5 0v2M245.5 4v2M245.5 8v1M246.5 0v1M246.5 6v3M247.5 4v2M247.5 10v1M248.5 2v1M248.5 6v1M249.5 2v1M249.5 6v2M253.5 3v1M254.5 5v1M255.5 1v1M255.5 5v1M256.5 2v2M256.5 5v1M256.5 8v1M257.5 9v1M258.5 0v1M258.5 2v1M258.5 7v1M258.5 9v1M260.5 4v1M262.5 4v1M262.5 8v1M263.5 0v2M264.5 10v1M265.5 2v2M265.5 5v1M265.5 8v1M266.5 2v1M267.5 5v1M268.5 1v1M268.5 5v2M268.5 9v2M269.5 5v1M270.5 0v1M270.5 8v1M271.5 2v3M271.5 7v1M271.5 9v1M272.5 3v1M273.5 2v1M273.5 7v1M276.5 0v1M361.5 7v1"/>
<path stroke="#2626ff" d="M191.5 13v1M192.5 13v1M193.5 11v1M193.5 18v1M194.5 10v1M194.5 20v2M195.5 20v1M195.5 27v2M196.5 14v2M196.5 18v3M196.5 23v6M197.5 2v1M197.5 4v1M197.5 9v3M197.5 20v1M198.5 18v2M198.5 23v2M198.5 30v1M199.5 16v1M200.5 13v1M200.5 30v1M201.5 13v1M201.5 25v1M201.5 27v2M201.5 30v1M202.5 1v1M202.5 3v1M202.5 9v2M203.5 12v4M203.5 19v1M203.5 28v1M204.5 12v2M204.5 15v1M204.5 21v1M204.5 29v1M205.5 11v1M205.5 13v1M205.5 15v1M205.5 18v1M206.5 16v1M206.5 19v1M206.5 25v1M207.5 1v1M207.5 3v1M207.5 20v4M207.5 26v1M207.5 29v2M208.5 13v1M208.5 15v1M208.5 19v1M208.5 22v1M208.5 28v2M209.5 12v1M209.5 19v1M209.5 24v1M210.5 8v1M210.5 12v2M210.5 17v2M210.5 23v1M210.5 26v1M211.5 3v1M211.5 19v1M211.5 25v2M211.5 30v1M212.5 6v2M212.5 9v1M212.5 20v1M212.5 22v2M212.5 25v1M212.5 30v1M213.5 16v1M213.5 23v1M216.5 3v1M216.5 6v1M217.5 13v1M218.5 17v1M218.5 20v1M218.5 27v4M219.5 1v2M219.5 5v1M219.5 9v2M220.5 1v1M220.5 10v1M221.5 4v1M221.5 10v1M222.5 6v1M223.5 10v1M224.5 7v1M225.5 11v3M225.5 18v3M225.5 23v1M225.5 28v1M226.5 6v2M227.5 5v2M227.5 8v1M229.5 12v1M229.5 18v1M229.5 22v1M242.5 4v1M243.5 5v1M244.5 5v1M245.5 2v1M245.5 6v2M246.5 1v3M247.5 0v3M248.5 3v1M248.5 5v1M249.5 1v1M250.5 0v2M250.5 4v1M250.5 9v1M252.5 3v2M252.5 6v2M254.5 9v1M255.5 0v1M255.5 7v1M255.5 9v1M256.5 1v1M256.5 4v1M256.5 6v1M256.5 10v1M257.5 0v4M258.5 1v1M260.5 0v1M262.5 0v1M262.5 2v1M262.5 5v2M262.5 9v1M264.5 4v1M265.5 1v1M266.5 3v3M266.5 7v1M267.5 0v1M267.5 7v1M267.5 9v1M268.5 2v1M269.5 7v1M270.5 3v3M270.5 9v1M271.5 6v1M271.5 10v1M272.5 0v1M272.5 2v1M272.5 6v2M272.5 9v1M273.5 3v1M273.5 5v2M273.5 8v1M275.5 0v1M276.5 1v1M276.5 4v1M277.5 8v1M334.5 5v1M346.5 7v1M361.5 5v2M361.5 9v1"/>
<path stroke="#2d2dff" d="M192.5 12v1M192.5 29v1M193.5 12v2M194.5 0v1M194.5 4v2M194.5 9v1M194.5 11v1M194.5 14v2M194.5 17v1M194.5 24v2M194.5 27v1M195.5 12v1M195.5 16v1M195.5 18v2M195.5 22v2M195.5 25v1M196.5 11v1M196.5 17v1M196.5 22v1M197.5 1v1M197.5 17v1M197.5 19v1M197.5 26v2M197.5 29v1M198.5 12v1M198.5 15v1M198.5 27v1M198.5 29v1M199.5 19v1M199.5 26v1M200.5 28v1M201.5 19v1M202.5 0v1M205.5 19v1M206.5 11v2M206.5 17v2M206.5 23v1M206.5 26v1M206.5 30v1M207.5 13v1M207.5 15v1M207.5 18v1M208.5 18v1M209.5 2v1M209.5 6v1M209.5 11v1M209.5 13v2M209.5 29v1M210.5 6v1M210.5 10v2M210.5 29v1M211.5 5v1M211.5 8v1M211.5 11v1M211.5 22v1M211.5 27v2M212.5 5v1M212.5 11v1M212.5 13v1M212.5 18v2M212.5 24v1M213.5 6v1M213.5 11v1M213.5 19v2M213.5 22v1M213.5 29v1M215.5 7v2M215.5 18v1M216.5 4v1M217.5 3v1M217.5 7v2M218.5 11v4M218.5 23v4M219.5 0v1M219.5 8v1M220.5 3v1M221.5 6v2M221.5 9v1M222.5 2v1M222.5 5v1M223.5 1v1M223.5 6v1M223.5 9v1M224.5 4v3M224.5 9v1M225.5 27v1M227.5 4v1M227.5 10v1M229.5 19v1M242.5 9v1M244.5 1v1M244.5 6v1M244.5 8v1M245.5 9v2M246.5 5v1M246.5 9v2M248.5 0v2M248.5 4v1M248.5 8v1M248.5 10v1M249.5 0v1M252.5 1v1M252.5 5v1M252.5 8v3M253.5 7v2M256.5 9v1M257.5 4v2M257.5 8v1M257.5 10v1M262.5 1v1M262.5 3v1M262.5 10v1M265.5 0v1M265.5 4v1M265.5 9v2M266.5 1v1M266.5 8v2M267.5 2v1M267.5 4v1M267.5 6v1M269.5 6v1M270.5 1v1M270.5 10v1M271.5 0v2M271.5 8v1M272.5 4v1M272.5 8v1M272.5 10v1M273.5 9v2M277.5 6v2M277.5 9v1M334.5 2v1M343.5 5v2M352.5 2v1M357.5 0v1M357.5 2v1M357.5 6v1M361.5 3v1"/>
<path stroke="#3939ff" d="M194.5 12v1M194.5 18v2M194.5 22v1M194.5 26v1M194.5 29v2M197.5 14v1M197.5 22v1M202.5 11v2M202.5 18v2M202.5 24v1M202.5 29v1M207.5 27v1M208.5 11v1M209.5 0v2M209.5 8v1M210.5 2v1M211.5 2v1M211.5 4v1M211.5 6v1M211.5 12v2M211.5 18v1M211.5 24v1M212.5 3v2M212.5 8v1M213.5 2v1M213.5 4v2M213.5 7v2M213.5 12v1M213.5 18v1M213.5 25v3M214.5 0v1M214.5 4v4M215.5 10v1M216.5 0v2M216.5 10v1M217.5 2v1M217.5 4v3M218.5 15v1M222.5 8v2M224.5 1v1M226.5 0v1M226.5 9v2M228.5 0v1M228.5 8v2M229.5 2v1M229.5 4v2M244.5 0v1M244.5 4v1M244.5 9v1M248.5 9v1M251.5 21v1M252.5 0v1M253.5 4v2M254.5 17v1M256.5 0v1M259.5 16v1M259.5 27v1M259.5 29v1M261.5 13v2M267.5 8v1M269.5 2v3M269.5 10v1M274.5 22v2M274.5 25v1M274.5 29v1M275.5 21v1M275.5 23v1M275.5 25v1M276.5 14v1M277.5 0v1M277.5 2v2M333.5 1v2M333.5 4v1M333.5 7v1M334.5 0v1M334.5 4v1M334.5 9v1M336.5 7v1M337.5 3v1M337.5 7v1M338.5 6v2M339.5 10v1M340.5 4v1M341.5 0v1M341.5 2v1M341.5 7v1M342.5 1v2M342.5 6v1M342.5 10v1M343.5 0v1M343.5 3v2M343.5 9v1M345.5 5v1M345.5 7v1M345.5 9v1M346.5 1v1M346.5 4v2M347.5 5v1M350.5 0v1M350.5 3v1M350.5 8v2M352.5 0v1M352.5 3v1M352.5 5v1M352.5 7v2M353.5 7v1M354.5 2v1M354.5 4v1M354.5 10v1M356.5 7v1M357.5 5v1M357.5 8v3M358.5 9v1M359.5 3v1M361.5 10v1"/>
<path stroke="#3333ff" d="M194.5 13v1M194.5 16v1M194.5 23v1M194.5 28v1M195.5 13v1M195.5 15v1M195.5 17v1M195.5 30v1M196.5 13v1M197.5 12v2M197.5 16v1M197.5 18v1M197.5 21v1M197.5 24v1M197.5 28v1M197.5 30v1M198.5 13v1M201.5 11v1M201.5 18v1M202.5 13v1M202.5 16v2M202.5 21v1M202.5 25v1M202.5 27v1M202.5 30v1M204.5 24v1M206.5 14v2M206.5 24v1M206.5 27v3M207.5 11v2M207.5 19v1M207.5 24v1M208.5 24v1M209.5 3v2M209.5 15v1M210.5 0v2M210.5 3v2M210.5 7v1M210.5 15v1M210.5 24v1M211.5 7v1M211.5 14v1M211.5 17v1M211.5 23v1M212.5 2v1M212.5 12v1M212.5 26v1M213.5 13v3M213.5 17v1M213.5 24v1M213.5 28v1M213.5 30v1M214.5 1v3M215.5 3v1M215.5 5v1M216.5 5v1M216.5 8v2M217.5 10v1M218.5 18v2M221.5 0v2M222.5 0v1M222.5 3v2M222.5 10v1M224.5 0v1M224.5 2v1M224.5 8v1M224.5 10v1M226.5 1v2M226.5 8v1M227.5 0v4M227.5 9v1M228.5 2v6M229.5 6v1M229.5 8v1M239.5 21v1M239.5 25v1M244.5 2v2M244.5 7v1M246.5 4v1M253.5 2v1M259.5 20v1M261.5 11v1M265.5 6v1M266.5 0v1M266.5 6v1M266.5 10v1M267.5 3v1M267.5 10v1M269.5 0v1M269.5 9v1M272.5 1v1M273.5 0v2M273.5 4v1M275.5 30v1M277.5 1v1M277.5 4v1M277.5 10v1M333.5 0v1M334.5 6v1M335.5 7v1M337.5 5v1M339.5 3v1M342.5 4v1M342.5 7v1M343.5 2v1M343.5 7v1M347.5 6v1M350.5 7v1M354.5 3v1M355.5 3v1M355.5 6v1M357.5 1v1M357.5 3v1M359.5 0v1M359.5 5v2M359.5 8v1M361.5 0v2M361.5 4v1"/>
<path stroke="#4646ff" d="M197.5 15v1M202.5 14v1M202.5 23v1M211.5 0v1M214.5 8v1M214.5 10v1M215.5 0v1M215.5 6v1M217.5 1v1M218.5 4v2M225.5 6v1M225.5 10v1M229.5 0v2M229.5 3v1M229.5 9v1M230.5 12v1M230.5 15v1M230.5 17v1M230.5 19v1M230.5 28v1M232.5 20v1M232.5 27v1M232.5 29v2M234.5 11v1M234.5 14v1M234.5 16v3M234.5 20v1M234.5 23v2M234.5 27v1M234.5 29v1M235.5 13v1M235.5 20v2M235.5 25v1M235.5 27v1M237.5 29v1M239.5 11v3M239.5 15v2M239.5 18v2M239.5 22v2M239.5 26v1M239.5 30v1M242.5 14v1M244.5 10v1M250.5 21v1M250.5 23v1M251.5 14v1M251.5 17v1M251.5 22v1M251.5 29v1M253.5 1v1M254.5 24v1M254.5 29v2M259.5 11v1M259.5 13v1M259.5 19v1M259.5 25v2M259.5 30v1M260.5 16v4M260.5 27v2M261.5 15v1M261.5 18v1M261.5 25v1M261.5 28v1M263.5 22v1M263.5 25v1M263.5 30v1M264.5 23v1M268.5 14v2M268.5 21v2M269.5 1v1M274.5 11v2M274.5 14v4M274.5 28v1M275.5 13v1M275.5 16v1M275.5 18v2M275.5 22v1M275.5 26v2M275.5 29v1M276.5 15v1M276.5 20v1M276.5 24v1M276.5 30v1M333.5 3v1M333.5 10v1M334.5 8v1M334.5 10v1M335.5 2v1M335.5 8v2M336.5 0v1M336.5 8v1M337.5 8v1M338.5 0v1M338.5 2v1M338.5 5v1M338.5 9v2M339.5 0v1M339.5 4v1M339.5 8v2M340.5 7v1M340.5 10v1M342.5 8v1M343.5 1v1M343.5 10v1M343.5 16v1M344.5 5v1M344.5 8v1M345.5 2v2M346.5 3v1M347.5 7v1M348.5 5v3M348.5 10v1M349.5 3v1M350.5 4v2M351.5 3v2M351.5 8v1M352.5 9v2M353.5 2v1M353.5 5v1M354.5 1v1M354.5 5v2M354.5 8v2M355.5 0v3M355.5 4v1M355.5 8v1M356.5 0v2M356.5 10v1M358.5 4v2M358.5 7v2M359.5 1v1M359.5 9v2"/>
<path stroke="#4040ff" d="M202.5 15v1M202.5 22v1M202.5 26v1M202.5 28v1M207.5 28v1M210.5 9v1M211.5 1v1M211.5 9v2M211.5 15v1M212.5 0v2M212.5 10v1M213.5 1v1M213.5 9v1M214.5 9v1M215.5 2v1M215.5 4v1M215.5 9v1M217.5 0v1M217.5 9v1M218.5 2v1M222.5 1v1M222.5 7v1M225.5 2v1M225.5 7v2M226.5 3v3M228.5 1v1M228.5 10v1M229.5 7v1M230.5 22v3M234.5 21v1M234.5 26v1M234.5 28v1M235.5 15v3M235.5 24v1M239.5 14v1M239.5 17v1M239.5 20v1M239.5 24v1M239.5 29v1M251.5 16v1M253.5 0v1M253.5 6v1M253.5 9v2M254.5 14v1M254.5 20v1M254.5 25v1M258.5 12v1M259.5 12v1M259.5 14v1M259.5 17v1M259.5 21v4M259.5 28v1M260.5 20v1M260.5 22v1M261.5 20v1M261.5 22v1M261.5 29v2M263.5 16v1M267.5 1v1M269.5 8v1M274.5 19v3M274.5 24v1M274.5 30v1M275.5 12v1M275.5 20v1M275.5 28v1M276.5 21v1M333.5 6v1M333.5 8v2M334.5 1v1M334.5 3v1M334.5 7v1M335.5 0v2M335.5 3v1M335.5 5v2M335.5 10v1M336.5 2v2M337.5 2v1M337.5 9v2M338.5 8v1M339.5 5v3M340.5 1v2M340.5 5v1M341.5 1v1M341.5 3v4M341.5 8v3M342.5 0v1M342.5 3v1M342.5 5v1M342.5 9v1M343.5 8v1M345.5 0v2M345.5 6v1M345.5 10v1M346.5 2v1M346.5 6v1M346.5 8v2M347.5 2v3M350.5 1v2M350.5 6v1M350.5 10v1M352.5 1v1M352.5 4v1M353.5 3v1M353.5 9v1M354.5 7v1M355.5 5v1M355.5 7v1M355.5 10v1M356.5 2v1M356.5 5v2M356.5 9v1M357.5 4v1M357.5 7v1M358.5 3v1M358.5 6v1M359.5 2v1M359.5 4v1M359.5 7v1M360.5 6v1M360.5 8v1M361.5 8v1"/>
<path stroke="#4d4dff" d="M213.5 0v1M213.5 3v1M213.5 10v1M215.5 1v1M218.5 1v1M218.5 3v1M218.5 7v1M218.5 9v2M225.5 0v1M225.5 3v1M225.5 5v1M225.5 9v1M229.5 10v1M230.5 14v1M230.5 20v2M230.5 29v2M231.5 14v1M231.5 20v1M231.5 23v1M231.5 25v1M231.5 30v1M232.5 17v2M232.5 21v1M232.5 25v1M232.5 28v1M233.5 20v1M233.5 29v1M234.5 12v2M234.5 15v1M234.5 19v1M234.5 22v1M234.5 25v1M234.5 30v1M235.5 11v1M235.5 18v2M235.5 22v2M235.5 26v1M235.5 29v1M237.5 11v1M237.5 15v1M237.5 21v2M237.5 30v1M239.5 27v2M241.5 14v1M242.5 20v1M243.5 30v1M245.5 30v1M247.5 16v1M247.5 20v1M249.5 29v1M250.5 14v1M250.5 16v1M250.5 20v1M250.5 22v1M251.5 13v1M251.5 15v1M251.5 20v1M251.5 26v1M251.5 28v1M254.5 18v2M254.5 21v2M255.5 12v1M255.5 16v1M255.5 20v1M257.5 25v1M257.5 30v1M258.5 18v1M258.5 20v1M258.5 28v1M259.5 15v1M259.5 18v1M260.5 11v1M260.5 13v3M260.5 21v1M260.5 26v1M260.5 29v1M261.5 16v2M261.5 19v1M261.5 21v1M261.5 24v1M261.5 26v2M262.5 21v1M262.5 26v1M263.5 11v1M263.5 14v2M263.5 17v1M263.5 21v1M263.5 24v1M263.5 28v2M264.5 14v1M264.5 20v1M264.5 25v1M264.5 27v2M266.5 17v1M268.5 11v3M268.5 17v1M268.5 20v1M268.5 26v1M270.5 26v1M271.5 20v1M274.5 13v1M274.5 26v2M275.5 11v1M275.5 14v2M275.5 24v1M276.5 12v1M276.5 17v1M276.5 22v1M276.5 27v1M333.5 5v1M333.5 17v1M334.5 16v1M334.5 20v2M335.5 4v1M336.5 1v1M336.5 6v1M336.5 9v2M337.5 0v2M337.5 4v1M337.5 6v1M338.5 1v1M338.5 3v2M339.5 1v2M340.5 0v1M340.5 6v1M340.5 8v2M341.5 23v1M341.5 30v1M342.5 21v1M342.5 30v1M343.5 18v1M343.5 23v3M343.5 29v1M344.5 2v3M344.5 7v1M345.5 4v1M345.5 8v1M346.5 0v1M346.5 10v1M347.5 0v2M347.5 9v1M348.5 3v1M348.5 8v1M349.5 6v1M351.5 0v1M351.5 2v1M351.5 9v2M352.5 6v1M353.5 4v1M353.5 8v1M353.5 10v1M354.5 0v1M356.5 4v1M358.5 0v1M358.5 2v1M358.5 10v1M360.5 0v1M360.5 2v2M360.5 7v1M365.5 5v1M375.5 7v1"/>
<path stroke="#5353ff" d="M218.5 0v1M218.5 6v1M225.5 4v1M230.5 11v1M230.5 16v1M230.5 18v1M230.5 26v2M231.5 16v1M231.5 22v1M231.5 28v1M232.5 11v1M232.5 15v1M232.5 19v1M232.5 22v1M233.5 12v1M233.5 14v1M233.5 17v1M233.5 22v2M233.5 26v1M235.5 12v1M235.5 28v1M235.5 30v1M237.5 19v2M237.5 23v3M238.5 24v1M239.5 2v1M239.5 7v2M241.5 24v1M241.5 26v1M242.5 11v2M242.5 16v3M242.5 23v1M242.5 30v1M243.5 15v1M243.5 18v3M243.5 22v1M245.5 21v1M246.5 14v1M246.5 20v1M246.5 23v1M246.5 27v1M246.5 29v1M247.5 11v1M247.5 13v1M247.5 15v1M247.5 18v2M247.5 21v2M247.5 25v3M247.5 29v2M249.5 19v2M249.5 22v1M250.5 19v1M250.5 28v2M251.5 11v1M251.5 18v2M251.5 23v2M251.5 27v1M251.5 30v1M254.5 16v1M254.5 27v1M255.5 11v1M255.5 15v1M255.5 17v1M255.5 21v2M255.5 24v1M255.5 27v3M257.5 13v1M257.5 16v1M257.5 27v1M258.5 13v2M258.5 23v1M258.5 26v1M258.5 30v1M260.5 30v1M261.5 12v1M261.5 23v1M262.5 16v1M262.5 25v1M263.5 12v2M263.5 18v1M263.5 20v1M263.5 23v1M263.5 26v2M264.5 11v3M264.5 16v1M264.5 18v1M264.5 21v1M264.5 24v1M264.5 30v1M265.5 21v1M265.5 29v1M266.5 30v1M268.5 16v1M268.5 18v2M268.5 23v3M268.5 27v4M270.5 13v1M270.5 15v1M270.5 17v1M271.5 16v2M271.5 19v1M271.5 30v1M272.5 12v1M274.5 18v1M275.5 17v1M276.5 13v1M276.5 16v1M276.5 18v2M276.5 23v1M276.5 26v1M276.5 28v2M333.5 13v1M333.5 20v2M334.5 11v2M334.5 17v1M334.5 27v2M335.5 21v1M335.5 29v1M336.5 5v1M337.5 16v1M339.5 17v1M339.5 25v1M339.5 29v1M340.5 3v1M341.5 24v2M342.5 27v1M343.5 17v1M343.5 21v1M343.5 27v1M343.5 30v1M344.5 6v1M347.5 8v1M348.5 2v1M349.5 4v1M349.5 7v4M351.5 5v3M355.5 9v1M356.5 3v1M356.5 8v1M358.5 1v1M360.5 1v1M360.5 4v2M360.5 9v1M363.5 2v1M363.5 4v1M363.5 6v1M367.5 7v1M369.5 5v1M375.5 1v1M375.5 3v1M375.5 8v1M376.5 2v1M377.5 6v1M380.5 2v1M380.5 6v1"/>
<path stroke="#5959ff" d="M218.5 8v1M225.5 1v1M230.5 13v1M230.5 25v1M231.5 12v1M231.5 21v1M231.5 27v1M232.5 12v1M232.5 14v1M232.5 23v2M232.5 26v1M233.5 15v1M233.5 21v1M234.5 9v1M235.5 2v2M235.5 7v1M235.5 14v1M237.5 12v3M237.5 16v3M237.5 26v1M237.5 28v1M238.5 25v1M238.5 28v2M239.5 4v1M239.5 9v1M240.5 21v1M240.5 26v1M241.5 12v2M241.5 15v1M241.5 17v1M241.5 20v1M241.5 22v1M241.5 27v1M242.5 13v1M242.5 21v1M242.5 25v5M243.5 11v1M243.5 14v1M243.5 17v1M243.5 25v2M243.5 28v2M244.5 21v1M245.5 13v1M245.5 16v1M245.5 18v1M245.5 22v1M245.5 24v1M245.5 27v1M246.5 21v2M247.5 12v1M247.5 14v1M247.5 17v1M247.5 23v2M248.5 20v1M248.5 22v2M249.5 14v1M249.5 16v1M249.5 18v1M249.5 23v3M249.5 27v1M249.5 30v1M250.5 11v1M250.5 18v1M250.5 24v4M250.5 30v1M251.5 25v1M252.5 23v1M252.5 27v1M254.5 11v2M254.5 23v1M254.5 26v1M254.5 28v1M255.5 14v1M255.5 18v2M255.5 25v1M255.5 30v1M256.5 20v1M256.5 22v2M256.5 27v1M256.5 30v1M257.5 14v1M257.5 22v1M257.5 24v1M257.5 26v1M257.5 29v1M258.5 11v1M258.5 15v2M258.5 19v1M258.5 21v2M258.5 29v1M260.5 12v1M260.5 23v3M262.5 12v1M262.5 14v1M262.5 23v1M262.5 27v1M262.5 29v2M263.5 19v1M264.5 15v1M264.5 17v1M264.5 19v1M264.5 22v1M264.5 26v1M265.5 16v2M265.5 27v1M266.5 11v2M266.5 20v1M266.5 26v1M267.5 20v1M267.5 25v1M270.5 14v1M270.5 16v1M270.5 20v3M270.5 29v1M271.5 13v2M271.5 21v1M271.5 25v1M272.5 20v1M272.5 23v1M272.5 29v1M273.5 14v1M273.5 21v1M273.5 25v1M273.5 27v1M273.5 29v1M276.5 11v1M276.5 25v1M277.5 21v2M333.5 15v1M333.5 28v1M334.5 22v1M334.5 24v3M334.5 29v1M335.5 11v1M335.5 17v1M335.5 19v1M335.5 22v2M335.5 27v1M336.5 4v1M336.5 20v1M336.5 25v1M336.5 29v1M337.5 28v1M338.5 11v1M338.5 16v1M338.5 18v2M339.5 11v1M339.5 14v1M339.5 16v1M339.5 21v2M341.5 14v1M341.5 16v3M341.5 28v1M342.5 11v1M342.5 14v1M342.5 19v1M343.5 11v2M343.5 14v2M343.5 20v1M343.5 26v1M343.5 28v1M344.5 0v1M344.5 9v2M347.5 10v1M348.5 0v1M348.5 4v1M349.5 0v3M349.5 5v1M351.5 1v1M353.5 1v1M353.5 6v1M361.5 21v1M361.5 23v1M361.5 28v1M363.5 0v1M363.5 7v1M363.5 9v1M366.5 3v1M367.5 2v2M367.5 5v2M369.5 8v1M371.5 5v2M375.5 4v1M375.5 6v1M375.5 9v1M376.5 6v2M379.5 1v1M379.5 5v1M380.5 0v1M381.5 16v1"/>
<path stroke="#6c6cff" d="M230.5 0v1M230.5 2v1M230.5 6v1M230.5 10v1M231.5 2v1M231.5 9v1M231.5 15v1M232.5 1v2M232.5 8v2M233.5 2v1M233.5 11v1M233.5 19v1M235.5 0v1M235.5 5v1M235.5 9v2M236.5 15v1M236.5 23v3M237.5 1v2M237.5 5v1M237.5 9v2M238.5 2v1M238.5 11v1M238.5 23v1M238.5 26v1M240.5 18v1M240.5 27v2M241.5 4v1M241.5 6v1M241.5 28v1M244.5 16v2M244.5 23v2M244.5 29v2M245.5 26v1M246.5 11v1M246.5 28v1M248.5 12v1M248.5 17v2M248.5 28v2M252.5 12v2M252.5 17v1M252.5 19v1M252.5 22v1M252.5 24v1M253.5 13v1M253.5 16v1M253.5 20v1M253.5 22v2M253.5 25v1M256.5 12v2M256.5 16v1M256.5 24v2M257.5 12v1M257.5 18v1M265.5 23v1M265.5 26v1M265.5 28v1M266.5 19v1M267.5 15v1M267.5 17v2M267.5 21v1M267.5 24v1M267.5 29v1M269.5 11v1M269.5 13v1M269.5 29v2M270.5 24v1M271.5 26v1M272.5 25v3M273.5 15v1M277.5 24v1M277.5 30v1M333.5 11v1M333.5 19v1M333.5 25v1M335.5 26v1M336.5 16v1M336.5 19v1M336.5 22v1M336.5 30v1M337.5 12v2M337.5 17v1M337.5 19v1M337.5 26v1M337.5 30v1M338.5 20v2M338.5 23v2M338.5 28v1M339.5 12v1M339.5 15v1M340.5 24v1M340.5 26v1M340.5 30v1M341.5 12v1M341.5 15v1M341.5 19v1M342.5 15v1M344.5 11v1M344.5 15v1M344.5 19v1M344.5 21v5M344.5 28v1M347.5 26v1M350.5 14v1M350.5 30v1M352.5 11v1M352.5 16v1M352.5 25v1M355.5 30v1M356.5 23v1M356.5 25v1M357.5 16v1M357.5 21v1M357.5 30v1M359.5 21v1M359.5 29v2M361.5 11v1M361.5 20v1M361.5 22v1M361.5 27v1M361.5 30v1M362.5 3v1M362.5 6v1M363.5 1v1M363.5 12v1M363.5 17v1M363.5 19v1M363.5 21v2M363.5 26v1M363.5 28v1M364.5 3v1M364.5 7v1M365.5 0v1M365.5 7v1M365.5 9v1M365.5 21v1M366.5 0v2M366.5 8v1M367.5 1v1M367.5 12v1M367.5 18v1M367.5 23v1M368.5 1v1M368.5 4v1M368.5 6v1M368.5 20v1M369.5 2v2M369.5 17v1M369.5 22v1M369.5 29v1M370.5 0v1M370.5 7v1M370.5 9v2M370.5 21v1M371.5 1v1M371.5 4v1M371.5 7v1M371.5 9v1M371.5 18v1M372.5 5v1M372.5 7v1M373.5 0v1M373.5 3v1M373.5 8v1M374.5 5v1M374.5 7v2M375.5 13v1M375.5 15v3M375.5 19v1M375.5 22v2M376.5 3v2M376.5 8v1M376.5 28v1M377.5 0v1M377.5 9v3M377.5 14v1M377.5 25v1M378.5 5v2M378.5 9v2M379.5 4v1M379.5 6v1M379.5 9v1M379.5 20v3M380.5 10v1M380.5 13v1M380.5 15v2M380.5 18v1M380.5 22v6M381.5 4v1M381.5 11v1M381.5 22v1M381.5 26v2M381.5 29v1M382.5 18v1M382.5 30v1M384.5 26v1M385.5 11v2M385.5 17v1M385.5 19v1M385.5 24v1M385.5 28v3M387.5 12v1M387.5 16v1M387.5 20v1M387.5 24v1M388.5 11v1M391.5 18v1M391.5 25v1M391.5 30v1M392.5 26v1M393.5 21v1M398.5 13v2M398.5 23v1"/>
<path stroke="#7373ff" d="M230.5 1v1M230.5 8v1M231.5 3v1M231.5 5v2M232.5 0v1M232.5 10v1M233.5 3v1M233.5 6v1M236.5 7v2M236.5 12v1M236.5 18v1M236.5 27v1M237.5 0v1M237.5 4v1M237.5 6v1M238.5 3v1M238.5 7v2M238.5 13v1M240.5 7v1M240.5 12v1M240.5 19v1M240.5 29v2M241.5 2v2M244.5 12v2M244.5 15v1M244.5 18v1M244.5 20v1M244.5 25v3M248.5 15v1M252.5 11v1M252.5 15v1M252.5 25v1M253.5 17v1M253.5 24v1M253.5 27v1M256.5 14v1M262.5 11v1M265.5 15v1M267.5 12v1M267.5 19v1M267.5 27v2M269.5 12v1M269.5 16v1M269.5 27v2M272.5 15v1M273.5 12v1M277.5 12v2M277.5 15v1M277.5 17v1M277.5 20v1M277.5 23v1M277.5 26v2M277.5 29v1M333.5 18v1M336.5 13v1M336.5 18v1M337.5 11v1M337.5 25v1M338.5 12v1M338.5 27v1M340.5 18v1M340.5 28v1M344.5 16v1M344.5 20v1M344.5 26v1M344.5 30v1M345.5 19v1M345.5 25v1M345.5 27v1M345.5 29v1M346.5 14v2M346.5 30v1M347.5 20v1M350.5 16v1M350.5 18v1M350.5 20v1M350.5 25v1M352.5 21v1M352.5 26v1M354.5 16v1M354.5 19v2M354.5 22v1M354.5 29v1M355.5 16v1M355.5 25v1M356.5 16v2M356.5 21v1M356.5 26v1M357.5 12v1M357.5 15v1M357.5 17v1M357.5 22v1M357.5 26v1M357.5 28v2M358.5 20v1M359.5 17v1M359.5 20v1M359.5 23v1M360.5 20v1M360.5 30v1M361.5 13v1M361.5 15v1M362.5 16v1M362.5 20v1M363.5 15v1M363.5 27v1M363.5 29v1M364.5 2v1M364.5 5v1M364.5 8v1M365.5 1v1M365.5 10v1M365.5 20v1M365.5 29v1M366.5 20v2M366.5 23v1M366.5 26v1M366.5 30v1M367.5 8v1M367.5 11v1M367.5 14v2M367.5 17v1M367.5 25v1M367.5 29v2M368.5 0v1M368.5 10v1M368.5 13v1M368.5 15v1M368.5 19v1M369.5 30v1M370.5 1v1M370.5 14v1M370.5 20v1M370.5 23v1M370.5 25v1M370.5 27v3M371.5 17v1M371.5 21v1M372.5 2v1M372.5 16v1M372.5 23v1M373.5 4v1M373.5 6v1M373.5 9v2M374.5 3v1M375.5 11v2M375.5 18v1M375.5 27v2M375.5 30v1M376.5 0v1M376.5 10v1M376.5 16v1M376.5 18v1M376.5 22v1M376.5 25v1M376.5 29v2M377.5 4v1M377.5 16v2M377.5 20v2M377.5 26v3M377.5 30v1M378.5 2v3M378.5 20v1M379.5 0v1M379.5 17v2M379.5 23v1M379.5 27v1M379.5 30v1M380.5 11v2M380.5 20v1M381.5 18v1M381.5 20v1M381.5 25v1M381.5 30v1M382.5 5v1M382.5 11v1M382.5 13v3M382.5 17v1M382.5 20v1M382.5 25v1M382.5 27v1M383.5 18v1M384.5 11v1M384.5 17v1M384.5 22v1M384.5 27v1M384.5 29v1M385.5 13v2M385.5 16v1M385.5 18v1M385.5 21v1M385.5 26v2M387.5 7v1M387.5 13v3M387.5 18v2M387.5 22v1M387.5 27v1M387.5 29v2M388.5 13v2M388.5 17v1M388.5 23v2M388.5 28v2M389.5 21v1M390.5 29v1M391.5 7v1M391.5 11v3M391.5 15v2M391.5 19v1M391.5 22v1M391.5 24v1M391.5 26v3M393.5 30v1M397.5 18v1M398.5 11v2M398.5 15v1M398.5 21v1M398.5 24v2M398.5 27v1"/>
<path stroke="#6666ff" d="M230.5 3v2M231.5 13v1M231.5 17v1M231.5 24v1M232.5 4v3M233.5 7v1M233.5 18v1M233.5 27v1M234.5 1v1M234.5 5v2M234.5 8v1M234.5 10v1M235.5 1v1M235.5 6v1M235.5 8v1M236.5 14v1M236.5 16v1M236.5 21v1M236.5 26v1M236.5 28v3M237.5 3v1M238.5 5v2M238.5 15v1M238.5 17v1M238.5 22v1M239.5 0v1M239.5 3v1M239.5 5v2M240.5 11v1M240.5 13v1M240.5 15v1M240.5 17v1M240.5 20v1M240.5 22v3M241.5 19v1M241.5 21v1M243.5 13v1M244.5 11v1M244.5 14v1M244.5 22v1M245.5 12v1M245.5 29v1M246.5 12v2M246.5 18v2M246.5 24v1M248.5 11v1M248.5 24v1M248.5 30v1M249.5 12v1M249.5 28v1M250.5 17v1M252.5 14v1M252.5 16v1M252.5 18v1M252.5 20v2M252.5 29v1M253.5 11v2M253.5 14v1M253.5 18v2M253.5 21v1M253.5 26v1M253.5 29v1M254.5 13v1M254.5 15v1M256.5 15v1M256.5 18v2M257.5 11v1M257.5 19v1M262.5 17v3M262.5 24v1M262.5 28v1M264.5 29v1M265.5 11v4M265.5 18v2M265.5 24v2M265.5 30v1M266.5 13v1M266.5 15v1M266.5 18v1M266.5 22v1M266.5 24v1M266.5 27v1M266.5 29v1M267.5 13v1M267.5 30v1M269.5 20v1M269.5 22v2M269.5 25v2M270.5 19v1M270.5 27v1M271.5 12v1M271.5 18v1M271.5 22v3M271.5 29v1M272.5 13v1M272.5 16v2M272.5 19v1M272.5 22v1M272.5 24v1M272.5 28v1M273.5 11v1M273.5 13v1M273.5 18v1M273.5 22v2M273.5 26v1M273.5 30v1M277.5 16v1M277.5 18v1M277.5 25v1M333.5 23v1M334.5 23v1M335.5 13v1M335.5 15v2M336.5 12v1M336.5 14v2M336.5 23v2M336.5 26v2M337.5 14v2M337.5 18v1M337.5 21v1M337.5 23v2M337.5 27v1M337.5 29v1M338.5 13v3M338.5 22v1M338.5 25v2M338.5 29v1M339.5 13v1M339.5 19v1M339.5 23v2M339.5 26v1M340.5 12v4M340.5 17v1M340.5 21v2M340.5 25v1M341.5 11v1M341.5 21v2M341.5 29v1M342.5 13v1M342.5 18v1M342.5 20v1M342.5 24v1M343.5 13v1M344.5 14v1M344.5 17v1M350.5 17v1M350.5 21v1M352.5 20v1M356.5 30v1M357.5 20v1M357.5 23v1M357.5 25v1M361.5 16v2M361.5 25v2M361.5 29v1M362.5 1v2M362.5 5v1M362.5 7v1M362.5 9v1M363.5 8v1M363.5 10v2M363.5 14v1M363.5 18v1M363.5 20v1M363.5 23v1M363.5 25v1M363.5 30v1M364.5 9v1M365.5 2v2M365.5 8v1M366.5 2v1M366.5 4v1M366.5 9v2M367.5 21v1M368.5 2v1M369.5 0v2M369.5 10v1M369.5 16v1M369.5 21v1M370.5 2v1M370.5 4v2M370.5 8v1M371.5 0v1M371.5 2v1M371.5 8v1M371.5 16v1M372.5 3v1M372.5 6v1M373.5 2v1M374.5 6v1M375.5 14v1M375.5 20v2M375.5 26v1M375.5 29v1M376.5 1v1M376.5 5v1M376.5 9v1M377.5 5v1M377.5 8v1M378.5 7v1M379.5 2v1M379.5 7v2M379.5 10v1M380.5 1v1M380.5 3v1M380.5 14v1M380.5 17v1M381.5 14v1M381.5 17v1M382.5 16v1M382.5 21v3M382.5 26v1M385.5 25v1M387.5 21v1M387.5 23v1M387.5 26v1M388.5 20v1M391.5 14v1M391.5 17v1M391.5 21v1M391.5 29v1M398.5 20v1M398.5 30v1"/>
<path stroke="#6060ff" d="M230.5 5v1M230.5 7v1M231.5 7v1M231.5 11v1M231.5 18v2M231.5 26v1M231.5 29v1M232.5 3v1M232.5 7v1M232.5 13v1M232.5 16v1M233.5 13v1M233.5 16v1M233.5 24v2M233.5 28v1M233.5 30v1M234.5 0v1M234.5 2v3M234.5 7v1M235.5 4v1M236.5 11v1M236.5 13v1M236.5 17v1M236.5 19v2M236.5 22v1M237.5 7v1M237.5 27v1M238.5 12v1M238.5 14v1M238.5 16v1M238.5 18v4M238.5 27v1M238.5 30v1M239.5 1v1M239.5 10v1M240.5 14v1M240.5 16v1M240.5 25v1M241.5 11v1M241.5 16v1M241.5 18v1M241.5 23v1M241.5 25v1M241.5 29v2M242.5 15v1M242.5 19v1M242.5 22v1M242.5 24v1M243.5 12v1M243.5 16v1M243.5 21v1M243.5 23v2M243.5 27v1M245.5 11v1M245.5 14v2M245.5 17v1M245.5 19v2M245.5 23v1M245.5 25v1M245.5 28v1M246.5 15v3M246.5 25v2M246.5 30v1M247.5 28v1M248.5 13v2M248.5 16v1M248.5 19v1M248.5 21v1M248.5 25v3M249.5 11v1M249.5 13v1M249.5 15v1M249.5 17v1M249.5 21v1M249.5 26v1M250.5 12v2M250.5 15v1M251.5 12v1M252.5 26v1M252.5 30v1M255.5 13v1M255.5 23v1M255.5 26v1M256.5 11v1M256.5 17v1M256.5 21v1M256.5 26v1M256.5 28v2M257.5 15v1M257.5 17v1M257.5 20v2M257.5 23v1M257.5 28v1M258.5 17v1M258.5 24v2M258.5 27v1M262.5 13v1M262.5 15v1M262.5 20v1M262.5 22v1M265.5 20v1M265.5 22v1M266.5 14v1M266.5 16v1M266.5 21v1M266.5 23v1M266.5 25v1M266.5 28v1M267.5 11v1M267.5 14v1M267.5 16v1M267.5 22v2M267.5 26v1M269.5 14v1M269.5 17v1M269.5 21v1M270.5 11v2M270.5 18v1M270.5 23v1M270.5 25v1M270.5 28v1M270.5 30v1M271.5 11v1M271.5 15v1M271.5 27v2M272.5 11v1M272.5 14v1M272.5 18v1M272.5 21v1M272.5 30v1M273.5 16v2M273.5 19v2M273.5 28v1M277.5 14v1M277.5 19v1M333.5 12v1M333.5 14v1M333.5 16v1M333.5 22v1M333.5 24v1M333.5 26v2M333.5 29v1M334.5 13v3M334.5 18v2M334.5 30v1M335.5 12v1M335.5 14v1M335.5 18v1M335.5 20v1M335.5 24v2M335.5 28v1M335.5 30v1M336.5 11v1M336.5 17v1M336.5 21v1M336.5 28v1M337.5 20v1M337.5 22v1M338.5 17v1M338.5 30v1M339.5 18v1M339.5 20v1M339.5 27v2M339.5 30v1M340.5 11v1M340.5 16v1M340.5 19v2M340.5 27v1M340.5 29v1M341.5 13v1M341.5 20v1M341.5 26v2M342.5 12v1M342.5 16v2M342.5 22v2M342.5 25v2M342.5 28v2M343.5 19v1M343.5 22v1M344.5 1v1M344.5 27v1M344.5 29v1M348.5 1v1M348.5 9v1M350.5 29v1M352.5 30v1M353.5 0v1M360.5 10v1M361.5 14v1M361.5 19v1M362.5 8v1M363.5 3v1M363.5 5v1M363.5 16v1M365.5 6v1M366.5 5v3M367.5 0v1M367.5 4v1M367.5 9v2M368.5 3v1M368.5 5v1M368.5 7v3M369.5 4v1M369.5 6v2M369.5 9v1M370.5 3v1M370.5 6v1M371.5 3v1M371.5 10v1M373.5 5v1M373.5 7v1M375.5 0v1M375.5 2v1M375.5 5v1M375.5 10v1M375.5 25v1M377.5 1v3M377.5 7v1M378.5 8v1M379.5 3v1M380.5 4v2M380.5 7v3M380.5 21v1M381.5 21v1M385.5 20v1M385.5 23v1M387.5 11v1M387.5 17v1M396.5 20v1"/>
<path stroke="#7979ff" d="M230.5 9v1M231.5 0v1M231.5 4v1M233.5 0v2M233.5 4v1M233.5 8v2M236.5 2v2M236.5 6v1M238.5 0v2M241.5 1v1M241.5 5v1M241.5 7v1M241.5 9v1M244.5 19v1M244.5 28v1M252.5 28v1M253.5 28v1M253.5 30v1M269.5 15v1M269.5 19v1M269.5 24v1M273.5 24v1M277.5 11v1M277.5 28v1M303.5 6v1M333.5 30v1M340.5 23v1M344.5 12v2M344.5 18v1M345.5 14v1M345.5 21v1M345.5 23v2M345.5 28v1M345.5 30v1M346.5 12v1M346.5 16v1M346.5 18v1M346.5 20v1M346.5 22v1M346.5 27v2M347.5 16v3M347.5 21v1M347.5 27v1M347.5 29v2M348.5 17v1M348.5 20v1M348.5 22v1M348.5 30v1M349.5 21v1M350.5 12v2M350.5 23v1M350.5 26v1M350.5 28v1M351.5 14v1M351.5 30v1M352.5 12v1M352.5 14v2M352.5 17v1M352.5 19v1M352.5 22v2M352.5 27v3M353.5 14v1M353.5 19v3M353.5 23v1M353.5 29v1M354.5 13v1M354.5 18v1M354.5 21v1M354.5 23v1M354.5 26v2M355.5 18v1M355.5 20v2M355.5 23v1M355.5 28v2M356.5 14v2M356.5 18v1M356.5 20v1M356.5 29v1M357.5 11v1M357.5 14v1M357.5 18v1M357.5 24v1M358.5 21v2M358.5 26v1M358.5 29v1M359.5 11v1M359.5 13v3M359.5 19v1M359.5 22v1M359.5 26v1M360.5 21v1M361.5 12v1M361.5 18v1M361.5 24v1M362.5 0v1M362.5 4v1M362.5 14v1M362.5 17v1M362.5 21v1M362.5 23v3M362.5 27v1M362.5 30v1M363.5 13v1M363.5 24v1M364.5 0v1M364.5 6v1M365.5 4v1M365.5 14v1M365.5 25v2M365.5 30v1M366.5 14v1M366.5 17v3M366.5 27v3M367.5 13v1M367.5 16v1M367.5 19v1M367.5 22v1M367.5 26v2M368.5 14v1M368.5 16v2M368.5 21v1M368.5 23v1M368.5 26v1M368.5 29v2M369.5 15v1M369.5 19v2M369.5 23v5M370.5 12v1M370.5 15v3M370.5 22v1M370.5 30v1M371.5 14v1M371.5 20v1M371.5 24v1M371.5 27v2M372.5 0v2M372.5 4v1M372.5 8v3M372.5 17v1M372.5 20v1M372.5 26v1M372.5 28v1M373.5 1v1M373.5 17v1M373.5 20v1M373.5 29v2M374.5 2v1M374.5 4v1M374.5 9v1M375.5 24v1M376.5 11v1M376.5 17v1M376.5 21v1M376.5 23v1M377.5 13v1M377.5 15v1M377.5 18v2M377.5 23v2M378.5 0v2M378.5 12v1M378.5 14v1M378.5 24v1M378.5 26v1M379.5 12v2M379.5 15v2M379.5 19v1M379.5 25v2M380.5 30v1M381.5 12v2M381.5 15v1M381.5 19v1M381.5 23v2M381.5 28v1M382.5 19v1M382.5 28v2M383.5 17v1M383.5 20v1M383.5 25v1M383.5 27v2M384.5 3v1M384.5 12v1M384.5 14v1M384.5 16v1M384.5 19v2M384.5 23v1M384.5 25v1M385.5 22v1M387.5 2v2M387.5 6v1M387.5 25v1M387.5 28v1M388.5 6v1M388.5 19v1M388.5 21v1M388.5 25v3M388.5 30v1M389.5 11v1M389.5 17v1M389.5 20v1M389.5 28v2M390.5 20v1M390.5 22v1M390.5 25v2M391.5 3v1M391.5 20v1M391.5 23v1M392.5 20v1M392.5 29v1M393.5 16v3M393.5 25v3M394.5 20v1M394.5 25v1M394.5 27v1M395.5 18v1M396.5 22v2M397.5 11v1M397.5 14v1M397.5 22v1M398.5 16v1M398.5 18v2M398.5 22v1M398.5 29v1"/>
<path stroke="#8080ff" d="M231.5 1v1M231.5 8v1M231.5 10v1M233.5 5v1M236.5 0v2M236.5 4v1M236.5 10v1M237.5 8v1M238.5 4v1M240.5 1v2M240.5 4v3M240.5 8v1M241.5 0v1M241.5 8v1M241.5 10v1M253.5 15v1M269.5 18v1M303.5 5v1M345.5 13v1M345.5 16v1M345.5 20v1M346.5 13v1M346.5 17v1M346.5 19v1M346.5 21v1M346.5 24v2M346.5 29v1M347.5 11v1M347.5 14v1M347.5 22v3M348.5 15v2M348.5 18v1M348.5 27v1M349.5 14v1M349.5 19v1M349.5 26v1M349.5 29v1M350.5 15v1M350.5 19v1M350.5 22v1M350.5 27v1M351.5 18v1M351.5 20v2M351.5 23v1M351.5 25v1M352.5 13v1M352.5 18v1M352.5 24v1M353.5 16v3M353.5 22v1M353.5 28v1M353.5 30v1M354.5 11v2M354.5 14v2M354.5 17v1M354.5 25v1M354.5 28v1M354.5 30v1M355.5 11v2M355.5 14v1M355.5 17v1M355.5 24v1M355.5 26v2M356.5 11v1M356.5 13v1M356.5 19v1M357.5 19v1M358.5 11v3M358.5 17v3M358.5 23v1M358.5 25v1M358.5 27v1M359.5 12v1M359.5 16v1M359.5 24v2M359.5 27v2M360.5 14v1M360.5 16v1M360.5 26v1M360.5 29v1M362.5 10v1M362.5 19v1M362.5 26v1M362.5 29v1M364.5 1v1M364.5 4v1M364.5 10v1M364.5 18v1M365.5 15v3M365.5 22v3M366.5 13v1M366.5 15v2M367.5 28v1M368.5 25v1M368.5 27v2M369.5 12v1M369.5 14v1M369.5 18v1M369.5 28v1M370.5 11v1M370.5 13v1M370.5 18v2M371.5 11v1M371.5 19v1M371.5 22v1M371.5 26v1M371.5 29v1M372.5 22v1M372.5 27v1M372.5 29v2M373.5 25v1M373.5 28v1M374.5 10v1M374.5 17v1M374.5 20v1M376.5 12v3M376.5 20v1M376.5 24v1M376.5 26v2M377.5 12v1M377.5 29v1M378.5 15v5M378.5 21v1M378.5 25v1M378.5 27v1M378.5 29v1M379.5 11v1M379.5 14v1M379.5 24v1M379.5 29v1M380.5 19v1M380.5 28v2M381.5 0v2M381.5 3v1M381.5 6v1M381.5 10v1M382.5 12v1M382.5 24v1M383.5 3v1M383.5 12v1M383.5 19v1M383.5 21v2M383.5 30v1M384.5 21v1M384.5 24v1M384.5 28v1M385.5 6v3M385.5 15v1M386.5 19v1M386.5 21v1M387.5 1v1M387.5 4v2M387.5 8v1M388.5 2v1M388.5 7v2M388.5 12v1M388.5 15v2M388.5 18v1M388.5 22v1M389.5 16v1M389.5 22v1M390.5 7v1M390.5 14v1M390.5 16v1M390.5 19v1M390.5 23v1M391.5 2v1M391.5 5v2M392.5 21v1M392.5 27v1M393.5 11v3M393.5 20v1M393.5 22v1M393.5 28v2M394.5 14v1M394.5 18v1M394.5 21v1M394.5 29v2M395.5 15v3M395.5 23v1M395.5 28v1M396.5 11v3M396.5 16v1M396.5 21v1M396.5 25v1M396.5 27v1M396.5 29v1M397.5 13v1M397.5 16v2M397.5 21v1M397.5 27v1M397.5 30v1M398.5 5v1M398.5 7v1M398.5 26v1M398.5 28v1"/>
<path stroke="#8686ff" d="M233.5 10v1M236.5 5v1M238.5 9v2M240.5 3v1M240.5 10v1M303.5 3v1M303.5 7v1M303.5 28v1M345.5 11v1M345.5 17v2M345.5 26v1M346.5 11v1M346.5 23v1M346.5 26v1M347.5 12v2M347.5 19v1M347.5 25v1M347.5 28v1M348.5 12v1M348.5 14v1M348.5 19v1M348.5 23v1M348.5 29v1M349.5 17v1M349.5 20v1M350.5 11v1M350.5 24v1M351.5 11v1M351.5 13v1M351.5 15v2M351.5 22v1M351.5 24v1M351.5 29v1M353.5 11v3M353.5 15v1M353.5 24v1M353.5 26v2M354.5 24v1M355.5 13v1M355.5 15v1M355.5 19v1M355.5 22v1M356.5 12v1M356.5 22v1M356.5 24v1M356.5 27v2M357.5 13v1M357.5 27v1M358.5 14v1M358.5 16v1M359.5 18v1M360.5 15v1M360.5 23v1M360.5 25v1M360.5 28v1M362.5 12v2M362.5 18v1M362.5 28v1M364.5 11v1M364.5 15v3M364.5 19v2M364.5 22v1M364.5 25v1M364.5 29v2M365.5 11v1M365.5 13v1M365.5 19v1M366.5 12v1M366.5 22v1M367.5 20v1M367.5 24v1M368.5 11v1M368.5 18v1M368.5 22v1M368.5 24v1M369.5 11v1M370.5 26v1M371.5 12v2M371.5 15v1M371.5 23v1M371.5 25v1M371.5 30v1M372.5 11v2M372.5 19v1M372.5 21v1M372.5 24v1M373.5 11v1M373.5 14v1M373.5 16v1M373.5 19v1M373.5 21v2M373.5 26v2M374.5 1v1M374.5 11v2M374.5 14v1M374.5 18v1M374.5 23v2M374.5 26v2M374.5 30v1M376.5 15v1M376.5 19v1M377.5 22v1M378.5 13v1M378.5 22v2M378.5 28v1M379.5 28v1M381.5 2v1M381.5 5v1M381.5 7v3M382.5 2v2M382.5 6v3M383.5 2v1M383.5 6v1M383.5 11v1M383.5 13v1M383.5 23v1M383.5 26v1M383.5 29v1M384.5 15v1M384.5 30v1M385.5 5v1M386.5 22v1M386.5 26v1M387.5 9v2M388.5 4v2M389.5 14v1M389.5 18v1M389.5 24v4M389.5 30v1M390.5 12v2M390.5 18v1M390.5 21v1M390.5 24v1M390.5 27v2M391.5 8v1M392.5 11v2M392.5 15v1M392.5 19v1M392.5 22v3M392.5 28v1M392.5 30v1M393.5 14v1M393.5 19v1M393.5 23v2M394.5 3v1M394.5 6v1M394.5 11v1M394.5 16v2M394.5 19v1M394.5 22v1M394.5 28v1M395.5 11v1M395.5 14v1M395.5 19v1M395.5 21v1M395.5 24v2M395.5 27v1M395.5 29v1M396.5 14v2M396.5 17v1M396.5 24v1M396.5 26v1M396.5 28v1M396.5 30v1M397.5 12v1M397.5 15v1M397.5 20v1M397.5 23v1M398.5 2v3M398.5 6v1M398.5 17v1"/>
<path stroke="#8c8cff" d="M236.5 9v1M240.5 0v1M284.5 8v1M300.5 7v1M303.5 4v1M303.5 14v1M303.5 16v2M303.5 21v5M303.5 27v1M312.5 3v1M345.5 12v1M345.5 15v1M347.5 15v1M348.5 11v1M348.5 21v1M348.5 24v3M348.5 28v1M349.5 18v1M349.5 25v1M349.5 27v1M349.5 30v1M351.5 12v1M351.5 17v1M351.5 19v1M351.5 26v2M353.5 25v1M358.5 15v1M358.5 24v1M358.5 28v1M360.5 11v3M360.5 17v1M360.5 19v1M360.5 22v1M360.5 24v1M360.5 27v1M362.5 11v1M364.5 14v1M364.5 21v1M364.5 23v1M364.5 26v2M365.5 18v1M366.5 11v1M366.5 24v1M368.5 12v1M370.5 24v1M372.5 13v1M372.5 18v1M372.5 25v1M373.5 12v1M373.5 15v1M373.5 18v1M373.5 23v2M374.5 0v1M374.5 15v2M374.5 21v2M374.5 28v2M378.5 11v1M378.5 30v1M382.5 4v1M382.5 9v1M383.5 4v1M383.5 7v1M383.5 14v3M384.5 6v2M384.5 9v2M384.5 13v1M384.5 18v1M385.5 1v4M385.5 9v1M386.5 11v1M386.5 13v1M386.5 16v3M386.5 20v1M386.5 23v3M386.5 27v2M388.5 1v1M388.5 9v1M389.5 5v2M389.5 12v1M389.5 19v1M389.5 23v1M390.5 11v1M390.5 15v1M390.5 17v1M390.5 30v1M391.5 0v2M391.5 4v1M391.5 9v2M392.5 3v1M392.5 14v1M392.5 16v3M392.5 25v1M393.5 5v1M393.5 7v1M393.5 15v1M394.5 5v1M394.5 7v1M394.5 13v1M394.5 15v1M394.5 23v2M394.5 26v1M395.5 6v1M395.5 9v1M395.5 13v1M395.5 22v1M395.5 30v1M396.5 0v1M396.5 3v1M396.5 5v1M396.5 18v1M397.5 8v1M397.5 19v1M397.5 25v2M397.5 28v2M398.5 0v2M398.5 8v1"/>
<path stroke="#9999ff" d="M240.5 9v1M278.5 7v1M280.5 2v1M280.5 5v1M280.5 7v1M280.5 16v1M281.5 2v1M281.5 5v3M281.5 9v2M281.5 25v1M284.5 0v1M284.5 5v1M284.5 27v1M286.5 2v1M286.5 5v3M286.5 17v1M288.5 5v1M288.5 16v1M288.5 29v1M289.5 0v1M289.5 5v1M290.5 0v1M290.5 6v1M292.5 5v1M292.5 7v1M293.5 5v1M293.5 7v1M293.5 27v1M294.5 6v1M295.5 2v1M296.5 2v1M299.5 2v1M299.5 6v1M303.5 9v1M303.5 15v1M303.5 26v1M303.5 30v1M308.5 0v1M308.5 3v1M308.5 6v1M308.5 8v1M308.5 20v1M309.5 2v2M312.5 9v1M312.5 15v1M312.5 18v1M312.5 24v2M312.5 27v1M316.5 11v1M316.5 14v1M316.5 17v1M317.5 17v1M317.5 25v2M317.5 28v1M319.5 25v1M320.5 17v1M323.5 26v1M328.5 20v1M329.5 18v1M329.5 27v2M329.5 30v1M349.5 13v1M362.5 15v1M364.5 13v1M364.5 28v1M383.5 9v2M384.5 0v1M384.5 4v1M384.5 8v1M386.5 14v2M386.5 29v1M389.5 1v2M389.5 4v1M389.5 7v1M389.5 10v1M390.5 1v1M390.5 3v1M390.5 10v1M392.5 1v1M392.5 5v1M392.5 8v1M393.5 0v1M393.5 2v1M393.5 9v1M394.5 0v1M395.5 0v1M395.5 12v1M396.5 1v1M396.5 4v1M396.5 7v1M396.5 10v1M397.5 0v2M397.5 4v1M397.5 7v1M397.5 9v1M398.5 10v1"/>
<path stroke="#9f9fff" d="M278.5 9v1M278.5 17v1M279.5 5v1M280.5 3v1M280.5 8v2M280.5 21v1M281.5 3v1M281.5 8v1M282.5 3v1M284.5 1v3M284.5 6v2M284.5 11v1M284.5 16v1M284.5 20v1M284.5 23v1M284.5 28v1M284.5 30v1M285.5 6v1M285.5 21v1M286.5 3v2M286.5 8v1M286.5 21v1M286.5 29v1M288.5 0v2M288.5 3v1M288.5 6v1M288.5 8v1M288.5 10v1M288.5 13v2M288.5 24v4M289.5 7v2M289.5 10v1M289.5 16v1M290.5 5v1M290.5 16v1M290.5 28v1M291.5 6v1M292.5 6v1M293.5 1v1M293.5 3v2M293.5 6v1M293.5 8v4M293.5 13v1M293.5 17v1M293.5 19v1M293.5 23v1M293.5 25v1M293.5 28v1M294.5 2v1M295.5 9v1M295.5 20v1M299.5 3v1M299.5 5v1M299.5 9v1M299.5 20v1M299.5 22v1M299.5 27v1M300.5 1v1M300.5 5v2M300.5 14v1M300.5 20v1M300.5 24v1M301.5 8v1M303.5 0v1M303.5 11v1M303.5 13v1M303.5 19v1M304.5 2v1M305.5 5v1M306.5 2v1M306.5 7v1M306.5 26v1M307.5 6v1M307.5 8v1M307.5 21v1M308.5 1v1M308.5 7v1M308.5 29v1M309.5 6v2M310.5 6v2M312.5 4v1M312.5 6v2M312.5 14v1M312.5 19v1M312.5 21v3M312.5 28v3M316.5 2v1M316.5 7v2M316.5 15v2M316.5 18v2M316.5 26v2M316.5 30v1M317.5 4v1M317.5 7v1M317.5 12v3M317.5 20v1M317.5 24v1M317.5 27v1M317.5 30v1M318.5 6v1M318.5 11v1M318.5 17v1M318.5 20v1M318.5 22v1M318.5 27v1M319.5 11v1M319.5 15v1M319.5 17v1M319.5 20v1M319.5 23v1M320.5 20v1M320.5 22v1M323.5 2v1M323.5 13v1M323.5 16v1M323.5 20v1M323.5 24v2M328.5 9v1M328.5 14v1M328.5 21v1M328.5 30v1M329.5 2v2M329.5 5v1M329.5 10v1M329.5 13v1M329.5 15v1M329.5 19v1M329.5 21v3M329.5 25v1M329.5 29v1M330.5 7v1M330.5 27v1M386.5 2v1M386.5 4v1M386.5 7v1M386.5 12v1M389.5 0v1M389.5 3v1M389.5 9v1M392.5 0v1M392.5 2v1M392.5 9v1M394.5 8v1M395.5 1v2M395.5 10v1M397.5 2v1M397.5 5v2"/>
<path stroke="#9393ff" d="M281.5 0v1M284.5 4v1M284.5 9v1M286.5 10v1M288.5 2v1M288.5 4v1M288.5 7v1M289.5 3v1M290.5 7v1M294.5 5v1M294.5 22v1M299.5 7v1M300.5 2v2M303.5 1v2M303.5 8v1M303.5 10v1M303.5 12v1M303.5 18v1M303.5 20v1M308.5 2v1M312.5 11v1M312.5 13v1M312.5 16v1M312.5 20v1M312.5 26v1M316.5 20v1M329.5 7v1M329.5 16v1M329.5 20v1M345.5 22v1M348.5 13v1M349.5 11v2M349.5 15v2M349.5 22v3M349.5 28v1M351.5 28v1M358.5 30v1M360.5 18v1M362.5 22v1M364.5 12v1M364.5 24v1M365.5 12v1M365.5 27v2M366.5 25v1M369.5 13v1M372.5 14v2M373.5 13v1M374.5 13v1M374.5 19v1M374.5 25v1M382.5 0v2M382.5 10v1M383.5 5v1M383.5 8v1M383.5 24v1M384.5 1v2M384.5 5v1M385.5 0v1M385.5 10v1M386.5 3v1M386.5 30v1M387.5 0v1M388.5 0v1M388.5 3v1M388.5 10v1M389.5 8v1M389.5 13v1M389.5 15v1M390.5 0v1M390.5 5v2M390.5 8v2M392.5 6v2M392.5 13v1M393.5 1v1M393.5 3v2M393.5 6v1M393.5 8v1M393.5 10v1M394.5 2v1M394.5 4v1M394.5 9v2M394.5 12v1M395.5 3v1M395.5 5v1M395.5 7v2M395.5 20v1M395.5 26v1M396.5 6v1M396.5 8v2M396.5 19v1M397.5 3v1M397.5 24v1M398.5 9v1"/>
</g>
<rect x="45" y="457.5" width="4" height="73.2" fill="#0000ff"/>
<rect x="45" y="530.7" width="4" height="134.5" fill="#ff0000"/>
<linearGradient id="gd" x1="0" y1="0" x2="0" y2="1"><stop offset="0" stop-color="#ff0000"/><stop offset="0.5" stop-color="#ffffff"/><stop offset="1" stop-color="#0000ff"/></linearGradient>
<rect x="627.3" y="217" width="3.6" height="52.7" fill="url(#gd)"/>
<rect x="629.9" y="457.6" width="3.4" height="53" fill="url(#ge)"/>
<linearGradient id="ge" x1="0" y1="0" x2="0" y2="1"><stop offset="0" stop-color="#ff0000"/><stop offset="0.51" stop-color="#ffffff"/><stop offset="1" stop-color="#0000ff"/></linearGradient>
<text x="632.6" y="226.0" font-size="3.1" text-anchor="start" fill="#444" font-family="Liberation Sans, sans-serif" >10</text>
<text x="632.6" y="238.79999999999998" font-size="3.1" text-anchor="start" fill="#444" font-family="Liberation Sans, sans-serif" >5</text>
<text x="632.6" y="251.79999999999998" font-size="3.1" text-anchor="start" fill="#444" font-family="Liberation Sans, sans-serif" >0</text>
<text x="632.6" y="264.8" font-size="3.1" text-anchor="start" fill="#444" font-family="Liberation Sans, sans-serif" >-5</text>
<text x="634.8" y="461.5" font-size="3.1" text-anchor="start" fill="#444" font-family="Liberation Sans, sans-serif" >15</text>
<text x="634.8" y="473.5" font-size="3.1" text-anchor="start" fill="#444" font-family="Liberation Sans, sans-serif" >10</text>
<text x="634.8" y="485.5" font-size="3.1" text-anchor="start" fill="#444" font-family="Liberation Sans, sans-serif" >5</text>
<text x="634.8" y="497.6" font-size="3.1" text-anchor="start" fill="#444" font-family="Liberation Sans, sans-serif" >0</text>
<text x="634.8" y="509.6" font-size="3.1" text-anchor="start" fill="#444" font-family="Liberation Sans, sans-serif" >-5</text>
<text x="643.7" y="220.6" font-size="6.3" text-anchor="start" fill="#222" font-family="Liberation Sans, sans-serif" >Group</text>
<rect x="643.9" y="226.3" width="7.1" height="6.6" fill="#ff0000"/>
<rect x="643.9" y="237.8" width="7.1" height="6.9" fill="#0000ff"/>
<text x="653.7" y="231.8" font-size="6.3" text-anchor="start" fill="#222" font-family="Liberation Sans, sans-serif" >Normal</text>
<text x="653.7" y="243.3" font-size="6.3" text-anchor="start" fill="#222" font-family="Liberation Sans, sans-serif" >Sarcopenia</text>
<text x="651" y="465.7" font-size="6.3" text-anchor="start" fill="#222" font-family="Liberation Sans, sans-serif" >Group</text>
<rect x="651" y="471.2" width="7" height="6.6" fill="#ff0000"/>
<rect x="651" y="483.1" width="7" height="6.8" fill="#0000ff"/>
<text x="661" y="476.6" font-size="6.3" text-anchor="start" fill="#222" font-family="Liberation Sans, sans-serif" >Normal</text>
<text x="661" y="488.6" font-size="6.3" text-anchor="start" fill="#222" font-family="Liberation Sans, sans-serif" >Obesity</text>
<path d="M50.6 216.60L50.6 216.58M50.6 216.58L52.1 216.58M52.1 216.58L52.1 216.60M49.2 216.60L49.2 216.55M49.2 216.55L51.3 216.55M51.3 216.55L51.3 216.58M47.7 216.60L47.7 216.50M47.7 216.50L50.3 216.50M50.3 216.50L50.3 216.55M53.5 216.60L53.5 216.47M53.5 216.47L55.0 216.47M55.0 216.47L55.0 216.60M49.0 216.50L49.0 216.33M49.0 216.33L54.2 216.33M54.2 216.33L54.2 216.47M56.4 216.60L56.4 216.48M56.4 216.48L57.9 216.48M57.9 216.48L57.9 216.60M51.6 216.33L51.6 216.22M51.6 216.22L57.1 216.22M57.1 216.22L57.1 216.48M60.8 216.60L60.8 216.58M60.8 216.58L62.2 216.58M62.2 216.58L62.2 216.60M61.5 216.58L61.5 216.55M61.5 216.55L63.6 216.55M63.6 216.55L63.6 216.60M59.3 216.60L59.3 216.53M59.3 216.53L62.6 216.53M62.6 216.53L62.6 216.55M66.5 216.60L66.5 216.55M66.5 216.55L68.0 216.55M68.0 216.55L68.0 216.60M69.4 216.60L69.4 216.57M69.4 216.57L70.9 216.57M70.9 216.57L70.9 216.60M70.2 216.57L70.2 216.55M70.2 216.55L72.3 216.55M72.3 216.55L72.3 216.60M67.3 216.55L67.3 216.53M67.3 216.53L71.2 216.53M71.2 216.53L71.2 216.55M65.1 216.60L65.1 216.51M65.1 216.51L69.3 216.51M69.3 216.51L69.3 216.53M60.9 216.53L60.9 216.46M60.9 216.46L67.2 216.46M67.2 216.46L67.2 216.51M75.2 216.60L75.2 216.56M75.2 216.56L76.7 216.56M76.7 216.56L76.7 216.60M73.8 216.60L73.8 216.51M73.8 216.51L75.9 216.51M75.9 216.51L75.9 216.56M64.1 216.46L64.1 216.43M64.1 216.43L74.9 216.43M74.9 216.43L74.9 216.51M78.1 216.60L78.1 216.38M78.1 216.38L79.6 216.38M79.6 216.38L79.6 216.60M69.5 216.43L69.5 216.23M69.5 216.23L78.8 216.23M78.8 216.23L78.8 216.38M54.4 216.22L54.4 216.02M54.4 216.02L74.2 216.02M74.2 216.02L74.2 216.23M82.5 216.60L82.5 216.42M82.5 216.42L83.9 216.42M83.9 216.42L83.9 216.60M81.0 216.60L81.0 216.34M81.0 216.34L83.2 216.34M83.2 216.34L83.2 216.42M86.8 216.60L86.8 216.56M86.8 216.56L88.3 216.56M88.3 216.56L88.3 216.60M85.4 216.60L85.4 216.55M85.4 216.55L87.5 216.55M87.5 216.55L87.5 216.56M86.4 216.55L86.4 216.47M86.4 216.47L89.7 216.47M89.7 216.47L89.7 216.60M91.1 216.60L91.1 216.53M91.1 216.53L92.6 216.53M92.6 216.53L92.6 216.60M88.1 216.47L88.1 216.43M88.1 216.43L91.9 216.43M91.9 216.43L91.9 216.53M94.0 216.60L94.0 216.56M94.0 216.56L95.5 216.56M95.5 216.56L95.5 216.60M94.8 216.56L94.8 216.54M94.8 216.54L96.9 216.54M96.9 216.54L96.9 216.60M98.4 216.60L98.4 216.51M98.4 216.51L99.8 216.51M99.8 216.51L99.8 216.60M95.9 216.54L95.9 216.47M95.9 216.47L99.1 216.47M99.1 216.47L99.1 216.51M90.0 216.43L90.0 216.36M90.0 216.36L97.5 216.36M97.5 216.36L97.5 216.47M82.1 216.34L82.1 216.13M82.1 216.13L93.7 216.13M93.7 216.13L93.7 216.36M64.3 216.02L64.3 215.10M64.3 215.10L87.9 215.10M87.9 215.10L87.9 216.13M76.1 215.10L64.0 215.10M101.3 216.60L101.3 216.55M101.3 216.55L102.7 216.55M102.7 216.55L102.7 216.60M102.0 216.55L102.0 216.53M102.0 216.53L104.2 216.53M104.2 216.53L104.2 216.60M105.6 216.60L105.6 216.53M105.6 216.53L107.1 216.53M107.1 216.53L107.1 216.60M103.1 216.53L103.1 216.44M103.1 216.44L106.3 216.44M106.3 216.44L106.3 216.53M108.5 216.60L108.5 216.44M108.5 216.44L110.0 216.44M110.0 216.44L110.0 216.60M111.4 216.60L111.4 216.58M111.4 216.58L112.9 216.58M112.9 216.58L112.9 216.60M114.3 216.60L114.3 216.57M114.3 216.57L115.8 216.57M115.8 216.57L115.8 216.60M112.1 216.58L112.1 216.55M112.1 216.55L115.0 216.55M115.0 216.55L115.0 216.57M117.2 216.60L117.2 216.50M117.2 216.50L118.7 216.50M118.7 216.50L118.7 216.60M113.6 216.55L113.6 216.46M113.6 216.46L117.9 216.46M117.9 216.46L117.9 216.50M109.2 216.44L109.2 216.28M109.2 216.28L115.8 216.28M115.8 216.28L115.8 216.46M104.7 216.44L104.7 216.14M104.7 216.14L112.5 216.14M112.5 216.14L112.5 216.28M121.5 216.60L121.5 216.55M121.5 216.55L123.0 216.55M123.0 216.55L123.0 216.60M120.1 216.60L120.1 216.50M120.1 216.50L122.3 216.50M122.3 216.50L122.3 216.55M124.4 216.60L124.4 216.59M124.4 216.59L125.9 216.59M125.9 216.59L125.9 216.60M127.3 216.60L127.3 216.59M127.3 216.59L128.8 216.59M128.8 216.59L128.8 216.60M125.2 216.59L125.2 216.58M125.2 216.58L128.1 216.58M128.1 216.58L128.1 216.59M130.2 216.60L130.2 216.60M130.2 216.60L131.7 216.60M131.7 216.60L131.7 216.60M131.0 216.60L131.0 216.59M131.0 216.59L133.1 216.59M133.1 216.59L133.1 216.60M126.6 216.58L126.6 216.57M126.6 216.57L132.0 216.57M132.0 216.57L132.0 216.59M134.6 216.60L134.6 216.58M134.6 216.58L136.0 216.58M136.0 216.58L136.0 216.60M135.3 216.58L135.3 216.55M135.3 216.55L137.5 216.55M137.5 216.55L137.5 216.60M129.3 216.57L129.3 216.54M129.3 216.54L136.4 216.54M136.4 216.54L136.4 216.55M121.2 216.50L121.2 216.46M121.2 216.46L132.9 216.46M132.9 216.46L132.9 216.54M138.9 216.60L138.9 216.53M138.9 216.53L140.4 216.53M140.4 216.53L140.4 216.60M144.7 216.60L144.7 216.60M144.7 216.60L146.2 216.60M146.2 216.60L146.2 216.60M149.0 216.60L149.0 216.60M149.0 216.60L150.5 216.60M150.5 216.60L150.5 216.60M147.6 216.60L147.6 216.60M147.6 216.60L149.8 216.60M149.8 216.60L149.8 216.60M148.7 216.60L148.7 216.60M148.7 216.60L151.9 216.60M151.9 216.60L151.9 216.60M145.4 216.60L145.4 216.60M145.4 216.60L150.3 216.60M150.3 216.60L150.3 216.60M143.3 216.60L143.3 216.59M143.3 216.59L147.9 216.59M147.9 216.59L147.9 216.60M141.8 216.60L141.8 216.59M141.8 216.59L145.6 216.59M145.6 216.59L145.6 216.59M143.7 216.59L143.7 216.58M143.7 216.58L153.4 216.58M153.4 216.58L153.4 216.60M157.7 216.60L157.7 216.59M157.7 216.59L159.2 216.59M159.2 216.59L159.2 216.60M156.3 216.60L156.3 216.59M156.3 216.59L158.5 216.59M158.5 216.59L158.5 216.59M154.8 216.60L154.8 216.58M154.8 216.58L157.4 216.58M157.4 216.58L157.4 216.59M162.1 216.60L162.1 216.59M162.1 216.59L163.5 216.59M163.5 216.59L163.5 216.60M160.6 216.60L160.6 216.59M160.6 216.59L162.8 216.59M162.8 216.59L162.8 216.59M156.1 216.58L156.1 216.58M156.1 216.58L161.7 216.58M161.7 216.58L161.7 216.59M148.5 216.58L148.5 216.55M148.5 216.55L158.9 216.55M158.9 216.55L158.9 216.58M165.0 216.60L165.0 216.59M165.0 216.59L166.4 216.59M166.4 216.59L166.4 216.60M165.7 216.59L165.7 216.58M165.7 216.58L167.9 216.58M167.9 216.58L167.9 216.60M169.3 216.60L169.3 216.60M169.3 216.60L170.8 216.60M170.8 216.60L170.8 216.60M172.2 216.60L172.2 216.60M172.2 216.60L173.7 216.60M173.7 216.60L173.7 216.60M170.0 216.60L170.0 216.60M170.0 216.60L172.9 216.60M172.9 216.60L172.9 216.60M171.5 216.60L171.5 216.60M171.5 216.60L175.1 216.60M175.1 216.60L175.1 216.60M176.6 216.60L176.6 216.60M176.6 216.60L178.0 216.60M178.0 216.60L178.0 216.60M179.4 216.60L179.4 216.60M179.4 216.60L180.9 216.60M180.9 216.60L180.9 216.60M182.3 216.60L182.3 216.60M182.3 216.60L183.8 216.60M183.8 216.60L183.8 216.60M183.1 216.60L183.1 216.60M183.1 216.60L185.2 216.60M185.2 216.60L185.2 216.60M180.2 216.60L180.2 216.60M180.2 216.60L184.2 216.60M184.2 216.60L184.2 216.60M177.3 216.60L177.3 216.60M177.3 216.60L182.2 216.60M182.2 216.60L182.2 216.60M173.3 216.60L173.3 216.60M173.3 216.60L179.7 216.60M179.7 216.60L179.7 216.60M188.1 216.60L188.1 216.60M188.1 216.60L189.6 216.60M189.6 216.60L189.6 216.60M186.7 216.60L186.7 216.60M186.7 216.60L188.9 216.60M188.9 216.60L188.9 216.60M187.8 216.60L187.8 216.60M187.8 216.60L191.0 216.60M191.0 216.60L191.0 216.60M193.9 216.60L193.9 216.60M193.9 216.60L195.4 216.60M195.4 216.60L195.4 216.60M192.5 216.60L192.5 216.60M192.5 216.60L194.6 216.60M194.6 216.60L194.6 216.60M193.6 216.60L193.6 216.60M193.6 216.60L196.8 216.60M196.8 216.60L196.8 216.60M198.3 216.60L198.3 216.60M198.3 216.60L199.7 216.60M199.7 216.60L199.7 216.60M202.6 216.60L202.6 216.60M202.6 216.60L204.1 216.60M204.1 216.60L204.1 216.60M201.2 216.60L201.2 216.60M201.2 216.60L203.3 216.60M203.3 216.60L203.3 216.60M199.0 216.60L199.0 216.60M199.0 216.60L202.2 216.60M202.2 216.60L202.2 216.60M195.2 216.60L195.2 216.59M195.2 216.59L200.6 216.59M200.6 216.59L200.6 216.60M189.4 216.60L189.4 216.59M189.4 216.59L197.9 216.59M197.9 216.59L197.9 216.59M176.5 216.60L176.5 216.59M176.5 216.59L193.6 216.59M193.6 216.59L193.6 216.59M206.9 216.60L206.9 216.59M206.9 216.59L208.4 216.59M208.4 216.59L208.4 216.60M205.5 216.60L205.5 216.59M205.5 216.59L207.7 216.59M207.7 216.59L207.7 216.59M185.1 216.59L185.1 216.58M185.1 216.58L206.6 216.58M206.6 216.58L206.6 216.59M166.8 216.58L166.8 216.56M166.8 216.56L195.8 216.56M195.8 216.56L195.8 216.58M153.7 216.55L153.7 216.52M153.7 216.52L181.3 216.52M181.3 216.52L181.3 216.56M139.6 216.53L139.6 216.45M139.6 216.45L167.5 216.45M167.5 216.45L167.5 216.52M127.0 216.46L127.0 216.30M127.0 216.30L153.6 216.30M153.6 216.30L153.6 216.45M108.6 216.14L108.6 215.85M108.6 215.85L140.3 215.85M140.3 215.85L140.3 216.30M209.8 216.60L209.8 216.45M209.8 216.45L211.3 216.45M211.3 216.45L211.3 216.60M210.6 216.45L210.6 216.39M210.6 216.39L212.7 216.39M212.7 216.39L212.7 216.60M214.2 216.60L214.2 216.42M214.2 216.42L215.6 216.42M215.6 216.42L215.6 216.60M211.7 216.39L211.7 216.16M211.7 216.16L214.9 216.16M214.9 216.16L214.9 216.42M218.5 216.60L218.5 216.55M218.5 216.55L220.0 216.55M220.0 216.55L220.0 216.60M221.4 216.60L221.4 216.50M221.4 216.50L222.9 216.50M222.9 216.50L222.9 216.60M219.3 216.55L219.3 216.44M219.3 216.44L222.1 216.44M222.1 216.44L222.1 216.50M217.1 216.60L217.1 216.19M217.1 216.19L220.7 216.19M220.7 216.19L220.7 216.44M213.3 216.16L213.3 215.58M213.3 215.58L218.9 215.58M218.9 215.58L218.9 216.19M124.5 215.85L124.5 215.09M124.5 215.09L216.1 215.09M216.1 215.09L216.1 215.58M224.3 216.60L224.3 216.54M224.3 216.54L225.8 216.54M225.8 216.54L225.8 216.60M227.2 216.60L227.2 216.58M227.2 216.58L228.7 216.58M228.7 216.58L228.7 216.60M227.9 216.58L227.9 216.57M227.9 216.57L230.1 216.57M230.1 216.57L230.1 216.60M225.0 216.54L225.0 216.50M225.0 216.50L229.0 216.50M229.0 216.50L229.0 216.57M227.0 216.50L227.0 216.31M227.0 216.31L231.6 216.31M231.6 216.31L231.6 216.60M234.5 216.60L234.5 216.55M234.5 216.55L235.9 216.55M235.9 216.55L235.9 216.60M235.2 216.55L235.2 216.52M235.2 216.52L237.3 216.52M237.3 216.52L237.3 216.60M233.0 216.60L233.0 216.46M233.0 216.46L236.3 216.46M236.3 216.46L236.3 216.52M234.6 216.46L234.6 216.40M234.6 216.40L238.8 216.40M238.8 216.40L238.8 216.60M240.2 216.60L240.2 216.38M240.2 216.38L241.7 216.38M241.7 216.38L241.7 216.60M236.7 216.40L236.7 216.26M236.7 216.26L241.0 216.26M241.0 216.26L241.0 216.38M229.3 216.31L229.3 216.08M229.3 216.08L238.8 216.08M238.8 216.08L238.8 216.26M244.6 216.60L244.6 216.59M244.6 216.59L246.0 216.59M246.0 216.59L246.0 216.60M245.3 216.59L245.3 216.59M245.3 216.59L247.5 216.59M247.5 216.59L247.5 216.60M246.4 216.59L246.4 216.57M246.4 216.57L248.9 216.57M248.9 216.57L248.9 216.60M250.4 216.60L250.4 216.58M250.4 216.58L251.8 216.58M251.8 216.58L251.8 216.60M251.1 216.58L251.1 216.54M251.1 216.54L253.3 216.54M253.3 216.54L253.3 216.60M247.7 216.57L247.7 216.52M247.7 216.52L252.2 216.52M252.2 216.52L252.2 216.54M243.1 216.60L243.1 216.49M243.1 216.49L249.9 216.49M249.9 216.49L249.9 216.52M254.7 216.60L254.7 216.51M254.7 216.51L256.2 216.51M256.2 216.51L256.2 216.60M260.5 216.60L260.5 216.59M260.5 216.59L262.0 216.59M262.0 216.59L262.0 216.60M259.1 216.60L259.1 216.58M259.1 216.58L261.2 216.58M261.2 216.58L261.2 216.59M263.4 216.60L263.4 216.59M263.4 216.59L264.8 216.59M264.8 216.59L264.8 216.60M260.1 216.58L260.1 216.58M260.1 216.58L264.1 216.58M264.1 216.58L264.1 216.59M269.2 216.60L269.2 216.60M269.2 216.60L270.6 216.60M270.6 216.60L270.6 216.60M269.9 216.60L269.9 216.60M269.9 216.60L272.1 216.60M272.1 216.60L272.1 216.60M267.7 216.60L267.7 216.60M267.7 216.60L271.0 216.60M271.0 216.60L271.0 216.60M266.3 216.60L266.3 216.60M266.3 216.60L269.4 216.60M269.4 216.60L269.4 216.60M267.8 216.60L267.8 216.59M267.8 216.59L273.5 216.59M273.5 216.59L273.5 216.60M275.0 216.60L275.0 216.59M275.0 216.59L276.4 216.59M276.4 216.59L276.4 216.60M275.7 216.59L275.7 216.59M275.7 216.59L277.9 216.59M277.9 216.59L277.9 216.60M282.2 216.60L282.2 216.60M282.2 216.60L283.7 216.60M283.7 216.60L283.7 216.60M280.8 216.60L280.8 216.60M280.8 216.60L282.9 216.60M282.9 216.60L282.9 216.60M279.3 216.60L279.3 216.59M279.3 216.59L281.9 216.59M281.9 216.59L281.9 216.60M276.8 216.59L276.8 216.58M276.8 216.58L280.6 216.58M280.6 216.58L280.6 216.59M270.7 216.59L270.7 216.58M270.7 216.58L278.7 216.58M278.7 216.58L278.7 216.58M262.1 216.58L262.1 216.54M262.1 216.54L274.7 216.54M274.7 216.54L274.7 216.58M257.6 216.60L257.6 216.52M257.6 216.52L268.4 216.52M268.4 216.52L268.4 216.54M255.4 216.51L255.4 216.42M255.4 216.42L263.0 216.42M263.0 216.42L263.0 216.52M246.5 216.49L246.5 216.28M246.5 216.28L259.2 216.28M259.2 216.28L259.2 216.42M285.1 216.60L285.1 216.58M285.1 216.58L286.6 216.58M286.6 216.58L286.6 216.60M285.8 216.58L285.8 216.58M285.8 216.58L288.0 216.58M288.0 216.58L288.0 216.60M290.9 216.60L290.9 216.59M290.9 216.59L292.4 216.59M292.4 216.59L292.4 216.60M289.5 216.60L289.5 216.58M289.5 216.58L291.6 216.58M291.6 216.58L291.6 216.59M293.8 216.60L293.8 216.59M293.8 216.59L295.2 216.59M295.2 216.59L295.2 216.60M290.5 216.58L290.5 216.57M290.5 216.57L294.5 216.57M294.5 216.57L294.5 216.59M286.9 216.58L286.9 216.53M286.9 216.53L292.5 216.53M292.5 216.53L292.5 216.57M296.7 216.60L296.7 216.55M296.7 216.55L298.1 216.55M298.1 216.55L298.1 216.60M299.6 216.60L299.6 216.59M299.6 216.59L301.0 216.59M301.0 216.59L301.0 216.60M300.3 216.59L300.3 216.58M300.3 216.58L302.5 216.58M302.5 216.58L302.5 216.60M303.9 216.60L303.9 216.59M303.9 216.59L305.4 216.59M305.4 216.59L305.4 216.60M304.7 216.59L304.7 216.58M304.7 216.58L306.8 216.58M306.8 216.58L306.8 216.60M301.4 216.58L301.4 216.55M301.4 216.55L305.7 216.55M305.7 216.55L305.7 216.58M297.4 216.55L297.4 216.50M297.4 216.50L303.6 216.50M303.6 216.50L303.6 216.55M289.7 216.53L289.7 216.47M289.7 216.47L300.5 216.47M300.5 216.47L300.5 216.50M308.3 216.60L308.3 216.44M308.3 216.44L309.7 216.44M309.7 216.44L309.7 216.60M295.1 216.47L295.1 216.31M295.1 216.31L309.0 216.31M309.0 216.31L309.0 216.44M252.9 216.28L252.9 216.01M252.9 216.01L302.1 216.01M302.1 216.01L302.1 216.31M234.1 216.08L234.1 215.59M234.1 215.59L277.5 215.59M277.5 215.59L277.5 216.01M170.3 215.09L170.3 214.30M170.3 214.30L255.8 214.30M255.8 214.30L255.8 215.59M64.0 215.10L64.0 213.20M64.0 213.20L207.0 213.20M207.0 213.20L207.0 214.30M311.2 216.60L311.2 216.44M311.2 216.44L312.6 216.44M312.6 216.44L312.6 216.60M314.1 216.60L314.1 216.45M314.1 216.45L315.5 216.45M315.5 216.45L315.5 216.60M311.9 216.44L311.9 216.18M311.9 216.18L314.8 216.18M314.8 216.18L314.8 216.45M318.4 216.60L318.4 216.53M318.4 216.53L319.9 216.53M319.9 216.53L319.9 216.60M317.0 216.60L317.0 216.41M317.0 216.41L319.1 216.41M319.1 216.41L319.1 216.53M321.3 216.60L321.3 216.41M321.3 216.41L322.7 216.41M322.7 216.41L322.7 216.60M318.0 216.41L318.0 216.21M318.0 216.21L322.0 216.21M322.0 216.21L322.0 216.41M313.3 216.18L313.3 216.04M313.3 216.04L320.0 216.04M320.0 216.04L320.0 216.21M324.2 216.60L324.2 215.95M324.2 215.95L325.6 215.95M325.6 215.95L325.6 216.60M327.1 216.60L327.1 216.41M327.1 216.41L328.5 216.41M328.5 216.41L328.5 216.60M327.8 216.41L327.8 216.02M327.8 216.02L330.0 216.02M330.0 216.02L330.0 216.60M324.9 215.95L324.9 215.50M324.9 215.50L328.9 215.50M328.9 215.50L328.9 216.02M316.7 216.04L316.7 215.10M316.7 215.10L326.9 215.10M326.9 215.10L326.9 215.50M321.8 215.10L316.4 215.10M332.9 216.60L332.9 216.60M332.9 216.60L334.3 216.60M334.3 216.60L334.3 216.60M335.8 216.60L335.8 216.60M335.8 216.60L337.2 216.60M337.2 216.60L337.2 216.60M336.5 216.60L336.5 216.60M336.5 216.60L338.7 216.60M338.7 216.60L338.7 216.60M340.1 216.60L340.1 216.60M340.1 216.60L341.6 216.60M341.6 216.60L341.6 216.60M337.6 216.60L337.6 216.59M337.6 216.59L340.8 216.59M340.8 216.59L340.8 216.60M333.6 216.60L333.6 216.59M333.6 216.59L339.2 216.59M339.2 216.59L339.2 216.59M343.0 216.60L343.0 216.60M343.0 216.60L344.5 216.60M344.5 216.60L344.5 216.60M343.7 216.60L343.7 216.60M343.7 216.60L345.9 216.60M345.9 216.60L345.9 216.60M344.8 216.60L344.8 216.59M344.8 216.59L347.4 216.59M347.4 216.59L347.4 216.60M348.8 216.60L348.8 216.60M348.8 216.60L350.3 216.60M350.3 216.60L350.3 216.60M351.7 216.60L351.7 216.60M351.7 216.60L353.1 216.60M353.1 216.60L353.1 216.60M349.5 216.60L349.5 216.59M349.5 216.59L352.4 216.59M352.4 216.59L352.4 216.60M346.1 216.59L346.1 216.59M346.1 216.59L351.0 216.59M351.0 216.59L351.0 216.59M336.4 216.59L336.4 216.58M336.4 216.58L348.5 216.58M348.5 216.58L348.5 216.59M354.6 216.60L354.6 216.58M354.6 216.58L356.0 216.58M356.0 216.58L356.0 216.60M342.5 216.58L342.5 216.56M342.5 216.56L355.3 216.56M355.3 216.56L355.3 216.58M348.9 216.56L348.9 216.48M348.9 216.48L357.5 216.48M357.5 216.48L357.5 216.60M361.8 216.60L361.8 216.59M361.8 216.59L363.3 216.59M363.3 216.59L363.3 216.60M362.6 216.59L362.6 216.58M362.6 216.58L364.7 216.58M364.7 216.58L364.7 216.60M360.4 216.60L360.4 216.58M360.4 216.58L363.6 216.58M363.6 216.58L363.6 216.58M358.9 216.60L358.9 216.54M358.9 216.54L362.0 216.54M362.0 216.54L362.0 216.58M367.6 216.60L367.6 216.59M367.6 216.59L369.1 216.59M369.1 216.59L369.1 216.60M366.2 216.60L366.2 216.58M366.2 216.58L368.3 216.58M368.3 216.58L368.3 216.59M367.3 216.58L367.3 216.57M367.3 216.57L370.5 216.57M370.5 216.57L370.5 216.60M372.0 216.60L372.0 216.59M372.0 216.59L373.4 216.59M373.4 216.59L373.4 216.60M372.7 216.59L372.7 216.57M372.7 216.57L374.9 216.57M374.9 216.57L374.9 216.60M368.9 216.57L368.9 216.55M368.9 216.55L373.8 216.55M373.8 216.55L373.8 216.57M360.5 216.54L360.5 216.52M360.5 216.52L371.3 216.52M371.3 216.52L371.3 216.55M376.3 216.60L376.3 216.51M376.3 216.51L377.8 216.51M377.8 216.51L377.8 216.60M365.9 216.52L365.9 216.42M365.9 216.42L377.0 216.42M377.0 216.42L377.0 216.51M353.2 216.48L353.2 216.35M353.2 216.35L371.5 216.35M371.5 216.35L371.5 216.42M331.4 216.60L331.4 216.14M331.4 216.14L362.3 216.14M362.3 216.14L362.3 216.35M379.2 216.60L379.2 216.49M379.2 216.49L380.6 216.49M380.6 216.49L380.6 216.60M382.1 216.60L382.1 216.52M382.1 216.52L383.5 216.52M383.5 216.52L383.5 216.60M385.0 216.60L385.0 216.55M385.0 216.55L386.4 216.55M386.4 216.55L386.4 216.60M382.8 216.52L382.8 216.49M382.8 216.49L385.7 216.49M385.7 216.49L385.7 216.55M379.9 216.49L379.9 216.45M379.9 216.45L384.3 216.45M384.3 216.45L384.3 216.49M387.9 216.60L387.9 216.49M387.9 216.49L389.3 216.49M389.3 216.49L389.3 216.60M388.6 216.49L388.6 216.41M388.6 216.41L390.8 216.41M390.8 216.41L390.8 216.60M392.2 216.60L392.2 216.56M392.2 216.56L393.7 216.56M393.7 216.56L393.7 216.60M395.1 216.60L395.1 216.57M395.1 216.57L396.6 216.57M396.6 216.57L396.6 216.60M398.0 216.60L398.0 216.55M398.0 216.55L399.5 216.55M399.5 216.55L399.5 216.60M395.8 216.57L395.8 216.52M395.8 216.52L398.7 216.52M398.7 216.52L398.7 216.55M393.0 216.56L393.0 216.49M393.0 216.49L397.3 216.49M397.3 216.49L397.3 216.52M389.7 216.41L389.7 216.33M389.7 216.33L395.1 216.33M395.1 216.33L395.1 216.49M382.1 216.45L382.1 216.23M382.1 216.23L392.4 216.23M392.4 216.23L392.4 216.33M403.8 216.60L403.8 216.58M403.8 216.58L405.3 216.58M405.3 216.58L405.3 216.60M402.4 216.60L402.4 216.57M402.4 216.57L404.5 216.57M404.5 216.57L404.5 216.58M406.7 216.60L406.7 216.55M406.7 216.55L408.2 216.55M408.2 216.55L408.2 216.60M403.4 216.57L403.4 216.50M403.4 216.50L407.4 216.50M407.4 216.50L407.4 216.55M400.9 216.60L400.9 216.32M400.9 216.32L405.4 216.32M405.4 216.32L405.4 216.50M387.3 216.23L387.3 216.13M387.3 216.13L403.2 216.13M403.2 216.13L403.2 216.32M346.9 216.14L346.9 215.89M346.9 215.89L395.2 215.89M395.2 215.89L395.2 216.13M409.6 216.60L409.6 216.53M409.6 216.53L411.0 216.53M411.0 216.53L411.0 216.60M410.3 216.53L410.3 216.45M410.3 216.45L412.5 216.45M412.5 216.45L412.5 216.60M413.9 216.60L413.9 216.56M413.9 216.56L415.4 216.56M415.4 216.56L415.4 216.60M419.7 216.60L419.7 216.59M419.7 216.59L421.2 216.59M421.2 216.59L421.2 216.60M418.3 216.60L418.3 216.58M418.3 216.58L420.5 216.58M420.5 216.58L420.5 216.59M416.8 216.60L416.8 216.57M416.8 216.57L419.4 216.57M419.4 216.57L419.4 216.58M414.7 216.56L414.7 216.52M414.7 216.52L418.1 216.52M418.1 216.52L418.1 216.57M411.4 216.45L411.4 216.38M411.4 216.38L416.4 216.38M416.4 216.38L416.4 216.52M422.6 216.60L422.6 216.56M422.6 216.56L424.1 216.56M424.1 216.56L424.1 216.60M423.4 216.56L423.4 216.50M423.4 216.50L425.5 216.50M425.5 216.50L425.5 216.60M413.9 216.38L413.9 216.32M413.9 216.32L424.4 216.32M424.4 216.32L424.4 216.50M427.0 216.60L427.0 216.35M427.0 216.35L428.4 216.35M428.4 216.35L428.4 216.60M419.2 216.32L419.2 216.21M419.2 216.21L427.7 216.21M427.7 216.21L427.7 216.35M429.9 216.60L429.9 216.40M429.9 216.40L431.3 216.40M431.3 216.40L431.3 216.60M430.6 216.40L430.6 216.01M430.6 216.01L432.8 216.01M432.8 216.01L432.8 216.60M423.4 216.21L423.4 215.36M423.4 215.36L431.7 215.36M431.7 215.36L431.7 216.01M371.0 215.89L371.0 214.93M371.0 214.93L427.6 214.93M427.6 214.93L427.6 215.36M434.2 216.60L434.2 215.64M434.2 215.64L435.7 215.64M435.7 215.64L435.7 216.60M437.1 216.60L437.1 216.33M437.1 216.33L438.5 216.33M438.5 216.33L438.5 216.60M437.8 216.33L437.8 216.12M437.8 216.12L440.0 216.12M440.0 216.12L440.0 216.60M434.9 215.64L434.9 215.33M434.9 215.33L438.9 215.33M438.9 215.33L438.9 216.12M399.3 214.93L399.3 214.40M399.3 214.40L436.9 214.40M436.9 214.40L436.9 215.33M418.1 214.40L370.8 214.40M316.4 215.10L316.4 212.00M316.4 212.00L370.8 212.00M370.8 212.00L370.8 214.40M441.4 216.60L441.4 216.49M441.4 216.49L442.9 216.49M442.9 216.49L442.9 216.60M444.3 216.60L444.3 216.55M444.3 216.55L445.8 216.55M445.8 216.55L445.8 216.60M447.2 216.60L447.2 216.58M447.2 216.58L448.7 216.58M448.7 216.58L448.7 216.60M445.1 216.55L445.1 216.54M445.1 216.54L448.0 216.54M448.0 216.54L448.0 216.58M450.1 216.60L450.1 216.59M450.1 216.59L451.6 216.59M451.6 216.59L451.6 216.60M450.9 216.59L450.9 216.57M450.9 216.57L453.0 216.57M453.0 216.57L453.0 216.60M451.9 216.57L451.9 216.55M451.9 216.55L454.5 216.55M454.5 216.55L454.5 216.60M455.9 216.60L455.9 216.56M455.9 216.56L457.4 216.56M457.4 216.56L457.4 216.60M453.2 216.55L453.2 216.50M453.2 216.50L456.6 216.50M456.6 216.50L456.6 216.56M446.5 216.54L446.5 216.47M446.5 216.47L454.9 216.47M454.9 216.47L454.9 216.50M450.7 216.47L450.7 216.37M450.7 216.37L458.8 216.37M458.8 216.37L458.8 216.60M442.2 216.49L442.2 216.30M442.2 216.30L454.8 216.30M454.8 216.30L454.8 216.37M460.3 216.60L460.3 216.59M460.3 216.59L461.7 216.59M461.7 216.59L461.7 216.60M461.0 216.59L461.0 216.59M461.0 216.59L463.2 216.59M463.2 216.59L463.2 216.60M462.1 216.59L462.1 216.58M462.1 216.58L464.6 216.58M464.6 216.58L464.6 216.60M466.1 216.60L466.1 216.59M466.1 216.59L467.5 216.59M467.5 216.59L467.5 216.60M468.9 216.60L468.9 216.59M468.9 216.59L470.4 216.59M470.4 216.59L470.4 216.60M466.8 216.59L466.8 216.58M466.8 216.58L469.7 216.58M469.7 216.58L469.7 216.59M463.3 216.58L463.3 216.58M463.3 216.58L468.2 216.58M468.2 216.58L468.2 216.58M471.8 216.60L471.8 216.57M471.8 216.57L473.3 216.57M473.3 216.57L473.3 216.60M465.8 216.58L465.8 216.53M465.8 216.53L472.6 216.53M472.6 216.53L472.6 216.57M474.7 216.60L474.7 216.59M474.7 216.59L476.2 216.59M476.2 216.59L476.2 216.60M477.6 216.60L477.6 216.60M477.6 216.60L479.1 216.60M479.1 216.60L479.1 216.60M478.4 216.60L478.4 216.59M478.4 216.59L480.5 216.59M480.5 216.59L480.5 216.60M475.5 216.59L475.5 216.59M475.5 216.59L479.4 216.59M479.4 216.59L479.4 216.59M482.0 216.60L482.0 216.58M482.0 216.58L483.4 216.58M483.4 216.58L483.4 216.60M477.5 216.59L477.5 216.57M477.5 216.57L482.7 216.57M482.7 216.57L482.7 216.58M469.2 216.53L469.2 216.51M469.2 216.51L480.1 216.51M480.1 216.51L480.1 216.57M484.9 216.60L484.9 216.56M484.9 216.56L486.3 216.56M486.3 216.56L486.3 216.60M487.8 216.60L487.8 216.57M487.8 216.57L489.2 216.57M489.2 216.57L489.2 216.60M485.6 216.56L485.6 216.52M485.6 216.52L488.5 216.52M488.5 216.52L488.5 216.57M474.6 216.51L474.6 216.43M474.6 216.43L487.0 216.43M487.0 216.43L487.0 216.52M448.5 216.30L448.5 216.21M448.5 216.21L480.8 216.21M480.8 216.21L480.8 216.43M492.1 216.60L492.1 216.58M492.1 216.58L493.6 216.58M493.6 216.58L493.6 216.60M490.7 216.60L490.7 216.53M490.7 216.53L492.8 216.53M492.8 216.53L492.8 216.58M495.0 216.60L495.0 216.59M495.0 216.59L496.4 216.59M496.4 216.59L496.4 216.60M495.7 216.59L495.7 216.58M495.7 216.58L497.9 216.58M497.9 216.58L497.9 216.60M499.3 216.60L499.3 216.55M499.3 216.55L500.8 216.55M500.8 216.55L500.8 216.60M496.8 216.58L496.8 216.53M496.8 216.53L500.1 216.53M500.1 216.53L500.1 216.55M491.7 216.53L491.7 216.44M491.7 216.44L498.4 216.44M498.4 216.44L498.4 216.53M502.2 216.60L502.2 216.37M502.2 216.37L503.7 216.37M503.7 216.37L503.7 216.60M495.1 216.44L495.1 216.17M495.1 216.17L503.0 216.17M503.0 216.17L503.0 216.37M464.6 216.21L464.6 215.92M464.6 215.92L499.0 215.92M499.0 215.92L499.0 216.17M506.6 216.60L506.6 216.51M506.6 216.51L508.0 216.51M508.0 216.51L508.0 216.60M507.3 216.51L507.3 216.44M507.3 216.44L509.5 216.44M509.5 216.44L509.5 216.60M508.4 216.44L508.4 216.19M508.4 216.19L510.9 216.19M510.9 216.19L510.9 216.60M505.1 216.60L505.1 215.80M505.1 215.80L509.7 215.80M509.7 215.80L509.7 216.19M512.4 216.60L512.4 216.32M512.4 216.32L513.8 216.32M513.8 216.32L513.8 216.60M515.3 216.60L515.3 216.44M515.3 216.44L516.7 216.44M516.7 216.44L516.7 216.60M518.2 216.60L518.2 216.44M518.2 216.44L519.6 216.44M519.6 216.44L519.6 216.60M516.0 216.44L516.0 216.35M516.0 216.35L518.9 216.35M518.9 216.35L518.9 216.44M513.1 216.32L513.1 216.18M513.1 216.18L517.4 216.18M517.4 216.18L517.4 216.35M522.5 216.60L522.5 216.40M522.5 216.40L524.0 216.40M524.0 216.40L524.0 216.60M521.1 216.60L521.1 216.10M521.1 216.10L523.2 216.10M523.2 216.10L523.2 216.40M515.3 216.18L515.3 215.89M515.3 215.89L522.1 215.89M522.1 215.89L522.1 216.10M507.4 215.80L507.4 215.55M507.4 215.55L518.7 215.55M518.7 215.55L518.7 215.89M481.8 215.92L481.8 214.80M481.8 214.80L513.0 214.80M513.0 214.80L513.0 215.55M497.4 214.80L463.5 214.80M525.4 216.60L525.4 216.55M525.4 216.55L526.8 216.55M526.8 216.55L526.8 216.60M526.1 216.55L526.1 216.53M526.1 216.53L528.3 216.53M528.3 216.53L528.3 216.60M529.7 216.60L529.7 216.53M529.7 216.53L531.2 216.53M531.2 216.53L531.2 216.60M527.2 216.53L527.2 216.49M527.2 216.49L530.5 216.49M530.5 216.49L530.5 216.53M532.6 216.60L532.6 216.56M532.6 216.56L534.1 216.56M534.1 216.56L534.1 216.60M535.5 216.60L535.5 216.55M535.5 216.55L537.0 216.55M537.0 216.55L537.0 216.60M533.4 216.56L533.4 216.53M533.4 216.53L536.3 216.53M536.3 216.53L536.3 216.55M538.4 216.60L538.4 216.55M538.4 216.55L539.9 216.55M539.9 216.55L539.9 216.60M541.3 216.60L541.3 216.59M541.3 216.59L542.8 216.59M542.8 216.59L542.8 216.60M542.0 216.59L542.0 216.58M542.0 216.58L544.2 216.58M544.2 216.58L544.2 216.60M539.1 216.55L539.1 216.53M539.1 216.53L543.1 216.53M543.1 216.53L543.1 216.58M534.8 216.53L534.8 216.51M534.8 216.51L541.1 216.51M541.1 216.51L541.1 216.53M545.7 216.60L545.7 216.58M545.7 216.58L547.1 216.58M547.1 216.58L547.1 216.60M548.6 216.60L548.6 216.58M548.6 216.58L550.0 216.58M550.0 216.58L550.0 216.60M549.3 216.58L549.3 216.57M549.3 216.57L551.5 216.57M551.5 216.57L551.5 216.60M546.4 216.58L546.4 216.56M546.4 216.56L550.4 216.56M550.4 216.56L550.4 216.57M554.3 216.60L554.3 216.55M554.3 216.55L555.8 216.55M555.8 216.55L555.8 216.60M552.9 216.60L552.9 216.53M552.9 216.53L555.1 216.53M555.1 216.53L555.1 216.55M548.4 216.56L548.4 216.48M548.4 216.48L554.0 216.48M554.0 216.48L554.0 216.53M538.0 216.51L538.0 216.42M538.0 216.42L551.2 216.42M551.2 216.42L551.2 216.48M528.8 216.49L528.8 216.37M528.8 216.37L544.6 216.37M544.6 216.37L544.6 216.42M557.2 216.60L557.2 216.60M557.2 216.60L558.7 216.60M558.7 216.60L558.7 216.60M558.0 216.60L558.0 216.59M558.0 216.59L560.1 216.59M560.1 216.59L560.1 216.60M563.0 216.60L563.0 216.60M563.0 216.60L564.5 216.60M564.5 216.60L564.5 216.60M561.6 216.60L561.6 216.59M561.6 216.59L563.8 216.59M563.8 216.59L563.8 216.60M559.1 216.59L559.1 216.59M559.1 216.59L562.7 216.59M562.7 216.59L562.7 216.59M565.9 216.60L565.9 216.60M565.9 216.60L567.4 216.60M567.4 216.60L567.4 216.60M566.7 216.60L566.7 216.59M566.7 216.59L568.8 216.59M568.8 216.59L568.8 216.60M560.9 216.59L560.9 216.58M560.9 216.58L567.7 216.58M567.7 216.58L567.7 216.59M570.3 216.60L570.3 216.59M570.3 216.59L571.7 216.59M571.7 216.59L571.7 216.60M571.0 216.59L571.0 216.58M571.0 216.58L573.2 216.58M573.2 216.58L573.2 216.60M564.3 216.58L564.3 216.54M564.3 216.54L572.1 216.54M572.1 216.54L572.1 216.58M576.1 216.60L576.1 216.58M576.1 216.58L577.5 216.58M577.5 216.58L577.5 216.60M576.8 216.58L576.8 216.57M576.8 216.57L579.0 216.57M579.0 216.57L579.0 216.60M577.9 216.57L577.9 216.54M577.9 216.54L580.4 216.54M580.4 216.54L580.4 216.60M574.6 216.60L574.6 216.49M574.6 216.49L579.1 216.49M579.1 216.49L579.1 216.54M568.2 216.54L568.2 216.44M568.2 216.44L576.9 216.44M576.9 216.44L576.9 216.49M536.7 216.37L536.7 216.16M536.7 216.16L572.5 216.16M572.5 216.16L572.5 216.44M583.3 216.60L583.3 216.49M583.3 216.49L584.7 216.49M584.7 216.49L584.7 216.60M590.5 216.60L590.5 216.58M590.5 216.58L592.0 216.58M592.0 216.58L592.0 216.60M589.1 216.60L589.1 216.57M589.1 216.57L591.3 216.57M591.3 216.57L591.3 216.58M587.6 216.60L587.6 216.56M587.6 216.56L590.2 216.56M590.2 216.56L590.2 216.57M586.2 216.60L586.2 216.49M586.2 216.49L588.9 216.49M588.9 216.49L588.9 216.56M584.0 216.49L584.0 216.40M584.0 216.40L587.6 216.40M587.6 216.40L587.6 216.49M581.9 216.60L581.9 216.03M581.9 216.03L585.8 216.03M585.8 216.03L585.8 216.40M554.6 216.16L554.6 215.67M554.6 215.67L583.8 215.67M583.8 215.67L583.8 216.03M596.3 216.60L596.3 216.57M596.3 216.57L597.8 216.57M597.8 216.57L597.8 216.60M597.0 216.57L597.0 216.54M597.0 216.54L599.2 216.54M599.2 216.54L599.2 216.60M594.9 216.60L594.9 216.50M594.9 216.50L598.1 216.50M598.1 216.50L598.1 216.54M593.4 216.60L593.4 216.34M593.4 216.34L596.5 216.34M596.5 216.34L596.5 216.50M595.0 216.34L595.0 216.26M595.0 216.26L600.7 216.26M600.7 216.26L600.7 216.60M603.6 216.60L603.6 216.54M603.6 216.54L605.0 216.54M605.0 216.54L605.0 216.60M604.3 216.54L604.3 216.43M604.3 216.43L606.5 216.43M606.5 216.43L606.5 216.60M602.1 216.60L602.1 216.36M602.1 216.36L605.4 216.36M605.4 216.36L605.4 216.43M609.4 216.60L609.4 216.52M609.4 216.52L610.8 216.52M610.8 216.52L610.8 216.60M612.2 216.60L612.2 216.54M612.2 216.54L613.7 216.54M613.7 216.54L613.7 216.60M610.1 216.52L610.1 216.42M610.1 216.42L613.0 216.42M613.0 216.42L613.0 216.54M607.9 216.60L607.9 216.37M607.9 216.37L611.5 216.37M611.5 216.37L611.5 216.42M603.7 216.36L603.7 216.02M603.7 216.02L609.7 216.02M609.7 216.02L609.7 216.37M616.6 216.60L616.6 216.35M616.6 216.35L618.0 216.35M618.0 216.35L618.0 216.60M615.1 216.60L615.1 216.20M615.1 216.20L617.3 216.20M617.3 216.20L617.3 216.35M619.5 216.60L619.5 216.52M619.5 216.52L620.9 216.52M620.9 216.52L620.9 216.60M620.2 216.52L620.2 216.45M620.2 216.45L622.4 216.45M622.4 216.45L622.4 216.60M623.8 216.60L623.8 216.52M623.8 216.52L625.3 216.52M625.3 216.52L625.3 216.60M621.3 216.45L621.3 216.41M621.3 216.41L624.6 216.41M624.6 216.41L624.6 216.52M616.2 216.20L616.2 216.02M616.2 216.02L622.9 216.02M622.9 216.02L622.9 216.41M606.7 216.02L606.7 215.87M606.7 215.87L619.6 215.87M619.6 215.87L619.6 216.02M597.8 216.26L597.8 215.62M597.8 215.62L613.2 215.62M613.2 215.62L613.2 215.87M569.2 215.67L569.2 215.00M569.2 215.00L605.5 215.00M605.5 215.00L605.5 215.62M587.4 215.00L567.4 215.00M463.5 214.80L463.5 211.40M463.5 211.40L567.4 211.40M567.4 211.40L567.4 215.00M343.6 212.00L343.6 205.40M343.6 205.40L515.5 205.40M515.5 205.40L515.5 211.40M135.5 213.20L135.5 197.40M135.5 197.40L429.5 197.40M429.5 197.40L429.5 205.40" stroke="#6a6a6a" stroke-width="0.55" fill="none"/>
<line x1="47" y1="216.2" x2="626" y2="216.2" stroke="#3a3a3a" stroke-width="0.75" opacity="0.85"/>
<path d="M51.9 456.90L51.9 456.89M51.9 456.89L53.3 456.89M53.3 456.89L53.3 456.90M50.4 456.90L50.4 456.89M50.4 456.89L52.6 456.89M52.6 456.89L52.6 456.89M57.7 456.90L57.7 456.89M57.7 456.89L59.1 456.89M59.1 456.89L59.1 456.90M56.2 456.90L56.2 456.88M56.2 456.88L58.4 456.88M58.4 456.88L58.4 456.89M54.8 456.90L54.8 456.87M54.8 456.87L57.3 456.87M57.3 456.87L57.3 456.88M51.5 456.89L51.5 456.86M51.5 456.86L56.0 456.86M56.0 456.86L56.0 456.87M60.5 456.90L60.5 456.89M60.5 456.89L62.0 456.89M62.0 456.89L62.0 456.90M61.3 456.89L61.3 456.89M61.3 456.89L63.4 456.89M63.4 456.89L63.4 456.90M62.4 456.89L62.4 456.87M62.4 456.87L64.9 456.87M64.9 456.87L64.9 456.90M53.8 456.86L53.8 456.81M53.8 456.81L63.6 456.81M63.6 456.81L63.6 456.87M66.3 456.90L66.3 456.79M66.3 456.79L67.8 456.79M67.8 456.79L67.8 456.90M58.7 456.81L58.7 456.73M58.7 456.73L67.0 456.73M67.0 456.73L67.0 456.79M69.2 456.90L69.2 456.86M69.2 456.86L70.7 456.86M70.7 456.86L70.7 456.90M72.1 456.90L72.1 456.87M72.1 456.87L73.6 456.87M73.6 456.87L73.6 456.90M75.0 456.90L75.0 456.90M75.0 456.90L76.4 456.90M76.4 456.90L76.4 456.90M75.7 456.90L75.7 456.89M75.7 456.89L77.9 456.89M77.9 456.89L77.9 456.90M79.3 456.90L79.3 456.89M79.3 456.89L80.8 456.89M80.8 456.89L80.8 456.90M76.8 456.89L76.8 456.88M76.8 456.88L80.1 456.88M80.1 456.88L80.1 456.89M72.8 456.87L72.8 456.85M72.8 456.85L78.4 456.85M78.4 456.85L78.4 456.88M69.9 456.86L69.9 456.84M69.9 456.84L75.6 456.84M75.6 456.84L75.6 456.85M72.8 456.84L72.8 456.72M72.8 456.72L82.2 456.72M82.2 456.72L82.2 456.90M62.9 456.73L62.9 456.64M62.9 456.64L77.5 456.64M77.5 456.64L77.5 456.72M88.0 456.90L88.0 456.88M88.0 456.88L89.5 456.88M89.5 456.88L89.5 456.90M86.6 456.90L86.6 456.88M86.6 456.88L88.7 456.88M88.7 456.88L88.7 456.88M85.1 456.90L85.1 456.85M85.1 456.85L87.7 456.85M87.7 456.85L87.7 456.88M83.7 456.90L83.7 456.74M83.7 456.74L86.4 456.74M86.4 456.74L86.4 456.85M93.8 456.90L93.8 456.89M93.8 456.89L95.2 456.89M95.2 456.89L95.2 456.90M92.3 456.90L92.3 456.88M92.3 456.88L94.5 456.88M94.5 456.88L94.5 456.89M93.4 456.88L93.4 456.86M93.4 456.86L96.7 456.86M96.7 456.86L96.7 456.90M99.6 456.90L99.6 456.88M99.6 456.88L101.0 456.88M101.0 456.88L101.0 456.90M98.1 456.90L98.1 456.87M98.1 456.87L100.3 456.87M100.3 456.87L100.3 456.88M95.1 456.86L95.1 456.84M95.1 456.84L99.2 456.84M99.2 456.84L99.2 456.87M90.9 456.90L90.9 456.82M90.9 456.82L97.1 456.82M97.1 456.82L97.1 456.84M94.0 456.82L94.0 456.79M94.0 456.79L102.5 456.79M102.5 456.79L102.5 456.90M105.4 456.90L105.4 456.88M105.4 456.88L106.8 456.88M106.8 456.88L106.8 456.90M106.1 456.88L106.1 456.88M106.1 456.88L108.3 456.88M108.3 456.88L108.3 456.90M103.9 456.90L103.9 456.85M103.9 456.85L107.2 456.85M107.2 456.85L107.2 456.88M105.5 456.85L105.5 456.76M105.5 456.76L109.7 456.76M109.7 456.76L109.7 456.90M98.2 456.79L98.2 456.72M98.2 456.72L107.6 456.72M107.6 456.72L107.6 456.76M85.0 456.74L85.0 456.67M85.0 456.67L102.9 456.67M102.9 456.67L102.9 456.72M70.2 456.64L70.2 456.42M70.2 456.42L94.0 456.42M94.0 456.42L94.0 456.67M112.6 456.90L112.6 456.88M112.6 456.88L114.0 456.88M114.0 456.88L114.0 456.90M113.3 456.88L113.3 456.87M113.3 456.87L115.5 456.87M115.5 456.87L115.5 456.90M116.9 456.90L116.9 456.87M116.9 456.87L118.4 456.87M118.4 456.87L118.4 456.90M114.4 456.87L114.4 456.85M114.4 456.85L117.7 456.85M117.7 456.85L117.7 456.87M111.1 456.90L111.1 456.75M111.1 456.75L116.0 456.75M116.0 456.75L116.0 456.85M119.8 456.90L119.8 456.89M119.8 456.89L121.3 456.89M121.3 456.89L121.3 456.90M120.5 456.89L120.5 456.88M120.5 456.88L122.7 456.88M122.7 456.88L122.7 456.90M121.6 456.88L121.6 456.87M121.6 456.87L124.2 456.87M124.2 456.87L124.2 456.90M125.6 456.90L125.6 456.84M125.6 456.84L127.0 456.84M127.0 456.84L127.0 456.90M122.9 456.87L122.9 456.81M122.9 456.81L126.3 456.81M126.3 456.81L126.3 456.84M113.6 456.75L113.6 456.64M113.6 456.64L124.6 456.64M124.6 456.64L124.6 456.81M82.1 456.42L82.1 456.26M82.1 456.26L119.1 456.26M119.1 456.26L119.1 456.64M129.9 456.90L129.9 456.88M129.9 456.88L131.4 456.88M131.4 456.88L131.4 456.90M128.5 456.90L128.5 456.85M128.5 456.85L130.7 456.85M130.7 456.85L130.7 456.88M132.8 456.90L132.8 456.86M132.8 456.86L134.3 456.86M134.3 456.86L134.3 456.90M133.6 456.86L133.6 456.80M133.6 456.80L135.7 456.80M135.7 456.80L135.7 456.90M129.6 456.85L129.6 456.77M129.6 456.77L134.6 456.77M134.6 456.77L134.6 456.80M137.2 456.90L137.2 456.86M137.2 456.86L138.6 456.86M138.6 456.86L138.6 456.90M137.9 456.86L137.9 456.82M137.9 456.82L140.1 456.82M140.1 456.82L140.1 456.90M132.1 456.77L132.1 456.71M132.1 456.71L139.0 456.71M139.0 456.71L139.0 456.82M141.5 456.90L141.5 456.86M141.5 456.86L143.0 456.86M143.0 456.86L143.0 456.90M144.4 456.90L144.4 456.88M144.4 456.88L145.8 456.88M145.8 456.88L145.8 456.90M142.2 456.86L142.2 456.83M142.2 456.83L145.1 456.83M145.1 456.83L145.1 456.88M143.7 456.83L143.7 456.72M143.7 456.72L147.3 456.72M147.3 456.72L147.3 456.90M135.5 456.71L135.5 456.65M135.5 456.65L145.5 456.65M145.5 456.65L145.5 456.72M148.7 456.90L148.7 456.82M148.7 456.82L150.2 456.82M150.2 456.82L150.2 456.90M149.5 456.82L149.5 456.75M149.5 456.75L151.6 456.75M151.6 456.75L151.6 456.90M140.5 456.65L140.5 456.57M140.5 456.57L150.5 456.57M150.5 456.57L150.5 456.75M154.5 456.90L154.5 456.80M154.5 456.80L156.0 456.80M156.0 456.80L156.0 456.90M153.1 456.90L153.1 456.77M153.1 456.77L155.2 456.77M155.2 456.77L155.2 456.80M157.4 456.90L157.4 456.84M157.4 456.84L158.9 456.84M158.9 456.84L158.9 456.90M154.2 456.77L154.2 456.73M154.2 456.73L158.1 456.73M158.1 456.73L158.1 456.84M145.5 456.57L145.5 456.33M145.5 456.33L156.1 456.33M156.1 456.33L156.1 456.73M100.6 456.26L100.6 455.40M100.6 455.40L150.8 455.40M150.8 455.40L150.8 456.33M160.3 456.90L160.3 456.65M160.3 456.65L161.7 456.65M161.7 456.65L161.7 456.90M167.5 456.90L167.5 456.81M167.5 456.81L169.0 456.81M169.0 456.81L169.0 456.90M166.1 456.90L166.1 456.76M166.1 456.76L168.3 456.76M168.3 456.76L168.3 456.81M164.6 456.90L164.6 456.70M164.6 456.70L167.2 456.70M167.2 456.70L167.2 456.76M163.2 456.90L163.2 456.56M163.2 456.56L165.9 456.56M165.9 456.56L165.9 456.70M170.4 456.90L170.4 456.79M170.4 456.79L171.9 456.79M171.9 456.79L171.9 456.90M174.8 456.90L174.8 456.88M174.8 456.88L176.2 456.88M176.2 456.88L176.2 456.90M173.3 456.90L173.3 456.87M173.3 456.87L175.5 456.87M175.5 456.87L175.5 456.88M174.4 456.87L174.4 456.81M174.4 456.81L177.6 456.81M177.6 456.81L177.6 456.90M176.0 456.81L176.0 456.77M176.0 456.77L179.1 456.77M179.1 456.77L179.1 456.90M171.1 456.79L171.1 456.63M171.1 456.63L177.6 456.63M177.6 456.63L177.6 456.77M164.5 456.56L164.5 456.41M164.5 456.41L174.4 456.41M174.4 456.41L174.4 456.63M161.0 456.65L161.0 456.14M161.0 456.14L169.4 456.14M169.4 456.14L169.4 456.41M180.5 456.90L180.5 456.88M180.5 456.88L182.0 456.88M182.0 456.88L182.0 456.90M183.4 456.90L183.4 456.87M183.4 456.87L184.9 456.87M184.9 456.87L184.9 456.90M181.3 456.88L181.3 456.86M181.3 456.86L184.2 456.86M184.2 456.86L184.2 456.87M182.7 456.86L182.7 456.82M182.7 456.82L186.3 456.82M186.3 456.82L186.3 456.90M184.5 456.82L184.5 456.71M184.5 456.71L187.8 456.71M187.8 456.71L187.8 456.90M189.2 456.90L189.2 456.69M189.2 456.69L190.7 456.69M190.7 456.69L190.7 456.90M186.1 456.71L186.1 456.40M186.1 456.40L189.9 456.40M189.9 456.40L189.9 456.69M192.1 456.90L192.1 456.68M192.1 456.68L193.6 456.68M193.6 456.68L193.6 456.90M195.0 456.90L195.0 456.87M195.0 456.87L196.4 456.87M196.4 456.87L196.4 456.90M195.7 456.87L195.7 456.83M195.7 456.83L197.9 456.83M197.9 456.83L197.9 456.90M200.8 456.90L200.8 456.85M200.8 456.85L202.2 456.85M202.2 456.85L202.2 456.90M199.3 456.90L199.3 456.80M199.3 456.80L201.5 456.80M201.5 456.80L201.5 456.85M196.8 456.83L196.8 456.77M196.8 456.77L200.4 456.77M200.4 456.77L200.4 456.80M203.7 456.90L203.7 456.79M203.7 456.79L205.1 456.79M205.1 456.79L205.1 456.90M206.6 456.90L206.6 456.86M206.6 456.86L208.0 456.86M208.0 456.86L208.0 456.90M204.4 456.79L204.4 456.77M204.4 456.77L207.3 456.77M207.3 456.77L207.3 456.86M205.8 456.77L205.8 456.64M205.8 456.64L209.5 456.64M209.5 456.64L209.5 456.90M198.6 456.77L198.6 456.57M198.6 456.57L207.6 456.57M207.6 456.57L207.6 456.64M192.8 456.68L192.8 456.47M192.8 456.47L203.1 456.47M203.1 456.47L203.1 456.57M188.0 456.40L188.0 456.10M188.0 456.10L198.0 456.10M198.0 456.10L198.0 456.47M165.2 456.14L165.2 455.53M165.2 455.53L193.0 455.53M193.0 455.53L193.0 456.10M213.8 456.90L213.8 456.82M213.8 456.82L215.2 456.82M215.2 456.82L215.2 456.90M212.3 456.90L212.3 456.78M212.3 456.78L214.5 456.78M214.5 456.78L214.5 456.82M210.9 456.90L210.9 456.69M210.9 456.69L213.4 456.69M213.4 456.69L213.4 456.78M218.1 456.90L218.1 456.89M218.1 456.89L219.6 456.89M219.6 456.89L219.6 456.90M218.9 456.89L218.9 456.87M218.9 456.87L221.0 456.87M221.0 456.87L221.0 456.90M216.7 456.90L216.7 456.83M216.7 456.83L219.9 456.83M219.9 456.83L219.9 456.87M222.5 456.90L222.5 456.83M222.5 456.83L223.9 456.83M223.9 456.83L223.9 456.90M218.3 456.83L218.3 456.80M218.3 456.80L223.2 456.80M223.2 456.80L223.2 456.83M225.4 456.90L225.4 456.74M225.4 456.74L226.8 456.74M226.8 456.74L226.8 456.90M220.8 456.80L220.8 456.70M220.8 456.70L226.1 456.70M226.1 456.70L226.1 456.74M212.2 456.69L212.2 456.63M212.2 456.63L223.4 456.63M223.4 456.63L223.4 456.70M228.3 456.90L228.3 456.87M228.3 456.87L229.7 456.87M229.7 456.87L229.7 456.90M231.1 456.90L231.1 456.88M231.1 456.88L232.6 456.88M232.6 456.88L232.6 456.90M229.0 456.87L229.0 456.86M229.0 456.86L231.9 456.86M231.9 456.86L231.9 456.88M234.0 456.90L234.0 456.86M234.0 456.86L235.5 456.86M235.5 456.86L235.5 456.90M236.9 456.90L236.9 456.87M236.9 456.87L238.4 456.87M238.4 456.87L238.4 456.90M234.8 456.86L234.8 456.85M234.8 456.85L237.6 456.85M237.6 456.85L237.6 456.87M236.2 456.85L236.2 456.82M236.2 456.82L239.8 456.82M239.8 456.82L239.8 456.90M230.4 456.86L230.4 456.78M230.4 456.78L238.0 456.78M238.0 456.78L238.0 456.82M217.8 456.63L217.8 456.52M217.8 456.52L234.2 456.52M234.2 456.52L234.2 456.78M244.2 456.90L244.2 456.90M244.2 456.90L245.6 456.90M245.6 456.90L245.6 456.90M244.9 456.90L244.9 456.90M244.9 456.90L247.0 456.90M247.0 456.90L247.0 456.90M246.0 456.90L246.0 456.90M246.0 456.90L248.5 456.90M248.5 456.90L248.5 456.90M242.7 456.90L242.7 456.89M242.7 456.89L247.2 456.89M247.2 456.89L247.2 456.90M249.9 456.90L249.9 456.90M249.9 456.90L251.4 456.90M251.4 456.90L251.4 456.90M250.7 456.90L250.7 456.90M250.7 456.90L252.8 456.90M252.8 456.90L252.8 456.90M245.0 456.89L245.0 456.89M245.0 456.89L251.7 456.89M251.7 456.89L251.7 456.90M255.7 456.90L255.7 456.90M255.7 456.90L257.2 456.90M257.2 456.90L257.2 456.90M254.3 456.90L254.3 456.90M254.3 456.90L256.4 456.90M256.4 456.90L256.4 456.90M258.6 456.90L258.6 456.90M258.6 456.90L260.1 456.90M260.1 456.90L260.1 456.90M255.4 456.90L255.4 456.89M255.4 456.89L259.3 456.89M259.3 456.89L259.3 456.90M248.4 456.89L248.4 456.88M248.4 456.88L257.3 456.88M257.3 456.88L257.3 456.89M261.5 456.90L261.5 456.89M261.5 456.89L262.9 456.89M262.9 456.89L262.9 456.90M264.4 456.90L264.4 456.89M264.4 456.89L265.8 456.89M265.8 456.89L265.8 456.90M265.1 456.89L265.1 456.89M265.1 456.89L267.3 456.89M267.3 456.89L267.3 456.90M262.2 456.89L262.2 456.88M262.2 456.88L266.2 456.88M266.2 456.88L266.2 456.89M252.9 456.88L252.9 456.84M252.9 456.84L264.2 456.84M264.2 456.84L264.2 456.88M270.2 456.90L270.2 456.86M270.2 456.86L271.6 456.86M271.6 456.86L271.6 456.90M268.7 456.90L268.7 456.81M268.7 456.81L270.9 456.81M270.9 456.81L270.9 456.86M258.5 456.84L258.5 456.75M258.5 456.75L269.8 456.75M269.8 456.75L269.8 456.81M241.3 456.90L241.3 456.65M241.3 456.65L264.2 456.65M264.2 456.65L264.2 456.75M226.0 456.52L226.0 456.38M226.0 456.38L252.7 456.38M252.7 456.38L252.7 456.65M273.1 456.90L273.1 456.89M273.1 456.89L274.5 456.89M274.5 456.89L274.5 456.90M273.8 456.89L273.8 456.88M273.8 456.88L276.0 456.88M276.0 456.88L276.0 456.90M277.4 456.90L277.4 456.89M277.4 456.89L278.9 456.89M278.9 456.89L278.9 456.90M274.9 456.88L274.9 456.86M274.9 456.86L278.1 456.86M278.1 456.86L278.1 456.89M280.3 456.90L280.3 456.86M280.3 456.86L281.7 456.86M281.7 456.86L281.7 456.90M276.5 456.86L276.5 456.82M276.5 456.82L281.0 456.82M281.0 456.82L281.0 456.86M283.2 456.90L283.2 456.79M283.2 456.79L284.6 456.79M284.6 456.79L284.6 456.90M278.8 456.82L278.8 456.70M278.8 456.70L283.9 456.70M283.9 456.70L283.9 456.79M287.5 456.90L287.5 456.83M287.5 456.83L289.0 456.83M289.0 456.83L289.0 456.90M286.1 456.90L286.1 456.80M286.1 456.80L288.2 456.80M288.2 456.80L288.2 456.83M287.2 456.80L287.2 456.77M287.2 456.77L290.4 456.77M290.4 456.77L290.4 456.90M291.9 456.90L291.9 456.71M291.9 456.71L293.3 456.71M293.3 456.71L293.3 456.90M288.8 456.77L288.8 456.54M288.8 456.54L292.6 456.54M292.6 456.54L292.6 456.71M281.3 456.70L281.3 456.44M281.3 456.44L290.7 456.44M290.7 456.44L290.7 456.54M294.8 456.90L294.8 456.87M294.8 456.87L296.2 456.87M296.2 456.87L296.2 456.90M295.5 456.87L295.5 456.81M295.5 456.81L297.6 456.81M297.6 456.81L297.6 456.90M300.5 456.90L300.5 456.84M300.5 456.84L302.0 456.84M302.0 456.84L302.0 456.90M299.1 456.90L299.1 456.81M299.1 456.81L301.3 456.81M301.3 456.81L301.3 456.84M296.6 456.81L296.6 456.75M296.6 456.75L300.2 456.75M300.2 456.75L300.2 456.81M304.9 456.90L304.9 456.89M304.9 456.89L306.3 456.89M306.3 456.89L306.3 456.90M303.4 456.90L303.4 456.88M303.4 456.88L305.6 456.88M305.6 456.88L305.6 456.89M309.2 456.90L309.2 456.89M309.2 456.89L310.7 456.89M310.7 456.89L310.7 456.90M309.9 456.89L309.9 456.89M309.9 456.89L312.1 456.89M312.1 456.89L312.1 456.90M307.8 456.90L307.8 456.88M307.8 456.88L311.0 456.88M311.0 456.88L311.0 456.89M304.5 456.88L304.5 456.86M304.5 456.86L309.4 456.86M309.4 456.86L309.4 456.88M313.5 456.90L313.5 456.84M313.5 456.84L315.0 456.84M315.0 456.84L315.0 456.90M307.0 456.86L307.0 456.79M307.0 456.79L314.3 456.79M314.3 456.79L314.3 456.84M319.3 456.90L319.3 456.90M319.3 456.90L320.8 456.90M320.8 456.90L320.8 456.90M317.9 456.90L317.9 456.89M317.9 456.89L320.1 456.89M320.1 456.89L320.1 456.90M319.0 456.89L319.0 456.88M319.0 456.88L322.2 456.88M322.2 456.88L322.2 456.90M316.4 456.90L316.4 456.84M316.4 456.84L320.6 456.84M320.6 456.84L320.6 456.88M323.7 456.90L323.7 456.78M323.7 456.78L325.1 456.78M325.1 456.78L325.1 456.90M318.5 456.84L318.5 456.71M318.5 456.71L324.4 456.71M324.4 456.71L324.4 456.78M310.6 456.79L310.6 456.64M310.6 456.64L321.5 456.64M321.5 456.64L321.5 456.71M298.4 456.75L298.4 456.55M298.4 456.55L316.0 456.55M316.0 456.55L316.0 456.64M286.0 456.44L286.0 456.23M286.0 456.23L307.2 456.23M307.2 456.23L307.2 456.55M239.4 456.38L239.4 455.75M239.4 455.75L296.6 455.75M296.6 455.75L296.6 456.23M179.1 455.53L179.1 455.10M179.1 455.10L268.0 455.10M268.0 455.10L268.0 455.75M104.5 455.40L104.5 452.60M104.5 452.60L262.5 452.60M262.5 452.60L262.5 455.10M326.6 456.90L326.6 456.81M326.6 456.81L328.0 456.81M328.0 456.81L328.0 456.90M327.3 456.81L327.3 456.77M327.3 456.77L329.5 456.77M329.5 456.77L329.5 456.90M330.9 456.90L330.9 456.87M330.9 456.87L332.3 456.87M332.3 456.87L332.3 456.90M335.2 456.90L335.2 456.89M335.2 456.89L336.7 456.89M336.7 456.89L336.7 456.90M333.8 456.90L333.8 456.88M333.8 456.88L336.0 456.88M336.0 456.88L336.0 456.89M331.6 456.87L331.6 456.84M331.6 456.84L334.9 456.84M334.9 456.84L334.9 456.88M338.1 456.90L338.1 456.84M338.1 456.84L339.6 456.84M339.6 456.84L339.6 456.90M341.0 456.90L341.0 456.89M341.0 456.89L342.5 456.89M342.5 456.89L342.5 456.90M343.9 456.90L343.9 456.89M343.9 456.89L345.4 456.89M345.4 456.89L345.4 456.90M341.7 456.89L341.7 456.88M341.7 456.88L344.6 456.88M344.6 456.88L344.6 456.89M343.2 456.88L343.2 456.83M343.2 456.83L346.8 456.83M346.8 456.83L346.8 456.90M338.8 456.84L338.8 456.80M338.8 456.80L345.0 456.80M345.0 456.80L345.0 456.83M333.2 456.84L333.2 456.73M333.2 456.73L341.9 456.73M341.9 456.73L341.9 456.80M328.4 456.77L328.4 456.59M328.4 456.59L337.6 456.59M337.6 456.59L337.6 456.73M352.6 456.90L352.6 456.88M352.6 456.88L354.0 456.88M354.0 456.88L354.0 456.90M351.1 456.90L351.1 456.87M351.1 456.87L353.3 456.87M353.3 456.87L353.3 456.88M349.7 456.90L349.7 456.81M349.7 456.81L352.2 456.81M352.2 456.81L352.2 456.87M355.5 456.90L355.5 456.88M355.5 456.88L356.9 456.88M356.9 456.88L356.9 456.90M358.4 456.90L358.4 456.89M358.4 456.89L359.8 456.89M359.8 456.89L359.8 456.90M356.2 456.88L356.2 456.87M356.2 456.87L359.1 456.87M359.1 456.87L359.1 456.89M362.7 456.90L362.7 456.90M362.7 456.90L364.2 456.90M364.2 456.90L364.2 456.90M361.3 456.90L361.3 456.90M361.3 456.90L363.4 456.90M363.4 456.90L363.4 456.90M365.6 456.90L365.6 456.90M365.6 456.90L367.0 456.90M367.0 456.90L367.0 456.90M362.3 456.90L362.3 456.89M362.3 456.89L366.3 456.89M366.3 456.89L366.3 456.90M369.9 456.90L369.9 456.90M369.9 456.90L371.4 456.90M371.4 456.90L371.4 456.90M368.5 456.90L368.5 456.89M368.5 456.89L370.7 456.89M370.7 456.89L370.7 456.90M372.8 456.90L372.8 456.90M372.8 456.90L374.3 456.90M374.3 456.90L374.3 456.90M373.5 456.90L373.5 456.90M373.5 456.90L375.7 456.90M375.7 456.90L375.7 456.90M369.6 456.89L369.6 456.89M369.6 456.89L374.6 456.89M374.6 456.89L374.6 456.90M364.3 456.89L364.3 456.88M364.3 456.88L372.1 456.88M372.1 456.88L372.1 456.89M357.6 456.87L357.6 456.86M357.6 456.86L368.2 456.86M368.2 456.86L368.2 456.88M351.0 456.81L351.0 456.77M351.0 456.77L362.9 456.77M362.9 456.77L362.9 456.86M348.2 456.90L348.2 456.63M348.2 456.63L356.9 456.63M356.9 456.63L356.9 456.77M377.2 456.90L377.2 456.68M377.2 456.68L378.6 456.68M378.6 456.68L378.6 456.90M352.6 456.63L352.6 456.28M352.6 456.28L377.9 456.28M377.9 456.28L377.9 456.68M333.0 456.59L333.0 455.90M333.0 455.90L365.2 455.90M365.2 455.90L365.2 456.28M381.5 456.90L381.5 456.88M381.5 456.88L382.9 456.88M382.9 456.88L382.9 456.90M380.1 456.90L380.1 456.87M380.1 456.87L382.2 456.87M382.2 456.87L382.2 456.88M384.4 456.90L384.4 456.88M384.4 456.88L385.8 456.88M385.8 456.88L385.8 456.90M385.1 456.88L385.1 456.86M385.1 456.86L387.3 456.86M387.3 456.86L387.3 456.90M381.1 456.87L381.1 456.80M381.1 456.80L386.2 456.80M386.2 456.80L386.2 456.86M388.7 456.90L388.7 456.88M388.7 456.88L390.2 456.88M390.2 456.88L390.2 456.90M389.5 456.88L389.5 456.87M389.5 456.87L391.6 456.87M391.6 456.87L391.6 456.90M393.1 456.90L393.1 456.88M393.1 456.88L394.5 456.88M394.5 456.88L394.5 456.90M390.5 456.87L390.5 456.84M390.5 456.84L393.8 456.84M393.8 456.84L393.8 456.88M383.7 456.80L383.7 456.77M383.7 456.77L392.2 456.77M392.2 456.77L392.2 456.84M396.0 456.90L396.0 456.87M396.0 456.87L397.4 456.87M397.4 456.87L397.4 456.90M398.8 456.90L398.8 456.86M398.8 456.86L400.3 456.86M400.3 456.86L400.3 456.90M396.7 456.87L396.7 456.81M396.7 456.81L399.6 456.81M399.6 456.81L399.6 456.86M387.9 456.77L387.9 456.63M387.9 456.63L398.1 456.63M398.1 456.63L398.1 456.81M403.2 456.90L403.2 456.89M403.2 456.89L404.6 456.89M404.6 456.89L404.6 456.90M403.9 456.89L403.9 456.88M403.9 456.88L406.1 456.88M406.1 456.88L406.1 456.90M405.0 456.88L405.0 456.85M405.0 456.85L407.5 456.85M407.5 456.85L407.5 456.90M401.7 456.90L401.7 456.81M401.7 456.81L406.3 456.81M406.3 456.81L406.3 456.85M409.0 456.90L409.0 456.87M409.0 456.87L410.4 456.87M410.4 456.87L410.4 456.90M411.9 456.90L411.9 456.86M411.9 456.86L413.3 456.86M413.3 456.86L413.3 456.90M409.7 456.87L409.7 456.85M409.7 456.85L412.6 456.85M412.6 456.85L412.6 456.86M404.0 456.81L404.0 456.74M404.0 456.74L411.1 456.74M411.1 456.74L411.1 456.85M416.2 456.90L416.2 456.87M416.2 456.87L417.6 456.87M417.6 456.87L417.6 456.90M416.9 456.87L416.9 456.87M416.9 456.87L419.1 456.87M419.1 456.87L419.1 456.90M414.8 456.90L414.8 456.85M414.8 456.85L418.0 456.85M418.0 456.85L418.0 456.87M420.5 456.90L420.5 456.88M420.5 456.88L422.0 456.88M422.0 456.88L422.0 456.90M416.4 456.85L416.4 456.84M416.4 456.84L421.3 456.84M421.3 456.84L421.3 456.88M424.9 456.90L424.9 456.89M424.9 456.89L426.3 456.89M426.3 456.89L426.3 456.90M423.4 456.90L423.4 456.87M423.4 456.87L425.6 456.87M425.6 456.87L425.6 456.89M429.2 456.90L429.2 456.87M429.2 456.87L430.7 456.87M430.7 456.87L430.7 456.90M427.8 456.90L427.8 456.86M427.8 456.86L429.9 456.86M429.9 456.86L429.9 456.87M424.5 456.87L424.5 456.84M424.5 456.84L428.8 456.84M428.8 456.84L428.8 456.86M433.5 456.90L433.5 456.89M433.5 456.89L435.0 456.89M435.0 456.89L435.0 456.90M432.1 456.90L432.1 456.89M432.1 456.89L434.3 456.89M434.3 456.89L434.3 456.89M436.4 456.90L436.4 456.89M436.4 456.89L437.9 456.89M437.9 456.89L437.9 456.90M437.2 456.89L437.2 456.89M437.2 456.89L439.3 456.89M439.3 456.89L439.3 456.90M433.2 456.89L433.2 456.88M433.2 456.88L438.2 456.88M438.2 456.88L438.2 456.89M435.7 456.88L435.7 456.86M435.7 456.86L440.8 456.86M440.8 456.86L440.8 456.90M438.2 456.86L438.2 456.83M438.2 456.83L442.2 456.83M442.2 456.83L442.2 456.90M426.7 456.84L426.7 456.81M426.7 456.81L440.2 456.81M440.2 456.81L440.2 456.83M418.8 456.84L418.8 456.75M418.8 456.75L433.5 456.75M433.5 456.75L433.5 456.81M407.6 456.74L407.6 456.63M407.6 456.63L426.1 456.63M426.1 456.63L426.1 456.75M393.0 456.63L393.0 456.50M393.0 456.50L416.9 456.50M416.9 456.50L416.9 456.63M443.7 456.90L443.7 456.81M443.7 456.81L445.1 456.81M445.1 456.81L445.1 456.90M446.6 456.90L446.6 456.78M446.6 456.78L448.0 456.78M448.0 456.78L448.0 456.90M444.4 456.81L444.4 456.67M444.4 456.67L447.3 456.67M447.3 456.67L447.3 456.78M445.8 456.67L445.8 456.41M445.8 456.41L449.4 456.41M449.4 456.41L449.4 456.90M447.6 456.41L447.6 456.22M447.6 456.22L450.9 456.22M450.9 456.22L450.9 456.90M404.9 456.50L404.9 455.70M404.9 455.70L449.3 455.70M449.3 455.70L449.3 456.22M427.1 455.70L404.7 455.70M349.7 455.90L349.7 454.80M349.7 454.80L404.7 454.80M404.7 454.80L404.7 455.70M452.3 456.90L452.3 456.76M452.3 456.76L453.8 456.76M453.8 456.76L453.8 456.90M455.2 456.90L455.2 456.86M455.2 456.86L456.7 456.86M456.7 456.86L456.7 456.90M456.0 456.86L456.0 456.82M456.0 456.82L458.1 456.82M458.1 456.82L458.1 456.90M453.1 456.76L453.1 456.71M453.1 456.71L457.0 456.71M457.0 456.71L457.0 456.82M459.6 456.90L459.6 456.84M459.6 456.84L461.0 456.84M461.0 456.84L461.0 456.90M462.5 456.90L462.5 456.88M462.5 456.88L463.9 456.88M463.9 456.88L463.9 456.90M466.8 456.90L466.8 456.90M466.8 456.90L468.2 456.90M468.2 456.90L468.2 456.90M467.5 456.90L467.5 456.90M467.5 456.90L469.7 456.90M469.7 456.90L469.7 456.90M465.4 456.90L465.4 456.89M465.4 456.89L468.6 456.89M468.6 456.89L468.6 456.90M467.0 456.89L467.0 456.88M467.0 456.88L471.1 456.88M471.1 456.88L471.1 456.90M474.0 456.90L474.0 456.90M474.0 456.90L475.5 456.90M475.5 456.90L475.5 456.90M474.8 456.90L474.8 456.89M474.8 456.89L476.9 456.89M476.9 456.89L476.9 456.90M472.6 456.90L472.6 456.89M472.6 456.89L475.8 456.89M475.8 456.89L475.8 456.89M469.1 456.88L469.1 456.87M469.1 456.87L474.2 456.87M474.2 456.87L474.2 456.89M463.2 456.88L463.2 456.85M463.2 456.85L471.6 456.85M471.6 456.85L471.6 456.87M460.3 456.84L460.3 456.80M460.3 456.80L467.4 456.80M467.4 456.80L467.4 456.85M455.1 456.71L455.1 456.62M455.1 456.62L463.9 456.62M463.9 456.62L463.9 456.80M478.4 456.90L478.4 456.84M478.4 456.84L479.8 456.84M479.8 456.84L479.8 456.90M481.3 456.90L481.3 456.83M481.3 456.83L482.7 456.83M482.7 456.83L482.7 456.90M479.1 456.84L479.1 456.77M479.1 456.77L482.0 456.77M482.0 456.77L482.0 456.83M485.6 456.90L485.6 456.75M485.6 456.75L487.0 456.75M487.0 456.75L487.0 456.90M484.1 456.90L484.1 456.69M484.1 456.69L486.3 456.69M486.3 456.69L486.3 456.75M480.5 456.77L480.5 456.61M480.5 456.61L485.2 456.61M485.2 456.61L485.2 456.69M459.5 456.62L459.5 456.35M459.5 456.35L482.9 456.35M482.9 456.35L482.9 456.61M488.5 456.90L488.5 456.82M488.5 456.82L489.9 456.82M489.9 456.82L489.9 456.90M492.8 456.90L492.8 456.90M492.8 456.90L494.3 456.90M494.3 456.90L494.3 456.90M493.5 456.90L493.5 456.89M493.5 456.89L495.7 456.89M495.7 456.89L495.7 456.90M491.4 456.90L491.4 456.87M491.4 456.87L494.6 456.87M494.6 456.87L494.6 456.89M497.2 456.90L497.2 456.89M497.2 456.89L498.6 456.89M498.6 456.89L498.6 456.90M497.9 456.89L497.9 456.88M497.9 456.88L500.1 456.88M500.1 456.88L500.1 456.90M499.0 456.88L499.0 456.85M499.0 456.85L501.5 456.85M501.5 456.85L501.5 456.90M493.0 456.87L493.0 456.82M493.0 456.82L500.2 456.82M500.2 456.82L500.2 456.85M489.2 456.82L489.2 456.75M489.2 456.75L496.6 456.75M496.6 456.75L496.6 456.82M502.9 456.90L502.9 456.89M502.9 456.89L504.4 456.89M504.4 456.89L504.4 456.90M505.8 456.90L505.8 456.90M505.8 456.90L507.3 456.90M507.3 456.90L507.3 456.90M506.6 456.90L506.6 456.89M506.6 456.89L508.7 456.89M508.7 456.89L508.7 456.90M503.7 456.89L503.7 456.89M503.7 456.89L507.6 456.89M507.6 456.89L507.6 456.89M510.2 456.90L510.2 456.90M510.2 456.90L511.6 456.90M511.6 456.90L511.6 456.90M510.9 456.90L510.9 456.89M510.9 456.89L513.1 456.89M513.1 456.89L513.1 456.90M505.7 456.89L505.7 456.88M505.7 456.88L512.0 456.88M512.0 456.88L512.0 456.89M514.5 456.90L514.5 456.87M514.5 456.87L516.0 456.87M516.0 456.87L516.0 456.90M508.8 456.88L508.8 456.86M508.8 456.86L515.2 456.86M515.2 456.86L515.2 456.87M517.4 456.90L517.4 456.87M517.4 456.87L518.8 456.87M518.8 456.87L518.8 456.90M512.0 456.86L512.0 456.85M512.0 456.85L518.1 456.85M518.1 456.85L518.1 456.87M520.3 456.90L520.3 456.81M520.3 456.81L521.7 456.81M521.7 456.81L521.7 456.90M515.1 456.85L515.1 456.77M515.1 456.77L521.0 456.77M521.0 456.77L521.0 456.81M492.9 456.75L492.9 456.55M492.9 456.55L518.0 456.55M518.0 456.55L518.0 456.77M526.1 456.90L526.1 456.75M526.1 456.75L527.5 456.75M527.5 456.75L527.5 456.90M526.8 456.75L526.8 456.67M526.8 456.67L529.0 456.67M529.0 456.67L529.0 456.90M524.6 456.90L524.6 456.39M524.6 456.39L527.9 456.39M527.9 456.39L527.9 456.67M523.2 456.90L523.2 456.18M523.2 456.18L526.3 456.18M526.3 456.18L526.3 456.39M505.5 456.55L505.5 455.86M505.5 455.86L524.7 455.86M524.7 455.86L524.7 456.18M471.2 456.35L471.2 455.60M471.2 455.60L515.1 455.60M515.1 455.60L515.1 455.86M533.3 456.90L533.3 456.89M533.3 456.89L534.7 456.89M534.7 456.89L534.7 456.90M531.9 456.90L531.9 456.88M531.9 456.88L534.0 456.88M534.0 456.88L534.0 456.89M536.2 456.90L536.2 456.86M536.2 456.86L537.6 456.86M537.6 456.86L537.6 456.90M532.9 456.88L532.9 456.84M532.9 456.84L536.9 456.84M536.9 456.84L536.9 456.86M530.4 456.90L530.4 456.81M530.4 456.81L534.9 456.81M534.9 456.81L534.9 456.84M540.5 456.90L540.5 456.88M540.5 456.88L542.0 456.88M542.0 456.88L542.0 456.90M539.1 456.90L539.1 456.85M539.1 456.85L541.3 456.85M541.3 456.85L541.3 456.88M540.2 456.85L540.2 456.82M540.2 456.82L543.4 456.82M543.4 456.82L543.4 456.90M532.7 456.81L532.7 456.70M532.7 456.70L541.8 456.70M541.8 456.70L541.8 456.82M544.9 456.90L544.9 456.69M544.9 456.69L546.3 456.69M546.3 456.69L546.3 456.90M547.8 456.90L547.8 456.84M547.8 456.84L549.2 456.84M549.2 456.84L549.2 456.90M550.7 456.90L550.7 456.87M550.7 456.87L552.1 456.87M552.1 456.87L552.1 456.90M553.5 456.90L553.5 456.87M553.5 456.87L555.0 456.87M555.0 456.87L555.0 456.90M551.4 456.87L551.4 456.85M551.4 456.85L554.3 456.85M554.3 456.85L554.3 456.87M556.4 456.90L556.4 456.85M556.4 456.85L557.9 456.85M557.9 456.85L557.9 456.90M552.8 456.85L552.8 456.83M552.8 456.83L557.2 456.83M557.2 456.83L557.2 456.85M548.5 456.84L548.5 456.81M548.5 456.81L555.0 456.81M555.0 456.81L555.0 456.83M545.6 456.69L545.6 456.60M545.6 456.60L551.7 456.60M551.7 456.60L551.7 456.81M537.2 456.70L537.2 456.53M537.2 456.53L548.7 456.53M548.7 456.53L548.7 456.60M563.7 456.90L563.7 456.81M563.7 456.81L565.1 456.81M565.1 456.81L565.1 456.90M562.2 456.90L562.2 456.78M562.2 456.78L564.4 456.78M564.4 456.78L564.4 456.81M560.8 456.90L560.8 456.70M560.8 456.70L563.3 456.70M563.3 456.70L563.3 456.78M559.3 456.90L559.3 456.64M559.3 456.64L562.0 456.64M562.0 456.64L562.0 456.70M566.6 456.90L566.6 456.83M566.6 456.83L568.0 456.83M568.0 456.83L568.0 456.90M567.3 456.83L567.3 456.75M567.3 456.75L569.4 456.75M569.4 456.75L569.4 456.90M572.3 456.90L572.3 456.86M572.3 456.86L573.8 456.86M573.8 456.86L573.8 456.90M570.9 456.90L570.9 456.81M570.9 456.81L573.1 456.81M573.1 456.81L573.1 456.86M568.4 456.75L568.4 456.67M568.4 456.67L572.0 456.67M572.0 456.67L572.0 456.81M560.7 456.64L560.7 456.53M560.7 456.53L570.2 456.53M570.2 456.53L570.2 456.67M576.7 456.90L576.7 456.88M576.7 456.88L578.1 456.88M578.1 456.88L578.1 456.90M577.4 456.88L577.4 456.87M577.4 456.87L579.6 456.87M579.6 456.87L579.6 456.90M575.2 456.90L575.2 456.85M575.2 456.85L578.5 456.85M578.5 456.85L578.5 456.87M576.9 456.85L576.9 456.78M576.9 456.78L581.0 456.78M581.0 456.78L581.0 456.90M582.5 456.90L582.5 456.72M582.5 456.72L583.9 456.72M583.9 456.72L583.9 456.90M578.9 456.78L578.9 456.65M578.9 456.65L583.2 456.65M583.2 456.65L583.2 456.72M585.4 456.90L585.4 456.87M585.4 456.87L586.8 456.87M586.8 456.87L586.8 456.90M586.1 456.87L586.1 456.80M586.1 456.80L588.2 456.80M588.2 456.80L588.2 456.90M591.1 456.90L591.1 456.89M591.1 456.89L592.6 456.89M592.6 456.89L592.6 456.90M591.9 456.89L591.9 456.89M591.9 456.89L594.0 456.89M594.0 456.89L594.0 456.90M592.9 456.89L592.9 456.87M592.9 456.87L595.5 456.87M595.5 456.87L595.5 456.90M589.7 456.90L589.7 456.84M589.7 456.84L594.2 456.84M594.2 456.84L594.2 456.87M587.2 456.80L587.2 456.77M587.2 456.77L591.9 456.77M591.9 456.77L591.9 456.84M581.1 456.65L581.1 456.54M581.1 456.54L589.6 456.54M589.6 456.54L589.6 456.77M565.4 456.53L565.4 456.39M565.4 456.39L585.3 456.39M585.3 456.39L585.3 456.54M542.9 456.53L542.9 455.88M542.9 455.88L575.4 455.88M575.4 455.88L575.4 456.39M596.9 456.90L596.9 456.88M596.9 456.88L598.4 456.88M598.4 456.88L598.4 456.90M597.6 456.88L597.6 456.85M597.6 456.85L599.8 456.85M599.8 456.85L599.8 456.90M598.7 456.85L598.7 456.80M598.7 456.80L601.3 456.80M601.3 456.80L601.3 456.90M602.7 456.90L602.7 456.85M602.7 456.85L604.1 456.85M604.1 456.85L604.1 456.90M607.0 456.90L607.0 456.88M607.0 456.88L608.5 456.88M608.5 456.88L608.5 456.90M605.6 456.90L605.6 456.87M605.6 456.87L607.8 456.87M607.8 456.87L607.8 456.88M603.4 456.85L603.4 456.83M603.4 456.83L606.7 456.83M606.7 456.83L606.7 456.87M609.9 456.90L609.9 456.84M609.9 456.84L611.4 456.84M611.4 456.84L611.4 456.90M605.0 456.83L605.0 456.77M605.0 456.77L610.7 456.77M610.7 456.77L610.7 456.84M600.0 456.80L600.0 456.72M600.0 456.72L607.8 456.72M607.8 456.72L607.8 456.77M612.8 456.90L612.8 456.83M612.8 456.83L614.3 456.83M614.3 456.83L614.3 456.90M617.2 456.90L617.2 456.88M617.2 456.88L618.6 456.88M618.6 456.88L618.6 456.90M617.9 456.88L617.9 456.86M617.9 456.86L620.0 456.86M620.0 456.86L620.0 456.90M615.7 456.90L615.7 456.82M615.7 456.82L619.0 456.82M619.0 456.82L619.0 456.86M613.5 456.83L613.5 456.77M613.5 456.77L617.3 456.77M617.3 456.77L617.3 456.82M603.9 456.72L603.9 456.51M603.9 456.51L615.4 456.51M615.4 456.51L615.4 456.77M621.5 456.90L621.5 456.57M621.5 456.57L622.9 456.57M622.9 456.57L622.9 456.90M624.4 456.90L624.4 456.82M624.4 456.82L625.8 456.82M625.8 456.82L625.8 456.90M625.1 456.82L625.1 456.70M625.1 456.70L627.3 456.70M627.3 456.70L627.3 456.90M622.2 456.57L622.2 456.35M622.2 456.35L626.2 456.35M626.2 456.35L626.2 456.70M609.7 456.51L609.7 456.07M609.7 456.07L624.2 456.07M624.2 456.07L624.2 456.35M559.2 455.88L559.2 455.50M559.2 455.50L616.9 455.50M616.9 455.50L616.9 456.07M484.0 455.60L484.0 454.00M484.0 454.00L575.2 454.00M575.2 454.00L575.2 455.50M377.2 454.80L377.2 448.10M377.2 448.10L529.6 448.10M529.6 448.10L529.6 454.00M183.5 452.60L183.5 438.10M183.5 438.10L453.4 438.10M453.4 438.10L453.4 448.10" stroke="#6a6a6a" stroke-width="0.55" fill="none"/>
<line x1="49.7" y1="456.6" x2="628" y2="456.6" stroke="#3a3a3a" stroke-width="0.75" opacity="0.85"/>
<path d="M42.80 219.6L36.79 219.6M36.79 219.6L36.79 224.8M36.79 224.8L42.80 224.8M42.80 229.9L37.35 229.9M37.35 229.9L37.35 235.1M37.35 235.1L42.80 235.1M36.79 222.2L36.30 222.2M36.30 222.2L36.30 232.5M36.30 232.5L37.35 232.5M42.80 240.3L38.06 240.3M38.06 240.3L38.06 245.5M38.06 245.5L42.80 245.5M38.06 242.9L37.41 242.9M37.41 242.9L37.41 250.6M37.41 250.6L42.80 250.6M37.41 246.8L35.81 246.8M35.81 246.8L35.81 255.8M35.81 255.8L42.80 255.8M42.80 266.2L38.38 266.2M38.38 266.2L38.38 271.3M38.38 271.3L42.80 271.3M42.80 261.0L38.07 261.0M38.07 261.0L38.07 268.8M38.07 268.8L38.38 268.8M38.07 264.9L37.04 264.9M37.04 264.9L37.04 276.5M37.04 276.5L42.80 276.5M35.81 251.3L35.37 251.3M35.37 251.3L35.37 270.7M35.37 270.7L37.04 270.7M42.80 281.7L37.41 281.7M37.41 281.7L37.41 286.9M37.41 286.9L42.80 286.9M42.80 292.0L38.46 292.0M38.46 292.0L38.46 297.2M38.46 297.2L42.80 297.2M42.80 302.4L37.79 302.4M37.79 302.4L37.79 307.6M37.79 307.6L42.80 307.6M38.46 294.6L37.47 294.6M37.47 294.6L37.47 305.0M37.47 305.0L37.79 305.0M37.41 284.3L36.38 284.3M36.38 284.3L36.38 299.8M36.38 299.8L37.47 299.8M42.80 312.7L36.38 312.7M36.38 312.7L36.38 317.9M36.38 317.9L42.80 317.9M36.38 292.0L35.69 292.0M35.69 292.0L35.69 315.3M35.69 315.3L36.38 315.3M35.37 261.0L34.80 261.0M34.80 261.0L34.80 303.7M34.80 303.7L35.69 303.7M36.30 223.5L33.80 223.5M33.80 223.5L33.80 265.5M33.80 265.5L34.80 265.5M42.80 323.1L36.22 323.1M36.22 323.1L36.22 328.3M36.22 328.3L42.80 328.3M42.80 338.6L37.00 338.6M37.00 338.6L37.00 343.8M37.00 343.8L42.80 343.8M42.80 333.4L36.33 333.4M36.33 333.4L36.33 341.2M36.33 341.2L37.00 341.2M36.22 325.7L35.11 325.7M35.11 325.7L35.11 337.3M35.11 337.3L36.33 337.3M42.80 349.0L37.78 349.0M37.78 349.0L37.78 354.1M37.78 354.1L42.80 354.1M37.78 351.5L36.30 351.5M36.30 351.5L36.30 359.3M36.30 359.3L42.80 359.3M35.11 331.5L34.30 331.5M34.30 331.5L34.30 355.4M34.30 355.4L36.30 355.4M42.80 369.7L38.59 369.7M38.59 369.7L38.59 374.8M38.59 374.8L42.80 374.8M38.59 372.2L38.01 372.2M38.01 372.2L38.01 380.0M38.01 380.0L42.80 380.0M42.80 364.5L36.49 364.5M36.49 364.5L36.49 376.1M36.49 376.1L38.01 376.1M42.80 385.2L35.23 385.2M35.23 385.2L35.23 390.4M35.23 390.4L42.80 390.4M36.49 370.3L34.59 370.3M34.59 370.3L34.59 387.8M34.59 387.8L35.23 387.8M42.80 395.5L35.27 395.5M35.27 395.5L35.27 400.7M35.27 400.7L42.80 400.7M35.27 398.1L34.86 398.1M34.86 398.1L34.86 405.9M34.86 405.9L42.80 405.9M42.80 411.1L37.81 411.1M37.81 411.1L37.81 416.2M37.81 416.2L42.80 416.2M37.81 413.6L36.22 413.6M36.22 413.6L36.22 421.4M36.22 421.4L42.80 421.4M34.86 402.0L34.42 402.0M34.42 402.0L34.42 417.5M34.42 417.5L36.22 417.5M34.59 379.0L33.00 379.0M33.00 379.0L33.00 409.8M33.00 409.8L34.42 409.8M34.30 350.4L30.00 350.4M30.00 350.4L30.00 397.4M30.00 397.4L33.00 397.4M33.80 244.5L22.40 244.5M22.40 244.5L22.40 373.9M22.40 373.9L30.00 373.9" stroke="#6a6a6a" stroke-width="0.55" fill="none"/>
<path d="M45.00 460.8L39.52 460.8M39.52 460.8L39.52 467.5M39.52 467.5L45.00 467.5M39.52 464.2L38.92 464.2M38.92 464.2L38.92 474.2M38.92 474.2L45.00 474.2M45.00 494.3L40.93 494.3M40.93 494.3L40.93 501.0M40.93 501.0L45.00 501.0M45.00 487.6L40.74 487.6M40.74 487.6L40.74 497.7M40.74 497.7L40.93 497.7M45.00 507.7L40.85 507.7M40.85 507.7L40.85 514.4M40.85 514.4L45.00 514.4M40.74 492.7L40.51 492.7M40.51 492.7L40.51 511.1M40.51 511.1L40.85 511.1M45.00 480.9L39.60 480.9M39.60 480.9L39.60 501.9M39.60 501.9L40.51 501.9M38.92 469.2L38.52 469.2M38.52 469.2L38.52 491.4M38.52 491.4L39.60 491.4M45.00 521.1L38.47 521.1M38.47 521.1L38.47 527.8M38.47 527.8L45.00 527.8M38.52 480.3L37.50 480.3M37.50 480.3L37.50 524.5M37.50 524.5L38.47 524.5M45.00 541.2L39.86 541.2M39.86 541.2L39.86 547.9M39.86 547.9L45.00 547.9M45.00 534.5L39.50 534.5M39.50 534.5L39.50 544.6M39.50 544.6L39.86 544.6M45.00 561.3L40.93 561.3M40.93 561.3L40.93 568.0M40.93 568.0L45.00 568.0M45.00 554.6L40.32 554.6M40.32 554.6L40.32 564.6M40.32 564.6L40.93 564.6M40.32 559.6L39.95 559.6M39.95 559.6L39.95 574.7M39.95 574.7L45.00 574.7M45.00 581.4L39.58 581.4M39.58 581.4L39.58 588.1M39.58 588.1L45.00 588.1M39.95 567.2L38.99 567.2M38.99 567.2L38.99 584.7M38.99 584.7L39.58 584.7M38.99 575.9L38.74 575.9M38.74 575.9L38.74 594.8M38.74 594.8L45.00 594.8M45.00 614.9L40.07 614.9M40.07 614.9L40.07 621.6M40.07 621.6L45.00 621.6M45.00 608.2L39.83 608.2M39.83 608.2L39.83 618.2M39.83 618.2L40.07 618.2M45.00 601.5L39.43 601.5M39.43 601.5L39.43 613.2M39.43 613.2L39.83 613.2M45.00 628.3L39.65 628.3M39.65 628.3L39.65 635.0M39.65 635.0L45.00 635.0M39.43 607.3L38.60 607.3M38.60 607.3L38.60 631.6M38.60 631.6L39.65 631.6M45.00 641.7L39.98 641.7M39.98 641.7L39.98 648.4M39.98 648.4L45.00 648.4M45.00 655.1L39.24 655.1M39.24 655.1L39.24 661.8M39.24 661.8L45.00 661.8M39.98 645.0L38.95 645.0M38.95 645.0L38.95 658.4M38.95 658.4L39.24 658.4M38.60 619.5L37.89 619.5M37.89 619.5L37.89 651.7M37.89 651.7L38.95 651.7M38.74 585.4L37.50 585.4M37.50 585.4L37.50 635.6M37.50 635.6L37.89 635.6M37.50 610.5L37.50 582.9M39.50 537.6L35.40 537.6M35.40 537.6L35.40 582.9M35.40 582.9L37.50 582.9M37.50 494.2L25.10 494.2M25.10 494.2L25.10 560.2M25.10 560.2L35.40 560.2" stroke="#6a6a6a" stroke-width="0.55" fill="none"/>
</svg>
</body></html>
